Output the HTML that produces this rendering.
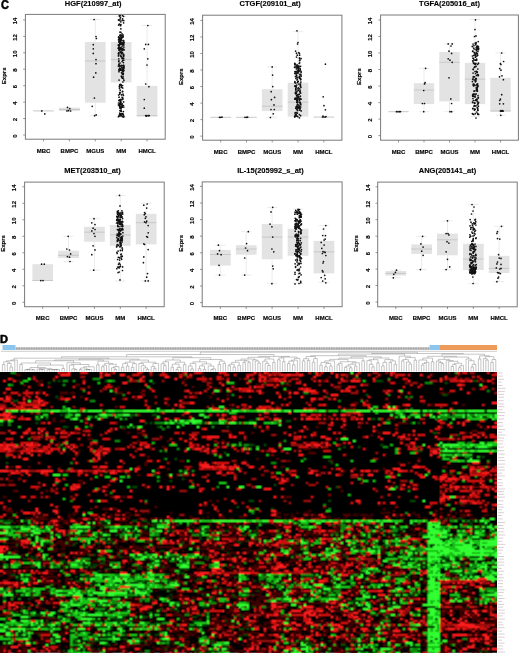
<!DOCTYPE html>
<html><head><meta charset="utf-8"><style>
html,body{margin:0;padding:0;background:#fff;}
body{width:520px;height:653px;position:relative;overflow:hidden;font-family:"Liberation Sans", sans-serif;}
svg text{font-family:"Liberation Sans", sans-serif;}
svg{will-change:transform;}
</style></head><body>
<svg width="520" height="653" viewBox="0 0 520 653" style="position:absolute;left:0;top:0">
<defs><filter id="hb" x="0" y="0" width="1" height="1"><feConvolveMatrix order="3" kernelMatrix="1 2 1 2 6 2 1 2 1" divisor="18" edgeMode="duplicate"/></filter></defs>
<line x1="33.2" y1="110.9" x2="53.9" y2="110.9" stroke="#c8c8c8" stroke-width="1"/>
<rect x="59.1" y="107.6" width="20.7" height="3.5" fill="#e3e3e3"/>
<line x1="59.1" y1="109.5" x2="79.8" y2="109.5" stroke="#c8c8c8" stroke-width="1"/>
<line x1="95.3" y1="19.5" x2="95.3" y2="42.0" stroke="#e6e6e6" stroke-width="0.8"/>
<line x1="90.1" y1="19.5" x2="100.5" y2="19.5" stroke="#e6e6e6" stroke-width="0.8"/>
<line x1="95.3" y1="102.7" x2="95.3" y2="115.7" stroke="#e6e6e6" stroke-width="0.8"/>
<line x1="90.1" y1="115.7" x2="100.5" y2="115.7" stroke="#e6e6e6" stroke-width="0.8"/>
<rect x="84.9" y="42.0" width="20.7" height="60.7" fill="#e3e3e3"/>
<line x1="84.9" y1="61.0" x2="105.7" y2="61.0" stroke="#c8c8c8" stroke-width="1"/>
<line x1="121.2" y1="16.5" x2="121.2" y2="42.0" stroke="#e6e6e6" stroke-width="0.8"/>
<line x1="116.0" y1="16.5" x2="126.4" y2="16.5" stroke="#e6e6e6" stroke-width="0.8"/>
<line x1="121.2" y1="82.4" x2="121.2" y2="117.0" stroke="#e6e6e6" stroke-width="0.8"/>
<line x1="116.0" y1="117.0" x2="126.4" y2="117.0" stroke="#e6e6e6" stroke-width="0.8"/>
<rect x="110.8" y="42.0" width="20.7" height="40.4" fill="#e3e3e3"/>
<line x1="110.8" y1="59.6" x2="131.5" y2="59.6" stroke="#c8c8c8" stroke-width="1"/>
<line x1="147.1" y1="25.5" x2="147.1" y2="85.9" stroke="#e6e6e6" stroke-width="0.8"/>
<line x1="141.9" y1="25.5" x2="152.3" y2="25.5" stroke="#e6e6e6" stroke-width="0.8"/>
<rect x="136.7" y="85.9" width="20.7" height="30.7" fill="#e3e3e3"/>
<line x1="136.7" y1="115.6" x2="157.4" y2="115.6" stroke="#c8c8c8" stroke-width="1"/>
<circle cx="41.8" cy="110.9" r="0.85" fill="#111"/>
<circle cx="44.8" cy="113.9" r="0.85" fill="#111"/>
<circle cx="67.5" cy="107.4" r="0.85" fill="#111"/>
<circle cx="69.8" cy="108.6" r="0.85" fill="#111"/>
<circle cx="68.6" cy="110.6" r="0.85" fill="#111"/>
<circle cx="70.6" cy="111.0" r="0.85" fill="#111"/>
<circle cx="67.0" cy="110.9" r="0.85" fill="#111"/>
<circle cx="94.1" cy="19.5" r="0.85" fill="#111"/>
<circle cx="96.0" cy="36.6" r="0.85" fill="#111"/>
<circle cx="96.4" cy="38.5" r="0.85" fill="#111"/>
<circle cx="93.3" cy="44.7" r="0.85" fill="#111"/>
<circle cx="93.3" cy="48.8" r="0.85" fill="#111"/>
<circle cx="93.3" cy="53.4" r="0.85" fill="#111"/>
<circle cx="96.0" cy="59.6" r="0.85" fill="#111"/>
<circle cx="96.0" cy="63.7" r="0.85" fill="#111"/>
<circle cx="95.8" cy="72.9" r="0.85" fill="#111"/>
<circle cx="93.6" cy="77.2" r="0.85" fill="#111"/>
<circle cx="94.4" cy="98.1" r="0.85" fill="#111"/>
<circle cx="92.2" cy="106.3" r="0.85" fill="#111"/>
<circle cx="94.6" cy="115.7" r="0.85" fill="#111"/>
<circle cx="96.2" cy="114.9" r="0.85" fill="#111"/>
<circle cx="147.8" cy="25.5" r="0.85" fill="#111"/>
<circle cx="145.7" cy="44.4" r="0.85" fill="#111"/>
<circle cx="148.4" cy="44.4" r="0.85" fill="#111"/>
<circle cx="144.3" cy="48.8" r="0.85" fill="#111"/>
<circle cx="147.8" cy="58.8" r="0.85" fill="#111"/>
<circle cx="147.0" cy="65.0" r="0.85" fill="#111"/>
<circle cx="145.7" cy="84.0" r="0.85" fill="#111"/>
<circle cx="148.9" cy="86.7" r="0.85" fill="#111"/>
<circle cx="144.3" cy="99.5" r="0.85" fill="#111"/>
<circle cx="144.3" cy="108.2" r="0.85" fill="#111"/>
<circle cx="145.7" cy="115.7" r="0.85" fill="#111"/>
<circle cx="147.0" cy="115.7" r="0.85" fill="#111"/>
<circle cx="148.4" cy="115.7" r="0.85" fill="#111"/>
<circle cx="146.3" cy="115.9" r="0.85" fill="#111"/>
<circle cx="149.2" cy="115.6" r="0.85" fill="#111"/>
<circle cx="122.0" cy="40.6" r="0.85" fill="#111"/>
<circle cx="120.4" cy="25.7" r="0.85" fill="#111"/>
<circle cx="118.6" cy="25.1" r="0.85" fill="#111"/>
<circle cx="118.9" cy="37.6" r="0.85" fill="#111"/>
<circle cx="119.1" cy="65.6" r="0.85" fill="#111"/>
<circle cx="123.7" cy="58.2" r="0.85" fill="#111"/>
<circle cx="123.9" cy="49.7" r="0.85" fill="#111"/>
<circle cx="120.0" cy="32.2" r="0.85" fill="#111"/>
<circle cx="120.1" cy="39.4" r="0.85" fill="#111"/>
<circle cx="121.7" cy="77.4" r="0.85" fill="#111"/>
<circle cx="121.5" cy="48.8" r="0.85" fill="#111"/>
<circle cx="119.6" cy="16.2" r="0.85" fill="#111"/>
<circle cx="120.2" cy="84.8" r="0.85" fill="#111"/>
<circle cx="120.1" cy="51.8" r="0.85" fill="#111"/>
<circle cx="119.8" cy="93.0" r="0.85" fill="#111"/>
<circle cx="123.3" cy="54.4" r="0.85" fill="#111"/>
<circle cx="123.9" cy="80.6" r="0.85" fill="#111"/>
<circle cx="122.6" cy="50.5" r="0.85" fill="#111"/>
<circle cx="118.6" cy="53.1" r="0.85" fill="#111"/>
<circle cx="121.6" cy="94.9" r="0.85" fill="#111"/>
<circle cx="122.3" cy="103.9" r="0.85" fill="#111"/>
<circle cx="121.0" cy="56.5" r="0.85" fill="#111"/>
<circle cx="121.1" cy="107.7" r="0.85" fill="#111"/>
<circle cx="122.3" cy="73.8" r="0.85" fill="#111"/>
<circle cx="123.0" cy="71.7" r="0.85" fill="#111"/>
<circle cx="122.1" cy="49.3" r="0.85" fill="#111"/>
<circle cx="119.3" cy="24.2" r="0.85" fill="#111"/>
<circle cx="122.7" cy="37.2" r="0.85" fill="#111"/>
<circle cx="120.6" cy="44.2" r="0.85" fill="#111"/>
<circle cx="120.9" cy="102.5" r="0.85" fill="#111"/>
<circle cx="123.0" cy="67.7" r="0.85" fill="#111"/>
<circle cx="120.7" cy="103.7" r="0.85" fill="#111"/>
<circle cx="123.8" cy="67.7" r="0.85" fill="#111"/>
<circle cx="119.7" cy="41.5" r="0.85" fill="#111"/>
<circle cx="121.7" cy="52.9" r="0.85" fill="#111"/>
<circle cx="120.7" cy="35.2" r="0.85" fill="#111"/>
<circle cx="123.7" cy="56.0" r="0.85" fill="#111"/>
<circle cx="121.9" cy="87.5" r="0.85" fill="#111"/>
<circle cx="123.4" cy="73.6" r="0.85" fill="#111"/>
<circle cx="122.9" cy="98.2" r="0.85" fill="#111"/>
<circle cx="119.0" cy="49.8" r="0.85" fill="#111"/>
<circle cx="118.8" cy="37.3" r="0.85" fill="#111"/>
<circle cx="120.3" cy="41.0" r="0.85" fill="#111"/>
<circle cx="119.2" cy="15.0" r="0.85" fill="#111"/>
<circle cx="118.5" cy="48.5" r="0.85" fill="#111"/>
<circle cx="119.2" cy="105.7" r="0.85" fill="#111"/>
<circle cx="120.4" cy="47.9" r="0.85" fill="#111"/>
<circle cx="124.0" cy="66.4" r="0.85" fill="#111"/>
<circle cx="118.9" cy="52.9" r="0.85" fill="#111"/>
<circle cx="119.9" cy="47.7" r="0.85" fill="#111"/>
<circle cx="118.5" cy="103.0" r="0.85" fill="#111"/>
<circle cx="119.2" cy="115.1" r="0.85" fill="#111"/>
<circle cx="121.4" cy="36.0" r="0.85" fill="#111"/>
<circle cx="122.3" cy="116.5" r="0.85" fill="#111"/>
<circle cx="119.3" cy="48.6" r="0.85" fill="#111"/>
<circle cx="122.8" cy="88.0" r="0.85" fill="#111"/>
<circle cx="122.9" cy="43.3" r="0.85" fill="#111"/>
<circle cx="122.9" cy="116.4" r="0.85" fill="#111"/>
<circle cx="119.7" cy="94.2" r="0.85" fill="#111"/>
<circle cx="118.6" cy="48.2" r="0.85" fill="#111"/>
<circle cx="119.9" cy="20.6" r="0.85" fill="#111"/>
<circle cx="120.9" cy="100.7" r="0.85" fill="#111"/>
<circle cx="123.7" cy="117.0" r="0.85" fill="#111"/>
<circle cx="119.7" cy="43.2" r="0.85" fill="#111"/>
<circle cx="121.9" cy="42.6" r="0.85" fill="#111"/>
<circle cx="121.1" cy="107.0" r="0.85" fill="#111"/>
<circle cx="118.9" cy="64.6" r="0.85" fill="#111"/>
<circle cx="122.8" cy="99.3" r="0.85" fill="#111"/>
<circle cx="119.4" cy="86.3" r="0.85" fill="#111"/>
<circle cx="122.9" cy="82.0" r="0.85" fill="#111"/>
<circle cx="120.6" cy="114.6" r="0.85" fill="#111"/>
<circle cx="119.4" cy="115.9" r="0.85" fill="#111"/>
<circle cx="123.5" cy="40.6" r="0.85" fill="#111"/>
<circle cx="123.0" cy="76.4" r="0.85" fill="#111"/>
<circle cx="120.4" cy="115.6" r="0.85" fill="#111"/>
<circle cx="118.5" cy="39.8" r="0.85" fill="#111"/>
<circle cx="121.3" cy="115.6" r="0.85" fill="#111"/>
<circle cx="123.3" cy="114.7" r="0.85" fill="#111"/>
<circle cx="119.8" cy="103.3" r="0.85" fill="#111"/>
<circle cx="121.7" cy="43.9" r="0.85" fill="#111"/>
<circle cx="119.1" cy="50.5" r="0.85" fill="#111"/>
<circle cx="121.0" cy="108.9" r="0.85" fill="#111"/>
<circle cx="120.8" cy="68.5" r="0.85" fill="#111"/>
<circle cx="121.4" cy="111.3" r="0.85" fill="#111"/>
<circle cx="120.9" cy="35.7" r="0.85" fill="#111"/>
<circle cx="122.9" cy="35.1" r="0.85" fill="#111"/>
<circle cx="122.5" cy="52.5" r="0.85" fill="#111"/>
<circle cx="121.3" cy="47.1" r="0.85" fill="#111"/>
<circle cx="119.0" cy="64.0" r="0.85" fill="#111"/>
<circle cx="120.0" cy="44.2" r="0.85" fill="#111"/>
<circle cx="121.5" cy="87.2" r="0.85" fill="#111"/>
<circle cx="120.9" cy="99.4" r="0.85" fill="#111"/>
<circle cx="121.3" cy="53.7" r="0.85" fill="#111"/>
<circle cx="121.4" cy="85.6" r="0.85" fill="#111"/>
<circle cx="122.3" cy="69.8" r="0.85" fill="#111"/>
<circle cx="119.9" cy="107.7" r="0.85" fill="#111"/>
<circle cx="123.1" cy="69.9" r="0.85" fill="#111"/>
<circle cx="120.9" cy="39.5" r="0.85" fill="#111"/>
<circle cx="118.8" cy="19.8" r="0.85" fill="#111"/>
<circle cx="123.4" cy="95.5" r="0.85" fill="#111"/>
<circle cx="122.1" cy="61.5" r="0.85" fill="#111"/>
<circle cx="123.8" cy="67.7" r="0.85" fill="#111"/>
<circle cx="120.6" cy="70.2" r="0.85" fill="#111"/>
<circle cx="123.1" cy="71.6" r="0.85" fill="#111"/>
<circle cx="121.3" cy="51.0" r="0.85" fill="#111"/>
<circle cx="120.2" cy="42.2" r="0.85" fill="#111"/>
<circle cx="121.5" cy="72.6" r="0.85" fill="#111"/>
<circle cx="120.3" cy="35.7" r="0.85" fill="#111"/>
<circle cx="118.8" cy="54.0" r="0.85" fill="#111"/>
<circle cx="123.8" cy="116.2" r="0.85" fill="#111"/>
<circle cx="118.6" cy="44.8" r="0.85" fill="#111"/>
<circle cx="119.1" cy="80.1" r="0.85" fill="#111"/>
<circle cx="123.0" cy="68.7" r="0.85" fill="#111"/>
<circle cx="123.5" cy="40.5" r="0.85" fill="#111"/>
<circle cx="118.9" cy="60.9" r="0.85" fill="#111"/>
<circle cx="120.8" cy="28.8" r="0.85" fill="#111"/>
<circle cx="122.0" cy="33.8" r="0.85" fill="#111"/>
<circle cx="123.2" cy="74.5" r="0.85" fill="#111"/>
<circle cx="120.9" cy="32.3" r="0.85" fill="#111"/>
<circle cx="123.6" cy="55.5" r="0.85" fill="#111"/>
<circle cx="121.4" cy="39.8" r="0.85" fill="#111"/>
<circle cx="119.3" cy="39.0" r="0.85" fill="#111"/>
<circle cx="120.1" cy="19.0" r="0.85" fill="#111"/>
<circle cx="120.0" cy="63.1" r="0.85" fill="#111"/>
<circle cx="120.3" cy="41.6" r="0.85" fill="#111"/>
<circle cx="118.5" cy="20.0" r="0.85" fill="#111"/>
<circle cx="119.5" cy="88.5" r="0.85" fill="#111"/>
<circle cx="119.0" cy="69.6" r="0.85" fill="#111"/>
<circle cx="121.2" cy="85.0" r="0.85" fill="#111"/>
<circle cx="121.2" cy="104.4" r="0.85" fill="#111"/>
<circle cx="120.3" cy="101.5" r="0.85" fill="#111"/>
<circle cx="122.0" cy="106.2" r="0.85" fill="#111"/>
<circle cx="118.7" cy="47.9" r="0.85" fill="#111"/>
<circle cx="122.5" cy="37.6" r="0.85" fill="#111"/>
<circle cx="118.9" cy="41.0" r="0.85" fill="#111"/>
<circle cx="122.2" cy="107.2" r="0.85" fill="#111"/>
<circle cx="120.0" cy="44.0" r="0.85" fill="#111"/>
<circle cx="120.9" cy="40.8" r="0.85" fill="#111"/>
<circle cx="123.8" cy="70.6" r="0.85" fill="#111"/>
<circle cx="123.8" cy="44.0" r="0.85" fill="#111"/>
<circle cx="118.4" cy="48.2" r="0.85" fill="#111"/>
<circle cx="121.2" cy="52.6" r="0.85" fill="#111"/>
<circle cx="118.4" cy="53.7" r="0.85" fill="#111"/>
<circle cx="120.6" cy="38.3" r="0.85" fill="#111"/>
<circle cx="120.1" cy="15.4" r="0.85" fill="#111"/>
<circle cx="121.4" cy="56.7" r="0.85" fill="#111"/>
<circle cx="122.4" cy="91.7" r="0.85" fill="#111"/>
<circle cx="120.2" cy="104.3" r="0.85" fill="#111"/>
<circle cx="122.5" cy="113.6" r="0.85" fill="#111"/>
<circle cx="123.1" cy="36.6" r="0.85" fill="#111"/>
<circle cx="122.5" cy="105.8" r="0.85" fill="#111"/>
<circle cx="121.3" cy="76.2" r="0.85" fill="#111"/>
<circle cx="122.9" cy="65.9" r="0.85" fill="#111"/>
<circle cx="123.4" cy="105.5" r="0.85" fill="#111"/>
<circle cx="119.7" cy="92.8" r="0.85" fill="#111"/>
<circle cx="120.4" cy="17.7" r="0.85" fill="#111"/>
<circle cx="121.5" cy="65.9" r="0.85" fill="#111"/>
<circle cx="122.2" cy="58.2" r="0.85" fill="#111"/>
<circle cx="122.9" cy="35.1" r="0.85" fill="#111"/>
<circle cx="121.4" cy="87.1" r="0.85" fill="#111"/>
<circle cx="122.5" cy="74.0" r="0.85" fill="#111"/>
<circle cx="119.9" cy="37.8" r="0.85" fill="#111"/>
<circle cx="122.5" cy="78.2" r="0.85" fill="#111"/>
<circle cx="120.5" cy="115.0" r="0.85" fill="#111"/>
<circle cx="122.7" cy="60.3" r="0.85" fill="#111"/>
<circle cx="118.8" cy="58.8" r="0.85" fill="#111"/>
<circle cx="122.6" cy="44.4" r="0.85" fill="#111"/>
<circle cx="118.5" cy="56.0" r="0.85" fill="#111"/>
<circle cx="122.2" cy="20.4" r="0.85" fill="#111"/>
<circle cx="120.0" cy="92.3" r="0.85" fill="#111"/>
<circle cx="121.0" cy="52.2" r="0.85" fill="#111"/>
<circle cx="119.5" cy="68.1" r="0.85" fill="#111"/>
<circle cx="118.5" cy="116.7" r="0.85" fill="#111"/>
<circle cx="123.8" cy="65.3" r="0.85" fill="#111"/>
<circle cx="119.6" cy="44.9" r="0.85" fill="#111"/>
<circle cx="121.7" cy="113.8" r="0.85" fill="#111"/>
<circle cx="123.7" cy="54.4" r="0.85" fill="#111"/>
<circle cx="121.2" cy="65.3" r="0.85" fill="#111"/>
<circle cx="119.7" cy="106.2" r="0.85" fill="#111"/>
<circle cx="118.5" cy="104.9" r="0.85" fill="#111"/>
<circle cx="120.9" cy="24.8" r="0.85" fill="#111"/>
<circle cx="120.3" cy="40.2" r="0.85" fill="#111"/>
<circle cx="118.4" cy="66.1" r="0.85" fill="#111"/>
<circle cx="119.1" cy="97.2" r="0.85" fill="#111"/>
<circle cx="123.4" cy="111.6" r="0.85" fill="#111"/>
<circle cx="120.6" cy="48.8" r="0.85" fill="#111"/>
<circle cx="120.4" cy="115.4" r="0.85" fill="#111"/>
<circle cx="118.7" cy="45.2" r="0.85" fill="#111"/>
<circle cx="120.0" cy="65.9" r="0.85" fill="#111"/>
<circle cx="119.9" cy="114.0" r="0.85" fill="#111"/>
<circle cx="120.5" cy="42.0" r="0.85" fill="#111"/>
<circle cx="122.9" cy="116.5" r="0.85" fill="#111"/>
<circle cx="123.7" cy="68.8" r="0.85" fill="#111"/>
<circle cx="118.7" cy="61.6" r="0.85" fill="#111"/>
<circle cx="122.6" cy="85.5" r="0.85" fill="#111"/>
<circle cx="118.7" cy="45.6" r="0.85" fill="#111"/>
<circle cx="121.0" cy="110.7" r="0.85" fill="#111"/>
<circle cx="122.5" cy="46.0" r="0.85" fill="#111"/>
<circle cx="122.1" cy="114.0" r="0.85" fill="#111"/>
<circle cx="120.6" cy="55.6" r="0.85" fill="#111"/>
<circle cx="119.6" cy="41.0" r="0.85" fill="#111"/>
<circle cx="119.6" cy="105.0" r="0.85" fill="#111"/>
<circle cx="120.9" cy="108.0" r="0.85" fill="#111"/>
<circle cx="118.9" cy="42.1" r="0.85" fill="#111"/>
<circle cx="119.7" cy="38.4" r="0.85" fill="#111"/>
<circle cx="123.4" cy="56.1" r="0.85" fill="#111"/>
<circle cx="120.7" cy="84.4" r="0.85" fill="#111"/>
<circle cx="120.3" cy="48.9" r="0.85" fill="#111"/>
<circle cx="123.8" cy="20.6" r="0.85" fill="#111"/>
<circle cx="121.9" cy="53.6" r="0.85" fill="#111"/>
<circle cx="119.9" cy="103.3" r="0.85" fill="#111"/>
<circle cx="120.9" cy="49.8" r="0.85" fill="#111"/>
<circle cx="123.3" cy="116.4" r="0.85" fill="#111"/>
<circle cx="122.4" cy="15.6" r="0.85" fill="#111"/>
<circle cx="121.7" cy="104.8" r="0.85" fill="#111"/>
<circle cx="123.6" cy="22.8" r="0.85" fill="#111"/>
<circle cx="123.8" cy="107.1" r="0.85" fill="#111"/>
<circle cx="119.3" cy="39.0" r="0.85" fill="#111"/>
<circle cx="123.7" cy="60.2" r="0.85" fill="#111"/>
<circle cx="122.7" cy="91.4" r="0.85" fill="#111"/>
<circle cx="118.6" cy="55.4" r="0.85" fill="#111"/>
<circle cx="123.6" cy="79.0" r="0.85" fill="#111"/>
<circle cx="119.1" cy="46.2" r="0.85" fill="#111"/>
<circle cx="122.3" cy="58.5" r="0.85" fill="#111"/>
<circle cx="121.3" cy="37.6" r="0.85" fill="#111"/>
<circle cx="119.7" cy="49.4" r="0.85" fill="#111"/>
<circle cx="120.1" cy="35.4" r="0.85" fill="#111"/>
<circle cx="122.0" cy="70.5" r="0.85" fill="#111"/>
<circle cx="119.7" cy="104.9" r="0.85" fill="#111"/>
<circle cx="122.3" cy="70.5" r="0.85" fill="#111"/>
<circle cx="121.2" cy="35.8" r="0.85" fill="#111"/>
<circle cx="119.8" cy="84.6" r="0.85" fill="#111"/>
<circle cx="119.7" cy="99.8" r="0.85" fill="#111"/>
<circle cx="120.8" cy="21.8" r="0.85" fill="#111"/>
<circle cx="122.9" cy="77.9" r="0.85" fill="#111"/>
<circle cx="119.5" cy="87.1" r="0.85" fill="#111"/>
<circle cx="123.0" cy="114.2" r="0.85" fill="#111"/>
<circle cx="122.7" cy="43.2" r="0.85" fill="#111"/>
<circle cx="121.2" cy="70.2" r="0.85" fill="#111"/>
<circle cx="120.7" cy="43.3" r="0.85" fill="#111"/>
<circle cx="119.2" cy="100.5" r="0.85" fill="#111"/>
<circle cx="123.9" cy="42.9" r="0.85" fill="#111"/>
<circle cx="118.7" cy="36.9" r="0.85" fill="#111"/>
<circle cx="123.3" cy="68.2" r="0.85" fill="#111"/>
<circle cx="123.6" cy="101.9" r="0.85" fill="#111"/>
<circle cx="123.6" cy="41.9" r="0.85" fill="#111"/>
<circle cx="122.1" cy="73.0" r="0.85" fill="#111"/>
<circle cx="120.3" cy="48.8" r="0.85" fill="#111"/>
<circle cx="120.0" cy="35.1" r="0.85" fill="#111"/>
<circle cx="119.1" cy="70.4" r="0.85" fill="#111"/>
<circle cx="120.4" cy="113.8" r="0.85" fill="#111"/>
<circle cx="120.8" cy="106.9" r="0.85" fill="#111"/>
<circle cx="120.5" cy="24.5" r="0.85" fill="#111"/>
<circle cx="120.4" cy="110.8" r="0.85" fill="#111"/>
<circle cx="120.7" cy="102.2" r="0.85" fill="#111"/>
<circle cx="118.6" cy="95.0" r="0.85" fill="#111"/>
<circle cx="123.6" cy="16.3" r="0.85" fill="#111"/>
<circle cx="123.4" cy="62.6" r="0.85" fill="#111"/>
<circle cx="123.8" cy="45.1" r="0.85" fill="#111"/>
<circle cx="122.4" cy="44.7" r="0.85" fill="#111"/>
<circle cx="118.4" cy="45.2" r="0.85" fill="#111"/>
<circle cx="122.0" cy="99.5" r="0.85" fill="#111"/>
<circle cx="119.7" cy="113.1" r="0.85" fill="#111"/>
<circle cx="123.7" cy="70.4" r="0.85" fill="#111"/>
<circle cx="120.8" cy="44.3" r="0.85" fill="#111"/>
<circle cx="119.4" cy="69.3" r="0.85" fill="#111"/>
<circle cx="123.0" cy="94.2" r="0.85" fill="#111"/>
<circle cx="120.2" cy="90.2" r="0.85" fill="#111"/>
<circle cx="122.8" cy="48.4" r="0.85" fill="#111"/>
<circle cx="122.6" cy="18.9" r="0.85" fill="#111"/>
<circle cx="118.6" cy="37.4" r="0.85" fill="#111"/>
<circle cx="123.9" cy="47.1" r="0.85" fill="#111"/>
<circle cx="119.9" cy="107.9" r="0.85" fill="#111"/>
<circle cx="121.2" cy="38.6" r="0.85" fill="#111"/>
<circle cx="119.7" cy="85.4" r="0.85" fill="#111"/>
<circle cx="122.2" cy="58.0" r="0.85" fill="#111"/>
<circle cx="122.1" cy="97.4" r="0.85" fill="#111"/>
<circle cx="120.0" cy="66.1" r="0.85" fill="#111"/>
<circle cx="122.5" cy="48.8" r="0.85" fill="#111"/>
<circle cx="119.8" cy="44.2" r="0.85" fill="#111"/>
<circle cx="121.6" cy="67.7" r="0.85" fill="#111"/>
<circle cx="124.0" cy="49.7" r="0.85" fill="#111"/>
<circle cx="122.9" cy="43.6" r="0.85" fill="#111"/>
<circle cx="119.0" cy="71.7" r="0.85" fill="#111"/>
<circle cx="123.1" cy="65.3" r="0.85" fill="#111"/>
<circle cx="120.0" cy="110.6" r="0.85" fill="#111"/>
<circle cx="123.8" cy="42.0" r="0.85" fill="#111"/>
<circle cx="120.5" cy="69.4" r="0.85" fill="#111"/>
<circle cx="119.9" cy="104.7" r="0.85" fill="#111"/>
<circle cx="119.0" cy="100.4" r="0.85" fill="#111"/>
<rect x="25.4" y="14.4" width="139.8" height="124.8" fill="none" stroke="#7a7a7a" stroke-width="1"/>
<line x1="23.2" y1="135.0" x2="25.4" y2="135.0" stroke="#7a7a7a" stroke-width="0.8"/>
<text x="0" y="0" transform="translate(17.2 136.0) rotate(-90)" font-size="6" font-weight="bold" text-anchor="middle" fill="#000" stroke="#000" stroke-width="0.15">0</text>
<line x1="23.2" y1="118.6" x2="25.4" y2="118.6" stroke="#7a7a7a" stroke-width="0.8"/>
<text x="0" y="0" transform="translate(17.2 119.6) rotate(-90)" font-size="6" font-weight="bold" text-anchor="middle" fill="#000" stroke="#000" stroke-width="0.15">2</text>
<line x1="23.2" y1="102.1" x2="25.4" y2="102.1" stroke="#7a7a7a" stroke-width="0.8"/>
<text x="0" y="0" transform="translate(17.2 103.1) rotate(-90)" font-size="6" font-weight="bold" text-anchor="middle" fill="#000" stroke="#000" stroke-width="0.15">4</text>
<line x1="23.2" y1="85.7" x2="25.4" y2="85.7" stroke="#7a7a7a" stroke-width="0.8"/>
<text x="0" y="0" transform="translate(17.2 86.7) rotate(-90)" font-size="6" font-weight="bold" text-anchor="middle" fill="#000" stroke="#000" stroke-width="0.15">6</text>
<line x1="23.2" y1="69.2" x2="25.4" y2="69.2" stroke="#7a7a7a" stroke-width="0.8"/>
<text x="0" y="0" transform="translate(17.2 70.2) rotate(-90)" font-size="6" font-weight="bold" text-anchor="middle" fill="#000" stroke="#000" stroke-width="0.15">8</text>
<line x1="23.2" y1="52.8" x2="25.4" y2="52.8" stroke="#7a7a7a" stroke-width="0.8"/>
<text x="0" y="0" transform="translate(17.2 53.8) rotate(-90)" font-size="6" font-weight="bold" text-anchor="middle" fill="#000" stroke="#000" stroke-width="0.15">10</text>
<line x1="23.2" y1="36.4" x2="25.4" y2="36.4" stroke="#7a7a7a" stroke-width="0.8"/>
<text x="0" y="0" transform="translate(17.2 37.4) rotate(-90)" font-size="6" font-weight="bold" text-anchor="middle" fill="#000" stroke="#000" stroke-width="0.15">12</text>
<line x1="23.2" y1="19.9" x2="25.4" y2="19.9" stroke="#7a7a7a" stroke-width="0.8"/>
<text x="0" y="0" transform="translate(17.2 20.9) rotate(-90)" font-size="6" font-weight="bold" text-anchor="middle" fill="#000" stroke="#000" stroke-width="0.15">14</text>
<text x="0" y="0" transform="translate(5.9 75.8) rotate(-90)" font-size="6" font-weight="bold" text-anchor="middle" fill="#000" stroke="#000" stroke-width="0.15">Exprs</text>
<line x1="43.5" y1="139.2" x2="43.5" y2="141.4" stroke="#7a7a7a" stroke-width="0.8"/>
<text x="43.5" y="152.5" font-size="6" font-weight="bold" text-anchor="middle" fill="#000" stroke="#000" stroke-width="0.15">MBC</text>
<line x1="69.4" y1="139.2" x2="69.4" y2="141.4" stroke="#7a7a7a" stroke-width="0.8"/>
<text x="69.4" y="152.5" font-size="6" font-weight="bold" text-anchor="middle" fill="#000" stroke="#000" stroke-width="0.15">BMPC</text>
<line x1="95.3" y1="139.2" x2="95.3" y2="141.4" stroke="#7a7a7a" stroke-width="0.8"/>
<text x="95.3" y="152.5" font-size="6" font-weight="bold" text-anchor="middle" fill="#000" stroke="#000" stroke-width="0.15">MGUS</text>
<line x1="121.2" y1="139.2" x2="121.2" y2="141.4" stroke="#7a7a7a" stroke-width="0.8"/>
<text x="121.2" y="152.5" font-size="6" font-weight="bold" text-anchor="middle" fill="#000" stroke="#000" stroke-width="0.15">MM</text>
<line x1="147.1" y1="139.2" x2="147.1" y2="141.4" stroke="#7a7a7a" stroke-width="0.8"/>
<text x="147.1" y="152.5" font-size="6" font-weight="bold" text-anchor="middle" fill="#000" stroke="#000" stroke-width="0.15">HMCL</text>
<text x="93.2" y="6.0" font-size="7.5" font-weight="bold" text-anchor="middle" fill="#000" stroke="#000" stroke-width="0.12">HGF(210997_at)</text>
<line x1="210.3" y1="117.3" x2="231.0" y2="117.3" stroke="#c8c8c8" stroke-width="1"/>
<line x1="236.1" y1="117.3" x2="256.8" y2="117.3" stroke="#c8c8c8" stroke-width="1"/>
<line x1="272.2" y1="66.9" x2="272.2" y2="89.2" stroke="#e6e6e6" stroke-width="0.8"/>
<line x1="267.1" y1="66.9" x2="277.4" y2="66.9" stroke="#e6e6e6" stroke-width="0.8"/>
<line x1="272.2" y1="111.1" x2="272.2" y2="117.1" stroke="#e6e6e6" stroke-width="0.8"/>
<line x1="267.1" y1="117.1" x2="277.4" y2="117.1" stroke="#e6e6e6" stroke-width="0.8"/>
<rect x="261.9" y="89.2" width="20.6" height="21.9" fill="#e3e3e3"/>
<line x1="261.9" y1="106.3" x2="282.6" y2="106.3" stroke="#c8c8c8" stroke-width="1"/>
<line x1="298.0" y1="31.7" x2="298.0" y2="82.7" stroke="#e6e6e6" stroke-width="0.8"/>
<line x1="292.9" y1="31.7" x2="303.2" y2="31.7" stroke="#e6e6e6" stroke-width="0.8"/>
<rect x="287.7" y="82.7" width="20.6" height="33.9" fill="#e3e3e3"/>
<line x1="287.7" y1="102.2" x2="308.4" y2="102.2" stroke="#c8c8c8" stroke-width="1"/>
<line x1="313.5" y1="117.1" x2="334.2" y2="117.1" stroke="#c8c8c8" stroke-width="1"/>
<circle cx="219.5" cy="117.3" r="0.85" fill="#111"/>
<circle cx="220.8" cy="117.3" r="0.85" fill="#111"/>
<circle cx="222.0" cy="117.2" r="0.85" fill="#111"/>
<circle cx="245.0" cy="117.3" r="0.85" fill="#111"/>
<circle cx="246.5" cy="117.3" r="0.85" fill="#111"/>
<circle cx="247.6" cy="117.2" r="0.85" fill="#111"/>
<circle cx="272.2" cy="66.9" r="0.85" fill="#111"/>
<circle cx="272.6" cy="75.1" r="0.85" fill="#111"/>
<circle cx="272.7" cy="86.6" r="0.85" fill="#111"/>
<circle cx="271.2" cy="91.7" r="0.85" fill="#111"/>
<circle cx="274.6" cy="97.4" r="0.85" fill="#111"/>
<circle cx="271.4" cy="99.7" r="0.85" fill="#111"/>
<circle cx="274.0" cy="104.9" r="0.85" fill="#111"/>
<circle cx="271.0" cy="109.5" r="0.85" fill="#111"/>
<circle cx="274.3" cy="109.5" r="0.85" fill="#111"/>
<circle cx="273.3" cy="113.8" r="0.85" fill="#111"/>
<circle cx="270.4" cy="117.5" r="0.85" fill="#111"/>
<circle cx="297.0" cy="30.8" r="0.85" fill="#111"/>
<circle cx="298.0" cy="42.5" r="0.85" fill="#111"/>
<circle cx="297.5" cy="44.0" r="0.85" fill="#111"/>
<circle cx="325.4" cy="64.2" r="0.85" fill="#111"/>
<circle cx="323.2" cy="96.8" r="0.85" fill="#111"/>
<circle cx="324.0" cy="105.7" r="0.85" fill="#111"/>
<circle cx="325.4" cy="109.8" r="0.85" fill="#111"/>
<circle cx="322.5" cy="117.0" r="0.85" fill="#111"/>
<circle cx="324.0" cy="117.0" r="0.85" fill="#111"/>
<circle cx="325.4" cy="117.0" r="0.85" fill="#111"/>
<circle cx="323.0" cy="116.2" r="0.85" fill="#111"/>
<circle cx="326.0" cy="116.5" r="0.85" fill="#111"/>
<circle cx="296.0" cy="98.2" r="0.85" fill="#111"/>
<circle cx="295.9" cy="73.4" r="0.85" fill="#111"/>
<circle cx="298.9" cy="97.2" r="0.85" fill="#111"/>
<circle cx="296.8" cy="66.6" r="0.85" fill="#111"/>
<circle cx="296.7" cy="75.6" r="0.85" fill="#111"/>
<circle cx="298.2" cy="107.4" r="0.85" fill="#111"/>
<circle cx="297.2" cy="55.2" r="0.85" fill="#111"/>
<circle cx="295.2" cy="99.2" r="0.85" fill="#111"/>
<circle cx="297.3" cy="102.2" r="0.85" fill="#111"/>
<circle cx="300.9" cy="82.0" r="0.85" fill="#111"/>
<circle cx="297.0" cy="95.5" r="0.85" fill="#111"/>
<circle cx="301.2" cy="110.9" r="0.85" fill="#111"/>
<circle cx="299.4" cy="76.3" r="0.85" fill="#111"/>
<circle cx="300.6" cy="66.3" r="0.85" fill="#111"/>
<circle cx="297.3" cy="108.7" r="0.85" fill="#111"/>
<circle cx="295.7" cy="90.0" r="0.85" fill="#111"/>
<circle cx="298.8" cy="52.7" r="0.85" fill="#111"/>
<circle cx="298.7" cy="70.6" r="0.85" fill="#111"/>
<circle cx="295.6" cy="92.2" r="0.85" fill="#111"/>
<circle cx="300.7" cy="93.1" r="0.85" fill="#111"/>
<circle cx="299.9" cy="59.9" r="0.85" fill="#111"/>
<circle cx="295.4" cy="76.3" r="0.85" fill="#111"/>
<circle cx="297.8" cy="116.7" r="0.85" fill="#111"/>
<circle cx="297.2" cy="65.1" r="0.85" fill="#111"/>
<circle cx="300.0" cy="98.3" r="0.85" fill="#111"/>
<circle cx="296.1" cy="106.9" r="0.85" fill="#111"/>
<circle cx="300.1" cy="110.0" r="0.85" fill="#111"/>
<circle cx="297.2" cy="77.3" r="0.85" fill="#111"/>
<circle cx="295.4" cy="85.9" r="0.85" fill="#111"/>
<circle cx="300.5" cy="103.7" r="0.85" fill="#111"/>
<circle cx="299.6" cy="60.7" r="0.85" fill="#111"/>
<circle cx="295.4" cy="64.1" r="0.85" fill="#111"/>
<circle cx="298.7" cy="94.6" r="0.85" fill="#111"/>
<circle cx="298.4" cy="87.8" r="0.85" fill="#111"/>
<circle cx="297.5" cy="100.3" r="0.85" fill="#111"/>
<circle cx="298.7" cy="67.2" r="0.85" fill="#111"/>
<circle cx="299.6" cy="78.2" r="0.85" fill="#111"/>
<circle cx="295.8" cy="89.8" r="0.85" fill="#111"/>
<circle cx="295.4" cy="71.6" r="0.85" fill="#111"/>
<circle cx="297.5" cy="70.8" r="0.85" fill="#111"/>
<circle cx="298.8" cy="68.1" r="0.85" fill="#111"/>
<circle cx="299.7" cy="62.8" r="0.85" fill="#111"/>
<circle cx="297.9" cy="68.8" r="0.85" fill="#111"/>
<circle cx="295.5" cy="115.4" r="0.85" fill="#111"/>
<circle cx="299.4" cy="117.8" r="0.85" fill="#111"/>
<circle cx="301.1" cy="76.1" r="0.85" fill="#111"/>
<circle cx="300.6" cy="115.7" r="0.85" fill="#111"/>
<circle cx="300.7" cy="107.0" r="0.85" fill="#111"/>
<circle cx="299.6" cy="58.2" r="0.85" fill="#111"/>
<circle cx="296.4" cy="112.6" r="0.85" fill="#111"/>
<circle cx="297.9" cy="73.5" r="0.85" fill="#111"/>
<circle cx="296.3" cy="76.8" r="0.85" fill="#111"/>
<circle cx="294.8" cy="82.6" r="0.85" fill="#111"/>
<circle cx="300.8" cy="74.4" r="0.85" fill="#111"/>
<circle cx="295.7" cy="112.6" r="0.85" fill="#111"/>
<circle cx="298.1" cy="72.0" r="0.85" fill="#111"/>
<circle cx="300.4" cy="84.7" r="0.85" fill="#111"/>
<circle cx="300.4" cy="96.2" r="0.85" fill="#111"/>
<circle cx="298.8" cy="65.9" r="0.85" fill="#111"/>
<circle cx="296.3" cy="107.5" r="0.85" fill="#111"/>
<circle cx="297.0" cy="96.0" r="0.85" fill="#111"/>
<circle cx="295.8" cy="89.0" r="0.85" fill="#111"/>
<circle cx="300.0" cy="68.5" r="0.85" fill="#111"/>
<circle cx="301.1" cy="99.2" r="0.85" fill="#111"/>
<circle cx="296.7" cy="100.5" r="0.85" fill="#111"/>
<circle cx="295.6" cy="51.1" r="0.85" fill="#111"/>
<circle cx="298.0" cy="88.5" r="0.85" fill="#111"/>
<circle cx="296.1" cy="72.9" r="0.85" fill="#111"/>
<circle cx="294.6" cy="67.2" r="0.85" fill="#111"/>
<circle cx="297.0" cy="71.5" r="0.85" fill="#111"/>
<circle cx="298.5" cy="96.3" r="0.85" fill="#111"/>
<circle cx="297.7" cy="98.4" r="0.85" fill="#111"/>
<circle cx="296.2" cy="114.7" r="0.85" fill="#111"/>
<circle cx="298.8" cy="71.0" r="0.85" fill="#111"/>
<circle cx="297.3" cy="106.7" r="0.85" fill="#111"/>
<circle cx="298.9" cy="66.6" r="0.85" fill="#111"/>
<circle cx="298.9" cy="84.2" r="0.85" fill="#111"/>
<circle cx="299.4" cy="114.7" r="0.85" fill="#111"/>
<circle cx="294.9" cy="113.0" r="0.85" fill="#111"/>
<circle cx="296.2" cy="87.1" r="0.85" fill="#111"/>
<circle cx="294.7" cy="63.3" r="0.85" fill="#111"/>
<circle cx="295.5" cy="114.9" r="0.85" fill="#111"/>
<circle cx="297.9" cy="97.6" r="0.85" fill="#111"/>
<circle cx="295.8" cy="108.3" r="0.85" fill="#111"/>
<circle cx="294.9" cy="81.6" r="0.85" fill="#111"/>
<circle cx="299.3" cy="106.7" r="0.85" fill="#111"/>
<circle cx="299.5" cy="53.5" r="0.85" fill="#111"/>
<circle cx="297.6" cy="104.6" r="0.85" fill="#111"/>
<circle cx="296.1" cy="71.5" r="0.85" fill="#111"/>
<circle cx="299.5" cy="58.0" r="0.85" fill="#111"/>
<circle cx="299.3" cy="110.0" r="0.85" fill="#111"/>
<circle cx="297.5" cy="94.8" r="0.85" fill="#111"/>
<circle cx="296.4" cy="93.2" r="0.85" fill="#111"/>
<circle cx="296.0" cy="116.2" r="0.85" fill="#111"/>
<circle cx="296.3" cy="66.8" r="0.85" fill="#111"/>
<circle cx="300.8" cy="104.7" r="0.85" fill="#111"/>
<circle cx="300.4" cy="83.0" r="0.85" fill="#111"/>
<circle cx="300.6" cy="78.4" r="0.85" fill="#111"/>
<circle cx="299.0" cy="102.0" r="0.85" fill="#111"/>
<circle cx="300.1" cy="90.4" r="0.85" fill="#111"/>
<circle cx="297.5" cy="110.6" r="0.85" fill="#111"/>
<circle cx="296.6" cy="95.7" r="0.85" fill="#111"/>
<circle cx="295.1" cy="98.4" r="0.85" fill="#111"/>
<circle cx="294.8" cy="73.5" r="0.85" fill="#111"/>
<circle cx="296.9" cy="65.1" r="0.85" fill="#111"/>
<circle cx="294.9" cy="67.5" r="0.85" fill="#111"/>
<circle cx="299.2" cy="99.0" r="0.85" fill="#111"/>
<circle cx="298.5" cy="69.4" r="0.85" fill="#111"/>
<circle cx="300.0" cy="108.5" r="0.85" fill="#111"/>
<circle cx="300.3" cy="69.4" r="0.85" fill="#111"/>
<circle cx="295.3" cy="115.1" r="0.85" fill="#111"/>
<circle cx="294.8" cy="71.8" r="0.85" fill="#111"/>
<circle cx="298.8" cy="108.2" r="0.85" fill="#111"/>
<circle cx="296.5" cy="98.8" r="0.85" fill="#111"/>
<circle cx="299.6" cy="55.2" r="0.85" fill="#111"/>
<circle cx="297.4" cy="82.6" r="0.85" fill="#111"/>
<circle cx="296.5" cy="57.1" r="0.85" fill="#111"/>
<circle cx="296.7" cy="85.1" r="0.85" fill="#111"/>
<circle cx="300.2" cy="92.2" r="0.85" fill="#111"/>
<circle cx="297.3" cy="67.6" r="0.85" fill="#111"/>
<circle cx="296.9" cy="106.2" r="0.85" fill="#111"/>
<circle cx="296.0" cy="94.0" r="0.85" fill="#111"/>
<circle cx="300.0" cy="70.7" r="0.85" fill="#111"/>
<circle cx="295.9" cy="66.1" r="0.85" fill="#111"/>
<circle cx="294.6" cy="116.8" r="0.85" fill="#111"/>
<circle cx="299.9" cy="91.6" r="0.85" fill="#111"/>
<circle cx="296.9" cy="91.7" r="0.85" fill="#111"/>
<circle cx="300.8" cy="79.5" r="0.85" fill="#111"/>
<circle cx="299.2" cy="77.2" r="0.85" fill="#111"/>
<circle cx="298.8" cy="71.7" r="0.85" fill="#111"/>
<circle cx="299.2" cy="63.5" r="0.85" fill="#111"/>
<circle cx="296.9" cy="98.7" r="0.85" fill="#111"/>
<circle cx="300.5" cy="86.5" r="0.85" fill="#111"/>
<circle cx="294.8" cy="64.7" r="0.85" fill="#111"/>
<circle cx="300.5" cy="79.7" r="0.85" fill="#111"/>
<circle cx="300.4" cy="85.7" r="0.85" fill="#111"/>
<circle cx="298.1" cy="90.0" r="0.85" fill="#111"/>
<circle cx="298.9" cy="105.2" r="0.85" fill="#111"/>
<circle cx="295.6" cy="83.0" r="0.85" fill="#111"/>
<circle cx="299.5" cy="100.4" r="0.85" fill="#111"/>
<circle cx="299.7" cy="88.8" r="0.85" fill="#111"/>
<circle cx="297.6" cy="72.6" r="0.85" fill="#111"/>
<circle cx="295.9" cy="78.4" r="0.85" fill="#111"/>
<circle cx="300.2" cy="102.6" r="0.85" fill="#111"/>
<circle cx="296.2" cy="74.1" r="0.85" fill="#111"/>
<circle cx="295.7" cy="93.2" r="0.85" fill="#111"/>
<circle cx="301.0" cy="75.8" r="0.85" fill="#111"/>
<circle cx="301.0" cy="71.3" r="0.85" fill="#111"/>
<circle cx="301.1" cy="58.6" r="0.85" fill="#111"/>
<circle cx="297.5" cy="104.1" r="0.85" fill="#111"/>
<circle cx="295.3" cy="99.2" r="0.85" fill="#111"/>
<circle cx="294.8" cy="86.2" r="0.85" fill="#111"/>
<circle cx="299.2" cy="107.1" r="0.85" fill="#111"/>
<circle cx="297.7" cy="98.9" r="0.85" fill="#111"/>
<circle cx="297.3" cy="97.4" r="0.85" fill="#111"/>
<circle cx="297.4" cy="113.2" r="0.85" fill="#111"/>
<circle cx="297.4" cy="105.0" r="0.85" fill="#111"/>
<circle cx="300.4" cy="103.6" r="0.85" fill="#111"/>
<circle cx="300.2" cy="102.4" r="0.85" fill="#111"/>
<circle cx="297.6" cy="99.4" r="0.85" fill="#111"/>
<circle cx="295.2" cy="98.7" r="0.85" fill="#111"/>
<circle cx="299.3" cy="106.7" r="0.85" fill="#111"/>
<circle cx="297.4" cy="79.0" r="0.85" fill="#111"/>
<circle cx="297.3" cy="98.3" r="0.85" fill="#111"/>
<circle cx="295.8" cy="114.4" r="0.85" fill="#111"/>
<circle cx="297.2" cy="106.5" r="0.85" fill="#111"/>
<circle cx="294.9" cy="116.7" r="0.85" fill="#111"/>
<circle cx="299.8" cy="74.4" r="0.85" fill="#111"/>
<circle cx="295.3" cy="93.0" r="0.85" fill="#111"/>
<circle cx="299.3" cy="94.1" r="0.85" fill="#111"/>
<circle cx="300.1" cy="99.2" r="0.85" fill="#111"/>
<circle cx="300.9" cy="87.3" r="0.85" fill="#111"/>
<circle cx="297.2" cy="101.6" r="0.85" fill="#111"/>
<circle cx="301.1" cy="72.4" r="0.85" fill="#111"/>
<circle cx="296.4" cy="68.9" r="0.85" fill="#111"/>
<circle cx="297.4" cy="66.7" r="0.85" fill="#111"/>
<circle cx="296.9" cy="102.3" r="0.85" fill="#111"/>
<circle cx="299.5" cy="77.7" r="0.85" fill="#111"/>
<circle cx="296.0" cy="93.4" r="0.85" fill="#111"/>
<circle cx="296.0" cy="86.4" r="0.85" fill="#111"/>
<circle cx="299.9" cy="106.4" r="0.85" fill="#111"/>
<circle cx="298.3" cy="90.4" r="0.85" fill="#111"/>
<circle cx="296.9" cy="116.1" r="0.85" fill="#111"/>
<circle cx="300.0" cy="108.6" r="0.85" fill="#111"/>
<circle cx="298.2" cy="81.3" r="0.85" fill="#111"/>
<circle cx="296.9" cy="109.4" r="0.85" fill="#111"/>
<circle cx="297.1" cy="79.9" r="0.85" fill="#111"/>
<circle cx="295.8" cy="88.2" r="0.85" fill="#111"/>
<circle cx="296.5" cy="53.2" r="0.85" fill="#111"/>
<circle cx="297.8" cy="81.7" r="0.85" fill="#111"/>
<rect x="202.6" y="15.2" width="139.3" height="125.0" fill="none" stroke="#7a7a7a" stroke-width="1"/>
<line x1="200.4" y1="136.1" x2="202.6" y2="136.1" stroke="#7a7a7a" stroke-width="0.8"/>
<text x="0" y="0" transform="translate(194.4 137.1) rotate(-90)" font-size="6" font-weight="bold" text-anchor="middle" fill="#000" stroke="#000" stroke-width="0.15">0</text>
<line x1="200.4" y1="119.6" x2="202.6" y2="119.6" stroke="#7a7a7a" stroke-width="0.8"/>
<text x="0" y="0" transform="translate(194.4 120.6) rotate(-90)" font-size="6" font-weight="bold" text-anchor="middle" fill="#000" stroke="#000" stroke-width="0.15">2</text>
<line x1="200.4" y1="103.1" x2="202.6" y2="103.1" stroke="#7a7a7a" stroke-width="0.8"/>
<text x="0" y="0" transform="translate(194.4 104.1) rotate(-90)" font-size="6" font-weight="bold" text-anchor="middle" fill="#000" stroke="#000" stroke-width="0.15">4</text>
<line x1="200.4" y1="86.5" x2="202.6" y2="86.5" stroke="#7a7a7a" stroke-width="0.8"/>
<text x="0" y="0" transform="translate(194.4 87.5) rotate(-90)" font-size="6" font-weight="bold" text-anchor="middle" fill="#000" stroke="#000" stroke-width="0.15">6</text>
<line x1="200.4" y1="70.0" x2="202.6" y2="70.0" stroke="#7a7a7a" stroke-width="0.8"/>
<text x="0" y="0" transform="translate(194.4 71.0) rotate(-90)" font-size="6" font-weight="bold" text-anchor="middle" fill="#000" stroke="#000" stroke-width="0.15">8</text>
<line x1="200.4" y1="53.5" x2="202.6" y2="53.5" stroke="#7a7a7a" stroke-width="0.8"/>
<text x="0" y="0" transform="translate(194.4 54.5) rotate(-90)" font-size="6" font-weight="bold" text-anchor="middle" fill="#000" stroke="#000" stroke-width="0.15">10</text>
<line x1="200.4" y1="37.0" x2="202.6" y2="37.0" stroke="#7a7a7a" stroke-width="0.8"/>
<text x="0" y="0" transform="translate(194.4 38.0) rotate(-90)" font-size="6" font-weight="bold" text-anchor="middle" fill="#000" stroke="#000" stroke-width="0.15">12</text>
<line x1="200.4" y1="20.5" x2="202.6" y2="20.5" stroke="#7a7a7a" stroke-width="0.8"/>
<text x="0" y="0" transform="translate(194.4 21.5) rotate(-90)" font-size="6" font-weight="bold" text-anchor="middle" fill="#000" stroke="#000" stroke-width="0.15">14</text>
<text x="0" y="0" transform="translate(183.1 76.7) rotate(-90)" font-size="6" font-weight="bold" text-anchor="middle" fill="#000" stroke="#000" stroke-width="0.15">Exprs</text>
<line x1="220.7" y1="140.2" x2="220.7" y2="142.4" stroke="#7a7a7a" stroke-width="0.8"/>
<text x="220.7" y="153.5" font-size="6" font-weight="bold" text-anchor="middle" fill="#000" stroke="#000" stroke-width="0.15">MBC</text>
<line x1="246.5" y1="140.2" x2="246.5" y2="142.4" stroke="#7a7a7a" stroke-width="0.8"/>
<text x="246.5" y="153.5" font-size="6" font-weight="bold" text-anchor="middle" fill="#000" stroke="#000" stroke-width="0.15">BMPC</text>
<line x1="272.2" y1="140.2" x2="272.2" y2="142.4" stroke="#7a7a7a" stroke-width="0.8"/>
<text x="272.2" y="153.5" font-size="6" font-weight="bold" text-anchor="middle" fill="#000" stroke="#000" stroke-width="0.15">MGUS</text>
<line x1="298.0" y1="140.2" x2="298.0" y2="142.4" stroke="#7a7a7a" stroke-width="0.8"/>
<text x="298.0" y="153.5" font-size="6" font-weight="bold" text-anchor="middle" fill="#000" stroke="#000" stroke-width="0.15">MM</text>
<line x1="323.8" y1="140.2" x2="323.8" y2="142.4" stroke="#7a7a7a" stroke-width="0.8"/>
<text x="323.8" y="153.5" font-size="6" font-weight="bold" text-anchor="middle" fill="#000" stroke="#000" stroke-width="0.15">HMCL</text>
<text x="270.2" y="6.3" font-size="7.5" font-weight="bold" text-anchor="middle" fill="#000" stroke="#000" stroke-width="0.12">CTGF(209101_at)</text>
<line x1="388.3" y1="111.7" x2="408.7" y2="111.7" stroke="#c8c8c8" stroke-width="1"/>
<line x1="424.0" y1="68.3" x2="424.0" y2="83.2" stroke="#e6e6e6" stroke-width="0.8"/>
<line x1="418.9" y1="68.3" x2="429.1" y2="68.3" stroke="#e6e6e6" stroke-width="0.8"/>
<line x1="424.0" y1="104.1" x2="424.0" y2="111.7" stroke="#e6e6e6" stroke-width="0.8"/>
<line x1="418.9" y1="111.7" x2="429.1" y2="111.7" stroke="#e6e6e6" stroke-width="0.8"/>
<rect x="413.8" y="83.2" width="20.4" height="20.9" fill="#e3e3e3"/>
<line x1="413.8" y1="90.0" x2="434.2" y2="90.0" stroke="#c8c8c8" stroke-width="1"/>
<line x1="449.5" y1="43.9" x2="449.5" y2="52.0" stroke="#e6e6e6" stroke-width="0.8"/>
<line x1="444.4" y1="43.9" x2="454.6" y2="43.9" stroke="#e6e6e6" stroke-width="0.8"/>
<line x1="449.5" y1="101.4" x2="449.5" y2="111.7" stroke="#e6e6e6" stroke-width="0.8"/>
<line x1="444.4" y1="111.7" x2="454.6" y2="111.7" stroke="#e6e6e6" stroke-width="0.8"/>
<rect x="439.3" y="52.0" width="20.4" height="49.4" fill="#e3e3e3"/>
<line x1="439.3" y1="62.3" x2="459.7" y2="62.3" stroke="#c8c8c8" stroke-width="1"/>
<line x1="475.0" y1="19.5" x2="475.0" y2="62.9" stroke="#e6e6e6" stroke-width="0.8"/>
<line x1="469.9" y1="19.5" x2="480.1" y2="19.5" stroke="#e6e6e6" stroke-width="0.8"/>
<line x1="475.0" y1="104.1" x2="475.0" y2="116.6" stroke="#e6e6e6" stroke-width="0.8"/>
<line x1="469.9" y1="116.6" x2="480.1" y2="116.6" stroke="#e6e6e6" stroke-width="0.8"/>
<rect x="464.8" y="62.9" width="20.4" height="41.2" fill="#e3e3e3"/>
<line x1="464.8" y1="79.1" x2="485.2" y2="79.1" stroke="#c8c8c8" stroke-width="1"/>
<line x1="500.5" y1="52.8" x2="500.5" y2="77.8" stroke="#e6e6e6" stroke-width="0.8"/>
<line x1="495.4" y1="52.8" x2="505.6" y2="52.8" stroke="#e6e6e6" stroke-width="0.8"/>
<line x1="500.5" y1="111.7" x2="500.5" y2="115.2" stroke="#e6e6e6" stroke-width="0.8"/>
<line x1="495.4" y1="115.2" x2="505.6" y2="115.2" stroke="#e6e6e6" stroke-width="0.8"/>
<rect x="490.3" y="77.8" width="20.4" height="33.9" fill="#e3e3e3"/>
<line x1="490.3" y1="110.9" x2="510.7" y2="110.9" stroke="#c8c8c8" stroke-width="1"/>
<circle cx="396.5" cy="111.7" r="0.85" fill="#111"/>
<circle cx="398.0" cy="111.7" r="0.85" fill="#111"/>
<circle cx="399.4" cy="111.7" r="0.85" fill="#111"/>
<circle cx="400.5" cy="111.6" r="0.85" fill="#111"/>
<circle cx="425.6" cy="68.3" r="0.85" fill="#111"/>
<circle cx="425.1" cy="82.7" r="0.85" fill="#111"/>
<circle cx="424.5" cy="83.9" r="0.85" fill="#111"/>
<circle cx="423.7" cy="90.5" r="0.85" fill="#111"/>
<circle cx="422.4" cy="103.5" r="0.85" fill="#111"/>
<circle cx="424.5" cy="103.5" r="0.85" fill="#111"/>
<circle cx="423.7" cy="111.7" r="0.85" fill="#111"/>
<circle cx="448.2" cy="43.9" r="0.85" fill="#111"/>
<circle cx="451.0" cy="46.0" r="0.85" fill="#111"/>
<circle cx="452.2" cy="43.9" r="0.85" fill="#111"/>
<circle cx="449.0" cy="51.2" r="0.85" fill="#111"/>
<circle cx="451.6" cy="53.4" r="0.85" fill="#111"/>
<circle cx="448.2" cy="58.8" r="0.85" fill="#111"/>
<circle cx="450.0" cy="60.2" r="0.85" fill="#111"/>
<circle cx="452.2" cy="62.3" r="0.85" fill="#111"/>
<circle cx="449.0" cy="77.8" r="0.85" fill="#111"/>
<circle cx="450.8" cy="98.9" r="0.85" fill="#111"/>
<circle cx="451.6" cy="103.5" r="0.85" fill="#111"/>
<circle cx="450.0" cy="111.7" r="0.85" fill="#111"/>
<circle cx="451.6" cy="111.7" r="0.85" fill="#111"/>
<circle cx="475.5" cy="19.8" r="0.85" fill="#111"/>
<circle cx="475.0" cy="29.5" r="0.85" fill="#111"/>
<circle cx="476.0" cy="35.9" r="0.85" fill="#111"/>
<circle cx="474.5" cy="36.5" r="0.85" fill="#111"/>
<circle cx="476.0" cy="118.0" r="0.85" fill="#111"/>
<circle cx="501.7" cy="53.0" r="0.85" fill="#111"/>
<circle cx="503.6" cy="61.5" r="0.85" fill="#111"/>
<circle cx="500.4" cy="63.7" r="0.85" fill="#111"/>
<circle cx="501.0" cy="64.5" r="0.85" fill="#111"/>
<circle cx="499.7" cy="68.6" r="0.85" fill="#111"/>
<circle cx="501.0" cy="70.2" r="0.85" fill="#111"/>
<circle cx="499.5" cy="76.8" r="0.85" fill="#111"/>
<circle cx="502.0" cy="75.8" r="0.85" fill="#111"/>
<circle cx="503.4" cy="79.7" r="0.85" fill="#111"/>
<circle cx="501.7" cy="94.7" r="0.85" fill="#111"/>
<circle cx="500.4" cy="99.2" r="0.85" fill="#111"/>
<circle cx="499.7" cy="100.5" r="0.85" fill="#111"/>
<circle cx="499.7" cy="103.8" r="0.85" fill="#111"/>
<circle cx="503.4" cy="103.8" r="0.85" fill="#111"/>
<circle cx="500.4" cy="111.0" r="0.85" fill="#111"/>
<circle cx="501.3" cy="111.2" r="0.85" fill="#111"/>
<circle cx="502.2" cy="111.0" r="0.85" fill="#111"/>
<circle cx="503.0" cy="111.2" r="0.85" fill="#111"/>
<circle cx="500.9" cy="110.5" r="0.85" fill="#111"/>
<circle cx="502.6" cy="110.6" r="0.85" fill="#111"/>
<circle cx="500.8" cy="115.3" r="0.85" fill="#111"/>
<circle cx="476.5" cy="89.8" r="0.85" fill="#111"/>
<circle cx="477.8" cy="110.0" r="0.85" fill="#111"/>
<circle cx="478.1" cy="103.0" r="0.85" fill="#111"/>
<circle cx="477.6" cy="55.3" r="0.85" fill="#111"/>
<circle cx="472.4" cy="46.5" r="0.85" fill="#111"/>
<circle cx="473.9" cy="91.1" r="0.85" fill="#111"/>
<circle cx="473.8" cy="55.4" r="0.85" fill="#111"/>
<circle cx="473.3" cy="69.6" r="0.85" fill="#111"/>
<circle cx="473.4" cy="100.5" r="0.85" fill="#111"/>
<circle cx="477.3" cy="87.8" r="0.85" fill="#111"/>
<circle cx="477.3" cy="107.6" r="0.85" fill="#111"/>
<circle cx="476.7" cy="59.2" r="0.85" fill="#111"/>
<circle cx="475.1" cy="97.1" r="0.85" fill="#111"/>
<circle cx="474.0" cy="84.1" r="0.85" fill="#111"/>
<circle cx="475.5" cy="55.2" r="0.85" fill="#111"/>
<circle cx="473.2" cy="78.0" r="0.85" fill="#111"/>
<circle cx="475.8" cy="80.1" r="0.85" fill="#111"/>
<circle cx="477.7" cy="46.0" r="0.85" fill="#111"/>
<circle cx="476.6" cy="84.6" r="0.85" fill="#111"/>
<circle cx="475.0" cy="71.6" r="0.85" fill="#111"/>
<circle cx="476.4" cy="50.7" r="0.85" fill="#111"/>
<circle cx="476.2" cy="47.5" r="0.85" fill="#111"/>
<circle cx="474.4" cy="110.2" r="0.85" fill="#111"/>
<circle cx="475.4" cy="81.0" r="0.85" fill="#111"/>
<circle cx="476.9" cy="47.9" r="0.85" fill="#111"/>
<circle cx="477.8" cy="69.0" r="0.85" fill="#111"/>
<circle cx="475.7" cy="78.5" r="0.85" fill="#111"/>
<circle cx="475.1" cy="60.1" r="0.85" fill="#111"/>
<circle cx="477.6" cy="84.0" r="0.85" fill="#111"/>
<circle cx="474.9" cy="103.0" r="0.85" fill="#111"/>
<circle cx="475.5" cy="64.4" r="0.85" fill="#111"/>
<circle cx="477.4" cy="91.0" r="0.85" fill="#111"/>
<circle cx="474.2" cy="67.5" r="0.85" fill="#111"/>
<circle cx="477.3" cy="89.6" r="0.85" fill="#111"/>
<circle cx="478.0" cy="95.7" r="0.85" fill="#111"/>
<circle cx="474.2" cy="49.0" r="0.85" fill="#111"/>
<circle cx="478.2" cy="41.6" r="0.85" fill="#111"/>
<circle cx="477.3" cy="91.2" r="0.85" fill="#111"/>
<circle cx="476.2" cy="88.0" r="0.85" fill="#111"/>
<circle cx="476.1" cy="93.9" r="0.85" fill="#111"/>
<circle cx="476.6" cy="60.3" r="0.85" fill="#111"/>
<circle cx="472.9" cy="98.5" r="0.85" fill="#111"/>
<circle cx="477.3" cy="48.1" r="0.85" fill="#111"/>
<circle cx="474.7" cy="91.1" r="0.85" fill="#111"/>
<circle cx="475.9" cy="100.2" r="0.85" fill="#111"/>
<circle cx="475.0" cy="66.5" r="0.85" fill="#111"/>
<circle cx="476.4" cy="75.4" r="0.85" fill="#111"/>
<circle cx="475.9" cy="49.3" r="0.85" fill="#111"/>
<circle cx="477.5" cy="53.8" r="0.85" fill="#111"/>
<circle cx="475.2" cy="109.3" r="0.85" fill="#111"/>
<circle cx="476.1" cy="42.6" r="0.85" fill="#111"/>
<circle cx="475.3" cy="113.7" r="0.85" fill="#111"/>
<circle cx="476.4" cy="52.6" r="0.85" fill="#111"/>
<circle cx="472.4" cy="56.0" r="0.85" fill="#111"/>
<circle cx="473.1" cy="44.0" r="0.85" fill="#111"/>
<circle cx="477.9" cy="51.6" r="0.85" fill="#111"/>
<circle cx="476.9" cy="46.7" r="0.85" fill="#111"/>
<circle cx="473.5" cy="96.5" r="0.85" fill="#111"/>
<circle cx="476.9" cy="99.3" r="0.85" fill="#111"/>
<circle cx="472.8" cy="96.2" r="0.85" fill="#111"/>
<circle cx="475.2" cy="94.8" r="0.85" fill="#111"/>
<circle cx="478.5" cy="63.2" r="0.85" fill="#111"/>
<circle cx="472.4" cy="46.3" r="0.85" fill="#111"/>
<circle cx="472.8" cy="102.3" r="0.85" fill="#111"/>
<circle cx="473.4" cy="96.2" r="0.85" fill="#111"/>
<circle cx="472.7" cy="79.3" r="0.85" fill="#111"/>
<circle cx="475.1" cy="85.5" r="0.85" fill="#111"/>
<circle cx="477.4" cy="55.6" r="0.85" fill="#111"/>
<circle cx="476.3" cy="90.3" r="0.85" fill="#111"/>
<circle cx="477.3" cy="72.3" r="0.85" fill="#111"/>
<circle cx="475.9" cy="100.0" r="0.85" fill="#111"/>
<circle cx="478.5" cy="49.7" r="0.85" fill="#111"/>
<circle cx="474.4" cy="103.0" r="0.85" fill="#111"/>
<circle cx="477.6" cy="113.4" r="0.85" fill="#111"/>
<circle cx="475.0" cy="66.9" r="0.85" fill="#111"/>
<circle cx="476.7" cy="71.7" r="0.85" fill="#111"/>
<circle cx="477.5" cy="107.8" r="0.85" fill="#111"/>
<circle cx="474.0" cy="45.6" r="0.85" fill="#111"/>
<circle cx="477.5" cy="86.3" r="0.85" fill="#111"/>
<circle cx="477.6" cy="48.4" r="0.85" fill="#111"/>
<circle cx="476.0" cy="105.8" r="0.85" fill="#111"/>
<circle cx="477.5" cy="104.7" r="0.85" fill="#111"/>
<circle cx="474.5" cy="109.0" r="0.85" fill="#111"/>
<circle cx="477.4" cy="84.0" r="0.85" fill="#111"/>
<circle cx="478.3" cy="97.6" r="0.85" fill="#111"/>
<circle cx="476.6" cy="87.7" r="0.85" fill="#111"/>
<circle cx="473.9" cy="59.9" r="0.85" fill="#111"/>
<circle cx="475.2" cy="100.5" r="0.85" fill="#111"/>
<circle cx="477.2" cy="101.6" r="0.85" fill="#111"/>
<circle cx="478.0" cy="85.8" r="0.85" fill="#111"/>
<circle cx="475.4" cy="81.8" r="0.85" fill="#111"/>
<circle cx="473.5" cy="58.6" r="0.85" fill="#111"/>
<circle cx="474.6" cy="94.2" r="0.85" fill="#111"/>
<circle cx="475.6" cy="73.5" r="0.85" fill="#111"/>
<circle cx="478.7" cy="48.6" r="0.85" fill="#111"/>
<circle cx="476.3" cy="52.9" r="0.85" fill="#111"/>
<circle cx="476.1" cy="56.4" r="0.85" fill="#111"/>
<circle cx="472.4" cy="81.6" r="0.85" fill="#111"/>
<circle cx="477.8" cy="114.3" r="0.85" fill="#111"/>
<circle cx="474.0" cy="84.9" r="0.85" fill="#111"/>
<circle cx="478.4" cy="75.1" r="0.85" fill="#111"/>
<circle cx="478.5" cy="102.4" r="0.85" fill="#111"/>
<circle cx="473.6" cy="48.1" r="0.85" fill="#111"/>
<circle cx="472.6" cy="51.3" r="0.85" fill="#111"/>
<circle cx="475.2" cy="106.0" r="0.85" fill="#111"/>
<circle cx="472.7" cy="108.7" r="0.85" fill="#111"/>
<circle cx="473.1" cy="73.1" r="0.85" fill="#111"/>
<circle cx="475.9" cy="63.4" r="0.85" fill="#111"/>
<circle cx="476.6" cy="112.0" r="0.85" fill="#111"/>
<circle cx="473.3" cy="76.7" r="0.85" fill="#111"/>
<circle cx="473.7" cy="114.4" r="0.85" fill="#111"/>
<circle cx="474.6" cy="63.3" r="0.85" fill="#111"/>
<circle cx="477.7" cy="108.4" r="0.85" fill="#111"/>
<circle cx="476.8" cy="100.2" r="0.85" fill="#111"/>
<circle cx="472.7" cy="114.0" r="0.85" fill="#111"/>
<circle cx="478.3" cy="98.0" r="0.85" fill="#111"/>
<circle cx="476.1" cy="66.3" r="0.85" fill="#111"/>
<circle cx="474.4" cy="52.8" r="0.85" fill="#111"/>
<circle cx="475.4" cy="54.1" r="0.85" fill="#111"/>
<circle cx="473.2" cy="62.1" r="0.85" fill="#111"/>
<circle cx="476.9" cy="46.4" r="0.85" fill="#111"/>
<circle cx="478.2" cy="48.0" r="0.85" fill="#111"/>
<circle cx="477.8" cy="110.4" r="0.85" fill="#111"/>
<circle cx="475.2" cy="55.2" r="0.85" fill="#111"/>
<circle cx="477.7" cy="110.1" r="0.85" fill="#111"/>
<circle cx="474.5" cy="76.9" r="0.85" fill="#111"/>
<circle cx="476.3" cy="78.7" r="0.85" fill="#111"/>
<circle cx="472.7" cy="60.9" r="0.85" fill="#111"/>
<circle cx="473.2" cy="84.0" r="0.85" fill="#111"/>
<circle cx="474.9" cy="64.0" r="0.85" fill="#111"/>
<circle cx="477.7" cy="64.3" r="0.85" fill="#111"/>
<circle cx="475.4" cy="57.2" r="0.85" fill="#111"/>
<circle cx="473.0" cy="108.3" r="0.85" fill="#111"/>
<circle cx="478.0" cy="49.5" r="0.85" fill="#111"/>
<circle cx="475.4" cy="60.2" r="0.85" fill="#111"/>
<circle cx="473.6" cy="63.4" r="0.85" fill="#111"/>
<circle cx="478.7" cy="114.4" r="0.85" fill="#111"/>
<circle cx="474.2" cy="52.3" r="0.85" fill="#111"/>
<circle cx="476.9" cy="49.5" r="0.85" fill="#111"/>
<circle cx="472.4" cy="113.5" r="0.85" fill="#111"/>
<circle cx="473.2" cy="69.2" r="0.85" fill="#111"/>
<circle cx="475.7" cy="44.7" r="0.85" fill="#111"/>
<circle cx="478.1" cy="75.7" r="0.85" fill="#111"/>
<circle cx="473.2" cy="85.2" r="0.85" fill="#111"/>
<circle cx="476.9" cy="99.0" r="0.85" fill="#111"/>
<circle cx="472.9" cy="51.0" r="0.85" fill="#111"/>
<circle cx="474.1" cy="79.9" r="0.85" fill="#111"/>
<circle cx="476.8" cy="88.1" r="0.85" fill="#111"/>
<circle cx="473.6" cy="86.0" r="0.85" fill="#111"/>
<circle cx="474.9" cy="96.4" r="0.85" fill="#111"/>
<circle cx="477.5" cy="49.3" r="0.85" fill="#111"/>
<circle cx="477.8" cy="104.0" r="0.85" fill="#111"/>
<circle cx="478.1" cy="46.6" r="0.85" fill="#111"/>
<circle cx="474.0" cy="106.1" r="0.85" fill="#111"/>
<circle cx="474.6" cy="103.3" r="0.85" fill="#111"/>
<circle cx="476.1" cy="71.3" r="0.85" fill="#111"/>
<circle cx="475.2" cy="43.2" r="0.85" fill="#111"/>
<circle cx="476.9" cy="53.9" r="0.85" fill="#111"/>
<circle cx="474.4" cy="105.7" r="0.85" fill="#111"/>
<circle cx="477.1" cy="72.0" r="0.85" fill="#111"/>
<circle cx="478.4" cy="106.2" r="0.85" fill="#111"/>
<circle cx="475.7" cy="81.2" r="0.85" fill="#111"/>
<circle cx="478.5" cy="46.9" r="0.85" fill="#111"/>
<circle cx="473.0" cy="58.2" r="0.85" fill="#111"/>
<circle cx="472.5" cy="102.3" r="0.85" fill="#111"/>
<circle cx="473.5" cy="94.1" r="0.85" fill="#111"/>
<circle cx="476.0" cy="43.6" r="0.85" fill="#111"/>
<circle cx="473.0" cy="94.3" r="0.85" fill="#111"/>
<circle cx="472.6" cy="95.3" r="0.85" fill="#111"/>
<circle cx="475.5" cy="79.8" r="0.85" fill="#111"/>
<circle cx="474.9" cy="54.0" r="0.85" fill="#111"/>
<circle cx="477.8" cy="86.6" r="0.85" fill="#111"/>
<circle cx="477.1" cy="85.3" r="0.85" fill="#111"/>
<circle cx="478.3" cy="102.9" r="0.85" fill="#111"/>
<circle cx="477.7" cy="74.7" r="0.85" fill="#111"/>
<rect x="380.6" y="15.0" width="137.8" height="125.2" fill="none" stroke="#7a7a7a" stroke-width="1"/>
<line x1="378.4" y1="135.6" x2="380.6" y2="135.6" stroke="#7a7a7a" stroke-width="0.8"/>
<text x="0" y="0" transform="translate(372.4 136.6) rotate(-90)" font-size="6" font-weight="bold" text-anchor="middle" fill="#000" stroke="#000" stroke-width="0.15">0</text>
<line x1="378.4" y1="119.1" x2="380.6" y2="119.1" stroke="#7a7a7a" stroke-width="0.8"/>
<text x="0" y="0" transform="translate(372.4 120.1) rotate(-90)" font-size="6" font-weight="bold" text-anchor="middle" fill="#000" stroke="#000" stroke-width="0.15">2</text>
<line x1="378.4" y1="102.6" x2="380.6" y2="102.6" stroke="#7a7a7a" stroke-width="0.8"/>
<text x="0" y="0" transform="translate(372.4 103.6) rotate(-90)" font-size="6" font-weight="bold" text-anchor="middle" fill="#000" stroke="#000" stroke-width="0.15">4</text>
<line x1="378.4" y1="86.0" x2="380.6" y2="86.0" stroke="#7a7a7a" stroke-width="0.8"/>
<text x="0" y="0" transform="translate(372.4 87.0) rotate(-90)" font-size="6" font-weight="bold" text-anchor="middle" fill="#000" stroke="#000" stroke-width="0.15">6</text>
<line x1="378.4" y1="69.5" x2="380.6" y2="69.5" stroke="#7a7a7a" stroke-width="0.8"/>
<text x="0" y="0" transform="translate(372.4 70.5) rotate(-90)" font-size="6" font-weight="bold" text-anchor="middle" fill="#000" stroke="#000" stroke-width="0.15">8</text>
<line x1="378.4" y1="53.0" x2="380.6" y2="53.0" stroke="#7a7a7a" stroke-width="0.8"/>
<text x="0" y="0" transform="translate(372.4 54.0) rotate(-90)" font-size="6" font-weight="bold" text-anchor="middle" fill="#000" stroke="#000" stroke-width="0.15">10</text>
<line x1="378.4" y1="36.5" x2="380.6" y2="36.5" stroke="#7a7a7a" stroke-width="0.8"/>
<text x="0" y="0" transform="translate(372.4 37.5) rotate(-90)" font-size="6" font-weight="bold" text-anchor="middle" fill="#000" stroke="#000" stroke-width="0.15">12</text>
<line x1="378.4" y1="20.0" x2="380.6" y2="20.0" stroke="#7a7a7a" stroke-width="0.8"/>
<text x="0" y="0" transform="translate(372.4 21.0) rotate(-90)" font-size="6" font-weight="bold" text-anchor="middle" fill="#000" stroke="#000" stroke-width="0.15">14</text>
<text x="0" y="0" transform="translate(361.1 76.6) rotate(-90)" font-size="6" font-weight="bold" text-anchor="middle" fill="#000" stroke="#000" stroke-width="0.15">Exprs</text>
<line x1="398.5" y1="140.2" x2="398.5" y2="142.4" stroke="#7a7a7a" stroke-width="0.8"/>
<text x="398.5" y="153.5" font-size="6" font-weight="bold" text-anchor="middle" fill="#000" stroke="#000" stroke-width="0.15">MBC</text>
<line x1="424.0" y1="140.2" x2="424.0" y2="142.4" stroke="#7a7a7a" stroke-width="0.8"/>
<text x="424.0" y="153.5" font-size="6" font-weight="bold" text-anchor="middle" fill="#000" stroke="#000" stroke-width="0.15">BMPC</text>
<line x1="449.5" y1="140.2" x2="449.5" y2="142.4" stroke="#7a7a7a" stroke-width="0.8"/>
<text x="449.5" y="153.5" font-size="6" font-weight="bold" text-anchor="middle" fill="#000" stroke="#000" stroke-width="0.15">MGUS</text>
<line x1="475.0" y1="140.2" x2="475.0" y2="142.4" stroke="#7a7a7a" stroke-width="0.8"/>
<text x="475.0" y="153.5" font-size="6" font-weight="bold" text-anchor="middle" fill="#000" stroke="#000" stroke-width="0.15">MM</text>
<line x1="500.5" y1="140.2" x2="500.5" y2="142.4" stroke="#7a7a7a" stroke-width="0.8"/>
<text x="500.5" y="153.5" font-size="6" font-weight="bold" text-anchor="middle" fill="#000" stroke="#000" stroke-width="0.15">HMCL</text>
<text x="449.5" y="6.3" font-size="7.5" font-weight="bold" text-anchor="middle" fill="#000" stroke="#000" stroke-width="0.12">TGFA(205016_at)</text>
<rect x="32.4" y="264.2" width="20.7" height="16.3" fill="#e3e3e3"/>
<line x1="32.4" y1="280.5" x2="53.0" y2="280.5" stroke="#c8c8c8" stroke-width="1"/>
<line x1="68.5" y1="236.3" x2="68.5" y2="250.7" stroke="#e6e6e6" stroke-width="0.8"/>
<line x1="63.4" y1="236.3" x2="73.7" y2="236.3" stroke="#e6e6e6" stroke-width="0.8"/>
<line x1="68.5" y1="258.0" x2="68.5" y2="261.5" stroke="#e6e6e6" stroke-width="0.8"/>
<line x1="63.4" y1="261.5" x2="73.7" y2="261.5" stroke="#e6e6e6" stroke-width="0.8"/>
<rect x="58.2" y="250.7" width="20.7" height="7.3" fill="#e3e3e3"/>
<line x1="58.2" y1="255.3" x2="78.9" y2="255.3" stroke="#c8c8c8" stroke-width="1"/>
<line x1="94.4" y1="218.7" x2="94.4" y2="226.8" stroke="#e6e6e6" stroke-width="0.8"/>
<line x1="89.2" y1="218.7" x2="99.6" y2="218.7" stroke="#e6e6e6" stroke-width="0.8"/>
<line x1="94.4" y1="241.7" x2="94.4" y2="270.2" stroke="#e6e6e6" stroke-width="0.8"/>
<line x1="89.2" y1="270.2" x2="99.6" y2="270.2" stroke="#e6e6e6" stroke-width="0.8"/>
<rect x="84.1" y="226.8" width="20.7" height="14.9" fill="#e3e3e3"/>
<line x1="84.1" y1="232.2" x2="104.7" y2="232.2" stroke="#c8c8c8" stroke-width="1"/>
<line x1="120.3" y1="195.6" x2="120.3" y2="224.9" stroke="#e6e6e6" stroke-width="0.8"/>
<line x1="115.1" y1="195.6" x2="125.4" y2="195.6" stroke="#e6e6e6" stroke-width="0.8"/>
<line x1="120.3" y1="245.8" x2="120.3" y2="281.0" stroke="#e6e6e6" stroke-width="0.8"/>
<line x1="115.1" y1="281.0" x2="125.4" y2="281.0" stroke="#e6e6e6" stroke-width="0.8"/>
<rect x="109.9" y="224.9" width="20.7" height="20.9" fill="#e3e3e3"/>
<line x1="109.9" y1="234.9" x2="130.6" y2="234.9" stroke="#c8c8c8" stroke-width="1"/>
<line x1="146.1" y1="203.2" x2="146.1" y2="213.8" stroke="#e6e6e6" stroke-width="0.8"/>
<line x1="140.9" y1="203.2" x2="151.3" y2="203.2" stroke="#e6e6e6" stroke-width="0.8"/>
<line x1="146.1" y1="244.4" x2="146.1" y2="281.0" stroke="#e6e6e6" stroke-width="0.8"/>
<line x1="140.9" y1="281.0" x2="151.3" y2="281.0" stroke="#e6e6e6" stroke-width="0.8"/>
<rect x="135.8" y="213.8" width="20.7" height="30.6" fill="#e3e3e3"/>
<line x1="135.8" y1="222.7" x2="156.4" y2="222.7" stroke="#c8c8c8" stroke-width="1"/>
<circle cx="41.6" cy="264.2" r="0.85" fill="#111"/>
<circle cx="44.3" cy="264.2" r="0.85" fill="#111"/>
<circle cx="40.8" cy="280.6" r="0.85" fill="#111"/>
<circle cx="43.0" cy="280.6" r="0.85" fill="#111"/>
<circle cx="68.2" cy="236.3" r="0.85" fill="#111"/>
<circle cx="66.8" cy="249.0" r="0.85" fill="#111"/>
<circle cx="69.5" cy="250.0" r="0.85" fill="#111"/>
<circle cx="70.6" cy="253.9" r="0.85" fill="#111"/>
<circle cx="67.4" cy="256.6" r="0.85" fill="#111"/>
<circle cx="69.5" cy="257.2" r="0.85" fill="#111"/>
<circle cx="70.0" cy="261.5" r="0.85" fill="#111"/>
<circle cx="94.0" cy="218.7" r="0.85" fill="#111"/>
<circle cx="91.8" cy="222.8" r="0.85" fill="#111"/>
<circle cx="95.0" cy="224.6" r="0.85" fill="#111"/>
<circle cx="93.1" cy="228.2" r="0.85" fill="#111"/>
<circle cx="95.0" cy="229.5" r="0.85" fill="#111"/>
<circle cx="91.8" cy="230.9" r="0.85" fill="#111"/>
<circle cx="94.0" cy="233.6" r="0.85" fill="#111"/>
<circle cx="95.0" cy="236.3" r="0.85" fill="#111"/>
<circle cx="93.1" cy="245.8" r="0.85" fill="#111"/>
<circle cx="95.0" cy="249.9" r="0.85" fill="#111"/>
<circle cx="91.8" cy="254.7" r="0.85" fill="#111"/>
<circle cx="93.7" cy="270.2" r="0.85" fill="#111"/>
<circle cx="119.5" cy="195.4" r="0.85" fill="#111"/>
<circle cx="120.0" cy="205.9" r="0.85" fill="#111"/>
<circle cx="120.0" cy="279.9" r="0.85" fill="#111"/>
<circle cx="143.8" cy="205.2" r="0.85" fill="#111"/>
<circle cx="147.2" cy="204.0" r="0.85" fill="#111"/>
<circle cx="146.7" cy="208.1" r="0.85" fill="#111"/>
<circle cx="144.6" cy="212.5" r="0.85" fill="#111"/>
<circle cx="145.3" cy="213.6" r="0.85" fill="#111"/>
<circle cx="144.3" cy="214.7" r="0.85" fill="#111"/>
<circle cx="146.0" cy="216.8" r="0.85" fill="#111"/>
<circle cx="145.3" cy="218.3" r="0.85" fill="#111"/>
<circle cx="146.7" cy="221.2" r="0.85" fill="#111"/>
<circle cx="146.0" cy="222.7" r="0.85" fill="#111"/>
<circle cx="144.6" cy="221.9" r="0.85" fill="#111"/>
<circle cx="148.2" cy="225.6" r="0.85" fill="#111"/>
<circle cx="148.2" cy="232.8" r="0.85" fill="#111"/>
<circle cx="146.7" cy="236.5" r="0.85" fill="#111"/>
<circle cx="147.5" cy="237.2" r="0.85" fill="#111"/>
<circle cx="143.8" cy="243.8" r="0.85" fill="#111"/>
<circle cx="144.6" cy="244.5" r="0.85" fill="#111"/>
<circle cx="148.2" cy="249.6" r="0.85" fill="#111"/>
<circle cx="143.8" cy="256.9" r="0.85" fill="#111"/>
<circle cx="143.4" cy="262.7" r="0.85" fill="#111"/>
<circle cx="147.5" cy="273.6" r="0.85" fill="#111"/>
<circle cx="146.7" cy="277.2" r="0.85" fill="#111"/>
<circle cx="145.3" cy="280.9" r="0.85" fill="#111"/>
<circle cx="148.2" cy="280.9" r="0.85" fill="#111"/>
<circle cx="122.5" cy="224.7" r="0.85" fill="#111"/>
<circle cx="118.0" cy="222.7" r="0.85" fill="#111"/>
<circle cx="122.8" cy="226.1" r="0.85" fill="#111"/>
<circle cx="121.7" cy="259.3" r="0.85" fill="#111"/>
<circle cx="119.8" cy="246.8" r="0.85" fill="#111"/>
<circle cx="118.1" cy="272.6" r="0.85" fill="#111"/>
<circle cx="118.8" cy="233.0" r="0.85" fill="#111"/>
<circle cx="119.3" cy="213.1" r="0.85" fill="#111"/>
<circle cx="117.4" cy="211.4" r="0.85" fill="#111"/>
<circle cx="122.5" cy="270.5" r="0.85" fill="#111"/>
<circle cx="122.2" cy="239.3" r="0.85" fill="#111"/>
<circle cx="120.6" cy="246.5" r="0.85" fill="#111"/>
<circle cx="118.2" cy="234.6" r="0.85" fill="#111"/>
<circle cx="120.5" cy="243.3" r="0.85" fill="#111"/>
<circle cx="119.3" cy="229.1" r="0.85" fill="#111"/>
<circle cx="118.5" cy="264.3" r="0.85" fill="#111"/>
<circle cx="120.3" cy="214.9" r="0.85" fill="#111"/>
<circle cx="118.2" cy="267.2" r="0.85" fill="#111"/>
<circle cx="117.4" cy="229.5" r="0.85" fill="#111"/>
<circle cx="118.4" cy="215.3" r="0.85" fill="#111"/>
<circle cx="118.1" cy="220.9" r="0.85" fill="#111"/>
<circle cx="121.9" cy="230.0" r="0.85" fill="#111"/>
<circle cx="120.7" cy="230.8" r="0.85" fill="#111"/>
<circle cx="119.4" cy="235.8" r="0.85" fill="#111"/>
<circle cx="119.5" cy="232.3" r="0.85" fill="#111"/>
<circle cx="117.9" cy="219.3" r="0.85" fill="#111"/>
<circle cx="120.2" cy="224.2" r="0.85" fill="#111"/>
<circle cx="122.0" cy="223.1" r="0.85" fill="#111"/>
<circle cx="119.6" cy="230.3" r="0.85" fill="#111"/>
<circle cx="118.4" cy="245.6" r="0.85" fill="#111"/>
<circle cx="116.9" cy="216.3" r="0.85" fill="#111"/>
<circle cx="116.9" cy="252.4" r="0.85" fill="#111"/>
<circle cx="121.2" cy="226.2" r="0.85" fill="#111"/>
<circle cx="122.6" cy="218.6" r="0.85" fill="#111"/>
<circle cx="118.7" cy="216.2" r="0.85" fill="#111"/>
<circle cx="120.4" cy="234.5" r="0.85" fill="#111"/>
<circle cx="119.8" cy="258.0" r="0.85" fill="#111"/>
<circle cx="121.4" cy="236.9" r="0.85" fill="#111"/>
<circle cx="121.0" cy="238.4" r="0.85" fill="#111"/>
<circle cx="122.1" cy="247.9" r="0.85" fill="#111"/>
<circle cx="120.2" cy="237.7" r="0.85" fill="#111"/>
<circle cx="120.2" cy="244.7" r="0.85" fill="#111"/>
<circle cx="122.1" cy="238.4" r="0.85" fill="#111"/>
<circle cx="119.4" cy="224.1" r="0.85" fill="#111"/>
<circle cx="118.4" cy="236.2" r="0.85" fill="#111"/>
<circle cx="119.0" cy="230.3" r="0.85" fill="#111"/>
<circle cx="121.9" cy="238.5" r="0.85" fill="#111"/>
<circle cx="117.7" cy="226.4" r="0.85" fill="#111"/>
<circle cx="120.2" cy="215.8" r="0.85" fill="#111"/>
<circle cx="122.4" cy="213.8" r="0.85" fill="#111"/>
<circle cx="121.9" cy="240.5" r="0.85" fill="#111"/>
<circle cx="119.2" cy="263.2" r="0.85" fill="#111"/>
<circle cx="116.8" cy="246.2" r="0.85" fill="#111"/>
<circle cx="122.4" cy="228.3" r="0.85" fill="#111"/>
<circle cx="122.9" cy="229.7" r="0.85" fill="#111"/>
<circle cx="120.9" cy="229.0" r="0.85" fill="#111"/>
<circle cx="120.3" cy="223.3" r="0.85" fill="#111"/>
<circle cx="120.8" cy="244.2" r="0.85" fill="#111"/>
<circle cx="118.9" cy="214.2" r="0.85" fill="#111"/>
<circle cx="120.2" cy="230.5" r="0.85" fill="#111"/>
<circle cx="119.6" cy="260.1" r="0.85" fill="#111"/>
<circle cx="122.9" cy="232.7" r="0.85" fill="#111"/>
<circle cx="121.7" cy="229.4" r="0.85" fill="#111"/>
<circle cx="122.8" cy="221.9" r="0.85" fill="#111"/>
<circle cx="117.2" cy="253.5" r="0.85" fill="#111"/>
<circle cx="121.8" cy="256.1" r="0.85" fill="#111"/>
<circle cx="119.2" cy="272.0" r="0.85" fill="#111"/>
<circle cx="119.8" cy="220.9" r="0.85" fill="#111"/>
<circle cx="117.7" cy="217.3" r="0.85" fill="#111"/>
<circle cx="118.8" cy="232.0" r="0.85" fill="#111"/>
<circle cx="116.8" cy="268.7" r="0.85" fill="#111"/>
<circle cx="118.5" cy="238.5" r="0.85" fill="#111"/>
<circle cx="118.4" cy="210.8" r="0.85" fill="#111"/>
<circle cx="120.8" cy="254.6" r="0.85" fill="#111"/>
<circle cx="120.0" cy="228.3" r="0.85" fill="#111"/>
<circle cx="119.9" cy="233.5" r="0.85" fill="#111"/>
<circle cx="119.1" cy="268.0" r="0.85" fill="#111"/>
<circle cx="121.4" cy="216.2" r="0.85" fill="#111"/>
<circle cx="117.6" cy="214.2" r="0.85" fill="#111"/>
<circle cx="120.4" cy="239.8" r="0.85" fill="#111"/>
<circle cx="116.6" cy="246.9" r="0.85" fill="#111"/>
<circle cx="121.1" cy="222.1" r="0.85" fill="#111"/>
<circle cx="118.2" cy="216.7" r="0.85" fill="#111"/>
<circle cx="120.2" cy="242.6" r="0.85" fill="#111"/>
<circle cx="119.0" cy="226.6" r="0.85" fill="#111"/>
<circle cx="120.2" cy="242.1" r="0.85" fill="#111"/>
<circle cx="120.5" cy="266.2" r="0.85" fill="#111"/>
<circle cx="122.5" cy="212.3" r="0.85" fill="#111"/>
<circle cx="122.3" cy="250.6" r="0.85" fill="#111"/>
<circle cx="120.4" cy="250.4" r="0.85" fill="#111"/>
<circle cx="122.6" cy="266.9" r="0.85" fill="#111"/>
<circle cx="121.1" cy="224.5" r="0.85" fill="#111"/>
<circle cx="122.1" cy="221.6" r="0.85" fill="#111"/>
<circle cx="118.1" cy="238.7" r="0.85" fill="#111"/>
<circle cx="117.7" cy="223.4" r="0.85" fill="#111"/>
<circle cx="120.1" cy="264.3" r="0.85" fill="#111"/>
<circle cx="119.0" cy="229.5" r="0.85" fill="#111"/>
<circle cx="117.3" cy="213.0" r="0.85" fill="#111"/>
<circle cx="118.1" cy="251.1" r="0.85" fill="#111"/>
<circle cx="118.0" cy="220.7" r="0.85" fill="#111"/>
<circle cx="118.7" cy="234.1" r="0.85" fill="#111"/>
<circle cx="117.1" cy="235.6" r="0.85" fill="#111"/>
<circle cx="117.3" cy="240.2" r="0.85" fill="#111"/>
<circle cx="121.7" cy="240.2" r="0.85" fill="#111"/>
<circle cx="121.1" cy="223.2" r="0.85" fill="#111"/>
<circle cx="117.8" cy="244.5" r="0.85" fill="#111"/>
<circle cx="118.0" cy="267.1" r="0.85" fill="#111"/>
<circle cx="121.0" cy="215.3" r="0.85" fill="#111"/>
<circle cx="120.3" cy="242.5" r="0.85" fill="#111"/>
<circle cx="120.4" cy="219.4" r="0.85" fill="#111"/>
<circle cx="117.3" cy="241.5" r="0.85" fill="#111"/>
<circle cx="118.2" cy="229.9" r="0.85" fill="#111"/>
<circle cx="120.7" cy="224.3" r="0.85" fill="#111"/>
<circle cx="119.0" cy="221.7" r="0.85" fill="#111"/>
<circle cx="121.9" cy="216.9" r="0.85" fill="#111"/>
<circle cx="117.2" cy="234.1" r="0.85" fill="#111"/>
<circle cx="119.7" cy="223.5" r="0.85" fill="#111"/>
<circle cx="118.5" cy="213.0" r="0.85" fill="#111"/>
<circle cx="121.1" cy="215.2" r="0.85" fill="#111"/>
<circle cx="122.3" cy="224.9" r="0.85" fill="#111"/>
<circle cx="122.0" cy="241.9" r="0.85" fill="#111"/>
<circle cx="116.7" cy="220.5" r="0.85" fill="#111"/>
<circle cx="118.7" cy="234.1" r="0.85" fill="#111"/>
<circle cx="121.0" cy="234.0" r="0.85" fill="#111"/>
<circle cx="118.8" cy="240.6" r="0.85" fill="#111"/>
<circle cx="117.2" cy="217.1" r="0.85" fill="#111"/>
<circle cx="121.1" cy="256.7" r="0.85" fill="#111"/>
<circle cx="117.5" cy="212.1" r="0.85" fill="#111"/>
<circle cx="118.9" cy="221.4" r="0.85" fill="#111"/>
<circle cx="120.6" cy="221.7" r="0.85" fill="#111"/>
<circle cx="120.1" cy="240.3" r="0.85" fill="#111"/>
<circle cx="119.3" cy="219.7" r="0.85" fill="#111"/>
<circle cx="116.5" cy="223.0" r="0.85" fill="#111"/>
<circle cx="118.3" cy="257.3" r="0.85" fill="#111"/>
<circle cx="120.4" cy="240.9" r="0.85" fill="#111"/>
<circle cx="117.2" cy="219.3" r="0.85" fill="#111"/>
<circle cx="122.4" cy="249.1" r="0.85" fill="#111"/>
<circle cx="120.9" cy="213.7" r="0.85" fill="#111"/>
<circle cx="121.8" cy="237.1" r="0.85" fill="#111"/>
<circle cx="122.6" cy="213.9" r="0.85" fill="#111"/>
<circle cx="120.9" cy="243.5" r="0.85" fill="#111"/>
<circle cx="120.5" cy="240.0" r="0.85" fill="#111"/>
<circle cx="121.0" cy="212.6" r="0.85" fill="#111"/>
<circle cx="122.4" cy="228.8" r="0.85" fill="#111"/>
<circle cx="116.8" cy="237.6" r="0.85" fill="#111"/>
<circle cx="118.2" cy="239.1" r="0.85" fill="#111"/>
<circle cx="120.6" cy="244.9" r="0.85" fill="#111"/>
<circle cx="116.9" cy="219.5" r="0.85" fill="#111"/>
<circle cx="117.8" cy="225.2" r="0.85" fill="#111"/>
<circle cx="121.0" cy="215.5" r="0.85" fill="#111"/>
<circle cx="118.0" cy="219.1" r="0.85" fill="#111"/>
<circle cx="122.5" cy="226.4" r="0.85" fill="#111"/>
<circle cx="122.2" cy="221.3" r="0.85" fill="#111"/>
<circle cx="118.6" cy="230.6" r="0.85" fill="#111"/>
<circle cx="121.4" cy="254.0" r="0.85" fill="#111"/>
<circle cx="120.3" cy="234.2" r="0.85" fill="#111"/>
<circle cx="121.8" cy="237.7" r="0.85" fill="#111"/>
<circle cx="118.8" cy="220.9" r="0.85" fill="#111"/>
<circle cx="118.3" cy="212.8" r="0.85" fill="#111"/>
<circle cx="119.4" cy="235.5" r="0.85" fill="#111"/>
<circle cx="119.5" cy="222.2" r="0.85" fill="#111"/>
<circle cx="117.0" cy="216.6" r="0.85" fill="#111"/>
<circle cx="121.3" cy="245.7" r="0.85" fill="#111"/>
<circle cx="122.8" cy="236.0" r="0.85" fill="#111"/>
<circle cx="119.6" cy="214.5" r="0.85" fill="#111"/>
<circle cx="120.0" cy="217.4" r="0.85" fill="#111"/>
<circle cx="120.6" cy="243.2" r="0.85" fill="#111"/>
<circle cx="120.7" cy="243.7" r="0.85" fill="#111"/>
<circle cx="117.4" cy="219.4" r="0.85" fill="#111"/>
<circle cx="121.9" cy="238.0" r="0.85" fill="#111"/>
<circle cx="120.6" cy="217.3" r="0.85" fill="#111"/>
<circle cx="117.6" cy="259.5" r="0.85" fill="#111"/>
<circle cx="121.3" cy="258.1" r="0.85" fill="#111"/>
<circle cx="121.8" cy="217.2" r="0.85" fill="#111"/>
<circle cx="120.0" cy="223.7" r="0.85" fill="#111"/>
<circle cx="118.0" cy="240.0" r="0.85" fill="#111"/>
<circle cx="120.5" cy="230.7" r="0.85" fill="#111"/>
<circle cx="122.3" cy="256.3" r="0.85" fill="#111"/>
<circle cx="119.7" cy="266.9" r="0.85" fill="#111"/>
<circle cx="120.2" cy="221.3" r="0.85" fill="#111"/>
<circle cx="117.5" cy="235.0" r="0.85" fill="#111"/>
<circle cx="117.1" cy="244.9" r="0.85" fill="#111"/>
<circle cx="117.7" cy="226.2" r="0.85" fill="#111"/>
<circle cx="121.9" cy="210.8" r="0.85" fill="#111"/>
<circle cx="119.2" cy="257.5" r="0.85" fill="#111"/>
<circle cx="119.8" cy="234.1" r="0.85" fill="#111"/>
<circle cx="119.3" cy="222.7" r="0.85" fill="#111"/>
<circle cx="122.3" cy="239.9" r="0.85" fill="#111"/>
<circle cx="119.3" cy="221.1" r="0.85" fill="#111"/>
<circle cx="117.8" cy="223.0" r="0.85" fill="#111"/>
<rect x="24.6" y="182.1" width="139.6" height="124.6" fill="none" stroke="#7a7a7a" stroke-width="1"/>
<line x1="22.4" y1="302.3" x2="24.6" y2="302.3" stroke="#7a7a7a" stroke-width="0.8"/>
<text x="0" y="0" transform="translate(16.4 303.3) rotate(-90)" font-size="6" font-weight="bold" text-anchor="middle" fill="#000" stroke="#000" stroke-width="0.15">0</text>
<line x1="22.4" y1="285.8" x2="24.6" y2="285.8" stroke="#7a7a7a" stroke-width="0.8"/>
<text x="0" y="0" transform="translate(16.4 286.8) rotate(-90)" font-size="6" font-weight="bold" text-anchor="middle" fill="#000" stroke="#000" stroke-width="0.15">2</text>
<line x1="22.4" y1="269.3" x2="24.6" y2="269.3" stroke="#7a7a7a" stroke-width="0.8"/>
<text x="0" y="0" transform="translate(16.4 270.3) rotate(-90)" font-size="6" font-weight="bold" text-anchor="middle" fill="#000" stroke="#000" stroke-width="0.15">4</text>
<line x1="22.4" y1="252.8" x2="24.6" y2="252.8" stroke="#7a7a7a" stroke-width="0.8"/>
<text x="0" y="0" transform="translate(16.4 253.8) rotate(-90)" font-size="6" font-weight="bold" text-anchor="middle" fill="#000" stroke="#000" stroke-width="0.15">6</text>
<line x1="22.4" y1="236.3" x2="24.6" y2="236.3" stroke="#7a7a7a" stroke-width="0.8"/>
<text x="0" y="0" transform="translate(16.4 237.3) rotate(-90)" font-size="6" font-weight="bold" text-anchor="middle" fill="#000" stroke="#000" stroke-width="0.15">8</text>
<line x1="22.4" y1="219.8" x2="24.6" y2="219.8" stroke="#7a7a7a" stroke-width="0.8"/>
<text x="0" y="0" transform="translate(16.4 220.8) rotate(-90)" font-size="6" font-weight="bold" text-anchor="middle" fill="#000" stroke="#000" stroke-width="0.15">10</text>
<line x1="22.4" y1="203.3" x2="24.6" y2="203.3" stroke="#7a7a7a" stroke-width="0.8"/>
<text x="0" y="0" transform="translate(16.4 204.3) rotate(-90)" font-size="6" font-weight="bold" text-anchor="middle" fill="#000" stroke="#000" stroke-width="0.15">12</text>
<line x1="22.4" y1="186.8" x2="24.6" y2="186.8" stroke="#7a7a7a" stroke-width="0.8"/>
<text x="0" y="0" transform="translate(16.4 187.8) rotate(-90)" font-size="6" font-weight="bold" text-anchor="middle" fill="#000" stroke="#000" stroke-width="0.15">14</text>
<text x="0" y="0" transform="translate(5.1 243.4) rotate(-90)" font-size="6" font-weight="bold" text-anchor="middle" fill="#000" stroke="#000" stroke-width="0.15">Exprs</text>
<line x1="42.7" y1="306.7" x2="42.7" y2="308.9" stroke="#7a7a7a" stroke-width="0.8"/>
<text x="42.7" y="320.0" font-size="6" font-weight="bold" text-anchor="middle" fill="#000" stroke="#000" stroke-width="0.15">MBC</text>
<line x1="68.5" y1="306.7" x2="68.5" y2="308.9" stroke="#7a7a7a" stroke-width="0.8"/>
<text x="68.5" y="320.0" font-size="6" font-weight="bold" text-anchor="middle" fill="#000" stroke="#000" stroke-width="0.15">BMPC</text>
<line x1="94.4" y1="306.7" x2="94.4" y2="308.9" stroke="#7a7a7a" stroke-width="0.8"/>
<text x="94.4" y="320.0" font-size="6" font-weight="bold" text-anchor="middle" fill="#000" stroke="#000" stroke-width="0.15">MGUS</text>
<line x1="120.3" y1="306.7" x2="120.3" y2="308.9" stroke="#7a7a7a" stroke-width="0.8"/>
<text x="120.3" y="320.0" font-size="6" font-weight="bold" text-anchor="middle" fill="#000" stroke="#000" stroke-width="0.15">MM</text>
<line x1="146.1" y1="306.7" x2="146.1" y2="308.9" stroke="#7a7a7a" stroke-width="0.8"/>
<text x="146.1" y="320.0" font-size="6" font-weight="bold" text-anchor="middle" fill="#000" stroke="#000" stroke-width="0.15">HMCL</text>
<text x="92.5" y="173.3" font-size="7.5" font-weight="bold" text-anchor="middle" fill="#000" stroke="#000" stroke-width="0.12">MET(203510_at)</text>
<line x1="220.3" y1="245.2" x2="220.3" y2="249.9" stroke="#e6e6e6" stroke-width="0.8"/>
<line x1="215.2" y1="245.2" x2="225.5" y2="245.2" stroke="#e6e6e6" stroke-width="0.8"/>
<line x1="220.3" y1="265.6" x2="220.3" y2="275.1" stroke="#e6e6e6" stroke-width="0.8"/>
<line x1="215.2" y1="275.1" x2="225.5" y2="275.1" stroke="#e6e6e6" stroke-width="0.8"/>
<rect x="210.0" y="249.9" width="20.7" height="15.7" fill="#e3e3e3"/>
<line x1="210.0" y1="254.5" x2="230.7" y2="254.5" stroke="#c8c8c8" stroke-width="1"/>
<line x1="246.2" y1="231.7" x2="246.2" y2="245.2" stroke="#e6e6e6" stroke-width="0.8"/>
<line x1="241.1" y1="231.7" x2="251.4" y2="231.7" stroke="#e6e6e6" stroke-width="0.8"/>
<line x1="246.2" y1="254.7" x2="246.2" y2="275.1" stroke="#e6e6e6" stroke-width="0.8"/>
<line x1="241.1" y1="275.1" x2="251.4" y2="275.1" stroke="#e6e6e6" stroke-width="0.8"/>
<rect x="235.9" y="245.2" width="20.7" height="9.5" fill="#e3e3e3"/>
<line x1="235.9" y1="249.0" x2="256.6" y2="249.0" stroke="#c8c8c8" stroke-width="1"/>
<line x1="272.1" y1="207.3" x2="272.1" y2="224.1" stroke="#e6e6e6" stroke-width="0.8"/>
<line x1="267.0" y1="207.3" x2="277.3" y2="207.3" stroke="#e6e6e6" stroke-width="0.8"/>
<line x1="272.1" y1="259.3" x2="272.1" y2="283.7" stroke="#e6e6e6" stroke-width="0.8"/>
<line x1="267.0" y1="283.7" x2="277.3" y2="283.7" stroke="#e6e6e6" stroke-width="0.8"/>
<rect x="261.8" y="224.1" width="20.7" height="35.2" fill="#e3e3e3"/>
<line x1="261.8" y1="237.1" x2="282.5" y2="237.1" stroke="#c8c8c8" stroke-width="1"/>
<line x1="298.1" y1="209.2" x2="298.1" y2="228.7" stroke="#e6e6e6" stroke-width="0.8"/>
<line x1="292.9" y1="209.2" x2="303.2" y2="209.2" stroke="#e6e6e6" stroke-width="0.8"/>
<line x1="298.1" y1="255.8" x2="298.1" y2="283.2" stroke="#e6e6e6" stroke-width="0.8"/>
<line x1="292.9" y1="283.2" x2="303.2" y2="283.2" stroke="#e6e6e6" stroke-width="0.8"/>
<rect x="287.7" y="228.7" width="20.7" height="27.1" fill="#e3e3e3"/>
<line x1="287.7" y1="237.1" x2="308.4" y2="237.1" stroke="#c8c8c8" stroke-width="1"/>
<line x1="324.0" y1="225.5" x2="324.0" y2="240.9" stroke="#e6e6e6" stroke-width="0.8"/>
<line x1="318.8" y1="225.5" x2="329.1" y2="225.5" stroke="#e6e6e6" stroke-width="0.8"/>
<line x1="324.0" y1="273.4" x2="324.0" y2="282.4" stroke="#e6e6e6" stroke-width="0.8"/>
<line x1="318.8" y1="282.4" x2="329.1" y2="282.4" stroke="#e6e6e6" stroke-width="0.8"/>
<rect x="313.6" y="240.9" width="20.7" height="32.5" fill="#e3e3e3"/>
<line x1="313.6" y1="251.8" x2="334.3" y2="251.8" stroke="#c8c8c8" stroke-width="1"/>
<circle cx="218.4" cy="245.2" r="0.85" fill="#111"/>
<circle cx="219.5" cy="250.7" r="0.85" fill="#111"/>
<circle cx="217.6" cy="253.9" r="0.85" fill="#111"/>
<circle cx="221.1" cy="254.7" r="0.85" fill="#111"/>
<circle cx="219.0" cy="265.3" r="0.85" fill="#111"/>
<circle cx="219.5" cy="275.1" r="0.85" fill="#111"/>
<circle cx="248.3" cy="231.7" r="0.85" fill="#111"/>
<circle cx="246.6" cy="243.6" r="0.85" fill="#111"/>
<circle cx="245.6" cy="248.0" r="0.85" fill="#111"/>
<circle cx="247.5" cy="250.7" r="0.85" fill="#111"/>
<circle cx="244.7" cy="258.0" r="0.85" fill="#111"/>
<circle cx="244.7" cy="275.1" r="0.85" fill="#111"/>
<circle cx="272.7" cy="207.3" r="0.85" fill="#111"/>
<circle cx="271.0" cy="211.9" r="0.85" fill="#111"/>
<circle cx="270.0" cy="224.1" r="0.85" fill="#111"/>
<circle cx="271.9" cy="226.8" r="0.85" fill="#111"/>
<circle cx="272.7" cy="237.1" r="0.85" fill="#111"/>
<circle cx="271.9" cy="249.0" r="0.85" fill="#111"/>
<circle cx="273.8" cy="251.8" r="0.85" fill="#111"/>
<circle cx="272.7" cy="266.1" r="0.85" fill="#111"/>
<circle cx="273.2" cy="268.8" r="0.85" fill="#111"/>
<circle cx="271.9" cy="283.7" r="0.85" fill="#111"/>
<circle cx="325.8" cy="225.6" r="0.85" fill="#111"/>
<circle cx="323.5" cy="229.0" r="0.85" fill="#111"/>
<circle cx="322.7" cy="235.5" r="0.85" fill="#111"/>
<circle cx="325.5" cy="235.7" r="0.85" fill="#111"/>
<circle cx="325.2" cy="239.1" r="0.85" fill="#111"/>
<circle cx="324.1" cy="240.1" r="0.85" fill="#111"/>
<circle cx="321.2" cy="242.4" r="0.85" fill="#111"/>
<circle cx="324.1" cy="245.1" r="0.85" fill="#111"/>
<circle cx="321.8" cy="248.3" r="0.85" fill="#111"/>
<circle cx="323.0" cy="251.6" r="0.85" fill="#111"/>
<circle cx="325.2" cy="252.4" r="0.85" fill="#111"/>
<circle cx="322.4" cy="253.5" r="0.85" fill="#111"/>
<circle cx="324.2" cy="252.0" r="0.85" fill="#111"/>
<circle cx="325.8" cy="255.5" r="0.85" fill="#111"/>
<circle cx="323.5" cy="261.6" r="0.85" fill="#111"/>
<circle cx="323.0" cy="263.0" r="0.85" fill="#111"/>
<circle cx="322.4" cy="270.7" r="0.85" fill="#111"/>
<circle cx="323.0" cy="271.9" r="0.85" fill="#111"/>
<circle cx="324.7" cy="275.3" r="0.85" fill="#111"/>
<circle cx="321.2" cy="277.6" r="0.85" fill="#111"/>
<circle cx="325.2" cy="278.8" r="0.85" fill="#111"/>
<circle cx="322.7" cy="281.1" r="0.85" fill="#111"/>
<circle cx="325.8" cy="282.8" r="0.85" fill="#111"/>
<circle cx="297.9" cy="223.9" r="0.85" fill="#111"/>
<circle cx="300.7" cy="282.7" r="0.85" fill="#111"/>
<circle cx="299.0" cy="283.5" r="0.85" fill="#111"/>
<circle cx="299.4" cy="255.9" r="0.85" fill="#111"/>
<circle cx="298.7" cy="222.7" r="0.85" fill="#111"/>
<circle cx="299.2" cy="276.7" r="0.85" fill="#111"/>
<circle cx="300.8" cy="224.8" r="0.85" fill="#111"/>
<circle cx="299.4" cy="217.7" r="0.85" fill="#111"/>
<circle cx="299.3" cy="212.9" r="0.85" fill="#111"/>
<circle cx="297.6" cy="235.7" r="0.85" fill="#111"/>
<circle cx="297.5" cy="235.0" r="0.85" fill="#111"/>
<circle cx="300.9" cy="217.3" r="0.85" fill="#111"/>
<circle cx="300.7" cy="214.2" r="0.85" fill="#111"/>
<circle cx="298.4" cy="213.4" r="0.85" fill="#111"/>
<circle cx="298.6" cy="231.5" r="0.85" fill="#111"/>
<circle cx="295.6" cy="235.3" r="0.85" fill="#111"/>
<circle cx="295.3" cy="236.1" r="0.85" fill="#111"/>
<circle cx="297.8" cy="212.4" r="0.85" fill="#111"/>
<circle cx="299.7" cy="263.3" r="0.85" fill="#111"/>
<circle cx="301.5" cy="214.3" r="0.85" fill="#111"/>
<circle cx="300.4" cy="213.7" r="0.85" fill="#111"/>
<circle cx="301.3" cy="216.9" r="0.85" fill="#111"/>
<circle cx="295.7" cy="244.6" r="0.85" fill="#111"/>
<circle cx="296.4" cy="255.9" r="0.85" fill="#111"/>
<circle cx="298.8" cy="209.7" r="0.85" fill="#111"/>
<circle cx="299.6" cy="222.8" r="0.85" fill="#111"/>
<circle cx="299.0" cy="249.9" r="0.85" fill="#111"/>
<circle cx="301.0" cy="263.4" r="0.85" fill="#111"/>
<circle cx="299.9" cy="257.5" r="0.85" fill="#111"/>
<circle cx="299.4" cy="244.1" r="0.85" fill="#111"/>
<circle cx="297.3" cy="256.8" r="0.85" fill="#111"/>
<circle cx="299.7" cy="252.6" r="0.85" fill="#111"/>
<circle cx="295.5" cy="236.8" r="0.85" fill="#111"/>
<circle cx="295.6" cy="245.9" r="0.85" fill="#111"/>
<circle cx="296.5" cy="279.5" r="0.85" fill="#111"/>
<circle cx="300.5" cy="229.6" r="0.85" fill="#111"/>
<circle cx="294.9" cy="214.2" r="0.85" fill="#111"/>
<circle cx="296.1" cy="245.8" r="0.85" fill="#111"/>
<circle cx="299.5" cy="222.3" r="0.85" fill="#111"/>
<circle cx="300.8" cy="215.6" r="0.85" fill="#111"/>
<circle cx="300.3" cy="240.7" r="0.85" fill="#111"/>
<circle cx="297.1" cy="270.2" r="0.85" fill="#111"/>
<circle cx="300.7" cy="232.1" r="0.85" fill="#111"/>
<circle cx="296.0" cy="255.5" r="0.85" fill="#111"/>
<circle cx="297.5" cy="265.2" r="0.85" fill="#111"/>
<circle cx="300.5" cy="216.3" r="0.85" fill="#111"/>
<circle cx="299.0" cy="249.2" r="0.85" fill="#111"/>
<circle cx="296.3" cy="224.1" r="0.85" fill="#111"/>
<circle cx="295.1" cy="263.8" r="0.85" fill="#111"/>
<circle cx="298.0" cy="225.6" r="0.85" fill="#111"/>
<circle cx="297.2" cy="226.8" r="0.85" fill="#111"/>
<circle cx="297.1" cy="235.6" r="0.85" fill="#111"/>
<circle cx="301.5" cy="230.1" r="0.85" fill="#111"/>
<circle cx="299.4" cy="215.7" r="0.85" fill="#111"/>
<circle cx="298.2" cy="221.6" r="0.85" fill="#111"/>
<circle cx="298.4" cy="235.2" r="0.85" fill="#111"/>
<circle cx="295.0" cy="283.9" r="0.85" fill="#111"/>
<circle cx="300.7" cy="244.5" r="0.85" fill="#111"/>
<circle cx="299.1" cy="264.5" r="0.85" fill="#111"/>
<circle cx="300.2" cy="222.0" r="0.85" fill="#111"/>
<circle cx="299.4" cy="269.1" r="0.85" fill="#111"/>
<circle cx="299.8" cy="244.1" r="0.85" fill="#111"/>
<circle cx="297.2" cy="238.2" r="0.85" fill="#111"/>
<circle cx="295.2" cy="227.7" r="0.85" fill="#111"/>
<circle cx="301.5" cy="223.9" r="0.85" fill="#111"/>
<circle cx="296.5" cy="225.9" r="0.85" fill="#111"/>
<circle cx="295.7" cy="225.1" r="0.85" fill="#111"/>
<circle cx="297.9" cy="249.1" r="0.85" fill="#111"/>
<circle cx="296.9" cy="235.2" r="0.85" fill="#111"/>
<circle cx="296.9" cy="212.1" r="0.85" fill="#111"/>
<circle cx="298.5" cy="242.4" r="0.85" fill="#111"/>
<circle cx="301.1" cy="274.8" r="0.85" fill="#111"/>
<circle cx="296.0" cy="212.7" r="0.85" fill="#111"/>
<circle cx="297.2" cy="254.4" r="0.85" fill="#111"/>
<circle cx="300.7" cy="261.4" r="0.85" fill="#111"/>
<circle cx="300.9" cy="231.3" r="0.85" fill="#111"/>
<circle cx="295.0" cy="220.8" r="0.85" fill="#111"/>
<circle cx="299.6" cy="221.3" r="0.85" fill="#111"/>
<circle cx="296.2" cy="227.4" r="0.85" fill="#111"/>
<circle cx="299.2" cy="248.7" r="0.85" fill="#111"/>
<circle cx="301.3" cy="242.8" r="0.85" fill="#111"/>
<circle cx="300.3" cy="212.6" r="0.85" fill="#111"/>
<circle cx="295.7" cy="260.1" r="0.85" fill="#111"/>
<circle cx="300.8" cy="233.7" r="0.85" fill="#111"/>
<circle cx="296.2" cy="251.5" r="0.85" fill="#111"/>
<circle cx="299.2" cy="243.5" r="0.85" fill="#111"/>
<circle cx="297.1" cy="240.2" r="0.85" fill="#111"/>
<circle cx="295.1" cy="228.1" r="0.85" fill="#111"/>
<circle cx="298.2" cy="224.4" r="0.85" fill="#111"/>
<circle cx="298.0" cy="220.8" r="0.85" fill="#111"/>
<circle cx="298.6" cy="251.6" r="0.85" fill="#111"/>
<circle cx="299.0" cy="270.8" r="0.85" fill="#111"/>
<circle cx="295.4" cy="224.1" r="0.85" fill="#111"/>
<circle cx="300.0" cy="215.6" r="0.85" fill="#111"/>
<circle cx="297.7" cy="246.4" r="0.85" fill="#111"/>
<circle cx="298.6" cy="236.1" r="0.85" fill="#111"/>
<circle cx="297.0" cy="236.7" r="0.85" fill="#111"/>
<circle cx="299.6" cy="220.9" r="0.85" fill="#111"/>
<circle cx="296.9" cy="244.7" r="0.85" fill="#111"/>
<circle cx="297.9" cy="269.7" r="0.85" fill="#111"/>
<circle cx="301.2" cy="233.1" r="0.85" fill="#111"/>
<circle cx="298.0" cy="209.4" r="0.85" fill="#111"/>
<circle cx="297.3" cy="244.6" r="0.85" fill="#111"/>
<circle cx="299.9" cy="273.2" r="0.85" fill="#111"/>
<circle cx="295.7" cy="210.3" r="0.85" fill="#111"/>
<circle cx="298.6" cy="232.1" r="0.85" fill="#111"/>
<circle cx="297.3" cy="252.2" r="0.85" fill="#111"/>
<circle cx="299.8" cy="217.2" r="0.85" fill="#111"/>
<circle cx="295.0" cy="272.3" r="0.85" fill="#111"/>
<circle cx="301.5" cy="258.6" r="0.85" fill="#111"/>
<circle cx="297.1" cy="238.3" r="0.85" fill="#111"/>
<circle cx="297.0" cy="261.9" r="0.85" fill="#111"/>
<circle cx="299.8" cy="256.6" r="0.85" fill="#111"/>
<circle cx="297.5" cy="238.7" r="0.85" fill="#111"/>
<circle cx="298.6" cy="255.9" r="0.85" fill="#111"/>
<circle cx="301.2" cy="251.3" r="0.85" fill="#111"/>
<circle cx="296.5" cy="219.3" r="0.85" fill="#111"/>
<circle cx="296.4" cy="229.0" r="0.85" fill="#111"/>
<circle cx="299.2" cy="243.9" r="0.85" fill="#111"/>
<circle cx="296.3" cy="254.7" r="0.85" fill="#111"/>
<circle cx="300.7" cy="216.2" r="0.85" fill="#111"/>
<circle cx="299.9" cy="259.0" r="0.85" fill="#111"/>
<circle cx="297.1" cy="259.2" r="0.85" fill="#111"/>
<circle cx="295.9" cy="250.0" r="0.85" fill="#111"/>
<circle cx="297.9" cy="236.5" r="0.85" fill="#111"/>
<circle cx="296.2" cy="249.6" r="0.85" fill="#111"/>
<circle cx="300.1" cy="260.4" r="0.85" fill="#111"/>
<circle cx="300.7" cy="257.7" r="0.85" fill="#111"/>
<circle cx="295.0" cy="274.2" r="0.85" fill="#111"/>
<circle cx="294.9" cy="253.8" r="0.85" fill="#111"/>
<circle cx="299.8" cy="257.3" r="0.85" fill="#111"/>
<circle cx="299.4" cy="216.8" r="0.85" fill="#111"/>
<circle cx="301.0" cy="224.6" r="0.85" fill="#111"/>
<circle cx="301.5" cy="249.6" r="0.85" fill="#111"/>
<circle cx="300.2" cy="219.8" r="0.85" fill="#111"/>
<circle cx="298.2" cy="210.7" r="0.85" fill="#111"/>
<circle cx="295.5" cy="228.8" r="0.85" fill="#111"/>
<circle cx="297.0" cy="254.6" r="0.85" fill="#111"/>
<circle cx="298.1" cy="256.8" r="0.85" fill="#111"/>
<circle cx="296.0" cy="228.7" r="0.85" fill="#111"/>
<circle cx="299.8" cy="215.8" r="0.85" fill="#111"/>
<circle cx="297.2" cy="214.2" r="0.85" fill="#111"/>
<circle cx="297.2" cy="251.3" r="0.85" fill="#111"/>
<circle cx="300.8" cy="253.5" r="0.85" fill="#111"/>
<circle cx="296.0" cy="221.6" r="0.85" fill="#111"/>
<circle cx="295.1" cy="212.2" r="0.85" fill="#111"/>
<circle cx="298.6" cy="227.8" r="0.85" fill="#111"/>
<circle cx="299.5" cy="209.5" r="0.85" fill="#111"/>
<circle cx="298.5" cy="234.0" r="0.85" fill="#111"/>
<circle cx="300.7" cy="254.2" r="0.85" fill="#111"/>
<circle cx="297.0" cy="227.4" r="0.85" fill="#111"/>
<circle cx="297.4" cy="253.8" r="0.85" fill="#111"/>
<circle cx="295.8" cy="227.9" r="0.85" fill="#111"/>
<circle cx="298.9" cy="270.1" r="0.85" fill="#111"/>
<circle cx="299.0" cy="273.6" r="0.85" fill="#111"/>
<circle cx="296.1" cy="220.1" r="0.85" fill="#111"/>
<circle cx="300.1" cy="247.8" r="0.85" fill="#111"/>
<circle cx="299.5" cy="255.7" r="0.85" fill="#111"/>
<circle cx="298.5" cy="238.7" r="0.85" fill="#111"/>
<circle cx="294.8" cy="253.7" r="0.85" fill="#111"/>
<circle cx="298.3" cy="248.3" r="0.85" fill="#111"/>
<circle cx="296.4" cy="254.8" r="0.85" fill="#111"/>
<circle cx="297.4" cy="243.2" r="0.85" fill="#111"/>
<circle cx="298.4" cy="227.1" r="0.85" fill="#111"/>
<circle cx="297.0" cy="240.2" r="0.85" fill="#111"/>
<circle cx="296.3" cy="234.0" r="0.85" fill="#111"/>
<circle cx="301.0" cy="221.2" r="0.85" fill="#111"/>
<circle cx="298.3" cy="242.2" r="0.85" fill="#111"/>
<circle cx="295.8" cy="219.2" r="0.85" fill="#111"/>
<circle cx="298.4" cy="277.4" r="0.85" fill="#111"/>
<circle cx="296.4" cy="246.4" r="0.85" fill="#111"/>
<circle cx="297.9" cy="246.8" r="0.85" fill="#111"/>
<circle cx="300.9" cy="247.1" r="0.85" fill="#111"/>
<circle cx="297.4" cy="255.6" r="0.85" fill="#111"/>
<circle cx="295.6" cy="267.3" r="0.85" fill="#111"/>
<circle cx="295.5" cy="220.6" r="0.85" fill="#111"/>
<circle cx="298.3" cy="245.9" r="0.85" fill="#111"/>
<circle cx="297.5" cy="213.0" r="0.85" fill="#111"/>
<circle cx="297.9" cy="279.7" r="0.85" fill="#111"/>
<circle cx="300.0" cy="245.7" r="0.85" fill="#111"/>
<circle cx="297.3" cy="240.3" r="0.85" fill="#111"/>
<circle cx="297.3" cy="219.9" r="0.85" fill="#111"/>
<circle cx="294.9" cy="226.5" r="0.85" fill="#111"/>
<circle cx="295.2" cy="235.2" r="0.85" fill="#111"/>
<circle cx="296.7" cy="242.0" r="0.85" fill="#111"/>
<circle cx="300.5" cy="220.1" r="0.85" fill="#111"/>
<circle cx="300.6" cy="238.3" r="0.85" fill="#111"/>
<circle cx="300.2" cy="228.5" r="0.85" fill="#111"/>
<circle cx="295.1" cy="226.1" r="0.85" fill="#111"/>
<circle cx="299.6" cy="225.9" r="0.85" fill="#111"/>
<circle cx="299.2" cy="227.8" r="0.85" fill="#111"/>
<circle cx="297.4" cy="260.3" r="0.85" fill="#111"/>
<circle cx="296.1" cy="251.5" r="0.85" fill="#111"/>
<circle cx="297.3" cy="280.0" r="0.85" fill="#111"/>
<circle cx="295.3" cy="224.2" r="0.85" fill="#111"/>
<circle cx="298.4" cy="226.5" r="0.85" fill="#111"/>
<circle cx="299.9" cy="250.5" r="0.85" fill="#111"/>
<circle cx="297.9" cy="236.3" r="0.85" fill="#111"/>
<circle cx="297.6" cy="247.6" r="0.85" fill="#111"/>
<circle cx="297.8" cy="250.0" r="0.85" fill="#111"/>
<circle cx="300.4" cy="232.5" r="0.85" fill="#111"/>
<circle cx="297.5" cy="243.1" r="0.85" fill="#111"/>
<circle cx="298.6" cy="240.3" r="0.85" fill="#111"/>
<circle cx="295.6" cy="266.5" r="0.85" fill="#111"/>
<circle cx="300.4" cy="212.5" r="0.85" fill="#111"/>
<circle cx="299.9" cy="213.1" r="0.85" fill="#111"/>
<circle cx="299.4" cy="211.5" r="0.85" fill="#111"/>
<circle cx="295.2" cy="231.2" r="0.85" fill="#111"/>
<circle cx="298.8" cy="228.2" r="0.85" fill="#111"/>
<circle cx="300.7" cy="281.4" r="0.85" fill="#111"/>
<circle cx="298.3" cy="224.4" r="0.85" fill="#111"/>
<circle cx="296.7" cy="254.5" r="0.85" fill="#111"/>
<circle cx="296.5" cy="223.4" r="0.85" fill="#111"/>
<circle cx="298.3" cy="263.3" r="0.85" fill="#111"/>
<circle cx="296.9" cy="211.4" r="0.85" fill="#111"/>
<circle cx="300.6" cy="267.0" r="0.85" fill="#111"/>
<circle cx="295.2" cy="218.3" r="0.85" fill="#111"/>
<circle cx="298.0" cy="226.2" r="0.85" fill="#111"/>
<circle cx="297.3" cy="235.9" r="0.85" fill="#111"/>
<circle cx="301.1" cy="258.0" r="0.85" fill="#111"/>
<rect x="202.2" y="181.9" width="139.9" height="124.8" fill="none" stroke="#7a7a7a" stroke-width="1"/>
<line x1="200.0" y1="302.6" x2="202.2" y2="302.6" stroke="#7a7a7a" stroke-width="0.8"/>
<text x="0" y="0" transform="translate(194.0 303.6) rotate(-90)" font-size="6" font-weight="bold" text-anchor="middle" fill="#000" stroke="#000" stroke-width="0.15">0</text>
<line x1="200.0" y1="286.0" x2="202.2" y2="286.0" stroke="#7a7a7a" stroke-width="0.8"/>
<text x="0" y="0" transform="translate(194.0 287.0) rotate(-90)" font-size="6" font-weight="bold" text-anchor="middle" fill="#000" stroke="#000" stroke-width="0.15">2</text>
<line x1="200.0" y1="269.4" x2="202.2" y2="269.4" stroke="#7a7a7a" stroke-width="0.8"/>
<text x="0" y="0" transform="translate(194.0 270.4) rotate(-90)" font-size="6" font-weight="bold" text-anchor="middle" fill="#000" stroke="#000" stroke-width="0.15">4</text>
<line x1="200.0" y1="252.8" x2="202.2" y2="252.8" stroke="#7a7a7a" stroke-width="0.8"/>
<text x="0" y="0" transform="translate(194.0 253.8) rotate(-90)" font-size="6" font-weight="bold" text-anchor="middle" fill="#000" stroke="#000" stroke-width="0.15">6</text>
<line x1="200.0" y1="236.2" x2="202.2" y2="236.2" stroke="#7a7a7a" stroke-width="0.8"/>
<text x="0" y="0" transform="translate(194.0 237.2) rotate(-90)" font-size="6" font-weight="bold" text-anchor="middle" fill="#000" stroke="#000" stroke-width="0.15">8</text>
<line x1="200.0" y1="219.6" x2="202.2" y2="219.6" stroke="#7a7a7a" stroke-width="0.8"/>
<text x="0" y="0" transform="translate(194.0 220.6) rotate(-90)" font-size="6" font-weight="bold" text-anchor="middle" fill="#000" stroke="#000" stroke-width="0.15">10</text>
<line x1="200.0" y1="203.0" x2="202.2" y2="203.0" stroke="#7a7a7a" stroke-width="0.8"/>
<text x="0" y="0" transform="translate(194.0 204.0) rotate(-90)" font-size="6" font-weight="bold" text-anchor="middle" fill="#000" stroke="#000" stroke-width="0.15">12</text>
<line x1="200.0" y1="186.4" x2="202.2" y2="186.4" stroke="#7a7a7a" stroke-width="0.8"/>
<text x="0" y="0" transform="translate(194.0 187.4) rotate(-90)" font-size="6" font-weight="bold" text-anchor="middle" fill="#000" stroke="#000" stroke-width="0.15">14</text>
<text x="0" y="0" transform="translate(182.7 243.3) rotate(-90)" font-size="6" font-weight="bold" text-anchor="middle" fill="#000" stroke="#000" stroke-width="0.15">Exprs</text>
<line x1="220.3" y1="306.7" x2="220.3" y2="308.9" stroke="#7a7a7a" stroke-width="0.8"/>
<text x="220.3" y="320.0" font-size="6" font-weight="bold" text-anchor="middle" fill="#000" stroke="#000" stroke-width="0.15">MBC</text>
<line x1="246.2" y1="306.7" x2="246.2" y2="308.9" stroke="#7a7a7a" stroke-width="0.8"/>
<text x="246.2" y="320.0" font-size="6" font-weight="bold" text-anchor="middle" fill="#000" stroke="#000" stroke-width="0.15">BMPC</text>
<line x1="272.1" y1="306.7" x2="272.1" y2="308.9" stroke="#7a7a7a" stroke-width="0.8"/>
<text x="272.1" y="320.0" font-size="6" font-weight="bold" text-anchor="middle" fill="#000" stroke="#000" stroke-width="0.15">MGUS</text>
<line x1="298.1" y1="306.7" x2="298.1" y2="308.9" stroke="#7a7a7a" stroke-width="0.8"/>
<text x="298.1" y="320.0" font-size="6" font-weight="bold" text-anchor="middle" fill="#000" stroke="#000" stroke-width="0.15">MM</text>
<line x1="324.0" y1="306.7" x2="324.0" y2="308.9" stroke="#7a7a7a" stroke-width="0.8"/>
<text x="324.0" y="320.0" font-size="6" font-weight="bold" text-anchor="middle" fill="#000" stroke="#000" stroke-width="0.15">HMCL</text>
<text x="270.5" y="173.3" font-size="7.5" font-weight="bold" text-anchor="middle" fill="#000" stroke="#000" stroke-width="0.12">IL-15(205992_s_at)</text>
<line x1="395.8" y1="270.2" x2="395.8" y2="271.0" stroke="#e6e6e6" stroke-width="0.8"/>
<line x1="390.6" y1="270.2" x2="400.9" y2="270.2" stroke="#e6e6e6" stroke-width="0.8"/>
<line x1="395.8" y1="275.6" x2="395.8" y2="277.8" stroke="#e6e6e6" stroke-width="0.8"/>
<line x1="390.6" y1="277.8" x2="400.9" y2="277.8" stroke="#e6e6e6" stroke-width="0.8"/>
<rect x="385.4" y="271.0" width="20.7" height="4.6" fill="#e3e3e3"/>
<line x1="385.4" y1="273.4" x2="406.1" y2="273.4" stroke="#c8c8c8" stroke-width="1"/>
<line x1="421.6" y1="236.3" x2="421.6" y2="244.4" stroke="#e6e6e6" stroke-width="0.8"/>
<line x1="416.4" y1="236.3" x2="426.8" y2="236.3" stroke="#e6e6e6" stroke-width="0.8"/>
<line x1="421.6" y1="253.9" x2="421.6" y2="269.6" stroke="#e6e6e6" stroke-width="0.8"/>
<line x1="416.4" y1="269.6" x2="426.8" y2="269.6" stroke="#e6e6e6" stroke-width="0.8"/>
<rect x="411.3" y="244.4" width="20.7" height="9.5" fill="#e3e3e3"/>
<line x1="411.3" y1="249.0" x2="431.9" y2="249.0" stroke="#c8c8c8" stroke-width="1"/>
<line x1="447.5" y1="220.8" x2="447.5" y2="233.6" stroke="#e6e6e6" stroke-width="0.8"/>
<line x1="442.3" y1="220.8" x2="452.6" y2="220.8" stroke="#e6e6e6" stroke-width="0.8"/>
<line x1="447.5" y1="255.3" x2="447.5" y2="269.6" stroke="#e6e6e6" stroke-width="0.8"/>
<line x1="442.3" y1="269.6" x2="452.6" y2="269.6" stroke="#e6e6e6" stroke-width="0.8"/>
<rect x="437.1" y="233.6" width="20.7" height="21.7" fill="#e3e3e3"/>
<line x1="437.1" y1="239.8" x2="457.8" y2="239.8" stroke="#c8c8c8" stroke-width="1"/>
<line x1="473.3" y1="204.6" x2="473.3" y2="243.8" stroke="#e6e6e6" stroke-width="0.8"/>
<line x1="468.1" y1="204.6" x2="478.5" y2="204.6" stroke="#e6e6e6" stroke-width="0.8"/>
<line x1="473.3" y1="270.0" x2="473.3" y2="283.7" stroke="#e6e6e6" stroke-width="0.8"/>
<line x1="468.1" y1="283.7" x2="478.5" y2="283.7" stroke="#e6e6e6" stroke-width="0.8"/>
<rect x="463.0" y="243.8" width="20.7" height="26.2" fill="#e3e3e3"/>
<line x1="463.0" y1="259.0" x2="483.6" y2="259.0" stroke="#c8c8c8" stroke-width="1"/>
<line x1="499.1" y1="226.3" x2="499.1" y2="255.8" stroke="#e6e6e6" stroke-width="0.8"/>
<line x1="493.9" y1="226.3" x2="504.3" y2="226.3" stroke="#e6e6e6" stroke-width="0.8"/>
<line x1="499.1" y1="273.0" x2="499.1" y2="281.7" stroke="#e6e6e6" stroke-width="0.8"/>
<line x1="493.9" y1="281.7" x2="504.3" y2="281.7" stroke="#e6e6e6" stroke-width="0.8"/>
<rect x="488.8" y="255.8" width="20.7" height="17.2" fill="#e3e3e3"/>
<line x1="488.8" y1="268.4" x2="509.4" y2="268.4" stroke="#c8c8c8" stroke-width="1"/>
<circle cx="396.5" cy="270.2" r="0.85" fill="#111"/>
<circle cx="395.4" cy="272.4" r="0.85" fill="#111"/>
<circle cx="393.8" cy="274.3" r="0.85" fill="#111"/>
<circle cx="393.3" cy="277.8" r="0.85" fill="#111"/>
<circle cx="422.6" cy="236.3" r="0.85" fill="#111"/>
<circle cx="420.9" cy="243.9" r="0.85" fill="#111"/>
<circle cx="423.1" cy="247.1" r="0.85" fill="#111"/>
<circle cx="421.7" cy="251.2" r="0.85" fill="#111"/>
<circle cx="423.1" cy="255.3" r="0.85" fill="#111"/>
<circle cx="420.4" cy="269.6" r="0.85" fill="#111"/>
<circle cx="447.5" cy="220.8" r="0.85" fill="#111"/>
<circle cx="446.1" cy="233.6" r="0.85" fill="#111"/>
<circle cx="448.0" cy="233.6" r="0.85" fill="#111"/>
<circle cx="448.9" cy="234.9" r="0.85" fill="#111"/>
<circle cx="447.0" cy="241.7" r="0.85" fill="#111"/>
<circle cx="448.9" cy="243.1" r="0.85" fill="#111"/>
<circle cx="446.1" cy="251.8" r="0.85" fill="#111"/>
<circle cx="447.5" cy="259.3" r="0.85" fill="#111"/>
<circle cx="449.7" cy="266.9" r="0.85" fill="#111"/>
<circle cx="446.1" cy="269.6" r="0.85" fill="#111"/>
<circle cx="472.0" cy="204.5" r="0.85" fill="#111"/>
<circle cx="474.0" cy="207.0" r="0.85" fill="#111"/>
<circle cx="473.0" cy="211.0" r="0.85" fill="#111"/>
<circle cx="471.5" cy="214.0" r="0.85" fill="#111"/>
<circle cx="501.5" cy="226.3" r="0.85" fill="#111"/>
<circle cx="497.5" cy="231.7" r="0.85" fill="#111"/>
<circle cx="496.9" cy="233.4" r="0.85" fill="#111"/>
<circle cx="497.5" cy="238.6" r="0.85" fill="#111"/>
<circle cx="499.8" cy="239.1" r="0.85" fill="#111"/>
<circle cx="498.6" cy="254.7" r="0.85" fill="#111"/>
<circle cx="499.2" cy="258.1" r="0.85" fill="#111"/>
<circle cx="501.0" cy="258.4" r="0.85" fill="#111"/>
<circle cx="497.5" cy="262.1" r="0.85" fill="#111"/>
<circle cx="496.9" cy="263.9" r="0.85" fill="#111"/>
<circle cx="501.0" cy="264.4" r="0.85" fill="#111"/>
<circle cx="496.3" cy="267.9" r="0.85" fill="#111"/>
<circle cx="499.8" cy="269.0" r="0.85" fill="#111"/>
<circle cx="501.0" cy="268.4" r="0.85" fill="#111"/>
<circle cx="497.5" cy="272.5" r="0.85" fill="#111"/>
<circle cx="499.2" cy="273.0" r="0.85" fill="#111"/>
<circle cx="500.4" cy="273.6" r="0.85" fill="#111"/>
<circle cx="498.2" cy="272.8" r="0.85" fill="#111"/>
<circle cx="498.6" cy="277.0" r="0.85" fill="#111"/>
<circle cx="498.0" cy="278.2" r="0.85" fill="#111"/>
<circle cx="496.9" cy="281.7" r="0.85" fill="#111"/>
<circle cx="471.7" cy="244.3" r="0.85" fill="#111"/>
<circle cx="473.3" cy="253.2" r="0.85" fill="#111"/>
<circle cx="474.9" cy="249.8" r="0.85" fill="#111"/>
<circle cx="474.9" cy="260.8" r="0.85" fill="#111"/>
<circle cx="475.8" cy="254.4" r="0.85" fill="#111"/>
<circle cx="470.0" cy="265.0" r="0.85" fill="#111"/>
<circle cx="469.9" cy="259.0" r="0.85" fill="#111"/>
<circle cx="473.5" cy="268.4" r="0.85" fill="#111"/>
<circle cx="473.3" cy="241.0" r="0.85" fill="#111"/>
<circle cx="474.0" cy="271.0" r="0.85" fill="#111"/>
<circle cx="471.0" cy="250.4" r="0.85" fill="#111"/>
<circle cx="475.7" cy="268.9" r="0.85" fill="#111"/>
<circle cx="470.2" cy="219.6" r="0.85" fill="#111"/>
<circle cx="472.3" cy="273.7" r="0.85" fill="#111"/>
<circle cx="475.6" cy="249.4" r="0.85" fill="#111"/>
<circle cx="470.0" cy="246.9" r="0.85" fill="#111"/>
<circle cx="475.1" cy="244.0" r="0.85" fill="#111"/>
<circle cx="473.4" cy="248.8" r="0.85" fill="#111"/>
<circle cx="470.6" cy="257.0" r="0.85" fill="#111"/>
<circle cx="475.2" cy="269.9" r="0.85" fill="#111"/>
<circle cx="476.1" cy="237.8" r="0.85" fill="#111"/>
<circle cx="472.1" cy="243.8" r="0.85" fill="#111"/>
<circle cx="473.2" cy="248.6" r="0.85" fill="#111"/>
<circle cx="474.4" cy="229.1" r="0.85" fill="#111"/>
<circle cx="470.4" cy="260.0" r="0.85" fill="#111"/>
<circle cx="475.7" cy="268.7" r="0.85" fill="#111"/>
<circle cx="473.1" cy="283.5" r="0.85" fill="#111"/>
<circle cx="474.6" cy="251.7" r="0.85" fill="#111"/>
<circle cx="470.2" cy="266.2" r="0.85" fill="#111"/>
<circle cx="473.5" cy="264.6" r="0.85" fill="#111"/>
<circle cx="470.5" cy="245.2" r="0.85" fill="#111"/>
<circle cx="475.2" cy="265.3" r="0.85" fill="#111"/>
<circle cx="469.8" cy="266.1" r="0.85" fill="#111"/>
<circle cx="471.9" cy="267.2" r="0.85" fill="#111"/>
<circle cx="469.9" cy="271.9" r="0.85" fill="#111"/>
<circle cx="471.2" cy="254.2" r="0.85" fill="#111"/>
<circle cx="474.8" cy="269.1" r="0.85" fill="#111"/>
<circle cx="473.3" cy="244.7" r="0.85" fill="#111"/>
<circle cx="474.8" cy="231.3" r="0.85" fill="#111"/>
<circle cx="469.8" cy="254.5" r="0.85" fill="#111"/>
<circle cx="473.9" cy="245.4" r="0.85" fill="#111"/>
<circle cx="471.9" cy="232.0" r="0.85" fill="#111"/>
<circle cx="470.7" cy="259.6" r="0.85" fill="#111"/>
<circle cx="471.8" cy="241.5" r="0.85" fill="#111"/>
<circle cx="472.8" cy="273.2" r="0.85" fill="#111"/>
<circle cx="475.4" cy="219.4" r="0.85" fill="#111"/>
<circle cx="473.1" cy="229.9" r="0.85" fill="#111"/>
<circle cx="470.7" cy="229.2" r="0.85" fill="#111"/>
<circle cx="472.0" cy="255.7" r="0.85" fill="#111"/>
<circle cx="470.9" cy="227.5" r="0.85" fill="#111"/>
<circle cx="475.4" cy="223.2" r="0.85" fill="#111"/>
<circle cx="469.7" cy="265.3" r="0.85" fill="#111"/>
<circle cx="474.8" cy="270.9" r="0.85" fill="#111"/>
<circle cx="471.1" cy="260.2" r="0.85" fill="#111"/>
<circle cx="471.3" cy="268.9" r="0.85" fill="#111"/>
<circle cx="473.0" cy="227.2" r="0.85" fill="#111"/>
<circle cx="470.2" cy="265.3" r="0.85" fill="#111"/>
<circle cx="473.5" cy="248.8" r="0.85" fill="#111"/>
<circle cx="470.0" cy="272.3" r="0.85" fill="#111"/>
<circle cx="476.1" cy="258.0" r="0.85" fill="#111"/>
<circle cx="474.2" cy="233.1" r="0.85" fill="#111"/>
<circle cx="474.9" cy="270.1" r="0.85" fill="#111"/>
<circle cx="469.7" cy="266.0" r="0.85" fill="#111"/>
<circle cx="472.3" cy="270.5" r="0.85" fill="#111"/>
<circle cx="474.4" cy="223.4" r="0.85" fill="#111"/>
<circle cx="471.9" cy="246.8" r="0.85" fill="#111"/>
<circle cx="471.0" cy="222.2" r="0.85" fill="#111"/>
<circle cx="476.2" cy="267.4" r="0.85" fill="#111"/>
<circle cx="472.9" cy="270.9" r="0.85" fill="#111"/>
<circle cx="474.6" cy="273.4" r="0.85" fill="#111"/>
<circle cx="473.7" cy="248.0" r="0.85" fill="#111"/>
<circle cx="470.2" cy="272.7" r="0.85" fill="#111"/>
<circle cx="470.7" cy="270.1" r="0.85" fill="#111"/>
<circle cx="474.5" cy="272.0" r="0.85" fill="#111"/>
<circle cx="475.8" cy="238.5" r="0.85" fill="#111"/>
<circle cx="475.1" cy="272.5" r="0.85" fill="#111"/>
<circle cx="472.5" cy="271.5" r="0.85" fill="#111"/>
<circle cx="475.3" cy="272.7" r="0.85" fill="#111"/>
<circle cx="473.1" cy="267.0" r="0.85" fill="#111"/>
<circle cx="476.0" cy="268.7" r="0.85" fill="#111"/>
<circle cx="475.1" cy="269.5" r="0.85" fill="#111"/>
<circle cx="472.6" cy="248.0" r="0.85" fill="#111"/>
<circle cx="475.6" cy="255.3" r="0.85" fill="#111"/>
<circle cx="472.2" cy="260.8" r="0.85" fill="#111"/>
<circle cx="474.1" cy="272.8" r="0.85" fill="#111"/>
<circle cx="472.3" cy="273.0" r="0.85" fill="#111"/>
<circle cx="475.1" cy="234.0" r="0.85" fill="#111"/>
<circle cx="475.1" cy="257.9" r="0.85" fill="#111"/>
<circle cx="472.8" cy="268.0" r="0.85" fill="#111"/>
<circle cx="475.0" cy="219.9" r="0.85" fill="#111"/>
<circle cx="472.6" cy="258.1" r="0.85" fill="#111"/>
<circle cx="471.9" cy="248.3" r="0.85" fill="#111"/>
<circle cx="471.5" cy="271.7" r="0.85" fill="#111"/>
<circle cx="474.2" cy="224.0" r="0.85" fill="#111"/>
<circle cx="474.9" cy="259.5" r="0.85" fill="#111"/>
<circle cx="469.9" cy="234.8" r="0.85" fill="#111"/>
<circle cx="471.4" cy="269.1" r="0.85" fill="#111"/>
<circle cx="471.1" cy="270.2" r="0.85" fill="#111"/>
<circle cx="475.5" cy="271.7" r="0.85" fill="#111"/>
<circle cx="475.9" cy="255.5" r="0.85" fill="#111"/>
<circle cx="470.9" cy="267.7" r="0.85" fill="#111"/>
<circle cx="473.1" cy="269.0" r="0.85" fill="#111"/>
<circle cx="475.8" cy="221.6" r="0.85" fill="#111"/>
<circle cx="471.3" cy="263.2" r="0.85" fill="#111"/>
<circle cx="473.2" cy="245.5" r="0.85" fill="#111"/>
<circle cx="472.1" cy="271.1" r="0.85" fill="#111"/>
<circle cx="474.0" cy="273.4" r="0.85" fill="#111"/>
<circle cx="472.5" cy="233.2" r="0.85" fill="#111"/>
<circle cx="474.0" cy="270.2" r="0.85" fill="#111"/>
<circle cx="473.0" cy="252.4" r="0.85" fill="#111"/>
<circle cx="472.9" cy="265.7" r="0.85" fill="#111"/>
<circle cx="470.0" cy="267.4" r="0.85" fill="#111"/>
<circle cx="473.3" cy="272.1" r="0.85" fill="#111"/>
<circle cx="475.5" cy="261.8" r="0.85" fill="#111"/>
<circle cx="469.8" cy="272.5" r="0.85" fill="#111"/>
<circle cx="475.9" cy="246.4" r="0.85" fill="#111"/>
<circle cx="473.5" cy="268.9" r="0.85" fill="#111"/>
<circle cx="472.2" cy="244.2" r="0.85" fill="#111"/>
<circle cx="471.5" cy="271.8" r="0.85" fill="#111"/>
<circle cx="473.2" cy="269.7" r="0.85" fill="#111"/>
<circle cx="473.9" cy="267.5" r="0.85" fill="#111"/>
<circle cx="472.1" cy="272.1" r="0.85" fill="#111"/>
<circle cx="474.2" cy="272.3" r="0.85" fill="#111"/>
<circle cx="473.4" cy="247.0" r="0.85" fill="#111"/>
<circle cx="471.9" cy="272.8" r="0.85" fill="#111"/>
<circle cx="475.4" cy="230.4" r="0.85" fill="#111"/>
<circle cx="470.7" cy="236.2" r="0.85" fill="#111"/>
<circle cx="471.6" cy="244.3" r="0.85" fill="#111"/>
<circle cx="476.0" cy="267.2" r="0.85" fill="#111"/>
<circle cx="475.8" cy="225.0" r="0.85" fill="#111"/>
<circle cx="472.5" cy="225.3" r="0.85" fill="#111"/>
<circle cx="472.2" cy="223.8" r="0.85" fill="#111"/>
<circle cx="471.4" cy="267.1" r="0.85" fill="#111"/>
<circle cx="472.6" cy="240.6" r="0.85" fill="#111"/>
<circle cx="474.7" cy="271.8" r="0.85" fill="#111"/>
<circle cx="474.6" cy="246.8" r="0.85" fill="#111"/>
<circle cx="474.0" cy="257.0" r="0.85" fill="#111"/>
<circle cx="472.0" cy="269.7" r="0.85" fill="#111"/>
<circle cx="471.5" cy="271.2" r="0.85" fill="#111"/>
<circle cx="474.7" cy="249.5" r="0.85" fill="#111"/>
<circle cx="473.3" cy="238.5" r="0.85" fill="#111"/>
<circle cx="471.4" cy="266.5" r="0.85" fill="#111"/>
<circle cx="473.2" cy="244.7" r="0.85" fill="#111"/>
<circle cx="472.3" cy="272.1" r="0.85" fill="#111"/>
<circle cx="471.6" cy="268.7" r="0.85" fill="#111"/>
<circle cx="473.8" cy="267.2" r="0.85" fill="#111"/>
<circle cx="472.2" cy="262.4" r="0.85" fill="#111"/>
<circle cx="471.9" cy="272.5" r="0.85" fill="#111"/>
<circle cx="471.9" cy="263.1" r="0.85" fill="#111"/>
<circle cx="473.1" cy="239.7" r="0.85" fill="#111"/>
<circle cx="475.5" cy="259.7" r="0.85" fill="#111"/>
<circle cx="470.0" cy="225.8" r="0.85" fill="#111"/>
<circle cx="475.2" cy="255.6" r="0.85" fill="#111"/>
<circle cx="472.3" cy="257.4" r="0.85" fill="#111"/>
<circle cx="475.2" cy="249.8" r="0.85" fill="#111"/>
<circle cx="470.6" cy="273.0" r="0.85" fill="#111"/>
<circle cx="472.9" cy="261.9" r="0.85" fill="#111"/>
<circle cx="474.5" cy="273.4" r="0.85" fill="#111"/>
<circle cx="475.4" cy="271.9" r="0.85" fill="#111"/>
<circle cx="474.2" cy="235.3" r="0.85" fill="#111"/>
<circle cx="470.0" cy="249.9" r="0.85" fill="#111"/>
<circle cx="471.4" cy="263.6" r="0.85" fill="#111"/>
<circle cx="470.2" cy="248.6" r="0.85" fill="#111"/>
<circle cx="474.9" cy="267.4" r="0.85" fill="#111"/>
<circle cx="470.1" cy="260.5" r="0.85" fill="#111"/>
<circle cx="469.6" cy="270.0" r="0.85" fill="#111"/>
<circle cx="471.4" cy="246.5" r="0.85" fill="#111"/>
<circle cx="473.3" cy="228.6" r="0.85" fill="#111"/>
<circle cx="475.1" cy="268.2" r="0.85" fill="#111"/>
<circle cx="473.8" cy="222.8" r="0.85" fill="#111"/>
<circle cx="473.4" cy="251.3" r="0.85" fill="#111"/>
<circle cx="471.0" cy="262.8" r="0.85" fill="#111"/>
<circle cx="473.1" cy="272.9" r="0.85" fill="#111"/>
<circle cx="469.8" cy="237.2" r="0.85" fill="#111"/>
<circle cx="470.0" cy="253.6" r="0.85" fill="#111"/>
<circle cx="473.5" cy="261.1" r="0.85" fill="#111"/>
<circle cx="473.5" cy="255.8" r="0.85" fill="#111"/>
<circle cx="476.2" cy="264.7" r="0.85" fill="#111"/>
<circle cx="471.8" cy="273.8" r="0.85" fill="#111"/>
<circle cx="472.8" cy="277.0" r="0.85" fill="#111"/>
<circle cx="474.1" cy="228.8" r="0.85" fill="#111"/>
<circle cx="471.9" cy="270.7" r="0.85" fill="#111"/>
<circle cx="471.5" cy="227.5" r="0.85" fill="#111"/>
<circle cx="473.0" cy="236.1" r="0.85" fill="#111"/>
<circle cx="474.2" cy="247.9" r="0.85" fill="#111"/>
<rect x="377.7" y="182.1" width="139.5" height="124.7" fill="none" stroke="#7a7a7a" stroke-width="1"/>
<line x1="375.5" y1="302.0" x2="377.7" y2="302.0" stroke="#7a7a7a" stroke-width="0.8"/>
<text x="0" y="0" transform="translate(369.5 303.0) rotate(-90)" font-size="6" font-weight="bold" text-anchor="middle" fill="#000" stroke="#000" stroke-width="0.15">0</text>
<line x1="375.5" y1="285.5" x2="377.7" y2="285.5" stroke="#7a7a7a" stroke-width="0.8"/>
<text x="0" y="0" transform="translate(369.5 286.5) rotate(-90)" font-size="6" font-weight="bold" text-anchor="middle" fill="#000" stroke="#000" stroke-width="0.15">2</text>
<line x1="375.5" y1="269.1" x2="377.7" y2="269.1" stroke="#7a7a7a" stroke-width="0.8"/>
<text x="0" y="0" transform="translate(369.5 270.1) rotate(-90)" font-size="6" font-weight="bold" text-anchor="middle" fill="#000" stroke="#000" stroke-width="0.15">4</text>
<line x1="375.5" y1="252.6" x2="377.7" y2="252.6" stroke="#7a7a7a" stroke-width="0.8"/>
<text x="0" y="0" transform="translate(369.5 253.6) rotate(-90)" font-size="6" font-weight="bold" text-anchor="middle" fill="#000" stroke="#000" stroke-width="0.15">6</text>
<line x1="375.5" y1="236.2" x2="377.7" y2="236.2" stroke="#7a7a7a" stroke-width="0.8"/>
<text x="0" y="0" transform="translate(369.5 237.2) rotate(-90)" font-size="6" font-weight="bold" text-anchor="middle" fill="#000" stroke="#000" stroke-width="0.15">8</text>
<line x1="375.5" y1="219.7" x2="377.7" y2="219.7" stroke="#7a7a7a" stroke-width="0.8"/>
<text x="0" y="0" transform="translate(369.5 220.7) rotate(-90)" font-size="6" font-weight="bold" text-anchor="middle" fill="#000" stroke="#000" stroke-width="0.15">10</text>
<line x1="375.5" y1="203.2" x2="377.7" y2="203.2" stroke="#7a7a7a" stroke-width="0.8"/>
<text x="0" y="0" transform="translate(369.5 204.2) rotate(-90)" font-size="6" font-weight="bold" text-anchor="middle" fill="#000" stroke="#000" stroke-width="0.15">12</text>
<line x1="375.5" y1="186.8" x2="377.7" y2="186.8" stroke="#7a7a7a" stroke-width="0.8"/>
<text x="0" y="0" transform="translate(369.5 187.8) rotate(-90)" font-size="6" font-weight="bold" text-anchor="middle" fill="#000" stroke="#000" stroke-width="0.15">14</text>
<text x="0" y="0" transform="translate(358.2 243.4) rotate(-90)" font-size="6" font-weight="bold" text-anchor="middle" fill="#000" stroke="#000" stroke-width="0.15">Exprs</text>
<line x1="395.8" y1="306.8" x2="395.8" y2="309.0" stroke="#7a7a7a" stroke-width="0.8"/>
<text x="395.8" y="320.1" font-size="6" font-weight="bold" text-anchor="middle" fill="#000" stroke="#000" stroke-width="0.15">MBC</text>
<line x1="421.6" y1="306.8" x2="421.6" y2="309.0" stroke="#7a7a7a" stroke-width="0.8"/>
<text x="421.6" y="320.1" font-size="6" font-weight="bold" text-anchor="middle" fill="#000" stroke="#000" stroke-width="0.15">BMPC</text>
<line x1="447.5" y1="306.8" x2="447.5" y2="309.0" stroke="#7a7a7a" stroke-width="0.8"/>
<text x="447.5" y="320.1" font-size="6" font-weight="bold" text-anchor="middle" fill="#000" stroke="#000" stroke-width="0.15">MGUS</text>
<line x1="473.3" y1="306.8" x2="473.3" y2="309.0" stroke="#7a7a7a" stroke-width="0.8"/>
<text x="473.3" y="320.1" font-size="6" font-weight="bold" text-anchor="middle" fill="#000" stroke="#000" stroke-width="0.15">MM</text>
<line x1="499.1" y1="306.8" x2="499.1" y2="309.0" stroke="#7a7a7a" stroke-width="0.8"/>
<text x="499.1" y="320.1" font-size="6" font-weight="bold" text-anchor="middle" fill="#000" stroke="#000" stroke-width="0.15">HMCL</text>
<text x="447.5" y="173.3" font-size="7.5" font-weight="bold" text-anchor="middle" fill="#000" stroke="#000" stroke-width="0.12">ANG(205141_at)</text>
<g filter="url(#hb)">
<rect x="0.8" y="372.0" width="496.2" height="281.0" fill="#000"/>
<path fill="#0a850a" d="M10.7 372h5.0v2h-5.0zM454.8 372h2.5v2h-2.5zM184.4 374h2.5v2h-2.5zM355.6 376h2.5v2h-2.5zM92.6 378h7.4v2h-7.4zM387.8 378h2.5v2h-2.5zM62.8 380h5.0v2h-5.0zM72.7 380h2.5v2h-2.5zM112.4 380h2.5v2h-2.5zM137.3 380h2.5v2h-2.5zM425.1 382h7.4v2h-7.4zM10.7 384h2.5v2h-2.5zM62.8 384h2.5v2h-2.5zM82.7 390h2.5v2h-2.5zM487.1 390h2.5v2h-2.5zM303.5 392h5.0v2h-5.0zM122.4 394h2.5v2h-2.5zM231.5 394h2.5v2h-2.5zM387.8 394h2.5v2h-2.5zM405.2 396h2.5v2h-2.5zM410.2 396h2.5v2h-2.5zM65.3 400h2.5v2h-2.5zM90.1 400h5.0v2h-5.0zM338.2 400h2.5v2h-2.5zM360.5 400h2.5v2h-2.5zM62.8 408h2.5v2h-2.5zM410.2 408h2.5v2h-2.5zM67.8 412h2.5v2h-2.5zM65.3 414h2.5v2h-2.5zM97.6 414h2.5v2h-2.5zM114.9 414h2.5v2h-2.5zM134.8 414h2.5v2h-2.5zM397.8 414h2.5v2h-2.5zM402.7 414h2.5v2h-2.5zM447.4 414h2.5v2h-2.5zM452.3 414h2.5v2h-2.5zM469.7 414h5.0v2h-5.0zM492.0 414h2.5v2h-2.5zM45.5 416h2.5v2h-2.5zM90.1 416h2.5v2h-2.5zM100.0 416h2.5v2h-2.5zM117.4 416h2.5v2h-2.5zM439.9 416h22.3v2h-22.3zM474.7 416h2.5v2h-2.5zM492.0 416h2.5v2h-2.5zM35.5 418h5.0v2h-5.0zM124.8 418h2.5v2h-2.5zM377.9 418h2.5v2h-2.5zM435.0 418h2.5v2h-2.5zM439.9 418h7.4v2h-7.4zM484.6 418h2.5v2h-2.5zM184.4 420h2.5v2h-2.5zM273.7 420h5.0v2h-5.0zM402.7 420h2.5v2h-2.5zM8.2 422h2.5v2h-2.5zM154.6 422h9.9v2h-9.9zM177.0 422h2.5v2h-2.5zM204.2 422h2.5v2h-2.5zM211.7 422h7.4v2h-7.4zM224.1 422h2.5v2h-2.5zM276.2 422h2.5v2h-2.5zM8.2 424h2.5v2h-2.5zM119.9 426h2.5v2h-2.5zM132.3 426h2.5v2h-2.5zM159.6 426h2.5v2h-2.5zM167.0 426h2.5v2h-2.5zM211.7 426h2.5v2h-2.5zM162.1 428h2.5v2h-2.5zM45.5 434h2.5v2h-2.5zM144.7 436h2.5v2h-2.5zM28.1 438h2.5v2h-2.5zM92.6 440h5.0v2h-5.0zM114.9 440h5.0v2h-5.0zM283.6 440h2.5v2h-2.5zM239.0 442h2.5v2h-2.5zM467.2 442h5.0v2h-5.0zM15.7 444h2.5v2h-2.5zM60.3 444h2.5v2h-2.5zM226.6 444h2.5v2h-2.5zM243.9 444h5.0v2h-5.0zM243.9 446h2.5v2h-2.5zM382.9 446h5.0v2h-5.0zM439.9 446h2.5v2h-2.5zM444.9 446h5.0v2h-5.0zM462.3 446h5.0v2h-5.0zM489.6 446h2.5v2h-2.5zM177.0 448h2.5v2h-2.5zM338.2 448h2.5v2h-2.5zM92.6 450h2.5v2h-2.5zM159.6 450h2.5v2h-2.5zM164.5 450h2.5v2h-2.5zM457.3 452h2.5v2h-2.5zM452.3 454h2.5v2h-2.5zM459.8 454h2.5v2h-2.5zM464.7 456h5.0v2h-5.0zM164.5 458h2.5v2h-2.5zM303.5 458h2.5v2h-2.5zM487.1 460h2.5v2h-2.5zM70.3 462h2.5v2h-2.5zM271.2 462h5.0v2h-5.0zM484.6 466h2.5v2h-2.5zM67.8 468h2.5v2h-2.5zM184.4 470h2.5v2h-2.5zM191.8 470h2.5v2h-2.5zM427.5 472h2.5v2h-2.5zM152.1 474h2.5v2h-2.5zM179.4 474h2.5v2h-2.5zM474.7 476h2.5v2h-2.5zM157.1 480h2.5v2h-2.5zM410.2 480h2.5v2h-2.5zM55.4 482h2.5v2h-2.5zM216.6 486h2.5v2h-2.5zM395.3 486h2.5v2h-2.5zM407.7 490h2.5v2h-2.5zM110.0 492h2.5v2h-2.5zM70.3 500h2.5v2h-2.5zM144.7 500h2.5v2h-2.5zM323.3 504h2.5v2h-2.5zM328.3 508h2.5v2h-2.5zM251.4 512h2.5v2h-2.5zM405.2 512h2.5v2h-2.5zM0.8 520h2.5v2h-2.5zM107.5 520h2.5v2h-2.5zM437.5 520h2.5v2h-2.5zM449.9 520h5.0v2h-5.0zM467.2 520h2.5v2h-2.5zM3.3 522h7.4v2h-7.4zM258.8 522h2.5v2h-2.5zM283.6 522h5.0v2h-5.0zM296.0 522h2.5v2h-2.5zM340.7 522h2.5v2h-2.5zM365.5 522h5.0v2h-5.0zM417.6 522h2.5v2h-2.5zM186.9 524h2.5v2h-2.5zM303.5 524h5.0v2h-5.0zM340.7 524h5.0v2h-5.0zM10.7 526h5.0v2h-5.0zM18.2 526h2.5v2h-2.5zM25.6 526h2.5v2h-2.5zM35.5 526h2.5v2h-2.5zM47.9 526h2.5v2h-2.5zM105.0 526h5.0v2h-5.0zM340.7 526h5.0v2h-5.0zM442.4 526h5.0v2h-5.0zM459.8 526h7.4v2h-7.4zM8.2 528h5.0v2h-5.0zM70.3 528h5.0v2h-5.0zM87.6 528h2.5v2h-2.5zM110.0 528h5.0v2h-5.0zM119.9 528h2.5v2h-2.5zM340.7 528h5.0v2h-5.0zM380.4 528h2.5v2h-2.5zM392.8 528h5.0v2h-5.0zM400.2 528h2.5v2h-2.5zM439.9 528h2.5v2h-2.5zM479.6 528h2.5v2h-2.5zM15.7 530h2.5v2h-2.5zM45.5 530h2.5v2h-2.5zM82.7 530h2.5v2h-2.5zM124.8 530h2.5v2h-2.5zM132.3 530h2.5v2h-2.5zM167.0 530h2.5v2h-2.5zM201.8 530h5.0v2h-5.0zM276.2 530h2.5v2h-2.5zM348.1 530h2.5v2h-2.5zM370.5 530h2.5v2h-2.5zM382.9 530h2.5v2h-2.5zM390.3 530h7.4v2h-7.4zM402.7 530h2.5v2h-2.5zM459.8 530h2.5v2h-2.5zM479.6 530h2.5v2h-2.5zM489.6 530h2.5v2h-2.5zM122.4 532h2.5v2h-2.5zM149.7 532h2.5v2h-2.5zM154.6 532h5.0v2h-5.0zM199.3 532h2.5v2h-2.5zM211.7 532h2.5v2h-2.5zM219.1 532h2.5v2h-2.5zM368.0 532h2.5v2h-2.5zM457.3 532h9.9v2h-9.9zM482.1 532h2.5v2h-2.5zM5.8 534h2.5v2h-2.5zM25.6 534h2.5v2h-2.5zM50.4 534h2.5v2h-2.5zM57.9 534h2.5v2h-2.5zM77.7 534h2.5v2h-2.5zM95.1 534h2.5v2h-2.5zM119.9 534h5.0v2h-5.0zM134.8 534h2.5v2h-2.5zM154.6 534h5.0v2h-5.0zM191.8 534h7.4v2h-7.4zM248.9 534h2.5v2h-2.5zM276.2 534h5.0v2h-5.0zM330.8 534h2.5v2h-2.5zM335.7 534h2.5v2h-2.5zM340.7 534h2.5v2h-2.5zM360.5 534h2.5v2h-2.5zM382.9 534h2.5v2h-2.5zM422.6 534h5.0v2h-5.0zM464.7 534h2.5v2h-2.5zM469.7 534h2.5v2h-2.5zM474.7 534h2.5v2h-2.5zM494.5 534h2.5v2h-2.5zM75.2 536h2.5v2h-2.5zM90.1 536h2.5v2h-2.5zM119.9 536h2.5v2h-2.5zM129.8 536h2.5v2h-2.5zM216.6 536h2.5v2h-2.5zM454.8 536h5.0v2h-5.0zM469.7 536h2.5v2h-2.5zM38.0 538h5.0v2h-5.0zM100.0 538h5.0v2h-5.0zM134.8 538h2.5v2h-2.5zM206.7 538h2.5v2h-2.5zM301.0 538h2.5v2h-2.5zM397.8 538h2.5v2h-2.5zM452.3 538h2.5v2h-2.5zM462.3 538h2.5v2h-2.5zM479.6 538h2.5v2h-2.5zM258.8 540h2.5v2h-2.5zM266.3 540h2.5v2h-2.5zM306.0 540h2.5v2h-2.5zM318.4 540h2.5v2h-2.5zM335.7 540h2.5v2h-2.5zM350.6 540h5.0v2h-5.0zM372.9 540h2.5v2h-2.5zM382.9 540h2.5v2h-2.5zM412.6 540h5.0v2h-5.0zM50.4 542h2.5v2h-2.5zM65.3 542h2.5v2h-2.5zM112.4 542h2.5v2h-2.5zM159.6 542h2.5v2h-2.5zM263.8 542h2.5v2h-2.5zM296.0 542h2.5v2h-2.5zM365.5 542h2.5v2h-2.5zM405.2 542h2.5v2h-2.5zM82.7 544h2.5v2h-2.5zM301.0 544h2.5v2h-2.5zM375.4 544h2.5v2h-2.5zM385.4 544h5.0v2h-5.0zM400.2 544h7.4v2h-7.4zM82.7 546h2.5v2h-2.5zM306.0 546h2.5v2h-2.5zM335.7 546h2.5v2h-2.5zM363.0 546h2.5v2h-2.5zM385.4 546h2.5v2h-2.5zM196.8 548h2.5v2h-2.5zM301.0 548h2.5v2h-2.5zM306.0 548h2.5v2h-2.5zM415.1 548h9.9v2h-9.9zM119.9 550h2.5v2h-2.5zM306.0 550h2.5v2h-2.5zM358.1 550h2.5v2h-2.5zM365.5 550h2.5v2h-2.5zM375.4 550h2.5v2h-2.5zM407.7 550h5.0v2h-5.0zM417.6 550h5.0v2h-5.0zM425.1 550h2.5v2h-2.5zM360.5 552h2.5v2h-2.5zM375.4 552h2.5v2h-2.5zM385.4 552h2.5v2h-2.5zM13.2 554h5.0v2h-5.0zM149.7 554h2.5v2h-2.5zM169.5 554h7.4v2h-7.4zM186.9 554h7.4v2h-7.4zM298.5 554h2.5v2h-2.5zM320.8 554h2.5v2h-2.5zM363.0 554h2.5v2h-2.5zM402.7 554h2.5v2h-2.5zM139.7 556h2.5v2h-2.5zM147.2 556h2.5v2h-2.5zM167.0 556h2.5v2h-2.5zM273.7 556h2.5v2h-2.5zM291.1 556h2.5v2h-2.5zM444.9 556h5.0v2h-5.0zM457.3 556h2.5v2h-2.5zM80.2 558h9.9v2h-9.9zM97.6 558h7.4v2h-7.4zM149.7 558h2.5v2h-2.5zM184.4 558h5.0v2h-5.0zM268.7 558h2.5v2h-2.5zM355.6 558h2.5v2h-2.5zM412.6 558h2.5v2h-2.5zM425.1 558h2.5v2h-2.5zM80.2 560h2.5v2h-2.5zM169.5 560h5.0v2h-5.0zM266.3 560h2.5v2h-2.5zM13.2 562h7.4v2h-7.4zM30.6 562h2.5v2h-2.5zM52.9 562h2.5v2h-2.5zM67.8 562h2.5v2h-2.5zM77.7 562h2.5v2h-2.5zM110.0 562h7.4v2h-7.4zM154.6 562h5.0v2h-5.0zM179.4 562h7.4v2h-7.4zM194.3 562h9.9v2h-9.9zM243.9 562h2.5v2h-2.5zM390.3 562h2.5v2h-2.5zM444.9 562h7.4v2h-7.4zM464.7 562h2.5v2h-2.5zM484.6 562h2.5v2h-2.5zM492.0 562h2.5v2h-2.5zM3.3 564h5.0v2h-5.0zM55.4 564h2.5v2h-2.5zM77.7 564h5.0v2h-5.0zM87.6 564h2.5v2h-2.5zM132.3 564h7.4v2h-7.4zM149.7 564h5.0v2h-5.0zM209.2 564h2.5v2h-2.5zM224.1 564h2.5v2h-2.5zM363.0 564h2.5v2h-2.5zM380.4 564h2.5v2h-2.5zM415.1 564h2.5v2h-2.5zM449.9 564h2.5v2h-2.5zM454.8 564h2.5v2h-2.5zM472.2 564h5.0v2h-5.0zM5.8 566h2.5v2h-2.5zM52.9 566h7.4v2h-7.4zM85.2 566h2.5v2h-2.5zM152.1 566h2.5v2h-2.5zM209.2 566h5.0v2h-5.0zM417.6 566h2.5v2h-2.5zM422.6 566h2.5v2h-2.5zM442.4 566h2.5v2h-2.5zM469.7 566h7.4v2h-7.4zM487.1 566h2.5v2h-2.5zM147.2 568h5.0v2h-5.0zM363.0 568h5.0v2h-5.0zM459.8 568h2.5v2h-2.5zM464.7 568h9.9v2h-9.9zM489.6 568h2.5v2h-2.5zM330.8 570h5.0v2h-5.0zM360.5 570h2.5v2h-2.5zM372.9 570h5.0v2h-5.0zM410.2 570h5.0v2h-5.0zM467.2 570h5.0v2h-5.0zM62.8 572h2.5v2h-2.5zM177.0 572h2.5v2h-2.5zM330.8 572h2.5v2h-2.5zM372.9 572h2.5v2h-2.5zM469.7 572h5.0v2h-5.0zM489.6 572h2.5v2h-2.5zM23.1 574h2.5v2h-2.5zM80.2 574h5.0v2h-5.0zM92.6 574h2.5v2h-2.5zM114.9 574h5.0v2h-5.0zM134.8 574h2.5v2h-2.5zM144.7 574h2.5v2h-2.5zM261.3 574h2.5v2h-2.5zM273.7 574h5.0v2h-5.0zM283.6 574h2.5v2h-2.5zM301.0 574h12.4v2h-12.4zM353.1 574h5.0v2h-5.0zM407.7 574h2.5v2h-2.5zM464.7 574h2.5v2h-2.5zM469.7 574h2.5v2h-2.5zM484.6 574h2.5v2h-2.5zM492.0 574h2.5v2h-2.5zM15.7 576h2.5v2h-2.5zM20.6 576h2.5v2h-2.5zM107.5 576h2.5v2h-2.5zM112.4 576h2.5v2h-2.5zM117.4 576h5.0v2h-5.0zM258.8 576h7.4v2h-7.4zM472.2 576h2.5v2h-2.5zM112.4 578h2.5v2h-2.5zM127.3 578h2.5v2h-2.5zM132.3 578h2.5v2h-2.5zM154.6 578h12.4v2h-12.4zM246.4 578h2.5v2h-2.5zM258.8 578h5.0v2h-5.0zM273.7 578h2.5v2h-2.5zM385.4 578h5.0v2h-5.0zM452.3 578h2.5v2h-2.5zM134.8 580h2.5v2h-2.5zM142.2 580h2.5v2h-2.5zM152.1 580h2.5v2h-2.5zM174.5 580h2.5v2h-2.5zM214.2 580h2.5v2h-2.5zM266.3 580h2.5v2h-2.5zM330.8 580h2.5v2h-2.5zM345.7 580h7.4v2h-7.4zM97.6 582h2.5v2h-2.5zM105.0 582h2.5v2h-2.5zM137.3 582h2.5v2h-2.5zM149.7 582h2.5v2h-2.5zM271.2 582h2.5v2h-2.5zM281.2 582h5.0v2h-5.0zM293.6 582h2.5v2h-2.5zM50.4 584h2.5v2h-2.5zM112.4 584h2.5v2h-2.5zM119.9 584h5.0v2h-5.0zM144.7 584h5.0v2h-5.0zM159.6 584h2.5v2h-2.5zM261.3 584h2.5v2h-2.5zM276.2 584h5.0v2h-5.0zM296.0 584h5.0v2h-5.0zM350.6 584h5.0v2h-5.0zM375.4 584h2.5v2h-2.5zM107.5 586h9.9v2h-9.9zM129.8 586h7.4v2h-7.4zM144.7 586h2.5v2h-2.5zM162.1 586h2.5v2h-2.5zM214.2 586h2.5v2h-2.5zM276.2 586h5.0v2h-5.0zM291.1 586h2.5v2h-2.5zM301.0 586h2.5v2h-2.5zM310.9 586h2.5v2h-2.5zM320.8 586h2.5v2h-2.5zM375.4 586h2.5v2h-2.5zM397.8 586h2.5v2h-2.5zM415.1 586h5.0v2h-5.0zM5.8 588h5.0v2h-5.0zM75.2 588h2.5v2h-2.5zM85.2 588h2.5v2h-2.5zM92.6 588h2.5v2h-2.5zM110.0 588h2.5v2h-2.5zM142.2 588h2.5v2h-2.5zM241.5 588h5.0v2h-5.0zM286.1 588h2.5v2h-2.5zM310.9 588h5.0v2h-5.0zM338.2 588h2.5v2h-2.5zM484.6 588h12.4v2h-12.4zM0.8 590h7.4v2h-7.4zM28.1 590h5.0v2h-5.0zM52.9 590h2.5v2h-2.5zM80.2 590h2.5v2h-2.5zM85.2 590h2.5v2h-2.5zM139.7 590h5.0v2h-5.0zM147.2 590h2.5v2h-2.5zM167.0 590h2.5v2h-2.5zM315.9 590h2.5v2h-2.5zM333.3 590h7.4v2h-7.4zM400.2 590h5.0v2h-5.0zM410.2 590h5.0v2h-5.0zM422.6 590h2.5v2h-2.5zM442.4 590h2.5v2h-2.5zM494.5 590h2.5v2h-2.5zM0.8 592h2.5v2h-2.5zM23.1 592h2.5v2h-2.5zM72.7 592h2.5v2h-2.5zM80.2 592h7.4v2h-7.4zM129.8 592h2.5v2h-2.5zM147.2 592h2.5v2h-2.5zM318.4 592h2.5v2h-2.5zM330.8 592h2.5v2h-2.5zM335.7 592h5.0v2h-5.0zM417.6 592h2.5v2h-2.5zM482.1 592h2.5v2h-2.5zM489.6 592h5.0v2h-5.0zM23.1 594h2.5v2h-2.5zM38.0 594h2.5v2h-2.5zM70.3 594h2.5v2h-2.5zM127.3 594h7.4v2h-7.4zM239.0 594h2.5v2h-2.5zM246.4 594h2.5v2h-2.5zM303.5 594h2.5v2h-2.5zM315.9 594h2.5v2h-2.5zM365.5 594h5.0v2h-5.0zM479.6 594h2.5v2h-2.5zM3.3 596h2.5v2h-2.5zM328.3 596h2.5v2h-2.5zM484.6 596h2.5v2h-2.5zM10.7 598h2.5v2h-2.5zM18.2 598h2.5v2h-2.5zM85.2 598h2.5v2h-2.5zM102.5 598h2.5v2h-2.5zM139.7 598h7.4v2h-7.4zM271.2 598h2.5v2h-2.5zM281.2 598h2.5v2h-2.5zM298.5 598h2.5v2h-2.5zM315.9 598h5.0v2h-5.0zM338.2 598h2.5v2h-2.5zM462.3 598h2.5v2h-2.5zM474.7 598h2.5v2h-2.5zM482.1 598h2.5v2h-2.5zM494.5 598h2.5v2h-2.5zM72.7 600h5.0v2h-5.0zM110.0 600h7.4v2h-7.4zM139.7 600h2.5v2h-2.5zM144.7 600h5.0v2h-5.0zM164.5 600h2.5v2h-2.5zM191.8 600h2.5v2h-2.5zM224.1 600h5.0v2h-5.0zM266.3 600h5.0v2h-5.0zM281.2 600h7.4v2h-7.4zM320.8 600h5.0v2h-5.0zM360.5 600h5.0v2h-5.0zM482.1 600h2.5v2h-2.5zM494.5 600h2.5v2h-2.5zM62.8 602h5.0v2h-5.0zM72.7 602h5.0v2h-5.0zM112.4 602h7.4v2h-7.4zM174.5 602h5.0v2h-5.0zM209.2 602h7.4v2h-7.4zM246.4 602h2.5v2h-2.5zM291.1 602h2.5v2h-2.5zM350.6 602h2.5v2h-2.5zM360.5 602h2.5v2h-2.5zM368.0 602h2.5v2h-2.5zM387.8 602h2.5v2h-2.5zM67.8 604h2.5v2h-2.5zM97.6 604h5.0v2h-5.0zM172.0 604h2.5v2h-2.5zM204.2 604h2.5v2h-2.5zM395.3 604h2.5v2h-2.5zM77.7 606h2.5v2h-2.5zM90.1 606h5.0v2h-5.0zM114.9 606h2.5v2h-2.5zM261.3 606h5.0v2h-5.0zM345.7 606h2.5v2h-2.5zM390.3 606h2.5v2h-2.5zM80.2 608h2.5v2h-2.5zM95.1 608h9.9v2h-9.9zM174.5 608h2.5v2h-2.5zM348.1 608h2.5v2h-2.5zM20.6 610h2.5v2h-2.5zM25.6 610h2.5v2h-2.5zM45.5 610h2.5v2h-2.5zM57.9 610h2.5v2h-2.5zM67.8 610h2.5v2h-2.5zM97.6 610h2.5v2h-2.5zM107.5 610h2.5v2h-2.5zM370.5 610h2.5v2h-2.5zM70.3 612h2.5v2h-2.5zM102.5 612h2.5v2h-2.5zM112.4 612h2.5v2h-2.5zM149.7 612h2.5v2h-2.5zM206.7 612h2.5v2h-2.5zM30.6 614h5.0v2h-5.0zM65.3 614h2.5v2h-2.5zM70.3 614h2.5v2h-2.5zM77.7 614h2.5v2h-2.5zM102.5 614h2.5v2h-2.5zM119.9 614h7.4v2h-7.4zM184.4 614h5.0v2h-5.0zM206.7 614h2.5v2h-2.5zM286.1 614h2.5v2h-2.5zM375.4 614h2.5v2h-2.5zM397.8 614h2.5v2h-2.5zM415.1 614h2.5v2h-2.5zM28.1 616h2.5v2h-2.5zM60.3 616h2.5v2h-2.5zM107.5 616h7.4v2h-7.4zM134.8 616h2.5v2h-2.5zM234.0 616h2.5v2h-2.5zM385.4 616h2.5v2h-2.5zM65.3 618h5.0v2h-5.0zM206.7 618h2.5v2h-2.5zM38.0 620h2.5v2h-2.5zM105.0 620h2.5v2h-2.5zM382.9 620h7.4v2h-7.4zM18.2 622h2.5v2h-2.5zM33.1 622h2.5v2h-2.5zM50.4 622h2.5v2h-2.5zM70.3 622h2.5v2h-2.5zM97.6 622h2.5v2h-2.5zM144.7 622h5.0v2h-5.0zM162.1 622h7.4v2h-7.4zM5.8 624h5.0v2h-5.0zM13.2 624h2.5v2h-2.5zM35.5 624h5.0v2h-5.0zM57.9 624h2.5v2h-2.5zM82.7 624h5.0v2h-5.0zM100.0 624h2.5v2h-2.5zM139.7 624h2.5v2h-2.5zM149.7 624h5.0v2h-5.0zM177.0 624h2.5v2h-2.5zM189.4 624h5.0v2h-5.0zM318.4 624h2.5v2h-2.5zM380.4 624h2.5v2h-2.5zM119.9 626h2.5v2h-2.5zM330.8 626h2.5v2h-2.5zM25.6 628h5.0v2h-5.0zM47.9 628h5.0v2h-5.0zM72.7 628h2.5v2h-2.5zM167.0 628h2.5v2h-2.5zM191.8 628h2.5v2h-2.5zM345.7 628h2.5v2h-2.5zM415.1 628h2.5v2h-2.5zM23.1 632h5.0v2h-5.0zM50.4 632h2.5v2h-2.5zM87.6 632h2.5v2h-2.5zM107.5 632h2.5v2h-2.5zM159.6 632h2.5v2h-2.5zM380.4 632h2.5v2h-2.5zM20.6 634h2.5v2h-2.5zM92.6 634h5.0v2h-5.0zM105.0 634h2.5v2h-2.5zM110.0 634h5.0v2h-5.0zM122.4 634h2.5v2h-2.5zM142.2 634h2.5v2h-2.5zM162.1 634h2.5v2h-2.5zM281.2 634h2.5v2h-2.5zM360.5 634h5.0v2h-5.0zM425.1 634h2.5v2h-2.5zM8.2 636h2.5v2h-2.5zM82.7 636h5.0v2h-5.0zM92.6 636h5.0v2h-5.0zM201.8 636h5.0v2h-5.0zM360.5 636h2.5v2h-2.5zM10.7 638h2.5v2h-2.5zM28.1 638h2.5v2h-2.5zM72.7 638h2.5v2h-2.5zM87.6 638h2.5v2h-2.5zM100.0 638h7.4v2h-7.4zM134.8 638h5.0v2h-5.0zM159.6 638h2.5v2h-2.5zM204.2 638h5.0v2h-5.0zM281.2 638h2.5v2h-2.5zM355.6 638h2.5v2h-2.5zM372.9 638h5.0v2h-5.0zM402.7 638h2.5v2h-2.5zM462.3 638h5.0v2h-5.0zM50.4 640h2.5v2h-2.5zM75.2 640h2.5v2h-2.5zM167.0 640h2.5v2h-2.5zM296.0 640h2.5v2h-2.5zM10.7 642h2.5v2h-2.5zM52.9 642h2.5v2h-2.5zM132.3 642h7.4v2h-7.4zM159.6 642h2.5v2h-2.5zM164.5 642h5.0v2h-5.0zM199.3 642h2.5v2h-2.5zM306.0 642h2.5v2h-2.5zM72.7 644h5.0v2h-5.0zM85.2 644h5.0v2h-5.0zM204.2 644h2.5v2h-2.5zM211.7 644h2.5v2h-2.5zM221.6 644h7.4v2h-7.4zM323.3 644h2.5v2h-2.5zM353.1 644h2.5v2h-2.5zM372.9 644h2.5v2h-2.5zM405.2 644h2.5v2h-2.5zM372.9 646h2.5v2h-2.5zM82.7 648h2.5v2h-2.5zM211.7 648h2.5v2h-2.5zM313.4 648h2.5v2h-2.5zM348.1 648h2.5v2h-2.5zM375.4 648h2.5v2h-2.5zM412.6 648h5.0v2h-5.0zM72.7 650h5.0v2h-5.0zM82.7 650h2.5v2h-2.5zM144.7 650h5.0v2h-5.0zM216.6 650h2.5v2h-2.5zM377.9 650h2.5v2h-2.5zM390.3 650h2.5v2h-2.5zM410.2 650h7.4v2h-7.4zM345.7 652h2.5v2h-2.5zM360.5 652h5.0v2h-5.0zM375.4 652h2.5v2h-2.5zM410.2 652h2.5v2h-2.5z"/>
<path fill="#d01010" d="M57.9 372h2.5v2h-2.5zM80.2 372h7.4v2h-7.4zM112.4 372h2.5v2h-2.5zM137.3 372h5.0v2h-5.0zM149.7 372h2.5v2h-2.5zM162.1 372h2.5v2h-2.5zM194.3 372h7.4v2h-7.4zM221.6 372h5.0v2h-5.0zM266.3 372h2.5v2h-2.5zM296.0 372h2.5v2h-2.5zM308.4 372h2.5v2h-2.5zM320.8 372h2.5v2h-2.5zM358.1 372h2.5v2h-2.5zM392.8 372h2.5v2h-2.5zM462.3 372h5.0v2h-5.0zM487.1 372h2.5v2h-2.5zM100.0 374h2.5v2h-2.5zM132.3 374h7.4v2h-7.4zM159.6 374h7.4v2h-7.4zM179.4 374h2.5v2h-2.5zM224.1 374h5.0v2h-5.0zM234.0 374h2.5v2h-2.5zM246.4 374h7.4v2h-7.4zM273.7 374h2.5v2h-2.5zM278.7 374h2.5v2h-2.5zM283.6 374h2.5v2h-2.5zM291.1 374h7.4v2h-7.4zM318.4 374h2.5v2h-2.5zM340.7 374h5.0v2h-5.0zM368.0 374h2.5v2h-2.5zM377.9 374h2.5v2h-2.5zM395.3 374h9.9v2h-9.9zM407.7 374h2.5v2h-2.5zM492.0 374h5.0v2h-5.0zM127.3 376h2.5v2h-2.5zM186.9 376h2.5v2h-2.5zM216.6 376h5.0v2h-5.0zM258.8 376h2.5v2h-2.5zM263.8 376h2.5v2h-2.5zM283.6 376h2.5v2h-2.5zM395.3 376h2.5v2h-2.5zM427.5 376h2.5v2h-2.5zM472.2 376h2.5v2h-2.5zM477.2 376h2.5v2h-2.5zM33.1 378h2.5v2h-2.5zM196.8 378h9.9v2h-9.9zM209.2 378h2.5v2h-2.5zM216.6 378h5.0v2h-5.0zM226.6 378h2.5v2h-2.5zM251.4 378h2.5v2h-2.5zM271.2 378h2.5v2h-2.5zM281.2 378h5.0v2h-5.0zM296.0 378h2.5v2h-2.5zM353.1 378h2.5v2h-2.5zM402.7 378h5.0v2h-5.0zM444.9 378h2.5v2h-2.5zM452.3 378h5.0v2h-5.0zM479.6 378h2.5v2h-2.5zM492.0 378h2.5v2h-2.5zM82.7 380h2.5v2h-2.5zM129.8 380h2.5v2h-2.5zM142.2 380h2.5v2h-2.5zM261.3 380h5.0v2h-5.0zM273.7 380h5.0v2h-5.0zM288.6 380h2.5v2h-2.5zM313.4 380h2.5v2h-2.5zM325.8 380h2.5v2h-2.5zM340.7 380h5.0v2h-5.0zM372.9 380h2.5v2h-2.5zM449.9 380h9.9v2h-9.9zM467.2 380h2.5v2h-2.5zM489.6 380h2.5v2h-2.5zM219.1 382h2.5v2h-2.5zM296.0 382h5.0v2h-5.0zM338.2 382h2.5v2h-2.5zM390.3 382h5.0v2h-5.0zM107.5 384h2.5v2h-2.5zM261.3 384h2.5v2h-2.5zM266.3 384h7.4v2h-7.4zM330.8 384h2.5v2h-2.5zM410.2 384h2.5v2h-2.5zM420.1 384h2.5v2h-2.5zM462.3 384h2.5v2h-2.5zM28.1 386h2.5v2h-2.5zM72.7 386h2.5v2h-2.5zM105.0 386h7.4v2h-7.4zM209.2 386h2.5v2h-2.5zM231.5 386h2.5v2h-2.5zM248.9 386h2.5v2h-2.5zM256.3 386h7.4v2h-7.4zM273.7 386h2.5v2h-2.5zM350.6 386h5.0v2h-5.0zM402.7 386h2.5v2h-2.5zM417.6 386h2.5v2h-2.5zM482.1 386h5.0v2h-5.0zM114.9 388h2.5v2h-2.5zM149.7 388h2.5v2h-2.5zM241.5 388h9.9v2h-9.9zM298.5 388h2.5v2h-2.5zM303.5 388h2.5v2h-2.5zM308.4 388h2.5v2h-2.5zM439.9 388h2.5v2h-2.5zM482.1 388h2.5v2h-2.5zM25.6 390h2.5v2h-2.5zM114.9 390h2.5v2h-2.5zM184.4 390h2.5v2h-2.5zM204.2 390h2.5v2h-2.5zM241.5 390h5.0v2h-5.0zM251.4 390h2.5v2h-2.5zM256.3 390h2.5v2h-2.5zM343.2 390h5.0v2h-5.0zM363.0 390h2.5v2h-2.5zM449.9 390h5.0v2h-5.0zM3.3 392h2.5v2h-2.5zM10.7 392h7.4v2h-7.4zM23.1 392h9.9v2h-9.9zM127.3 392h2.5v2h-2.5zM189.4 392h2.5v2h-2.5zM310.9 392h7.4v2h-7.4zM407.7 392h2.5v2h-2.5zM18.2 394h2.5v2h-2.5zM25.6 394h2.5v2h-2.5zM45.5 394h2.5v2h-2.5zM8.2 396h2.5v2h-2.5zM28.1 396h2.5v2h-2.5zM132.3 396h2.5v2h-2.5zM184.4 396h2.5v2h-2.5zM189.4 396h5.0v2h-5.0zM239.0 396h2.5v2h-2.5zM288.6 396h2.5v2h-2.5zM323.3 396h2.5v2h-2.5zM368.0 396h2.5v2h-2.5zM397.8 396h2.5v2h-2.5zM420.1 396h2.5v2h-2.5zM60.3 398h5.0v2h-5.0zM112.4 398h2.5v2h-2.5zM124.8 398h2.5v2h-2.5zM164.5 398h2.5v2h-2.5zM318.4 398h5.0v2h-5.0zM328.3 398h2.5v2h-2.5zM3.3 400h7.4v2h-7.4zM33.1 400h5.0v2h-5.0zM144.7 400h2.5v2h-2.5zM310.9 400h2.5v2h-2.5zM420.1 400h5.0v2h-5.0zM10.7 402h2.5v2h-2.5zM18.2 402h5.0v2h-5.0zM43.0 402h5.0v2h-5.0zM164.5 402h2.5v2h-2.5zM13.2 404h2.5v2h-2.5zM20.6 404h19.8v2h-19.8zM100.0 404h2.5v2h-2.5zM144.7 404h2.5v2h-2.5zM241.5 404h5.0v2h-5.0zM281.2 404h2.5v2h-2.5zM308.4 404h2.5v2h-2.5zM318.4 404h5.0v2h-5.0zM350.6 404h5.0v2h-5.0zM363.0 404h7.4v2h-7.4zM402.7 404h2.5v2h-2.5zM435.0 404h12.4v2h-12.4zM482.1 404h2.5v2h-2.5zM0.8 406h5.0v2h-5.0zM15.7 406h5.0v2h-5.0zM119.9 406h5.0v2h-5.0zM147.2 406h2.5v2h-2.5zM179.4 406h5.0v2h-5.0zM236.5 406h2.5v2h-2.5zM261.3 406h9.9v2h-9.9zM338.2 406h2.5v2h-2.5zM382.9 406h5.0v2h-5.0zM8.2 408h14.9v2h-14.9zM25.6 408h2.5v2h-2.5zM30.6 408h2.5v2h-2.5zM80.2 408h5.0v2h-5.0zM147.2 408h2.5v2h-2.5zM241.5 408h2.5v2h-2.5zM258.8 408h2.5v2h-2.5zM268.7 408h2.5v2h-2.5zM278.7 408h2.5v2h-2.5zM308.4 408h7.4v2h-7.4zM343.2 408h2.5v2h-2.5zM80.2 410h2.5v2h-2.5zM447.4 410h2.5v2h-2.5zM102.5 412h2.5v2h-2.5zM162.1 412h2.5v2h-2.5zM263.8 412h5.0v2h-5.0zM353.1 412h7.4v2h-7.4zM437.5 412h2.5v2h-2.5zM209.2 414h2.5v2h-2.5zM216.6 414h2.5v2h-2.5zM224.1 414h2.5v2h-2.5zM258.8 414h2.5v2h-2.5zM303.5 414h2.5v2h-2.5zM310.9 414h5.0v2h-5.0zM348.1 414h2.5v2h-2.5zM425.1 414h5.0v2h-5.0zM3.3 416h2.5v2h-2.5zM8.2 416h2.5v2h-2.5zM13.2 416h2.5v2h-2.5zM20.6 416h2.5v2h-2.5zM189.4 416h2.5v2h-2.5zM315.9 416h2.5v2h-2.5zM353.1 416h2.5v2h-2.5zM0.8 418h2.5v2h-2.5zM18.2 418h7.4v2h-7.4zM85.2 418h2.5v2h-2.5zM100.0 418h2.5v2h-2.5zM177.0 418h2.5v2h-2.5zM219.1 418h2.5v2h-2.5zM313.4 418h7.4v2h-7.4zM323.3 418h2.5v2h-2.5zM330.8 418h2.5v2h-2.5zM335.7 418h2.5v2h-2.5zM340.7 418h5.0v2h-5.0zM350.6 418h2.5v2h-2.5zM380.4 418h2.5v2h-2.5zM402.7 418h5.0v2h-5.0zM420.1 418h2.5v2h-2.5zM231.5 420h2.5v2h-2.5zM439.9 420h2.5v2h-2.5zM464.7 420h2.5v2h-2.5zM479.6 420h5.0v2h-5.0zM43.0 422h2.5v2h-2.5zM85.2 422h2.5v2h-2.5zM110.0 422h5.0v2h-5.0zM226.6 422h2.5v2h-2.5zM358.1 422h2.5v2h-2.5zM422.6 422h2.5v2h-2.5zM439.9 422h5.0v2h-5.0zM90.1 424h2.5v2h-2.5zM253.9 424h2.5v2h-2.5zM328.3 424h5.0v2h-5.0zM395.3 424h2.5v2h-2.5zM258.8 426h2.5v2h-2.5zM340.7 426h2.5v2h-2.5zM449.9 426h2.5v2h-2.5zM43.0 428h2.5v2h-2.5zM55.4 428h5.0v2h-5.0zM75.2 428h2.5v2h-2.5zM110.0 428h2.5v2h-2.5zM137.3 428h2.5v2h-2.5zM201.8 428h2.5v2h-2.5zM435.0 428h5.0v2h-5.0zM8.2 430h2.5v2h-2.5zM25.6 430h5.0v2h-5.0zM62.8 430h2.5v2h-2.5zM85.2 430h5.0v2h-5.0zM142.2 430h2.5v2h-2.5zM261.3 430h2.5v2h-2.5zM430.0 430h2.5v2h-2.5zM30.6 432h5.0v2h-5.0zM62.8 432h5.0v2h-5.0zM72.7 432h2.5v2h-2.5zM105.0 432h2.5v2h-2.5zM174.5 432h5.0v2h-5.0zM181.9 432h2.5v2h-2.5zM239.0 432h5.0v2h-5.0zM283.6 432h2.5v2h-2.5zM313.4 432h2.5v2h-2.5zM338.2 432h2.5v2h-2.5zM459.8 432h5.0v2h-5.0zM482.1 432h2.5v2h-2.5zM67.8 434h2.5v2h-2.5zM82.7 434h2.5v2h-2.5zM87.6 434h2.5v2h-2.5zM189.4 434h7.4v2h-7.4zM313.4 434h2.5v2h-2.5zM402.7 434h2.5v2h-2.5zM407.7 434h2.5v2h-2.5zM412.6 434h2.5v2h-2.5zM417.6 434h7.4v2h-7.4zM472.2 434h5.0v2h-5.0zM489.6 434h5.0v2h-5.0zM38.0 436h2.5v2h-2.5zM45.5 436h5.0v2h-5.0zM60.3 436h7.4v2h-7.4zM132.3 436h5.0v2h-5.0zM201.8 436h5.0v2h-5.0zM231.5 436h2.5v2h-2.5zM243.9 436h2.5v2h-2.5zM293.6 436h5.0v2h-5.0zM303.5 436h2.5v2h-2.5zM343.2 436h2.5v2h-2.5zM377.9 436h2.5v2h-2.5zM397.8 436h2.5v2h-2.5zM462.3 436h7.4v2h-7.4zM484.6 436h2.5v2h-2.5zM489.6 436h7.4v2h-7.4zM5.8 438h7.4v2h-7.4zM45.5 438h2.5v2h-2.5zM50.4 438h5.0v2h-5.0zM77.7 438h2.5v2h-2.5zM102.5 438h7.4v2h-7.4zM179.4 438h2.5v2h-2.5zM189.4 438h2.5v2h-2.5zM206.7 438h5.0v2h-5.0zM293.6 438h5.0v2h-5.0zM400.2 438h2.5v2h-2.5zM405.2 438h5.0v2h-5.0zM437.5 438h2.5v2h-2.5zM447.4 438h7.4v2h-7.4zM457.3 438h2.5v2h-2.5zM462.3 438h2.5v2h-2.5zM65.3 440h2.5v2h-2.5zM472.2 440h2.5v2h-2.5zM3.3 442h2.5v2h-2.5zM20.6 442h9.9v2h-9.9zM50.4 442h2.5v2h-2.5zM90.1 442h7.4v2h-7.4zM139.7 442h7.4v2h-7.4zM221.6 442h2.5v2h-2.5zM291.1 442h5.0v2h-5.0zM303.5 442h2.5v2h-2.5zM310.9 442h5.0v2h-5.0zM320.8 442h2.5v2h-2.5zM343.2 442h2.5v2h-2.5zM3.3 444h2.5v2h-2.5zM33.1 444h5.0v2h-5.0zM47.9 444h2.5v2h-2.5zM55.4 444h2.5v2h-2.5zM65.3 444h2.5v2h-2.5zM70.3 444h5.0v2h-5.0zM189.4 444h5.0v2h-5.0zM196.8 444h2.5v2h-2.5zM206.7 444h2.5v2h-2.5zM328.3 444h2.5v2h-2.5zM412.6 444h2.5v2h-2.5zM435.0 444h2.5v2h-2.5zM0.8 446h5.0v2h-5.0zM18.2 446h2.5v2h-2.5zM23.1 446h2.5v2h-2.5zM28.1 446h7.4v2h-7.4zM43.0 446h7.4v2h-7.4zM75.2 446h2.5v2h-2.5zM100.0 446h2.5v2h-2.5zM127.3 446h2.5v2h-2.5zM132.3 446h2.5v2h-2.5zM191.8 446h2.5v2h-2.5zM216.6 446h2.5v2h-2.5zM221.6 446h2.5v2h-2.5zM231.5 446h2.5v2h-2.5zM278.7 446h2.5v2h-2.5zM298.5 446h9.9v2h-9.9zM315.9 446h2.5v2h-2.5zM320.8 446h2.5v2h-2.5zM350.6 446h2.5v2h-2.5zM407.7 446h2.5v2h-2.5zM412.6 446h2.5v2h-2.5zM0.8 448h2.5v2h-2.5zM28.1 448h5.0v2h-5.0zM43.0 448h5.0v2h-5.0zM52.9 448h7.4v2h-7.4zM119.9 448h5.0v2h-5.0zM137.3 448h2.5v2h-2.5zM152.1 448h2.5v2h-2.5zM164.5 448h2.5v2h-2.5zM214.2 448h2.5v2h-2.5zM234.0 448h2.5v2h-2.5zM268.7 448h5.0v2h-5.0zM363.0 448h2.5v2h-2.5zM407.7 448h9.9v2h-9.9zM420.1 448h2.5v2h-2.5zM0.8 450h5.0v2h-5.0zM10.7 450h2.5v2h-2.5zM20.6 450h9.9v2h-9.9zM33.1 450h5.0v2h-5.0zM43.0 450h2.5v2h-2.5zM47.9 450h5.0v2h-5.0zM72.7 450h2.5v2h-2.5zM90.1 450h2.5v2h-2.5zM95.1 450h7.4v2h-7.4zM107.5 450h2.5v2h-2.5zM206.7 450h2.5v2h-2.5zM241.5 450h2.5v2h-2.5zM261.3 450h2.5v2h-2.5zM281.2 450h2.5v2h-2.5zM298.5 450h2.5v2h-2.5zM323.3 450h7.4v2h-7.4zM430.0 450h2.5v2h-2.5zM45.5 452h2.5v2h-2.5zM60.3 452h2.5v2h-2.5zM92.6 452h5.0v2h-5.0zM206.7 452h2.5v2h-2.5zM246.4 452h2.5v2h-2.5zM437.5 452h2.5v2h-2.5zM5.8 454h7.4v2h-7.4zM38.0 454h2.5v2h-2.5zM129.8 454h2.5v2h-2.5zM139.7 454h5.0v2h-5.0zM343.2 454h2.5v2h-2.5zM382.9 454h2.5v2h-2.5zM132.3 456h2.5v2h-2.5zM437.5 456h2.5v2h-2.5zM454.8 456h2.5v2h-2.5zM72.7 458h2.5v2h-2.5zM452.3 458h5.0v2h-5.0zM92.6 460h5.0v2h-5.0zM147.2 460h5.0v2h-5.0zM199.3 462h2.5v2h-2.5zM216.6 462h12.4v2h-12.4zM447.4 462h2.5v2h-2.5zM234.0 464h2.5v2h-2.5zM246.4 464h2.5v2h-2.5zM400.2 464h5.0v2h-5.0zM47.9 466h2.5v2h-2.5zM92.6 466h5.0v2h-5.0zM119.9 466h2.5v2h-2.5zM162.1 466h2.5v2h-2.5zM214.2 466h5.0v2h-5.0zM231.5 466h2.5v2h-2.5zM420.1 466h5.0v2h-5.0zM469.7 466h5.0v2h-5.0zM477.2 466h2.5v2h-2.5zM487.1 466h2.5v2h-2.5zM70.3 468h2.5v2h-2.5zM186.9 468h2.5v2h-2.5zM199.3 468h5.0v2h-5.0zM211.7 468h5.0v2h-5.0zM221.6 468h5.0v2h-5.0zM335.7 468h2.5v2h-2.5zM425.1 468h2.5v2h-2.5zM474.7 468h2.5v2h-2.5zM492.0 468h2.5v2h-2.5zM8.2 470h5.0v2h-5.0zM28.1 470h2.5v2h-2.5zM35.5 470h5.0v2h-5.0zM72.7 470h2.5v2h-2.5zM85.2 470h2.5v2h-2.5zM92.6 470h2.5v2h-2.5zM97.6 470h5.0v2h-5.0zM110.0 470h2.5v2h-2.5zM119.9 470h2.5v2h-2.5zM219.1 470h2.5v2h-2.5zM286.1 470h2.5v2h-2.5zM291.1 470h5.0v2h-5.0zM313.4 470h2.5v2h-2.5zM340.7 470h2.5v2h-2.5zM363.0 470h2.5v2h-2.5zM375.4 470h2.5v2h-2.5zM385.4 470h5.0v2h-5.0zM402.7 470h5.0v2h-5.0zM410.2 470h2.5v2h-2.5zM449.9 470h5.0v2h-5.0zM489.6 470h7.4v2h-7.4zM15.7 472h5.0v2h-5.0zM43.0 472h5.0v2h-5.0zM77.7 472h5.0v2h-5.0zM92.6 472h2.5v2h-2.5zM114.9 472h2.5v2h-2.5zM229.1 472h5.0v2h-5.0zM271.2 472h2.5v2h-2.5zM385.4 472h2.5v2h-2.5zM415.1 472h2.5v2h-2.5zM459.8 472h2.5v2h-2.5zM469.7 472h2.5v2h-2.5zM477.2 472h5.0v2h-5.0zM45.5 474h2.5v2h-2.5zM77.7 474h2.5v2h-2.5zM100.0 474h2.5v2h-2.5zM281.2 474h2.5v2h-2.5zM338.2 474h2.5v2h-2.5zM353.1 474h5.0v2h-5.0zM360.5 474h2.5v2h-2.5zM417.6 474h5.0v2h-5.0zM442.4 474h5.0v2h-5.0zM469.7 474h17.4v2h-17.4zM489.6 474h2.5v2h-2.5zM494.5 474h2.5v2h-2.5zM169.5 476h2.5v2h-2.5zM204.2 476h2.5v2h-2.5zM234.0 476h2.5v2h-2.5zM271.2 476h5.0v2h-5.0zM435.0 476h2.5v2h-2.5zM452.3 476h2.5v2h-2.5zM464.7 476h5.0v2h-5.0zM482.1 476h2.5v2h-2.5zM5.8 478h2.5v2h-2.5zM62.8 478h2.5v2h-2.5zM234.0 478h2.5v2h-2.5zM286.1 478h2.5v2h-2.5zM435.0 478h2.5v2h-2.5zM457.3 478h2.5v2h-2.5zM464.7 478h5.0v2h-5.0zM479.6 478h2.5v2h-2.5zM494.5 478h2.5v2h-2.5zM23.1 480h2.5v2h-2.5zM110.0 480h5.0v2h-5.0zM189.4 480h2.5v2h-2.5zM439.9 480h2.5v2h-2.5zM444.9 480h7.4v2h-7.4zM454.8 480h2.5v2h-2.5zM467.2 480h17.4v2h-17.4zM278.7 482h5.0v2h-5.0zM350.6 482h2.5v2h-2.5zM410.2 482h2.5v2h-2.5zM452.3 482h2.5v2h-2.5zM75.2 484h5.0v2h-5.0zM142.2 484h2.5v2h-2.5zM191.8 484h2.5v2h-2.5zM196.8 484h2.5v2h-2.5zM412.6 484h5.0v2h-5.0zM442.4 484h5.0v2h-5.0zM449.9 484h2.5v2h-2.5zM30.6 486h7.4v2h-7.4zM72.7 486h2.5v2h-2.5zM102.5 486h5.0v2h-5.0zM172.0 486h2.5v2h-2.5zM325.8 486h2.5v2h-2.5zM390.3 486h2.5v2h-2.5zM407.7 486h2.5v2h-2.5zM439.9 486h2.5v2h-2.5zM452.3 486h2.5v2h-2.5zM479.6 486h5.0v2h-5.0zM487.1 486h2.5v2h-2.5zM494.5 486h2.5v2h-2.5zM62.8 488h2.5v2h-2.5zM75.2 488h2.5v2h-2.5zM97.6 488h2.5v2h-2.5zM199.3 488h5.0v2h-5.0zM211.7 488h2.5v2h-2.5zM236.5 488h5.0v2h-5.0zM372.9 488h2.5v2h-2.5zM415.1 488h2.5v2h-2.5zM487.1 488h2.5v2h-2.5zM92.6 490h5.0v2h-5.0zM444.9 490h2.5v2h-2.5zM449.9 490h2.5v2h-2.5zM459.8 490h9.9v2h-9.9zM477.2 490h2.5v2h-2.5zM55.4 492h2.5v2h-2.5zM477.2 492h2.5v2h-2.5zM75.2 494h2.5v2h-2.5zM387.8 494h2.5v2h-2.5zM472.2 494h5.0v2h-5.0zM484.6 494h5.0v2h-5.0zM20.6 496h2.5v2h-2.5zM30.6 496h5.0v2h-5.0zM45.5 496h2.5v2h-2.5zM127.3 496h5.0v2h-5.0zM281.2 496h2.5v2h-2.5zM310.9 496h2.5v2h-2.5zM415.1 496h2.5v2h-2.5zM469.7 496h2.5v2h-2.5zM474.7 496h5.0v2h-5.0zM494.5 496h2.5v2h-2.5zM72.7 498h2.5v2h-2.5zM8.2 500h2.5v2h-2.5zM100.0 500h7.4v2h-7.4zM139.7 500h2.5v2h-2.5zM442.4 500h2.5v2h-2.5zM467.2 500h7.4v2h-7.4zM477.2 500h2.5v2h-2.5zM482.1 500h2.5v2h-2.5zM0.8 502h2.5v2h-2.5zM234.0 502h2.5v2h-2.5zM350.6 502h2.5v2h-2.5zM358.1 502h2.5v2h-2.5zM382.9 502h2.5v2h-2.5zM430.0 502h7.4v2h-7.4zM454.8 502h2.5v2h-2.5zM462.3 502h2.5v2h-2.5zM477.2 502h5.0v2h-5.0zM444.9 504h2.5v2h-2.5zM484.6 504h2.5v2h-2.5zM492.0 504h2.5v2h-2.5zM3.3 506h2.5v2h-2.5zM55.4 506h2.5v2h-2.5zM72.7 506h7.4v2h-7.4zM214.2 506h2.5v2h-2.5zM246.4 506h2.5v2h-2.5zM75.2 508h2.5v2h-2.5zM248.9 508h2.5v2h-2.5zM75.2 510h2.5v2h-2.5zM134.8 510h2.5v2h-2.5zM229.1 510h2.5v2h-2.5zM464.7 510h5.0v2h-5.0zM482.1 510h5.0v2h-5.0zM30.6 512h5.0v2h-5.0zM82.7 512h2.5v2h-2.5zM273.7 512h2.5v2h-2.5zM90.1 514h7.4v2h-7.4zM102.5 514h2.5v2h-2.5zM122.4 514h2.5v2h-2.5zM243.9 514h2.5v2h-2.5zM318.4 514h2.5v2h-2.5zM400.2 514h2.5v2h-2.5zM467.2 514h2.5v2h-2.5zM0.8 516h2.5v2h-2.5zM107.5 516h2.5v2h-2.5zM320.8 516h5.0v2h-5.0zM439.9 516h2.5v2h-2.5zM95.1 518h2.5v2h-2.5zM154.6 518h2.5v2h-2.5zM169.5 518h2.5v2h-2.5zM296.0 518h2.5v2h-2.5zM363.0 518h2.5v2h-2.5zM387.8 518h2.5v2h-2.5zM435.0 518h2.5v2h-2.5zM33.1 520h2.5v2h-2.5zM50.4 520h2.5v2h-2.5zM169.5 520h2.5v2h-2.5zM338.2 520h2.5v2h-2.5zM430.0 520h2.5v2h-2.5zM40.5 522h2.5v2h-2.5zM52.9 522h2.5v2h-2.5zM75.2 522h2.5v2h-2.5zM137.3 522h2.5v2h-2.5zM216.6 522h2.5v2h-2.5zM271.2 522h2.5v2h-2.5zM325.8 522h5.0v2h-5.0zM370.5 522h2.5v2h-2.5zM30.6 524h2.5v2h-2.5zM85.2 524h2.5v2h-2.5zM114.9 524h5.0v2h-5.0zM167.0 524h2.5v2h-2.5zM278.7 524h2.5v2h-2.5zM313.4 524h2.5v2h-2.5zM328.3 524h2.5v2h-2.5zM348.1 524h2.5v2h-2.5zM355.6 524h5.0v2h-5.0zM216.6 526h2.5v2h-2.5zM229.1 526h2.5v2h-2.5zM315.9 526h5.0v2h-5.0zM363.0 526h2.5v2h-2.5zM186.9 528h2.5v2h-2.5zM296.0 528h2.5v2h-2.5zM318.4 528h2.5v2h-2.5zM345.7 528h5.0v2h-5.0zM415.1 528h5.0v2h-5.0zM50.4 530h2.5v2h-2.5zM70.3 530h2.5v2h-2.5zM139.7 530h2.5v2h-2.5zM174.5 530h5.0v2h-5.0zM214.2 530h2.5v2h-2.5zM258.8 530h2.5v2h-2.5zM268.7 530h5.0v2h-5.0zM301.0 530h2.5v2h-2.5zM313.4 530h7.4v2h-7.4zM328.3 530h5.0v2h-5.0zM365.5 530h5.0v2h-5.0zM385.4 530h2.5v2h-2.5zM422.6 530h5.0v2h-5.0zM229.1 532h2.5v2h-2.5zM281.2 532h2.5v2h-2.5zM318.4 532h2.5v2h-2.5zM380.4 532h2.5v2h-2.5zM469.7 532h2.5v2h-2.5zM62.8 534h2.5v2h-2.5zM87.6 534h5.0v2h-5.0zM172.0 534h2.5v2h-2.5zM184.4 534h2.5v2h-2.5zM209.2 534h2.5v2h-2.5zM214.2 534h5.0v2h-5.0zM239.0 534h2.5v2h-2.5zM283.6 534h5.0v2h-5.0zM298.5 534h2.5v2h-2.5zM325.8 534h2.5v2h-2.5zM345.7 534h2.5v2h-2.5zM405.2 534h2.5v2h-2.5zM437.5 534h2.5v2h-2.5zM293.6 536h2.5v2h-2.5zM377.9 536h2.5v2h-2.5zM139.7 538h9.9v2h-9.9zM189.4 538h2.5v2h-2.5zM221.6 538h7.4v2h-7.4zM325.8 538h7.4v2h-7.4zM370.5 538h5.0v2h-5.0zM407.7 538h2.5v2h-2.5zM415.1 538h5.0v2h-5.0zM0.8 540h2.5v2h-2.5zM28.1 540h2.5v2h-2.5zM50.4 540h2.5v2h-2.5zM114.9 540h2.5v2h-2.5zM149.7 540h2.5v2h-2.5zM271.2 540h2.5v2h-2.5zM281.2 540h5.0v2h-5.0zM320.8 540h2.5v2h-2.5zM328.3 540h2.5v2h-2.5zM358.1 540h2.5v2h-2.5zM368.0 540h2.5v2h-2.5zM387.8 540h2.5v2h-2.5zM405.2 540h2.5v2h-2.5zM425.1 540h2.5v2h-2.5zM20.6 542h5.0v2h-5.0zM28.1 542h2.5v2h-2.5zM35.5 542h2.5v2h-2.5zM164.5 542h2.5v2h-2.5zM169.5 542h2.5v2h-2.5zM177.0 542h2.5v2h-2.5zM189.4 542h2.5v2h-2.5zM221.6 542h5.0v2h-5.0zM266.3 542h2.5v2h-2.5zM278.7 542h17.4v2h-17.4zM338.2 542h2.5v2h-2.5zM360.5 542h2.5v2h-2.5zM20.6 544h2.5v2h-2.5zM214.2 544h2.5v2h-2.5zM261.3 544h2.5v2h-2.5zM266.3 544h2.5v2h-2.5zM271.2 544h2.5v2h-2.5zM360.5 544h2.5v2h-2.5zM370.5 544h2.5v2h-2.5zM5.8 546h2.5v2h-2.5zM23.1 546h2.5v2h-2.5zM33.1 546h2.5v2h-2.5zM50.4 546h2.5v2h-2.5zM87.6 546h2.5v2h-2.5zM129.8 546h2.5v2h-2.5zM196.8 546h2.5v2h-2.5zM330.8 546h2.5v2h-2.5zM338.2 546h2.5v2h-2.5zM390.3 546h2.5v2h-2.5zM395.3 546h5.0v2h-5.0zM405.2 546h2.5v2h-2.5zM412.6 546h2.5v2h-2.5zM363.0 548h2.5v2h-2.5zM3.3 550h2.5v2h-2.5zM87.6 550h2.5v2h-2.5zM122.4 550h5.0v2h-5.0zM152.1 550h2.5v2h-2.5zM291.1 550h2.5v2h-2.5zM390.3 550h2.5v2h-2.5zM395.3 550h2.5v2h-2.5zM0.8 552h2.5v2h-2.5zM100.0 552h7.4v2h-7.4zM214.2 552h5.0v2h-5.0zM308.4 552h2.5v2h-2.5zM365.5 552h5.0v2h-5.0zM390.3 552h2.5v2h-2.5zM405.2 552h2.5v2h-2.5zM107.5 554h2.5v2h-2.5zM157.1 554h2.5v2h-2.5zM181.9 554h5.0v2h-5.0zM214.2 554h2.5v2h-2.5zM268.7 554h2.5v2h-2.5zM273.7 554h9.9v2h-9.9zM308.4 554h2.5v2h-2.5zM330.8 554h2.5v2h-2.5zM368.0 554h2.5v2h-2.5zM112.4 556h2.5v2h-2.5zM209.2 556h5.0v2h-5.0zM266.3 556h2.5v2h-2.5zM296.0 556h2.5v2h-2.5zM310.9 556h5.0v2h-5.0zM335.7 556h2.5v2h-2.5zM360.5 556h5.0v2h-5.0zM219.1 558h2.5v2h-2.5zM226.6 558h2.5v2h-2.5zM241.5 558h2.5v2h-2.5zM348.1 558h7.4v2h-7.4zM363.0 558h2.5v2h-2.5zM10.7 560h5.0v2h-5.0zM30.6 560h2.5v2h-2.5zM52.9 560h2.5v2h-2.5zM162.1 560h2.5v2h-2.5zM258.8 560h2.5v2h-2.5zM273.7 560h2.5v2h-2.5zM298.5 560h2.5v2h-2.5zM313.4 560h2.5v2h-2.5zM55.4 562h5.0v2h-5.0zM122.4 562h2.5v2h-2.5zM164.5 562h2.5v2h-2.5zM258.8 562h5.0v2h-5.0zM276.2 562h5.0v2h-5.0zM296.0 562h2.5v2h-2.5zM330.8 562h5.0v2h-5.0zM345.7 562h2.5v2h-2.5zM350.6 562h2.5v2h-2.5zM397.8 562h2.5v2h-2.5zM467.2 562h2.5v2h-2.5zM114.9 564h2.5v2h-2.5zM204.2 564h2.5v2h-2.5zM229.1 564h2.5v2h-2.5zM276.2 564h2.5v2h-2.5zM286.1 564h2.5v2h-2.5zM308.4 564h2.5v2h-2.5zM328.3 564h2.5v2h-2.5zM340.7 564h2.5v2h-2.5zM350.6 564h2.5v2h-2.5zM365.5 564h2.5v2h-2.5zM452.3 564h2.5v2h-2.5zM191.8 566h2.5v2h-2.5zM201.8 566h2.5v2h-2.5zM258.8 566h7.4v2h-7.4zM271.2 566h2.5v2h-2.5zM315.9 566h5.0v2h-5.0zM343.2 566h5.0v2h-5.0zM372.9 566h2.5v2h-2.5zM385.4 566h2.5v2h-2.5zM390.3 566h2.5v2h-2.5zM397.8 566h2.5v2h-2.5zM457.3 566h2.5v2h-2.5zM239.0 568h5.0v2h-5.0zM271.2 568h2.5v2h-2.5zM325.8 568h2.5v2h-2.5zM343.2 568h2.5v2h-2.5zM358.1 568h2.5v2h-2.5zM407.7 568h2.5v2h-2.5zM13.2 570h2.5v2h-2.5zM35.5 570h2.5v2h-2.5zM45.5 570h2.5v2h-2.5zM159.6 570h2.5v2h-2.5zM234.0 570h2.5v2h-2.5zM251.4 570h2.5v2h-2.5zM283.6 570h2.5v2h-2.5zM293.6 570h7.4v2h-7.4zM320.8 570h2.5v2h-2.5zM335.7 570h2.5v2h-2.5zM350.6 570h2.5v2h-2.5zM477.2 570h2.5v2h-2.5zM18.2 572h2.5v2h-2.5zM30.6 572h5.0v2h-5.0zM38.0 572h2.5v2h-2.5zM65.3 572h2.5v2h-2.5zM85.2 572h5.0v2h-5.0zM196.8 572h2.5v2h-2.5zM211.7 572h5.0v2h-5.0zM251.4 572h7.4v2h-7.4zM273.7 572h2.5v2h-2.5zM281.2 572h2.5v2h-2.5zM286.1 572h5.0v2h-5.0zM298.5 572h5.0v2h-5.0zM340.7 572h2.5v2h-2.5zM348.1 572h2.5v2h-2.5zM412.6 572h2.5v2h-2.5zM57.9 574h2.5v2h-2.5zM172.0 574h2.5v2h-2.5zM209.2 574h2.5v2h-2.5zM144.7 576h2.5v2h-2.5zM216.6 576h2.5v2h-2.5zM43.0 578h2.5v2h-2.5zM82.7 578h2.5v2h-2.5zM293.6 578h2.5v2h-2.5zM303.5 578h7.4v2h-7.4zM313.4 578h2.5v2h-2.5zM323.3 578h5.0v2h-5.0zM355.6 578h5.0v2h-5.0zM368.0 578h2.5v2h-2.5zM380.4 578h2.5v2h-2.5zM3.3 580h2.5v2h-2.5zM40.5 580h2.5v2h-2.5zM224.1 580h2.5v2h-2.5zM288.6 580h2.5v2h-2.5zM301.0 580h2.5v2h-2.5zM325.8 580h2.5v2h-2.5zM370.5 580h7.4v2h-7.4zM392.8 580h2.5v2h-2.5zM412.6 580h2.5v2h-2.5zM449.9 580h2.5v2h-2.5zM457.3 580h5.0v2h-5.0zM482.1 580h2.5v2h-2.5zM0.8 582h2.5v2h-2.5zM10.7 582h5.0v2h-5.0zM28.1 582h2.5v2h-2.5zM196.8 582h2.5v2h-2.5zM216.6 582h2.5v2h-2.5zM221.6 582h5.0v2h-5.0zM298.5 582h2.5v2h-2.5zM318.4 582h5.0v2h-5.0zM405.2 582h5.0v2h-5.0zM439.9 582h2.5v2h-2.5zM469.7 582h2.5v2h-2.5zM487.1 582h2.5v2h-2.5zM75.2 584h2.5v2h-2.5zM214.2 584h2.5v2h-2.5zM226.6 584h5.0v2h-5.0zM234.0 584h2.5v2h-2.5zM469.7 584h5.0v2h-5.0zM489.6 584h5.0v2h-5.0zM8.2 586h2.5v2h-2.5zM15.7 586h2.5v2h-2.5zM20.6 586h5.0v2h-5.0zM77.7 586h2.5v2h-2.5zM85.2 586h2.5v2h-2.5zM174.5 586h2.5v2h-2.5zM206.7 586h2.5v2h-2.5zM251.4 586h5.0v2h-5.0zM298.5 586h2.5v2h-2.5zM315.9 586h5.0v2h-5.0zM355.6 586h2.5v2h-2.5zM442.4 586h5.0v2h-5.0zM457.3 586h2.5v2h-2.5zM474.7 586h2.5v2h-2.5zM117.4 588h2.5v2h-2.5zM417.6 588h2.5v2h-2.5zM425.1 588h2.5v2h-2.5zM444.9 588h2.5v2h-2.5zM454.8 588h2.5v2h-2.5zM112.4 590h2.5v2h-2.5zM132.3 590h2.5v2h-2.5zM179.4 590h5.0v2h-5.0zM186.9 590h5.0v2h-5.0zM196.8 590h2.5v2h-2.5zM214.2 590h2.5v2h-2.5zM226.6 590h2.5v2h-2.5zM239.0 590h2.5v2h-2.5zM291.1 590h5.0v2h-5.0zM303.5 590h7.4v2h-7.4zM313.4 590h2.5v2h-2.5zM358.1 590h2.5v2h-2.5zM368.0 590h9.9v2h-9.9zM405.2 590h5.0v2h-5.0zM454.8 590h2.5v2h-2.5zM462.3 590h5.0v2h-5.0zM288.6 592h2.5v2h-2.5zM340.7 592h7.4v2h-7.4zM355.6 592h2.5v2h-2.5zM439.9 592h7.4v2h-7.4zM179.4 594h2.5v2h-2.5zM268.7 594h2.5v2h-2.5zM350.6 594h2.5v2h-2.5zM387.8 594h2.5v2h-2.5zM72.7 596h7.4v2h-7.4zM149.7 596h2.5v2h-2.5zM209.2 596h2.5v2h-2.5zM298.5 596h2.5v2h-2.5zM50.4 598h2.5v2h-2.5zM243.9 598h2.5v2h-2.5zM291.1 598h5.0v2h-5.0zM348.1 598h2.5v2h-2.5zM380.4 598h2.5v2h-2.5zM415.1 598h2.5v2h-2.5zM422.6 598h2.5v2h-2.5zM449.9 598h2.5v2h-2.5zM479.6 598h2.5v2h-2.5zM35.5 600h5.0v2h-5.0zM65.3 600h2.5v2h-2.5zM107.5 600h2.5v2h-2.5zM122.4 600h2.5v2h-2.5zM154.6 600h2.5v2h-2.5zM189.4 600h2.5v2h-2.5zM263.8 600h2.5v2h-2.5zM328.3 600h2.5v2h-2.5zM370.5 600h2.5v2h-2.5zM442.4 600h2.5v2h-2.5zM3.3 602h2.5v2h-2.5zM13.2 602h7.4v2h-7.4zM52.9 602h7.4v2h-7.4zM181.9 602h2.5v2h-2.5zM186.9 602h2.5v2h-2.5zM234.0 602h2.5v2h-2.5zM340.7 602h2.5v2h-2.5zM363.0 602h2.5v2h-2.5zM372.9 602h2.5v2h-2.5zM444.9 602h2.5v2h-2.5zM469.7 602h2.5v2h-2.5zM494.5 602h2.5v2h-2.5zM30.6 604h2.5v2h-2.5zM87.6 604h2.5v2h-2.5zM134.8 604h5.0v2h-5.0zM159.6 604h2.5v2h-2.5zM283.6 604h2.5v2h-2.5zM467.2 604h2.5v2h-2.5zM479.6 604h2.5v2h-2.5zM8.2 606h2.5v2h-2.5zM110.0 606h2.5v2h-2.5zM142.2 606h2.5v2h-2.5zM172.0 606h2.5v2h-2.5zM258.8 606h2.5v2h-2.5zM276.2 606h2.5v2h-2.5zM281.2 606h2.5v2h-2.5zM301.0 606h2.5v2h-2.5zM340.7 606h2.5v2h-2.5zM407.7 606h2.5v2h-2.5zM444.9 606h5.0v2h-5.0zM469.7 606h5.0v2h-5.0zM484.6 606h2.5v2h-2.5zM489.6 606h2.5v2h-2.5zM8.2 608h2.5v2h-2.5zM13.2 608h2.5v2h-2.5zM129.8 608h5.0v2h-5.0zM211.7 608h2.5v2h-2.5zM253.9 608h2.5v2h-2.5zM258.8 608h2.5v2h-2.5zM315.9 608h5.0v2h-5.0zM405.2 608h2.5v2h-2.5zM139.7 610h2.5v2h-2.5zM186.9 610h2.5v2h-2.5zM209.2 610h12.4v2h-12.4zM234.0 610h5.0v2h-5.0zM253.9 610h2.5v2h-2.5zM276.2 610h5.0v2h-5.0zM306.0 610h2.5v2h-2.5zM315.9 610h2.5v2h-2.5zM358.1 610h2.5v2h-2.5zM385.4 610h5.0v2h-5.0zM397.8 610h2.5v2h-2.5zM402.7 610h2.5v2h-2.5zM425.1 610h2.5v2h-2.5zM3.3 612h7.4v2h-7.4zM45.5 612h2.5v2h-2.5zM191.8 612h7.4v2h-7.4zM273.7 612h5.0v2h-5.0zM489.6 612h2.5v2h-2.5zM167.0 614h5.0v2h-5.0zM201.8 614h2.5v2h-2.5zM216.6 614h2.5v2h-2.5zM268.7 614h5.0v2h-5.0zM291.1 614h12.4v2h-12.4zM320.8 614h9.9v2h-9.9zM348.1 614h2.5v2h-2.5zM400.2 614h5.0v2h-5.0zM489.6 614h2.5v2h-2.5zM494.5 614h2.5v2h-2.5zM348.1 616h5.0v2h-5.0zM494.5 616h2.5v2h-2.5zM234.0 618h2.5v2h-2.5zM303.5 618h5.0v2h-5.0zM335.7 618h2.5v2h-2.5zM353.1 618h2.5v2h-2.5zM370.5 618h2.5v2h-2.5zM439.9 618h2.5v2h-2.5zM484.6 618h2.5v2h-2.5zM124.8 620h2.5v2h-2.5zM221.6 620h2.5v2h-2.5zM236.5 620h2.5v2h-2.5zM251.4 620h5.0v2h-5.0zM276.2 620h5.0v2h-5.0zM303.5 620h5.0v2h-5.0zM412.6 620h5.0v2h-5.0zM422.6 620h2.5v2h-2.5zM439.9 620h2.5v2h-2.5zM444.9 620h2.5v2h-2.5zM52.9 622h2.5v2h-2.5zM211.7 622h2.5v2h-2.5zM271.2 622h5.0v2h-5.0zM281.2 622h2.5v2h-2.5zM340.7 622h7.4v2h-7.4zM407.7 622h2.5v2h-2.5zM412.6 622h2.5v2h-2.5zM422.6 622h2.5v2h-2.5zM439.9 622h5.0v2h-5.0zM447.4 622h5.0v2h-5.0zM479.6 622h2.5v2h-2.5zM70.3 624h2.5v2h-2.5zM77.7 624h2.5v2h-2.5zM102.5 624h2.5v2h-2.5zM134.8 624h2.5v2h-2.5zM167.0 624h5.0v2h-5.0zM179.4 624h2.5v2h-2.5zM273.7 624h2.5v2h-2.5zM283.6 624h7.4v2h-7.4zM310.9 624h2.5v2h-2.5zM323.3 624h2.5v2h-2.5zM365.5 624h2.5v2h-2.5zM382.9 624h2.5v2h-2.5zM392.8 624h2.5v2h-2.5zM420.1 624h2.5v2h-2.5zM439.9 624h5.0v2h-5.0zM452.3 624h5.0v2h-5.0zM492.0 624h2.5v2h-2.5zM18.2 626h2.5v2h-2.5zM80.2 626h2.5v2h-2.5zM147.2 626h2.5v2h-2.5zM152.1 626h2.5v2h-2.5zM157.1 626h2.5v2h-2.5zM216.6 626h5.0v2h-5.0zM229.1 626h5.0v2h-5.0zM256.3 626h2.5v2h-2.5zM439.9 626h2.5v2h-2.5zM454.8 626h12.4v2h-12.4zM479.6 626h5.0v2h-5.0zM487.1 626h2.5v2h-2.5zM38.0 628h2.5v2h-2.5zM132.3 628h2.5v2h-2.5zM159.6 628h2.5v2h-2.5zM174.5 628h2.5v2h-2.5zM179.4 628h5.0v2h-5.0zM194.3 628h2.5v2h-2.5zM216.6 628h2.5v2h-2.5zM278.7 628h2.5v2h-2.5zM320.8 628h2.5v2h-2.5zM340.7 628h2.5v2h-2.5zM353.1 628h2.5v2h-2.5zM395.3 628h2.5v2h-2.5zM439.9 628h2.5v2h-2.5zM444.9 628h2.5v2h-2.5zM464.7 628h2.5v2h-2.5zM474.7 628h2.5v2h-2.5zM479.6 628h7.4v2h-7.4zM147.2 630h2.5v2h-2.5zM169.5 630h2.5v2h-2.5zM184.4 630h2.5v2h-2.5zM229.1 630h2.5v2h-2.5zM263.8 630h2.5v2h-2.5zM283.6 630h2.5v2h-2.5zM330.8 630h2.5v2h-2.5zM335.7 630h2.5v2h-2.5zM345.7 630h2.5v2h-2.5zM353.1 630h2.5v2h-2.5zM415.1 630h2.5v2h-2.5zM472.2 630h2.5v2h-2.5zM489.6 630h2.5v2h-2.5zM95.1 632h2.5v2h-2.5zM13.2 634h2.5v2h-2.5zM40.5 634h9.9v2h-9.9zM117.4 634h2.5v2h-2.5zM127.3 634h2.5v2h-2.5zM224.1 634h5.0v2h-5.0zM248.9 634h2.5v2h-2.5zM291.1 634h2.5v2h-2.5zM310.9 634h2.5v2h-2.5zM318.4 634h2.5v2h-2.5zM395.3 634h12.4v2h-12.4zM417.6 634h2.5v2h-2.5zM442.4 634h5.0v2h-5.0zM474.7 634h2.5v2h-2.5zM489.6 634h2.5v2h-2.5zM139.7 636h2.5v2h-2.5zM149.7 636h2.5v2h-2.5zM209.2 636h5.0v2h-5.0zM219.1 636h2.5v2h-2.5zM256.3 636h2.5v2h-2.5zM276.2 636h2.5v2h-2.5zM298.5 636h5.0v2h-5.0zM328.3 636h5.0v2h-5.0zM338.2 636h2.5v2h-2.5zM343.2 636h2.5v2h-2.5zM377.9 636h2.5v2h-2.5zM395.3 636h2.5v2h-2.5zM407.7 636h2.5v2h-2.5zM444.9 636h2.5v2h-2.5zM452.3 636h2.5v2h-2.5zM13.2 638h2.5v2h-2.5zM169.5 638h5.0v2h-5.0zM179.4 638h5.0v2h-5.0zM229.1 638h2.5v2h-2.5zM236.5 638h2.5v2h-2.5zM310.9 638h2.5v2h-2.5zM335.7 638h2.5v2h-2.5zM412.6 638h2.5v2h-2.5zM469.7 638h5.0v2h-5.0zM479.6 638h2.5v2h-2.5zM13.2 640h2.5v2h-2.5zM18.2 640h5.0v2h-5.0zM25.6 640h2.5v2h-2.5zM45.5 640h5.0v2h-5.0zM154.6 640h5.0v2h-5.0zM181.9 640h2.5v2h-2.5zM234.0 640h2.5v2h-2.5zM271.2 640h7.4v2h-7.4zM313.4 640h2.5v2h-2.5zM348.1 640h2.5v2h-2.5zM377.9 640h2.5v2h-2.5zM392.8 640h2.5v2h-2.5zM477.2 640h2.5v2h-2.5zM489.6 640h2.5v2h-2.5zM251.4 642h2.5v2h-2.5zM251.4 644h2.5v2h-2.5zM50.4 646h7.4v2h-7.4zM184.4 646h2.5v2h-2.5zM191.8 646h2.5v2h-2.5zM219.1 646h2.5v2h-2.5zM281.2 646h2.5v2h-2.5zM286.1 646h5.0v2h-5.0zM315.9 646h2.5v2h-2.5zM358.1 646h2.5v2h-2.5zM444.9 646h2.5v2h-2.5zM30.6 648h2.5v2h-2.5zM52.9 648h2.5v2h-2.5zM75.2 648h2.5v2h-2.5zM110.0 648h2.5v2h-2.5zM243.9 648h2.5v2h-2.5zM268.7 648h2.5v2h-2.5zM444.9 648h5.0v2h-5.0zM482.1 648h2.5v2h-2.5zM8.2 650h2.5v2h-2.5zM40.5 650h2.5v2h-2.5zM181.9 650h2.5v2h-2.5zM273.7 650h2.5v2h-2.5zM298.5 650h2.5v2h-2.5zM444.9 650h2.5v2h-2.5zM459.8 650h2.5v2h-2.5zM174.5 652h5.0v2h-5.0zM315.9 652h2.5v2h-2.5zM377.9 652h2.5v2h-2.5zM390.3 652h2.5v2h-2.5zM422.6 652h5.0v2h-5.0zM437.5 652h2.5v2h-2.5zM447.4 652h2.5v2h-2.5zM459.8 652h2.5v2h-2.5z"/>
<path fill="#900808" d="M60.3 372h7.4v2h-7.4zM105.0 372h2.5v2h-2.5zM181.9 372h2.5v2h-2.5zM258.8 372h2.5v2h-2.5zM271.2 372h9.9v2h-9.9zM372.9 372h5.0v2h-5.0zM385.4 372h2.5v2h-2.5zM469.7 372h5.0v2h-5.0zM494.5 372h2.5v2h-2.5zM149.7 374h2.5v2h-2.5zM181.9 374h2.5v2h-2.5zM261.3 374h2.5v2h-2.5zM266.3 374h2.5v2h-2.5zM271.2 374h2.5v2h-2.5zM276.2 374h2.5v2h-2.5zM345.7 374h2.5v2h-2.5zM430.0 374h2.5v2h-2.5zM457.3 374h2.5v2h-2.5zM33.1 376h2.5v2h-2.5zM80.2 376h5.0v2h-5.0zM189.4 376h2.5v2h-2.5zM201.8 376h2.5v2h-2.5zM266.3 376h2.5v2h-2.5zM286.1 376h2.5v2h-2.5zM345.7 376h2.5v2h-2.5zM375.4 376h2.5v2h-2.5zM454.8 376h2.5v2h-2.5zM10.7 378h2.5v2h-2.5zM52.9 378h2.5v2h-2.5zM221.6 378h2.5v2h-2.5zM243.9 378h5.0v2h-5.0zM268.7 378h2.5v2h-2.5zM278.7 378h2.5v2h-2.5zM291.1 378h5.0v2h-5.0zM310.9 378h2.5v2h-2.5zM358.1 378h2.5v2h-2.5zM447.4 378h5.0v2h-5.0zM459.8 378h2.5v2h-2.5zM464.7 378h5.0v2h-5.0zM35.5 380h2.5v2h-2.5zM132.3 380h5.0v2h-5.0zM162.1 380h2.5v2h-2.5zM201.8 380h5.0v2h-5.0zM266.3 380h7.4v2h-7.4zM281.2 380h2.5v2h-2.5zM298.5 380h2.5v2h-2.5zM323.3 380h2.5v2h-2.5zM345.7 380h2.5v2h-2.5zM387.8 380h2.5v2h-2.5zM430.0 380h7.4v2h-7.4zM464.7 380h2.5v2h-2.5zM477.2 380h2.5v2h-2.5zM482.1 380h2.5v2h-2.5zM181.9 382h2.5v2h-2.5zM206.7 382h5.0v2h-5.0zM405.2 382h2.5v2h-2.5zM412.6 382h5.0v2h-5.0zM492.0 382h2.5v2h-2.5zM184.4 384h2.5v2h-2.5zM206.7 384h2.5v2h-2.5zM318.4 384h2.5v2h-2.5zM363.0 384h5.0v2h-5.0zM47.9 386h2.5v2h-2.5zM87.6 386h2.5v2h-2.5zM333.3 386h7.4v2h-7.4zM80.2 388h5.0v2h-5.0zM102.5 388h5.0v2h-5.0zM206.7 388h2.5v2h-2.5zM214.2 388h2.5v2h-2.5zM234.0 388h5.0v2h-5.0zM348.1 388h2.5v2h-2.5zM472.2 388h2.5v2h-2.5zM479.6 388h2.5v2h-2.5zM492.0 388h2.5v2h-2.5zM100.0 390h2.5v2h-2.5zM142.2 390h2.5v2h-2.5zM219.1 390h2.5v2h-2.5zM239.0 390h2.5v2h-2.5zM355.6 390h2.5v2h-2.5zM382.9 390h5.0v2h-5.0zM390.3 390h2.5v2h-2.5zM38.0 392h2.5v2h-2.5zM194.3 392h5.0v2h-5.0zM211.7 392h2.5v2h-2.5zM261.3 392h2.5v2h-2.5zM325.8 392h2.5v2h-2.5zM350.6 392h7.4v2h-7.4zM400.2 392h2.5v2h-2.5zM494.5 392h2.5v2h-2.5zM142.2 394h2.5v2h-2.5zM278.7 394h2.5v2h-2.5zM23.1 396h2.5v2h-2.5zM60.3 396h2.5v2h-2.5zM154.6 396h2.5v2h-2.5zM194.3 396h2.5v2h-2.5zM248.9 396h2.5v2h-2.5zM122.4 398h2.5v2h-2.5zM167.0 398h2.5v2h-2.5zM216.6 398h2.5v2h-2.5zM226.6 398h2.5v2h-2.5zM283.6 398h2.5v2h-2.5zM385.4 398h2.5v2h-2.5zM407.7 398h2.5v2h-2.5zM23.1 400h2.5v2h-2.5zM365.5 400h2.5v2h-2.5zM28.1 402h9.9v2h-9.9zM154.6 402h2.5v2h-2.5zM181.9 402h7.4v2h-7.4zM288.6 402h2.5v2h-2.5zM306.0 402h2.5v2h-2.5zM452.3 402h2.5v2h-2.5zM0.8 404h5.0v2h-5.0zM231.5 404h2.5v2h-2.5zM427.5 404h2.5v2h-2.5zM23.1 406h2.5v2h-2.5zM38.0 406h2.5v2h-2.5zM50.4 406h2.5v2h-2.5zM72.7 406h2.5v2h-2.5zM206.7 406h2.5v2h-2.5zM211.7 406h2.5v2h-2.5zM243.9 406h2.5v2h-2.5zM276.2 406h2.5v2h-2.5zM439.9 406h2.5v2h-2.5zM3.3 408h5.0v2h-5.0zM33.1 408h5.0v2h-5.0zM172.0 408h2.5v2h-2.5zM243.9 408h5.0v2h-5.0zM266.3 408h2.5v2h-2.5zM273.7 408h2.5v2h-2.5zM306.0 408h2.5v2h-2.5zM353.1 408h2.5v2h-2.5zM368.0 408h2.5v2h-2.5zM375.4 408h2.5v2h-2.5zM405.2 408h2.5v2h-2.5zM5.8 412h2.5v2h-2.5zM30.6 412h2.5v2h-2.5zM35.5 412h5.0v2h-5.0zM345.7 412h7.4v2h-7.4zM412.6 412h5.0v2h-5.0zM452.3 412h2.5v2h-2.5zM137.3 414h2.5v2h-2.5zM181.9 414h2.5v2h-2.5zM273.7 414h2.5v2h-2.5zM315.9 414h2.5v2h-2.5zM323.3 414h2.5v2h-2.5zM345.7 414h2.5v2h-2.5zM360.5 414h2.5v2h-2.5zM221.6 416h2.5v2h-2.5zM239.0 416h5.0v2h-5.0zM263.8 416h5.0v2h-5.0zM306.0 416h2.5v2h-2.5zM328.3 416h2.5v2h-2.5zM350.6 416h2.5v2h-2.5zM390.3 416h2.5v2h-2.5zM154.6 418h5.0v2h-5.0zM167.0 418h2.5v2h-2.5zM189.4 418h2.5v2h-2.5zM226.6 418h7.4v2h-7.4zM268.7 418h2.5v2h-2.5zM278.7 418h2.5v2h-2.5zM293.6 418h2.5v2h-2.5zM353.1 418h2.5v2h-2.5zM358.1 418h2.5v2h-2.5zM387.8 418h2.5v2h-2.5zM422.6 418h2.5v2h-2.5zM40.5 422h2.5v2h-2.5zM114.9 422h2.5v2h-2.5zM241.5 422h2.5v2h-2.5zM278.7 422h2.5v2h-2.5zM318.4 422h7.4v2h-7.4zM360.5 422h2.5v2h-2.5zM365.5 422h2.5v2h-2.5zM477.2 424h2.5v2h-2.5zM358.1 426h2.5v2h-2.5zM439.9 426h2.5v2h-2.5zM479.6 426h2.5v2h-2.5zM40.5 428h2.5v2h-2.5zM266.3 428h2.5v2h-2.5zM306.0 428h2.5v2h-2.5zM395.3 428h2.5v2h-2.5zM60.3 430h2.5v2h-2.5zM82.7 430h2.5v2h-2.5zM110.0 430h2.5v2h-2.5zM221.6 430h7.4v2h-7.4zM298.5 430h2.5v2h-2.5zM0.8 432h5.0v2h-5.0zM75.2 432h5.0v2h-5.0zM191.8 432h7.4v2h-7.4zM293.6 432h2.5v2h-2.5zM437.5 432h2.5v2h-2.5zM469.7 432h2.5v2h-2.5zM477.2 432h5.0v2h-5.0zM40.5 434h2.5v2h-2.5zM100.0 434h2.5v2h-2.5zM142.2 434h5.0v2h-5.0zM271.2 434h5.0v2h-5.0zM449.9 434h7.4v2h-7.4zM30.6 436h7.4v2h-7.4zM40.5 436h2.5v2h-2.5zM50.4 436h5.0v2h-5.0zM159.6 436h2.5v2h-2.5zM363.0 436h2.5v2h-2.5zM33.1 438h7.4v2h-7.4zM152.1 438h7.4v2h-7.4zM169.5 438h2.5v2h-2.5zM243.9 438h2.5v2h-2.5zM298.5 438h2.5v2h-2.5zM335.7 438h2.5v2h-2.5zM439.9 438h7.4v2h-7.4zM214.2 440h2.5v2h-2.5zM10.7 442h2.5v2h-2.5zM33.1 442h5.0v2h-5.0zM132.3 442h5.0v2h-5.0zM216.6 442h2.5v2h-2.5zM226.6 442h2.5v2h-2.5zM278.7 442h2.5v2h-2.5zM315.9 442h2.5v2h-2.5zM323.3 442h2.5v2h-2.5zM80.2 444h2.5v2h-2.5zM90.1 444h2.5v2h-2.5zM129.8 444h2.5v2h-2.5zM142.2 444h5.0v2h-5.0zM194.3 444h2.5v2h-2.5zM291.1 444h12.4v2h-12.4zM310.9 444h2.5v2h-2.5zM338.2 444h2.5v2h-2.5zM405.2 444h5.0v2h-5.0zM8.2 446h5.0v2h-5.0zM35.5 446h2.5v2h-2.5zM65.3 446h2.5v2h-2.5zM87.6 446h2.5v2h-2.5zM196.8 446h2.5v2h-2.5zM310.9 446h5.0v2h-5.0zM323.3 446h5.0v2h-5.0zM417.6 446h5.0v2h-5.0zM10.7 448h5.0v2h-5.0zM23.1 448h2.5v2h-2.5zM35.5 448h7.4v2h-7.4zM97.6 448h5.0v2h-5.0zM114.9 448h5.0v2h-5.0zM191.8 448h2.5v2h-2.5zM204.2 448h2.5v2h-2.5zM430.0 448h7.4v2h-7.4zM457.3 448h2.5v2h-2.5zM5.8 450h2.5v2h-2.5zM13.2 450h2.5v2h-2.5zM18.2 450h2.5v2h-2.5zM45.5 450h2.5v2h-2.5zM57.9 450h2.5v2h-2.5zM105.0 450h2.5v2h-2.5zM134.8 450h2.5v2h-2.5zM199.3 450h5.0v2h-5.0zM236.5 450h2.5v2h-2.5zM266.3 450h5.0v2h-5.0zM293.6 450h2.5v2h-2.5zM5.8 452h5.0v2h-5.0zM25.6 452h2.5v2h-2.5zM211.7 452h5.0v2h-5.0zM286.1 452h2.5v2h-2.5zM375.4 452h2.5v2h-2.5zM430.0 452h2.5v2h-2.5zM462.3 452h5.0v2h-5.0zM18.2 454h2.5v2h-2.5zM75.2 454h2.5v2h-2.5zM102.5 454h2.5v2h-2.5zM219.1 454h2.5v2h-2.5zM271.2 454h2.5v2h-2.5zM372.9 458h5.0v2h-5.0zM87.6 460h2.5v2h-2.5zM231.5 460h5.0v2h-5.0zM281.2 460h5.0v2h-5.0zM417.6 460h2.5v2h-2.5zM38.0 462h2.5v2h-2.5zM105.0 462h2.5v2h-2.5zM122.4 462h2.5v2h-2.5zM167.0 462h2.5v2h-2.5zM211.7 462h2.5v2h-2.5zM487.1 462h2.5v2h-2.5zM216.6 464h5.0v2h-5.0zM415.1 464h2.5v2h-2.5zM467.2 464h2.5v2h-2.5zM137.3 466h2.5v2h-2.5zM184.4 466h7.4v2h-7.4zM199.3 466h2.5v2h-2.5zM226.6 466h2.5v2h-2.5zM323.3 466h2.5v2h-2.5zM479.6 466h5.0v2h-5.0zM494.5 466h2.5v2h-2.5zM57.9 468h2.5v2h-2.5zM97.6 468h2.5v2h-2.5zM204.2 468h7.4v2h-7.4zM216.6 468h5.0v2h-5.0zM226.6 468h2.5v2h-2.5zM239.0 468h2.5v2h-2.5zM258.8 468h2.5v2h-2.5zM308.4 468h2.5v2h-2.5zM330.8 468h2.5v2h-2.5zM353.1 468h2.5v2h-2.5zM462.3 468h2.5v2h-2.5zM477.2 468h2.5v2h-2.5zM494.5 468h2.5v2h-2.5zM13.2 470h2.5v2h-2.5zM18.2 470h2.5v2h-2.5zM30.6 470h5.0v2h-5.0zM57.9 470h2.5v2h-2.5zM65.3 470h5.0v2h-5.0zM75.2 470h2.5v2h-2.5zM82.7 470h2.5v2h-2.5zM87.6 470h5.0v2h-5.0zM105.0 470h5.0v2h-5.0zM114.9 470h2.5v2h-2.5zM122.4 470h2.5v2h-2.5zM263.8 470h5.0v2h-5.0zM288.6 470h2.5v2h-2.5zM315.9 470h2.5v2h-2.5zM372.9 470h2.5v2h-2.5zM472.2 470h5.0v2h-5.0zM479.6 470h2.5v2h-2.5zM484.6 470h2.5v2h-2.5zM154.6 472h2.5v2h-2.5zM186.9 472h2.5v2h-2.5zM243.9 472h2.5v2h-2.5zM288.6 472h2.5v2h-2.5zM320.8 472h5.0v2h-5.0zM472.2 472h5.0v2h-5.0zM8.2 474h2.5v2h-2.5zM20.6 474h2.5v2h-2.5zM127.3 474h2.5v2h-2.5zM177.0 474h2.5v2h-2.5zM181.9 474h7.4v2h-7.4zM206.7 474h2.5v2h-2.5zM221.6 474h5.0v2h-5.0zM234.0 474h2.5v2h-2.5zM261.3 474h2.5v2h-2.5zM318.4 474h2.5v2h-2.5zM350.6 474h2.5v2h-2.5zM387.8 474h5.0v2h-5.0zM464.7 474h2.5v2h-2.5zM201.8 476h2.5v2h-2.5zM350.6 476h7.4v2h-7.4zM0.8 478h2.5v2h-2.5zM18.2 478h2.5v2h-2.5zM90.1 478h2.5v2h-2.5zM251.4 478h5.0v2h-5.0zM360.5 478h2.5v2h-2.5zM437.5 478h2.5v2h-2.5zM489.6 478h2.5v2h-2.5zM286.1 480h2.5v2h-2.5zM400.2 480h7.4v2h-7.4zM38.0 482h2.5v2h-2.5zM82.7 482h2.5v2h-2.5zM306.0 482h2.5v2h-2.5zM315.9 482h2.5v2h-2.5zM360.5 482h2.5v2h-2.5zM392.8 482h2.5v2h-2.5zM472.2 482h2.5v2h-2.5zM0.8 484h5.0v2h-5.0zM8.2 484h7.4v2h-7.4zM107.5 484h2.5v2h-2.5zM246.4 484h5.0v2h-5.0zM291.1 484h2.5v2h-2.5zM308.4 484h7.4v2h-7.4zM400.2 484h2.5v2h-2.5zM38.0 486h2.5v2h-2.5zM251.4 486h5.0v2h-5.0zM338.2 486h2.5v2h-2.5zM400.2 486h2.5v2h-2.5zM442.4 486h2.5v2h-2.5zM464.7 486h5.0v2h-5.0zM472.2 486h2.5v2h-2.5zM489.6 486h2.5v2h-2.5zM35.5 488h2.5v2h-2.5zM50.4 488h2.5v2h-2.5zM55.4 488h2.5v2h-2.5zM402.7 488h2.5v2h-2.5zM444.9 488h7.4v2h-7.4zM457.3 488h2.5v2h-2.5zM464.7 488h2.5v2h-2.5zM50.4 490h5.0v2h-5.0zM179.4 490h7.4v2h-7.4zM375.4 490h2.5v2h-2.5zM439.9 490h2.5v2h-2.5zM469.7 490h7.4v2h-7.4zM487.1 490h2.5v2h-2.5zM40.5 492h2.5v2h-2.5zM439.9 492h5.0v2h-5.0zM87.6 494h2.5v2h-2.5zM105.0 494h2.5v2h-2.5zM328.3 494h2.5v2h-2.5zM477.2 494h2.5v2h-2.5zM40.5 496h2.5v2h-2.5zM70.3 496h2.5v2h-2.5zM112.4 496h2.5v2h-2.5zM380.4 496h2.5v2h-2.5zM397.8 496h2.5v2h-2.5zM439.9 496h2.5v2h-2.5zM457.3 496h5.0v2h-5.0zM467.2 496h2.5v2h-2.5zM472.2 496h2.5v2h-2.5zM114.9 498h2.5v2h-2.5zM224.1 498h2.5v2h-2.5zM459.8 498h2.5v2h-2.5zM467.2 498h2.5v2h-2.5zM28.1 500h2.5v2h-2.5zM119.9 500h2.5v2h-2.5zM258.8 500h2.5v2h-2.5zM283.6 500h2.5v2h-2.5zM303.5 500h7.4v2h-7.4zM144.7 502h2.5v2h-2.5zM241.5 502h2.5v2h-2.5zM288.6 502h2.5v2h-2.5zM439.9 502h2.5v2h-2.5zM464.7 502h2.5v2h-2.5zM469.7 502h2.5v2h-2.5zM487.1 502h2.5v2h-2.5zM204.2 504h2.5v2h-2.5zM211.7 504h2.5v2h-2.5zM430.0 504h2.5v2h-2.5zM95.1 506h2.5v2h-2.5zM323.3 506h2.5v2h-2.5zM395.3 506h2.5v2h-2.5zM479.6 506h2.5v2h-2.5zM3.3 508h2.5v2h-2.5zM8.2 508h2.5v2h-2.5zM129.8 508h5.0v2h-5.0zM253.9 508h2.5v2h-2.5zM439.9 508h2.5v2h-2.5zM484.6 508h2.5v2h-2.5zM492.0 508h2.5v2h-2.5zM20.6 510h2.5v2h-2.5zM139.7 510h9.9v2h-9.9zM216.6 510h2.5v2h-2.5zM258.8 510h2.5v2h-2.5zM449.9 510h2.5v2h-2.5zM459.8 510h2.5v2h-2.5zM33.1 514h2.5v2h-2.5zM43.0 514h5.0v2h-5.0zM114.9 514h5.0v2h-5.0zM134.8 514h5.0v2h-5.0zM179.4 514h5.0v2h-5.0zM303.5 514h5.0v2h-5.0zM310.9 514h2.5v2h-2.5zM447.4 514h2.5v2h-2.5zM35.5 516h2.5v2h-2.5zM97.6 516h2.5v2h-2.5zM452.3 516h2.5v2h-2.5zM30.6 518h2.5v2h-2.5zM60.3 518h2.5v2h-2.5zM70.3 518h2.5v2h-2.5zM87.6 518h2.5v2h-2.5zM139.7 518h5.0v2h-5.0zM191.8 518h7.4v2h-7.4zM256.3 518h2.5v2h-2.5zM298.5 518h2.5v2h-2.5zM310.9 518h9.9v2h-9.9zM442.4 520h5.0v2h-5.0zM47.9 522h2.5v2h-2.5zM65.3 522h2.5v2h-2.5zM97.6 522h2.5v2h-2.5zM129.8 522h2.5v2h-2.5zM162.1 522h2.5v2h-2.5zM172.0 522h2.5v2h-2.5zM196.8 522h2.5v2h-2.5zM236.5 522h2.5v2h-2.5zM246.4 522h2.5v2h-2.5zM276.2 522h7.4v2h-7.4zM338.2 522h2.5v2h-2.5zM439.9 522h5.0v2h-5.0zM47.9 524h2.5v2h-2.5zM52.9 524h2.5v2h-2.5zM377.9 524h2.5v2h-2.5zM462.3 524h5.0v2h-5.0zM333.3 526h2.5v2h-2.5zM350.6 526h2.5v2h-2.5zM355.6 528h2.5v2h-2.5zM28.1 530h2.5v2h-2.5zM55.4 530h2.5v2h-2.5zM67.8 530h2.5v2h-2.5zM75.2 530h2.5v2h-2.5zM152.1 530h2.5v2h-2.5zM179.4 530h5.0v2h-5.0zM186.9 530h2.5v2h-2.5zM209.2 530h2.5v2h-2.5zM219.1 530h5.0v2h-5.0zM298.5 530h2.5v2h-2.5zM333.3 530h2.5v2h-2.5zM464.7 530h2.5v2h-2.5zM15.7 532h5.0v2h-5.0zM67.8 532h2.5v2h-2.5zM127.3 532h5.0v2h-5.0zM172.0 532h2.5v2h-2.5zM246.4 532h2.5v2h-2.5zM286.1 532h2.5v2h-2.5zM313.4 532h2.5v2h-2.5zM23.1 534h2.5v2h-2.5zM179.4 534h2.5v2h-2.5zM211.7 534h2.5v2h-2.5zM221.6 534h7.4v2h-7.4zM258.8 534h2.5v2h-2.5zM303.5 534h2.5v2h-2.5zM353.1 534h2.5v2h-2.5zM189.4 536h2.5v2h-2.5zM387.8 536h2.5v2h-2.5zM487.1 536h2.5v2h-2.5zM15.7 538h2.5v2h-2.5zM25.6 538h2.5v2h-2.5zM43.0 538h5.0v2h-5.0zM122.4 538h2.5v2h-2.5zM127.3 538h5.0v2h-5.0zM154.6 538h2.5v2h-2.5zM179.4 538h2.5v2h-2.5zM211.7 538h2.5v2h-2.5zM229.1 538h7.4v2h-7.4zM283.6 538h5.0v2h-5.0zM293.6 538h7.4v2h-7.4zM308.4 538h2.5v2h-2.5zM313.4 538h2.5v2h-2.5zM335.7 538h2.5v2h-2.5zM353.1 538h5.0v2h-5.0zM375.4 538h5.0v2h-5.0zM420.1 538h2.5v2h-2.5zM464.7 538h2.5v2h-2.5zM122.4 540h2.5v2h-2.5zM209.2 540h2.5v2h-2.5zM231.5 540h2.5v2h-2.5zM308.4 540h2.5v2h-2.5zM417.6 540h2.5v2h-2.5zM114.9 542h2.5v2h-2.5zM167.0 542h2.5v2h-2.5zM214.2 542h2.5v2h-2.5zM330.8 542h5.0v2h-5.0zM387.8 542h2.5v2h-2.5zM52.9 544h2.5v2h-2.5zM92.6 544h2.5v2h-2.5zM201.8 544h5.0v2h-5.0zM335.7 544h2.5v2h-2.5zM25.6 546h2.5v2h-2.5zM105.0 546h2.5v2h-2.5zM152.1 546h2.5v2h-2.5zM268.7 546h2.5v2h-2.5zM276.2 546h12.4v2h-12.4zM380.4 546h2.5v2h-2.5zM494.5 546h2.5v2h-2.5zM30.6 548h2.5v2h-2.5zM85.2 548h2.5v2h-2.5zM149.7 548h5.0v2h-5.0zM172.0 548h7.4v2h-7.4zM206.7 548h2.5v2h-2.5zM343.2 548h5.0v2h-5.0zM288.6 550h2.5v2h-2.5zM10.7 552h5.0v2h-5.0zM28.1 552h2.5v2h-2.5zM38.0 552h2.5v2h-2.5zM72.7 552h2.5v2h-2.5zM117.4 552h2.5v2h-2.5zM154.6 552h5.0v2h-5.0zM241.5 552h2.5v2h-2.5zM276.2 552h5.0v2h-5.0zM288.6 552h5.0v2h-5.0zM338.2 552h2.5v2h-2.5zM425.1 552h2.5v2h-2.5zM35.5 554h2.5v2h-2.5zM90.1 554h2.5v2h-2.5zM97.6 554h5.0v2h-5.0zM201.8 554h2.5v2h-2.5zM224.1 554h2.5v2h-2.5zM258.8 554h5.0v2h-5.0zM323.3 554h2.5v2h-2.5zM333.3 554h7.4v2h-7.4zM365.5 554h2.5v2h-2.5zM40.5 556h2.5v2h-2.5zM50.4 556h2.5v2h-2.5zM107.5 556h2.5v2h-2.5zM298.5 556h5.0v2h-5.0zM323.3 556h2.5v2h-2.5zM484.6 556h2.5v2h-2.5zM28.1 558h2.5v2h-2.5zM189.4 558h5.0v2h-5.0zM229.1 558h2.5v2h-2.5zM365.5 558h7.4v2h-7.4zM18.2 560h2.5v2h-2.5zM97.6 560h2.5v2h-2.5zM231.5 560h2.5v2h-2.5zM248.9 560h5.0v2h-5.0zM328.3 560h2.5v2h-2.5zM355.6 560h5.0v2h-5.0zM368.0 560h5.0v2h-5.0zM375.4 560h5.0v2h-5.0zM43.0 562h7.4v2h-7.4zM134.8 562h2.5v2h-2.5zM266.3 562h5.0v2h-5.0zM335.7 562h2.5v2h-2.5zM358.1 562h2.5v2h-2.5zM368.0 562h2.5v2h-2.5zM33.1 564h2.5v2h-2.5zM43.0 564h2.5v2h-2.5zM191.8 564h2.5v2h-2.5zM306.0 564h2.5v2h-2.5zM338.2 564h2.5v2h-2.5zM358.1 564h2.5v2h-2.5zM372.9 564h2.5v2h-2.5zM100.0 566h2.5v2h-2.5zM119.9 566h2.5v2h-2.5zM273.7 566h2.5v2h-2.5zM310.9 566h2.5v2h-2.5zM330.8 566h2.5v2h-2.5zM340.7 566h2.5v2h-2.5zM365.5 566h2.5v2h-2.5zM395.3 566h2.5v2h-2.5zM256.3 568h2.5v2h-2.5zM80.2 570h7.4v2h-7.4zM105.0 570h2.5v2h-2.5zM239.0 570h2.5v2h-2.5zM273.7 570h2.5v2h-2.5zM338.2 570h2.5v2h-2.5zM348.1 570h2.5v2h-2.5zM382.9 570h2.5v2h-2.5zM400.2 570h2.5v2h-2.5zM40.5 572h2.5v2h-2.5zM72.7 572h2.5v2h-2.5zM152.1 572h2.5v2h-2.5zM209.2 572h2.5v2h-2.5zM221.6 572h17.4v2h-17.4zM283.6 572h2.5v2h-2.5zM291.1 572h7.4v2h-7.4zM303.5 572h7.4v2h-7.4zM323.3 572h2.5v2h-2.5zM397.8 572h5.0v2h-5.0zM444.9 572h5.0v2h-5.0zM387.8 574h12.4v2h-12.4zM444.9 574h5.0v2h-5.0zM30.6 576h2.5v2h-2.5zM40.5 576h2.5v2h-2.5zM338.2 576h2.5v2h-2.5zM372.9 576h2.5v2h-2.5zM382.9 576h2.5v2h-2.5zM454.8 576h2.5v2h-2.5zM119.9 578h2.5v2h-2.5zM392.8 578h2.5v2h-2.5zM457.3 578h2.5v2h-2.5zM5.8 580h2.5v2h-2.5zM45.5 580h5.0v2h-5.0zM57.9 580h2.5v2h-2.5zM177.0 580h2.5v2h-2.5zM189.4 580h2.5v2h-2.5zM296.0 580h2.5v2h-2.5zM303.5 580h5.0v2h-5.0zM340.7 580h2.5v2h-2.5zM390.3 580h2.5v2h-2.5zM442.4 580h2.5v2h-2.5zM452.3 580h5.0v2h-5.0zM462.3 580h2.5v2h-2.5zM472.2 580h2.5v2h-2.5zM479.6 580h2.5v2h-2.5zM484.6 580h2.5v2h-2.5zM489.6 580h2.5v2h-2.5zM181.9 582h2.5v2h-2.5zM209.2 582h2.5v2h-2.5zM239.0 582h7.4v2h-7.4zM261.3 582h2.5v2h-2.5zM310.9 582h5.0v2h-5.0zM442.4 582h7.4v2h-7.4zM459.8 582h2.5v2h-2.5zM464.7 582h2.5v2h-2.5zM472.2 582h2.5v2h-2.5zM482.1 582h5.0v2h-5.0zM248.9 584h2.5v2h-2.5zM0.8 586h2.5v2h-2.5zM10.7 586h2.5v2h-2.5zM92.6 586h2.5v2h-2.5zM194.3 586h2.5v2h-2.5zM209.2 586h2.5v2h-2.5zM256.3 586h5.0v2h-5.0zM268.7 586h2.5v2h-2.5zM286.1 586h2.5v2h-2.5zM293.6 586h5.0v2h-5.0zM363.0 586h5.0v2h-5.0zM387.8 586h5.0v2h-5.0zM301.0 588h2.5v2h-2.5zM82.7 590h2.5v2h-2.5zM105.0 590h7.4v2h-7.4zM119.9 590h2.5v2h-2.5zM177.0 590h2.5v2h-2.5zM229.1 590h2.5v2h-2.5zM241.5 590h2.5v2h-2.5zM273.7 590h2.5v2h-2.5zM301.0 590h2.5v2h-2.5zM0.8 594h2.5v2h-2.5zM286.1 594h2.5v2h-2.5zM40.5 596h5.0v2h-5.0zM55.4 596h2.5v2h-2.5zM60.3 596h5.0v2h-5.0zM271.2 596h2.5v2h-2.5zM97.6 598h2.5v2h-2.5zM134.8 598h5.0v2h-5.0zM167.0 598h2.5v2h-2.5zM268.7 598h2.5v2h-2.5zM273.7 598h2.5v2h-2.5zM407.7 598h7.4v2h-7.4zM442.4 598h2.5v2h-2.5zM45.5 600h2.5v2h-2.5zM92.6 600h2.5v2h-2.5zM117.4 600h2.5v2h-2.5zM181.9 600h2.5v2h-2.5zM335.7 600h2.5v2h-2.5zM375.4 600h5.0v2h-5.0zM447.4 600h2.5v2h-2.5zM464.7 600h2.5v2h-2.5zM28.1 602h2.5v2h-2.5zM45.5 602h5.0v2h-5.0zM122.4 602h2.5v2h-2.5zM129.8 602h2.5v2h-2.5zM204.2 602h5.0v2h-5.0zM273.7 602h7.4v2h-7.4zM293.6 602h7.4v2h-7.4zM303.5 602h2.5v2h-2.5zM325.8 602h5.0v2h-5.0zM338.2 602h2.5v2h-2.5zM489.6 602h2.5v2h-2.5zM3.3 604h2.5v2h-2.5zM139.7 604h2.5v2h-2.5zM219.1 604h2.5v2h-2.5zM261.3 604h2.5v2h-2.5zM286.1 604h2.5v2h-2.5zM0.8 606h5.0v2h-5.0zM35.5 606h2.5v2h-2.5zM52.9 606h2.5v2h-2.5zM137.3 606h2.5v2h-2.5zM189.4 606h5.0v2h-5.0zM283.6 606h2.5v2h-2.5zM333.3 606h5.0v2h-5.0zM382.9 606h2.5v2h-2.5zM400.2 606h2.5v2h-2.5zM439.9 606h5.0v2h-5.0zM449.9 606h2.5v2h-2.5zM454.8 606h7.4v2h-7.4zM474.7 606h2.5v2h-2.5zM0.8 608h2.5v2h-2.5zM28.1 608h2.5v2h-2.5zM147.2 608h2.5v2h-2.5zM234.0 608h5.0v2h-5.0zM276.2 608h2.5v2h-2.5zM306.0 608h7.4v2h-7.4zM320.8 608h2.5v2h-2.5zM353.1 608h2.5v2h-2.5zM392.8 608h7.4v2h-7.4zM407.7 608h2.5v2h-2.5zM489.6 608h5.0v2h-5.0zM117.4 610h2.5v2h-2.5zM162.1 610h5.0v2h-5.0zM196.8 610h2.5v2h-2.5zM258.8 610h5.0v2h-5.0zM273.7 610h2.5v2h-2.5zM313.4 610h2.5v2h-2.5zM333.3 610h2.5v2h-2.5zM365.5 610h2.5v2h-2.5zM390.3 610h5.0v2h-5.0zM405.2 610h5.0v2h-5.0zM442.4 610h2.5v2h-2.5zM464.7 610h5.0v2h-5.0zM477.2 610h2.5v2h-2.5zM489.6 610h2.5v2h-2.5zM47.9 612h2.5v2h-2.5zM325.8 612h2.5v2h-2.5zM348.1 612h5.0v2h-5.0zM377.9 612h2.5v2h-2.5zM385.4 612h5.0v2h-5.0zM402.7 612h5.0v2h-5.0zM447.4 612h2.5v2h-2.5zM189.4 614h2.5v2h-2.5zM231.5 614h2.5v2h-2.5zM236.5 614h2.5v2h-2.5zM248.9 614h12.4v2h-12.4zM283.6 614h2.5v2h-2.5zM345.7 614h2.5v2h-2.5zM360.5 614h2.5v2h-2.5zM382.9 614h2.5v2h-2.5zM472.2 614h2.5v2h-2.5zM335.7 616h2.5v2h-2.5zM395.3 616h2.5v2h-2.5zM462.3 616h5.0v2h-5.0zM469.7 616h2.5v2h-2.5zM211.7 618h5.0v2h-5.0zM293.6 618h2.5v2h-2.5zM338.2 618h2.5v2h-2.5zM355.6 618h2.5v2h-2.5zM363.0 618h2.5v2h-2.5zM385.4 618h2.5v2h-2.5zM422.6 618h2.5v2h-2.5zM489.6 618h5.0v2h-5.0zM181.9 620h2.5v2h-2.5zM281.2 620h5.0v2h-5.0zM320.8 620h2.5v2h-2.5zM459.8 620h2.5v2h-2.5zM477.2 620h2.5v2h-2.5zM209.2 622h2.5v2h-2.5zM251.4 622h2.5v2h-2.5zM325.8 622h2.5v2h-2.5zM355.6 622h7.4v2h-7.4zM368.0 622h2.5v2h-2.5zM385.4 622h2.5v2h-2.5zM425.1 622h2.5v2h-2.5zM464.7 622h5.0v2h-5.0zM43.0 624h2.5v2h-2.5zM90.1 624h5.0v2h-5.0zM112.4 624h2.5v2h-2.5zM216.6 624h2.5v2h-2.5zM224.1 624h2.5v2h-2.5zM278.7 624h2.5v2h-2.5zM325.8 624h2.5v2h-2.5zM372.9 624h7.4v2h-7.4zM390.3 624h2.5v2h-2.5zM402.7 624h7.4v2h-7.4zM444.9 624h7.4v2h-7.4zM474.7 624h17.4v2h-17.4zM117.4 626h2.5v2h-2.5zM172.0 626h2.5v2h-2.5zM179.4 626h2.5v2h-2.5zM234.0 626h5.0v2h-5.0zM253.9 626h2.5v2h-2.5zM291.1 626h2.5v2h-2.5zM315.9 626h2.5v2h-2.5zM355.6 626h2.5v2h-2.5zM375.4 626h2.5v2h-2.5zM387.8 626h2.5v2h-2.5zM442.4 626h2.5v2h-2.5zM447.4 626h2.5v2h-2.5zM484.6 626h2.5v2h-2.5zM65.3 628h2.5v2h-2.5zM75.2 628h2.5v2h-2.5zM85.2 628h2.5v2h-2.5zM152.1 628h2.5v2h-2.5zM209.2 628h5.0v2h-5.0zM219.1 628h2.5v2h-2.5zM296.0 628h2.5v2h-2.5zM380.4 628h5.0v2h-5.0zM454.8 628h2.5v2h-2.5zM467.2 628h5.0v2h-5.0zM492.0 628h5.0v2h-5.0zM97.6 630h2.5v2h-2.5zM226.6 630h2.5v2h-2.5zM323.3 630h2.5v2h-2.5zM365.5 630h5.0v2h-5.0zM377.9 630h2.5v2h-2.5zM487.1 630h2.5v2h-2.5zM144.7 632h2.5v2h-2.5zM221.6 632h5.0v2h-5.0zM57.9 634h2.5v2h-2.5zM100.0 634h2.5v2h-2.5zM229.1 634h5.0v2h-5.0zM268.7 634h5.0v2h-5.0zM296.0 634h5.0v2h-5.0zM323.3 634h2.5v2h-2.5zM340.7 634h2.5v2h-2.5zM410.2 634h5.0v2h-5.0zM422.6 634h2.5v2h-2.5zM467.2 634h5.0v2h-5.0zM40.5 636h2.5v2h-2.5zM340.7 636h2.5v2h-2.5zM350.6 636h5.0v2h-5.0zM385.4 636h2.5v2h-2.5zM390.3 636h2.5v2h-2.5zM410.2 636h2.5v2h-2.5zM40.5 638h2.5v2h-2.5zM149.7 638h2.5v2h-2.5zM154.6 638h2.5v2h-2.5zM248.9 638h5.0v2h-5.0zM291.1 638h2.5v2h-2.5zM298.5 638h2.5v2h-2.5zM308.4 638h2.5v2h-2.5zM365.5 638h2.5v2h-2.5zM477.2 638h2.5v2h-2.5zM65.3 640h2.5v2h-2.5zM144.7 640h2.5v2h-2.5zM256.3 640h14.9v2h-14.9zM286.1 640h2.5v2h-2.5zM333.3 640h2.5v2h-2.5zM355.6 640h2.5v2h-2.5zM360.5 640h5.0v2h-5.0zM425.1 640h2.5v2h-2.5zM459.8 640h2.5v2h-2.5zM484.6 640h2.5v2h-2.5zM35.5 642h2.5v2h-2.5zM127.3 642h2.5v2h-2.5zM333.3 642h2.5v2h-2.5zM417.6 642h2.5v2h-2.5zM127.3 644h2.5v2h-2.5zM191.8 644h2.5v2h-2.5zM253.9 644h5.0v2h-5.0zM291.1 644h5.0v2h-5.0zM390.3 644h2.5v2h-2.5zM489.6 644h2.5v2h-2.5zM47.9 646h2.5v2h-2.5zM85.2 646h5.0v2h-5.0zM177.0 646h2.5v2h-2.5zM199.3 646h7.4v2h-7.4zM229.1 646h2.5v2h-2.5zM278.7 646h2.5v2h-2.5zM3.3 648h2.5v2h-2.5zM50.4 648h2.5v2h-2.5zM107.5 648h2.5v2h-2.5zM112.4 648h5.0v2h-5.0zM157.1 648h2.5v2h-2.5zM174.5 648h2.5v2h-2.5zM206.7 648h2.5v2h-2.5zM246.4 648h2.5v2h-2.5zM261.3 648h5.0v2h-5.0zM283.6 648h2.5v2h-2.5zM353.1 648h2.5v2h-2.5zM35.5 650h2.5v2h-2.5zM43.0 650h2.5v2h-2.5zM57.9 650h2.5v2h-2.5zM90.1 650h2.5v2h-2.5zM276.2 650h2.5v2h-2.5zM340.7 650h2.5v2h-2.5zM382.9 650h2.5v2h-2.5zM392.8 650h2.5v2h-2.5zM248.9 652h2.5v2h-2.5zM256.3 652h7.4v2h-7.4zM335.7 652h5.0v2h-5.0z"/>
<path fill="#ff1c1c" d="M67.8 372h2.5v2h-2.5zM100.0 372h2.5v2h-2.5zM184.4 372h2.5v2h-2.5zM219.1 372h2.5v2h-2.5zM253.9 372h2.5v2h-2.5zM263.8 372h2.5v2h-2.5zM315.9 372h2.5v2h-2.5zM330.8 372h2.5v2h-2.5zM390.3 372h2.5v2h-2.5zM457.3 372h2.5v2h-2.5zM60.3 374h9.9v2h-9.9zM105.0 374h5.0v2h-5.0zM119.9 374h5.0v2h-5.0zM189.4 374h2.5v2h-2.5zM258.8 374h2.5v2h-2.5zM268.7 374h2.5v2h-2.5zM281.2 374h2.5v2h-2.5zM286.1 374h5.0v2h-5.0zM298.5 374h5.0v2h-5.0zM315.9 374h2.5v2h-2.5zM335.7 374h2.5v2h-2.5zM355.6 374h2.5v2h-2.5zM390.3 374h2.5v2h-2.5zM420.1 374h2.5v2h-2.5zM55.4 376h2.5v2h-2.5zM100.0 376h2.5v2h-2.5zM142.2 376h2.5v2h-2.5zM164.5 376h5.0v2h-5.0zM179.4 376h2.5v2h-2.5zM246.4 376h2.5v2h-2.5zM261.3 376h2.5v2h-2.5zM313.4 376h2.5v2h-2.5zM335.7 376h2.5v2h-2.5zM444.9 376h2.5v2h-2.5zM8.2 378h2.5v2h-2.5zM129.8 378h2.5v2h-2.5zM139.7 378h2.5v2h-2.5zM174.5 378h2.5v2h-2.5zM258.8 378h2.5v2h-2.5zM263.8 378h2.5v2h-2.5zM273.7 378h5.0v2h-5.0zM340.7 378h2.5v2h-2.5zM372.9 378h2.5v2h-2.5zM439.9 378h2.5v2h-2.5zM3.3 380h2.5v2h-2.5zM13.2 380h2.5v2h-2.5zM139.7 380h2.5v2h-2.5zM226.6 380h2.5v2h-2.5zM258.8 380h2.5v2h-2.5zM278.7 380h2.5v2h-2.5zM283.6 380h2.5v2h-2.5zM318.4 380h2.5v2h-2.5zM350.6 380h9.9v2h-9.9zM407.7 380h2.5v2h-2.5zM439.9 380h2.5v2h-2.5zM459.8 380h5.0v2h-5.0zM469.7 380h2.5v2h-2.5zM487.1 380h2.5v2h-2.5zM82.7 382h2.5v2h-2.5zM122.4 382h5.0v2h-5.0zM246.4 382h2.5v2h-2.5zM40.5 384h2.5v2h-2.5zM144.7 384h2.5v2h-2.5zM221.6 384h2.5v2h-2.5zM276.2 384h2.5v2h-2.5zM303.5 384h2.5v2h-2.5zM360.5 384h2.5v2h-2.5zM457.3 384h5.0v2h-5.0zM253.9 386h2.5v2h-2.5zM348.1 386h2.5v2h-2.5zM5.8 388h5.0v2h-5.0zM226.6 388h2.5v2h-2.5zM239.0 388h2.5v2h-2.5zM301.0 388h2.5v2h-2.5zM306.0 388h2.5v2h-2.5zM345.7 388h2.5v2h-2.5zM459.8 388h2.5v2h-2.5zM152.1 390h2.5v2h-2.5zM186.9 390h2.5v2h-2.5zM229.1 390h2.5v2h-2.5zM246.4 390h5.0v2h-5.0zM258.8 390h2.5v2h-2.5zM303.5 390h12.4v2h-12.4zM323.3 390h2.5v2h-2.5zM340.7 390h2.5v2h-2.5zM348.1 390h2.5v2h-2.5zM387.8 390h2.5v2h-2.5zM397.8 390h2.5v2h-2.5zM35.5 392h2.5v2h-2.5zM43.0 392h2.5v2h-2.5zM87.6 392h2.5v2h-2.5zM199.3 392h2.5v2h-2.5zM258.8 392h2.5v2h-2.5zM276.2 392h2.5v2h-2.5zM288.6 392h2.5v2h-2.5zM293.6 392h5.0v2h-5.0zM385.4 392h2.5v2h-2.5zM467.2 392h2.5v2h-2.5zM330.8 394h7.4v2h-7.4zM5.8 396h2.5v2h-2.5zM35.5 396h2.5v2h-2.5zM72.7 396h2.5v2h-2.5zM137.3 396h5.0v2h-5.0zM278.7 396h2.5v2h-2.5zM301.0 396h2.5v2h-2.5zM0.8 398h2.5v2h-2.5zM5.8 398h5.0v2h-5.0zM23.1 398h2.5v2h-2.5zM38.0 398h2.5v2h-2.5zM65.3 398h5.0v2h-5.0zM85.2 398h2.5v2h-2.5zM310.9 398h5.0v2h-5.0zM333.3 398h2.5v2h-2.5zM38.0 400h5.0v2h-5.0zM179.4 400h2.5v2h-2.5zM221.6 400h2.5v2h-2.5zM266.3 400h2.5v2h-2.5zM23.1 402h2.5v2h-2.5zM38.0 402h2.5v2h-2.5zM189.4 402h5.0v2h-5.0zM271.2 402h2.5v2h-2.5zM363.0 402h2.5v2h-2.5zM454.8 402h2.5v2h-2.5zM492.0 402h5.0v2h-5.0zM40.5 404h5.0v2h-5.0zM174.5 404h2.5v2h-2.5zM179.4 404h2.5v2h-2.5zM286.1 404h2.5v2h-2.5zM323.3 404h2.5v2h-2.5zM385.4 404h2.5v2h-2.5zM405.2 404h5.0v2h-5.0zM20.6 406h2.5v2h-2.5zM33.1 406h5.0v2h-5.0zM248.9 406h2.5v2h-2.5zM258.8 406h2.5v2h-2.5zM368.0 406h2.5v2h-2.5zM395.3 406h2.5v2h-2.5zM0.8 408h2.5v2h-2.5zM23.1 408h2.5v2h-2.5zM28.1 408h2.5v2h-2.5zM38.0 408h2.5v2h-2.5zM211.7 408h7.4v2h-7.4zM224.1 408h2.5v2h-2.5zM256.3 408h2.5v2h-2.5zM261.3 408h5.0v2h-5.0zM271.2 408h2.5v2h-2.5zM276.2 408h2.5v2h-2.5zM303.5 408h2.5v2h-2.5zM387.8 408h9.9v2h-9.9zM449.9 408h2.5v2h-2.5zM3.3 412h2.5v2h-2.5zM8.2 412h2.5v2h-2.5zM50.4 412h2.5v2h-2.5zM184.4 412h5.0v2h-5.0zM288.6 412h2.5v2h-2.5zM0.8 414h9.9v2h-9.9zM112.4 414h2.5v2h-2.5zM221.6 414h2.5v2h-2.5zM301.0 414h2.5v2h-2.5zM318.4 414h2.5v2h-2.5zM333.3 414h2.5v2h-2.5zM340.7 414h5.0v2h-5.0zM358.1 414h2.5v2h-2.5zM5.8 416h2.5v2h-2.5zM10.7 416h2.5v2h-2.5zM231.5 416h5.0v2h-5.0zM308.4 416h2.5v2h-2.5zM3.3 418h7.4v2h-7.4zM25.6 418h5.0v2h-5.0zM164.5 418h2.5v2h-2.5zM174.5 418h2.5v2h-2.5zM221.6 418h2.5v2h-2.5zM234.0 418h2.5v2h-2.5zM258.8 418h5.0v2h-5.0zM273.7 418h5.0v2h-5.0zM301.0 418h2.5v2h-2.5zM306.0 418h7.4v2h-7.4zM355.6 418h2.5v2h-2.5zM360.5 418h2.5v2h-2.5zM368.0 418h2.5v2h-2.5zM139.7 420h5.0v2h-5.0zM343.2 420h2.5v2h-2.5zM437.5 420h2.5v2h-2.5zM467.2 420h2.5v2h-2.5zM47.9 422h2.5v2h-2.5zM206.7 422h2.5v2h-2.5zM330.8 422h2.5v2h-2.5zM382.9 422h2.5v2h-2.5zM457.3 422h2.5v2h-2.5zM462.3 422h2.5v2h-2.5zM494.5 422h2.5v2h-2.5zM343.2 424h2.5v2h-2.5zM377.9 424h2.5v2h-2.5zM447.4 424h2.5v2h-2.5zM462.3 424h2.5v2h-2.5zM266.3 426h2.5v2h-2.5zM288.6 426h2.5v2h-2.5zM303.5 426h2.5v2h-2.5zM372.9 426h2.5v2h-2.5zM437.5 426h2.5v2h-2.5zM487.1 426h2.5v2h-2.5zM492.0 426h5.0v2h-5.0zM28.1 428h2.5v2h-2.5zM38.0 428h2.5v2h-2.5zM77.7 428h2.5v2h-2.5zM114.9 428h2.5v2h-2.5zM204.2 428h2.5v2h-2.5zM328.3 428h2.5v2h-2.5zM40.5 430h2.5v2h-2.5zM107.5 430h2.5v2h-2.5zM301.0 430h2.5v2h-2.5zM372.9 430h2.5v2h-2.5zM412.6 430h2.5v2h-2.5zM10.7 432h5.0v2h-5.0zM23.1 432h5.0v2h-5.0zM38.0 432h2.5v2h-2.5zM45.5 432h2.5v2h-2.5zM55.4 432h2.5v2h-2.5zM60.3 432h2.5v2h-2.5zM70.3 432h2.5v2h-2.5zM333.3 432h2.5v2h-2.5zM382.9 432h7.4v2h-7.4zM395.3 432h2.5v2h-2.5zM229.1 434h2.5v2h-2.5zM288.6 434h2.5v2h-2.5zM310.9 434h2.5v2h-2.5zM392.8 434h2.5v2h-2.5zM482.1 434h2.5v2h-2.5zM20.6 436h2.5v2h-2.5zM191.8 436h2.5v2h-2.5zM206.7 436h12.4v2h-12.4zM229.1 436h2.5v2h-2.5zM234.0 436h2.5v2h-2.5zM298.5 436h2.5v2h-2.5zM320.8 436h5.0v2h-5.0zM365.5 436h2.5v2h-2.5zM400.2 436h5.0v2h-5.0zM435.0 436h2.5v2h-2.5zM469.7 436h2.5v2h-2.5zM477.2 436h2.5v2h-2.5zM194.3 438h2.5v2h-2.5zM325.8 438h5.0v2h-5.0zM380.4 438h2.5v2h-2.5zM415.1 438h2.5v2h-2.5zM184.4 440h2.5v2h-2.5zM494.5 440h2.5v2h-2.5zM30.6 442h2.5v2h-2.5zM62.8 442h2.5v2h-2.5zM172.0 442h2.5v2h-2.5zM189.4 442h2.5v2h-2.5zM325.8 442h2.5v2h-2.5zM348.1 442h2.5v2h-2.5zM400.2 442h2.5v2h-2.5zM410.2 442h5.0v2h-5.0zM0.8 444h2.5v2h-2.5zM5.8 444h9.9v2h-9.9zM20.6 444h2.5v2h-2.5zM25.6 444h7.4v2h-7.4zM38.0 444h2.5v2h-2.5zM139.7 444h2.5v2h-2.5zM147.2 444h2.5v2h-2.5zM306.0 444h5.0v2h-5.0zM313.4 444h7.4v2h-7.4zM325.8 444h2.5v2h-2.5zM335.7 444h2.5v2h-2.5zM5.8 446h2.5v2h-2.5zM13.2 446h5.0v2h-5.0zM67.8 446h2.5v2h-2.5zM72.7 446h2.5v2h-2.5zM144.7 446h5.0v2h-5.0zM189.4 446h2.5v2h-2.5zM201.8 446h2.5v2h-2.5zM224.1 446h2.5v2h-2.5zM427.5 446h2.5v2h-2.5zM3.3 448h7.4v2h-7.4zM25.6 448h2.5v2h-2.5zM50.4 448h2.5v2h-2.5zM70.3 448h2.5v2h-2.5zM90.1 448h2.5v2h-2.5zM102.5 448h7.4v2h-7.4zM139.7 448h2.5v2h-2.5zM194.3 448h7.4v2h-7.4zM206.7 448h2.5v2h-2.5zM241.5 448h2.5v2h-2.5zM246.4 448h2.5v2h-2.5zM397.8 448h2.5v2h-2.5zM437.5 448h2.5v2h-2.5zM8.2 450h2.5v2h-2.5zM30.6 450h2.5v2h-2.5zM38.0 450h5.0v2h-5.0zM62.8 450h2.5v2h-2.5zM184.4 450h2.5v2h-2.5zM204.2 450h2.5v2h-2.5zM211.7 450h5.0v2h-5.0zM271.2 450h5.0v2h-5.0zM432.5 450h5.0v2h-5.0zM20.6 452h2.5v2h-2.5zM28.1 452h2.5v2h-2.5zM47.9 452h2.5v2h-2.5zM75.2 452h2.5v2h-2.5zM97.6 452h2.5v2h-2.5zM102.5 452h5.0v2h-5.0zM397.8 452h2.5v2h-2.5zM415.1 452h2.5v2h-2.5zM432.5 452h5.0v2h-5.0zM489.6 452h2.5v2h-2.5zM30.6 454h2.5v2h-2.5zM95.1 454h5.0v2h-5.0zM298.5 454h5.0v2h-5.0zM430.0 454h2.5v2h-2.5zM13.2 456h2.5v2h-2.5zM18.2 456h2.5v2h-2.5zM97.6 456h2.5v2h-2.5zM23.1 458h5.0v2h-5.0zM92.6 458h2.5v2h-2.5zM97.6 458h2.5v2h-2.5zM119.9 460h2.5v2h-2.5zM157.1 460h2.5v2h-2.5zM75.2 462h2.5v2h-2.5zM204.2 462h2.5v2h-2.5zM214.2 462h2.5v2h-2.5zM241.5 462h5.0v2h-5.0zM472.2 462h7.4v2h-7.4zM199.3 464h9.9v2h-9.9zM221.6 464h2.5v2h-2.5zM5.8 466h2.5v2h-2.5zM15.7 466h5.0v2h-5.0zM100.0 466h7.4v2h-7.4zM117.4 466h2.5v2h-2.5zM159.6 466h2.5v2h-2.5zM201.8 466h12.4v2h-12.4zM219.1 466h7.4v2h-7.4zM229.1 466h2.5v2h-2.5zM234.0 466h5.0v2h-5.0zM248.9 466h5.0v2h-5.0zM261.3 466h2.5v2h-2.5zM273.7 466h2.5v2h-2.5zM412.6 466h7.4v2h-7.4zM134.8 468h5.0v2h-5.0zM229.1 468h5.0v2h-5.0zM338.2 468h2.5v2h-2.5zM392.8 468h7.4v2h-7.4zM469.7 468h5.0v2h-5.0zM479.6 468h5.0v2h-5.0zM0.8 470h7.4v2h-7.4zM15.7 470h2.5v2h-2.5zM20.6 470h7.4v2h-7.4zM40.5 470h12.4v2h-12.4zM60.3 470h2.5v2h-2.5zM70.3 470h2.5v2h-2.5zM77.7 470h5.0v2h-5.0zM95.1 470h2.5v2h-2.5zM102.5 470h2.5v2h-2.5zM112.4 470h2.5v2h-2.5zM117.4 470h2.5v2h-2.5zM124.8 470h5.0v2h-5.0zM134.8 470h2.5v2h-2.5zM239.0 470h2.5v2h-2.5zM310.9 470h2.5v2h-2.5zM350.6 470h2.5v2h-2.5zM360.5 470h2.5v2h-2.5zM365.5 470h5.0v2h-5.0zM397.8 470h5.0v2h-5.0zM427.5 470h2.5v2h-2.5zM469.7 470h2.5v2h-2.5zM10.7 472h5.0v2h-5.0zM25.6 472h2.5v2h-2.5zM40.5 472h2.5v2h-2.5zM95.1 472h2.5v2h-2.5zM110.0 472h5.0v2h-5.0zM157.1 472h2.5v2h-2.5zM216.6 472h5.0v2h-5.0zM226.6 472h2.5v2h-2.5zM308.4 472h5.0v2h-5.0zM328.3 472h2.5v2h-2.5zM390.3 472h2.5v2h-2.5zM482.1 472h7.4v2h-7.4zM28.1 474h2.5v2h-2.5zM85.2 474h2.5v2h-2.5zM147.2 474h5.0v2h-5.0zM191.8 474h2.5v2h-2.5zM291.1 474h5.0v2h-5.0zM315.9 474h2.5v2h-2.5zM335.7 474h2.5v2h-2.5zM368.0 474h5.0v2h-5.0zM390.3 476h5.0v2h-5.0zM420.1 476h5.0v2h-5.0zM432.5 476h2.5v2h-2.5zM439.9 476h7.4v2h-7.4zM459.8 476h5.0v2h-5.0zM55.4 478h2.5v2h-2.5zM114.9 478h2.5v2h-2.5zM276.2 478h2.5v2h-2.5zM281.2 478h2.5v2h-2.5zM439.9 478h5.0v2h-5.0zM447.4 478h9.9v2h-9.9zM462.3 478h2.5v2h-2.5zM55.4 480h5.0v2h-5.0zM206.7 480h2.5v2h-2.5zM281.2 480h5.0v2h-5.0zM387.8 480h2.5v2h-2.5zM479.6 482h2.5v2h-2.5zM494.5 482h2.5v2h-2.5zM43.0 484h2.5v2h-2.5zM52.9 484h2.5v2h-2.5zM72.7 484h2.5v2h-2.5zM402.7 484h2.5v2h-2.5zM482.1 484h2.5v2h-2.5zM70.3 486h2.5v2h-2.5zM75.2 486h5.0v2h-5.0zM147.2 486h2.5v2h-2.5zM159.6 486h2.5v2h-2.5zM167.0 486h2.5v2h-2.5zM385.4 486h2.5v2h-2.5zM449.9 486h2.5v2h-2.5zM454.8 486h5.0v2h-5.0zM462.3 486h2.5v2h-2.5zM469.7 486h2.5v2h-2.5zM484.6 486h2.5v2h-2.5zM70.3 488h5.0v2h-5.0zM167.0 488h2.5v2h-2.5zM263.8 488h7.4v2h-7.4zM281.2 488h2.5v2h-2.5zM387.8 488h2.5v2h-2.5zM400.2 488h2.5v2h-2.5zM412.6 488h2.5v2h-2.5zM454.8 488h2.5v2h-2.5zM469.7 488h2.5v2h-2.5zM492.0 488h2.5v2h-2.5zM102.5 490h2.5v2h-2.5zM112.4 490h2.5v2h-2.5zM129.8 490h2.5v2h-2.5zM199.3 490h2.5v2h-2.5zM479.6 490h2.5v2h-2.5zM494.5 490h2.5v2h-2.5zM472.2 492h2.5v2h-2.5zM442.4 494h2.5v2h-2.5zM469.7 494h2.5v2h-2.5zM23.1 496h2.5v2h-2.5zM114.9 496h5.0v2h-5.0zM273.7 496h2.5v2h-2.5zM442.4 496h7.4v2h-7.4zM454.8 496h2.5v2h-2.5zM462.3 496h2.5v2h-2.5zM439.9 498h5.0v2h-5.0zM447.4 498h2.5v2h-2.5zM90.1 500h2.5v2h-2.5zM231.5 500h2.5v2h-2.5zM355.6 500h5.0v2h-5.0zM439.9 500h2.5v2h-2.5zM459.8 500h7.4v2h-7.4zM204.2 502h2.5v2h-2.5zM377.9 502h2.5v2h-2.5zM390.3 502h5.0v2h-5.0zM472.2 502h5.0v2h-5.0zM50.4 504h2.5v2h-2.5zM199.3 504h2.5v2h-2.5zM494.5 504h2.5v2h-2.5zM425.1 506h5.0v2h-5.0zM35.5 508h2.5v2h-2.5zM110.0 508h2.5v2h-2.5zM214.2 508h2.5v2h-2.5zM35.5 510h2.5v2h-2.5zM52.9 510h5.0v2h-5.0zM117.4 510h2.5v2h-2.5zM199.3 510h2.5v2h-2.5zM271.2 510h5.0v2h-5.0zM23.1 512h7.4v2h-7.4zM38.0 512h2.5v2h-2.5zM55.4 512h2.5v2h-2.5zM199.3 512h2.5v2h-2.5zM3.3 514h2.5v2h-2.5zM219.1 514h2.5v2h-2.5zM271.2 514h5.0v2h-5.0zM320.8 514h2.5v2h-2.5zM392.8 514h2.5v2h-2.5zM407.7 514h2.5v2h-2.5zM432.5 514h2.5v2h-2.5zM15.7 516h2.5v2h-2.5zM57.9 516h2.5v2h-2.5zM167.0 516h2.5v2h-2.5zM385.4 516h2.5v2h-2.5zM82.7 518h5.0v2h-5.0zM100.0 518h5.0v2h-5.0zM114.9 518h5.0v2h-5.0zM122.4 518h2.5v2h-2.5zM293.6 518h2.5v2h-2.5zM301.0 518h2.5v2h-2.5zM52.9 520h5.0v2h-5.0zM70.3 520h5.0v2h-5.0zM268.7 520h5.0v2h-5.0zM432.5 520h5.0v2h-5.0zM35.5 522h2.5v2h-2.5zM80.2 522h2.5v2h-2.5zM194.3 522h2.5v2h-2.5zM243.9 522h2.5v2h-2.5zM288.6 522h2.5v2h-2.5zM333.3 522h5.0v2h-5.0zM358.1 522h2.5v2h-2.5zM372.9 522h2.5v2h-2.5zM55.4 524h2.5v2h-2.5zM137.3 524h2.5v2h-2.5zM221.6 524h2.5v2h-2.5zM447.4 524h2.5v2h-2.5zM40.5 526h2.5v2h-2.5zM172.0 526h2.5v2h-2.5zM283.6 526h7.4v2h-7.4zM365.5 526h2.5v2h-2.5zM377.9 526h2.5v2h-2.5zM55.4 528h2.5v2h-2.5zM164.5 528h2.5v2h-2.5zM236.5 528h2.5v2h-2.5zM286.1 528h2.5v2h-2.5zM350.6 528h2.5v2h-2.5zM365.5 528h2.5v2h-2.5zM469.7 528h2.5v2h-2.5zM3.3 530h2.5v2h-2.5zM57.9 530h7.4v2h-7.4zM72.7 530h2.5v2h-2.5zM87.6 530h2.5v2h-2.5zM97.6 530h2.5v2h-2.5zM194.3 530h5.0v2h-5.0zM239.0 530h2.5v2h-2.5zM273.7 530h2.5v2h-2.5zM288.6 530h2.5v2h-2.5zM320.8 530h5.0v2h-5.0zM358.1 530h2.5v2h-2.5zM375.4 530h2.5v2h-2.5zM387.8 530h2.5v2h-2.5zM467.2 530h2.5v2h-2.5zM62.8 532h2.5v2h-2.5zM164.5 532h2.5v2h-2.5zM177.0 532h2.5v2h-2.5zM184.4 532h2.5v2h-2.5zM236.5 532h2.5v2h-2.5zM261.3 532h2.5v2h-2.5zM169.5 534h2.5v2h-2.5zM296.0 534h2.5v2h-2.5zM323.3 534h2.5v2h-2.5zM348.1 534h2.5v2h-2.5zM492.0 534h2.5v2h-2.5zM288.6 536h2.5v2h-2.5zM343.2 536h5.0v2h-5.0zM52.9 538h2.5v2h-2.5zM77.7 538h2.5v2h-2.5zM132.3 538h2.5v2h-2.5zM184.4 538h2.5v2h-2.5zM239.0 538h5.0v2h-5.0zM251.4 538h2.5v2h-2.5zM258.8 538h2.5v2h-2.5zM271.2 538h2.5v2h-2.5zM320.8 538h5.0v2h-5.0zM410.2 538h5.0v2h-5.0zM3.3 540h2.5v2h-2.5zM20.6 540h7.4v2h-7.4zM82.7 540h2.5v2h-2.5zM95.1 540h2.5v2h-2.5zM100.0 540h2.5v2h-2.5zM162.1 540h5.0v2h-5.0zM169.5 540h2.5v2h-2.5zM177.0 540h2.5v2h-2.5zM189.4 540h9.9v2h-9.9zM206.7 540h2.5v2h-2.5zM229.1 540h2.5v2h-2.5zM278.7 540h2.5v2h-2.5zM298.5 540h2.5v2h-2.5zM310.9 540h2.5v2h-2.5zM400.2 540h5.0v2h-5.0zM459.8 540h2.5v2h-2.5zM25.6 542h2.5v2h-2.5zM102.5 542h2.5v2h-2.5zM157.1 542h2.5v2h-2.5zM162.1 542h2.5v2h-2.5zM172.0 542h2.5v2h-2.5zM204.2 542h2.5v2h-2.5zM209.2 542h2.5v2h-2.5zM216.6 542h5.0v2h-5.0zM248.9 542h5.0v2h-5.0zM258.8 542h2.5v2h-2.5zM276.2 542h2.5v2h-2.5zM320.8 542h5.0v2h-5.0zM348.1 542h2.5v2h-2.5zM407.7 542h2.5v2h-2.5zM234.0 544h5.0v2h-5.0zM248.9 544h2.5v2h-2.5zM256.3 544h2.5v2h-2.5zM273.7 544h5.0v2h-5.0zM420.1 544h2.5v2h-2.5zM0.8 546h5.0v2h-5.0zM35.5 546h5.0v2h-5.0zM80.2 546h2.5v2h-2.5zM90.1 546h2.5v2h-2.5zM107.5 546h2.5v2h-2.5zM147.2 546h2.5v2h-2.5zM179.4 546h2.5v2h-2.5zM221.6 546h2.5v2h-2.5zM303.5 546h2.5v2h-2.5zM318.4 546h2.5v2h-2.5zM422.6 546h2.5v2h-2.5zM0.8 548h2.5v2h-2.5zM5.8 548h2.5v2h-2.5zM0.8 550h2.5v2h-2.5zM100.0 550h5.0v2h-5.0zM132.3 550h2.5v2h-2.5zM169.5 550h2.5v2h-2.5zM209.2 550h5.0v2h-5.0zM70.3 552h2.5v2h-2.5zM75.2 552h2.5v2h-2.5zM80.2 552h2.5v2h-2.5zM124.8 552h2.5v2h-2.5zM134.8 552h5.0v2h-5.0zM164.5 552h2.5v2h-2.5zM174.5 552h2.5v2h-2.5zM194.3 552h5.0v2h-5.0zM236.5 552h2.5v2h-2.5zM243.9 552h2.5v2h-2.5zM253.9 552h2.5v2h-2.5zM271.2 552h2.5v2h-2.5zM320.8 552h2.5v2h-2.5zM345.7 552h5.0v2h-5.0zM422.6 552h2.5v2h-2.5zM38.0 554h2.5v2h-2.5zM57.9 554h2.5v2h-2.5zM209.2 554h2.5v2h-2.5zM221.6 554h2.5v2h-2.5zM266.3 554h2.5v2h-2.5zM286.1 554h2.5v2h-2.5zM377.9 554h2.5v2h-2.5zM65.3 556h2.5v2h-2.5zM239.0 556h2.5v2h-2.5zM330.8 556h2.5v2h-2.5zM358.1 556h2.5v2h-2.5zM77.7 558h2.5v2h-2.5zM221.6 558h2.5v2h-2.5zM231.5 558h5.0v2h-5.0zM243.9 558h2.5v2h-2.5zM263.8 558h5.0v2h-5.0zM273.7 558h2.5v2h-2.5zM338.2 558h2.5v2h-2.5zM360.5 558h2.5v2h-2.5zM377.9 558h2.5v2h-2.5zM462.3 558h2.5v2h-2.5zM67.8 560h2.5v2h-2.5zM122.4 560h5.0v2h-5.0zM137.3 560h2.5v2h-2.5zM211.7 560h7.4v2h-7.4zM234.0 560h2.5v2h-2.5zM241.5 560h2.5v2h-2.5zM10.7 562h2.5v2h-2.5zM20.6 562h2.5v2h-2.5zM137.3 562h5.0v2h-5.0zM308.4 562h2.5v2h-2.5zM360.5 562h2.5v2h-2.5zM377.9 562h2.5v2h-2.5zM219.1 564h5.0v2h-5.0zM278.7 564h5.0v2h-5.0zM298.5 564h2.5v2h-2.5zM345.7 564h5.0v2h-5.0zM154.6 566h2.5v2h-2.5zM236.5 566h2.5v2h-2.5zM276.2 566h9.9v2h-9.9zM308.4 566h2.5v2h-2.5zM325.8 566h2.5v2h-2.5zM333.3 566h2.5v2h-2.5zM355.6 566h2.5v2h-2.5zM370.5 566h2.5v2h-2.5zM387.8 566h2.5v2h-2.5zM80.2 568h2.5v2h-2.5zM211.7 568h9.9v2h-9.9zM248.9 568h2.5v2h-2.5zM273.7 568h5.0v2h-5.0zM293.6 568h5.0v2h-5.0zM303.5 568h2.5v2h-2.5zM0.8 570h2.5v2h-2.5zM18.2 570h2.5v2h-2.5zM23.1 570h2.5v2h-2.5zM30.6 570h2.5v2h-2.5zM70.3 570h5.0v2h-5.0zM149.7 570h2.5v2h-2.5zM211.7 570h5.0v2h-5.0zM221.6 570h2.5v2h-2.5zM266.3 570h2.5v2h-2.5zM286.1 570h2.5v2h-2.5zM301.0 570h2.5v2h-2.5zM313.4 570h5.0v2h-5.0zM343.2 570h2.5v2h-2.5zM420.1 570h2.5v2h-2.5zM425.1 570h2.5v2h-2.5zM464.7 570h2.5v2h-2.5zM479.6 570h2.5v2h-2.5zM3.3 572h2.5v2h-2.5zM43.0 572h5.0v2h-5.0zM119.9 572h7.4v2h-7.4zM142.2 572h2.5v2h-2.5zM194.3 572h2.5v2h-2.5zM199.3 572h9.9v2h-9.9zM216.6 572h5.0v2h-5.0zM239.0 572h12.4v2h-12.4zM271.2 572h2.5v2h-2.5zM276.2 572h5.0v2h-5.0zM320.8 572h2.5v2h-2.5zM325.8 572h2.5v2h-2.5zM333.3 572h2.5v2h-2.5zM395.3 572h2.5v2h-2.5zM402.7 572h2.5v2h-2.5zM422.6 572h5.0v2h-5.0zM90.1 574h2.5v2h-2.5zM196.8 574h7.4v2h-7.4zM224.1 574h5.0v2h-5.0zM340.7 574h7.4v2h-7.4zM370.5 574h2.5v2h-2.5zM420.1 574h2.5v2h-2.5zM164.5 576h5.0v2h-5.0zM33.1 578h2.5v2h-2.5zM221.6 578h2.5v2h-2.5zM477.2 578h9.9v2h-9.9zM50.4 580h2.5v2h-2.5zM105.0 580h2.5v2h-2.5zM149.7 580h2.5v2h-2.5zM206.7 580h5.0v2h-5.0zM283.6 580h5.0v2h-5.0zM318.4 580h7.4v2h-7.4zM380.4 580h7.4v2h-7.4zM405.2 580h2.5v2h-2.5zM439.9 580h2.5v2h-2.5zM444.9 580h5.0v2h-5.0zM464.7 580h7.4v2h-7.4zM474.7 580h5.0v2h-5.0zM3.3 582h7.4v2h-7.4zM15.7 582h2.5v2h-2.5zM20.6 582h2.5v2h-2.5zM33.1 582h5.0v2h-5.0zM67.8 582h2.5v2h-2.5zM72.7 582h2.5v2h-2.5zM85.2 582h5.0v2h-5.0zM199.3 582h2.5v2h-2.5zM229.1 582h2.5v2h-2.5zM236.5 582h2.5v2h-2.5zM248.9 582h2.5v2h-2.5zM358.1 582h2.5v2h-2.5zM402.7 582h2.5v2h-2.5zM452.3 582h2.5v2h-2.5zM457.3 582h2.5v2h-2.5zM462.3 582h2.5v2h-2.5zM479.6 582h2.5v2h-2.5zM13.2 584h5.0v2h-5.0zM28.1 584h2.5v2h-2.5zM286.1 584h2.5v2h-2.5zM70.3 586h2.5v2h-2.5zM119.9 586h9.9v2h-9.9zM239.0 586h2.5v2h-2.5zM447.4 586h5.0v2h-5.0zM454.8 586h2.5v2h-2.5zM459.8 586h2.5v2h-2.5zM477.2 586h5.0v2h-5.0zM105.0 588h2.5v2h-2.5zM261.3 588h5.0v2h-5.0zM439.9 588h2.5v2h-2.5zM482.1 588h2.5v2h-2.5zM8.2 590h2.5v2h-2.5zM219.1 590h2.5v2h-2.5zM231.5 590h2.5v2h-2.5zM248.9 590h2.5v2h-2.5zM266.3 590h2.5v2h-2.5zM348.1 590h2.5v2h-2.5zM377.9 590h5.0v2h-5.0zM387.8 590h2.5v2h-2.5zM397.8 590h2.5v2h-2.5zM449.9 590h2.5v2h-2.5zM211.7 592h5.0v2h-5.0zM268.7 592h2.5v2h-2.5zM291.1 592h2.5v2h-2.5zM472.2 592h2.5v2h-2.5zM224.1 594h2.5v2h-2.5zM310.9 594h2.5v2h-2.5zM377.9 594h7.4v2h-7.4zM142.2 596h2.5v2h-2.5zM315.9 596h2.5v2h-2.5zM338.2 596h5.0v2h-5.0zM467.2 596h2.5v2h-2.5zM75.2 598h2.5v2h-2.5zM179.4 598h2.5v2h-2.5zM184.4 598h5.0v2h-5.0zM196.8 598h5.0v2h-5.0zM216.6 598h2.5v2h-2.5zM226.6 598h2.5v2h-2.5zM239.0 598h2.5v2h-2.5zM385.4 598h2.5v2h-2.5zM392.8 598h2.5v2h-2.5zM402.7 598h2.5v2h-2.5zM417.6 598h2.5v2h-2.5zM492.0 598h2.5v2h-2.5zM60.3 600h2.5v2h-2.5zM90.1 600h2.5v2h-2.5zM291.1 600h2.5v2h-2.5zM333.3 600h2.5v2h-2.5zM343.2 600h2.5v2h-2.5zM467.2 600h2.5v2h-2.5zM8.2 602h2.5v2h-2.5zM20.6 602h2.5v2h-2.5zM38.0 602h2.5v2h-2.5zM152.1 602h5.0v2h-5.0zM191.8 602h2.5v2h-2.5zM271.2 602h2.5v2h-2.5zM330.8 602h5.0v2h-5.0zM407.7 602h5.0v2h-5.0zM447.4 602h2.5v2h-2.5zM8.2 604h7.4v2h-7.4zM129.8 604h5.0v2h-5.0zM226.6 604h5.0v2h-5.0zM271.2 604h5.0v2h-5.0zM338.2 604h2.5v2h-2.5zM345.7 604h2.5v2h-2.5zM439.9 604h2.5v2h-2.5zM15.7 606h2.5v2h-2.5zM144.7 606h7.4v2h-7.4zM194.3 606h2.5v2h-2.5zM271.2 606h5.0v2h-5.0zM278.7 606h2.5v2h-2.5zM303.5 606h9.9v2h-9.9zM325.8 606h2.5v2h-2.5zM330.8 606h2.5v2h-2.5zM380.4 606h2.5v2h-2.5zM90.1 608h2.5v2h-2.5zM139.7 608h7.4v2h-7.4zM167.0 608h2.5v2h-2.5zM186.9 608h2.5v2h-2.5zM191.8 608h5.0v2h-5.0zM271.2 608h2.5v2h-2.5zM301.0 608h2.5v2h-2.5zM328.3 608h2.5v2h-2.5zM372.9 608h5.0v2h-5.0zM415.1 608h5.0v2h-5.0zM60.3 610h2.5v2h-2.5zM181.9 610h2.5v2h-2.5zM204.2 610h2.5v2h-2.5zM221.6 610h2.5v2h-2.5zM291.1 610h9.9v2h-9.9zM308.4 610h5.0v2h-5.0zM318.4 610h5.0v2h-5.0zM330.8 610h2.5v2h-2.5zM343.2 610h5.0v2h-5.0zM368.0 610h2.5v2h-2.5zM400.2 610h2.5v2h-2.5zM449.9 610h2.5v2h-2.5zM472.2 610h5.0v2h-5.0zM482.1 610h5.0v2h-5.0zM261.3 612h2.5v2h-2.5zM288.6 612h2.5v2h-2.5zM303.5 612h7.4v2h-7.4zM313.4 612h2.5v2h-2.5zM353.1 612h5.0v2h-5.0zM400.2 612h2.5v2h-2.5zM464.7 612h2.5v2h-2.5zM474.7 612h2.5v2h-2.5zM129.8 614h5.0v2h-5.0zM266.3 614h2.5v2h-2.5zM273.7 614h5.0v2h-5.0zM303.5 614h2.5v2h-2.5zM308.4 614h7.4v2h-7.4zM318.4 614h2.5v2h-2.5zM343.2 614h2.5v2h-2.5zM350.6 614h2.5v2h-2.5zM363.0 614h2.5v2h-2.5zM410.2 614h2.5v2h-2.5zM449.9 614h2.5v2h-2.5zM467.2 614h2.5v2h-2.5zM477.2 614h2.5v2h-2.5zM492.0 614h2.5v2h-2.5zM246.4 616h2.5v2h-2.5zM253.9 616h2.5v2h-2.5zM266.3 616h2.5v2h-2.5zM303.5 616h2.5v2h-2.5zM315.9 616h2.5v2h-2.5zM330.8 616h2.5v2h-2.5zM353.1 616h5.0v2h-5.0zM368.0 616h2.5v2h-2.5zM422.6 616h2.5v2h-2.5zM8.2 618h2.5v2h-2.5zM189.4 618h2.5v2h-2.5zM243.9 618h5.0v2h-5.0zM308.4 618h2.5v2h-2.5zM358.1 618h2.5v2h-2.5zM400.2 618h2.5v2h-2.5zM410.2 618h2.5v2h-2.5zM442.4 618h2.5v2h-2.5zM452.3 618h2.5v2h-2.5zM459.8 618h2.5v2h-2.5zM30.6 620h5.0v2h-5.0zM169.5 620h5.0v2h-5.0zM248.9 620h2.5v2h-2.5zM271.2 620h5.0v2h-5.0zM308.4 620h2.5v2h-2.5zM348.1 620h2.5v2h-2.5zM365.5 620h5.0v2h-5.0zM405.2 620h2.5v2h-2.5zM420.1 620h2.5v2h-2.5zM457.3 620h2.5v2h-2.5zM464.7 620h2.5v2h-2.5zM62.8 622h2.5v2h-2.5zM291.1 622h5.0v2h-5.0zM306.0 622h7.4v2h-7.4zM330.8 622h2.5v2h-2.5zM417.6 622h2.5v2h-2.5zM459.8 622h5.0v2h-5.0zM482.1 622h2.5v2h-2.5zM181.9 624h5.0v2h-5.0zM239.0 624h2.5v2h-2.5zM248.9 624h2.5v2h-2.5zM276.2 624h2.5v2h-2.5zM296.0 624h5.0v2h-5.0zM313.4 624h5.0v2h-5.0zM330.8 624h9.9v2h-9.9zM368.0 624h2.5v2h-2.5zM385.4 624h2.5v2h-2.5zM400.2 624h2.5v2h-2.5zM425.1 624h2.5v2h-2.5zM457.3 624h17.4v2h-17.4zM271.2 626h5.0v2h-5.0zM320.8 626h2.5v2h-2.5zM338.2 626h5.0v2h-5.0zM467.2 626h12.4v2h-12.4zM87.6 628h2.5v2h-2.5zM253.9 628h5.0v2h-5.0zM263.8 628h2.5v2h-2.5zM273.7 628h2.5v2h-2.5zM291.1 628h5.0v2h-5.0zM303.5 628h2.5v2h-2.5zM333.3 628h5.0v2h-5.0zM360.5 628h7.4v2h-7.4zM407.7 628h2.5v2h-2.5zM447.4 628h7.4v2h-7.4zM457.3 628h2.5v2h-2.5zM462.3 628h2.5v2h-2.5zM10.7 630h2.5v2h-2.5zM196.8 630h2.5v2h-2.5zM286.1 630h2.5v2h-2.5zM310.9 630h2.5v2h-2.5zM333.3 630h2.5v2h-2.5zM363.0 630h2.5v2h-2.5zM392.8 630h7.4v2h-7.4zM410.2 630h2.5v2h-2.5zM439.9 630h2.5v2h-2.5zM65.3 632h2.5v2h-2.5zM211.7 632h5.0v2h-5.0zM234.0 632h2.5v2h-2.5zM315.9 632h2.5v2h-2.5zM382.9 632h5.0v2h-5.0zM159.6 634h2.5v2h-2.5zM219.1 634h2.5v2h-2.5zM258.8 634h5.0v2h-5.0zM273.7 634h5.0v2h-5.0zM315.9 634h2.5v2h-2.5zM343.2 634h2.5v2h-2.5zM350.6 634h2.5v2h-2.5zM365.5 634h2.5v2h-2.5zM375.4 634h2.5v2h-2.5zM392.8 634h2.5v2h-2.5zM452.3 634h14.9v2h-14.9zM482.1 634h5.0v2h-5.0zM164.5 636h5.0v2h-5.0zM251.4 636h2.5v2h-2.5zM278.7 636h2.5v2h-2.5zM306.0 636h5.0v2h-5.0zM335.7 636h2.5v2h-2.5zM405.2 636h2.5v2h-2.5zM484.6 636h5.0v2h-5.0zM62.8 638h2.5v2h-2.5zM90.1 638h2.5v2h-2.5zM286.1 638h2.5v2h-2.5zM345.7 638h2.5v2h-2.5zM474.7 638h2.5v2h-2.5zM484.6 638h5.0v2h-5.0zM132.3 640h2.5v2h-2.5zM204.2 640h2.5v2h-2.5zM243.9 640h2.5v2h-2.5zM281.2 640h2.5v2h-2.5zM291.1 640h2.5v2h-2.5zM382.9 640h2.5v2h-2.5zM390.3 640h2.5v2h-2.5zM402.7 640h5.0v2h-5.0zM417.6 640h2.5v2h-2.5zM457.3 640h2.5v2h-2.5zM469.7 640h5.0v2h-5.0zM258.8 642h2.5v2h-2.5zM320.8 642h2.5v2h-2.5zM370.5 642h2.5v2h-2.5zM484.6 642h5.0v2h-5.0zM18.2 644h2.5v2h-2.5zM25.6 644h5.0v2h-5.0zM276.2 644h2.5v2h-2.5zM315.9 644h2.5v2h-2.5zM350.6 644h2.5v2h-2.5zM472.2 644h2.5v2h-2.5zM10.7 646h7.4v2h-7.4zM43.0 646h2.5v2h-2.5zM119.9 646h5.0v2h-5.0zM251.4 646h2.5v2h-2.5zM256.3 646h2.5v2h-2.5zM268.7 646h2.5v2h-2.5zM323.3 646h2.5v2h-2.5zM392.8 646h2.5v2h-2.5zM467.2 646h7.4v2h-7.4zM33.1 648h2.5v2h-2.5zM45.5 648h2.5v2h-2.5zM87.6 648h2.5v2h-2.5zM102.5 648h2.5v2h-2.5zM134.8 648h5.0v2h-5.0zM186.9 648h5.0v2h-5.0zM199.3 648h2.5v2h-2.5zM214.2 648h2.5v2h-2.5zM248.9 648h5.0v2h-5.0zM256.3 648h2.5v2h-2.5zM271.2 648h2.5v2h-2.5zM286.1 648h5.0v2h-5.0zM296.0 648h2.5v2h-2.5zM310.9 648h2.5v2h-2.5zM350.6 648h2.5v2h-2.5zM462.3 648h5.0v2h-5.0zM487.1 648h2.5v2h-2.5zM492.0 648h5.0v2h-5.0zM3.3 650h2.5v2h-2.5zM18.2 650h2.5v2h-2.5zM47.9 650h2.5v2h-2.5zM122.4 650h2.5v2h-2.5zM201.8 650h2.5v2h-2.5zM246.4 650h2.5v2h-2.5zM268.7 650h2.5v2h-2.5zM8.2 652h2.5v2h-2.5zM129.8 652h2.5v2h-2.5zM169.5 652h2.5v2h-2.5zM281.2 652h2.5v2h-2.5z"/>
<path fill="#500303" d="M110.0 372h2.5v2h-2.5zM177.0 372h2.5v2h-2.5zM201.8 372h2.5v2h-2.5zM251.4 372h2.5v2h-2.5zM447.4 372h2.5v2h-2.5zM15.7 374h5.0v2h-5.0zM263.8 374h2.5v2h-2.5zM350.6 374h5.0v2h-5.0zM392.8 374h2.5v2h-2.5zM298.5 376h2.5v2h-2.5zM328.3 376h2.5v2h-2.5zM184.4 378h2.5v2h-2.5zM239.0 378h2.5v2h-2.5zM325.8 378h2.5v2h-2.5zM457.3 378h2.5v2h-2.5zM18.2 380h2.5v2h-2.5zM40.5 380h2.5v2h-2.5zM181.9 380h2.5v2h-2.5zM405.2 380h2.5v2h-2.5zM38.0 382h2.5v2h-2.5zM248.9 382h2.5v2h-2.5zM407.7 382h5.0v2h-5.0zM23.1 384h2.5v2h-2.5zM38.0 384h2.5v2h-2.5zM75.2 384h5.0v2h-5.0zM256.3 384h2.5v2h-2.5zM263.8 384h2.5v2h-2.5zM281.2 384h2.5v2h-2.5zM286.1 384h5.0v2h-5.0zM117.4 386h2.5v2h-2.5zM191.8 386h2.5v2h-2.5zM219.1 388h2.5v2h-2.5zM231.5 388h2.5v2h-2.5zM335.7 388h5.0v2h-5.0zM38.0 390h2.5v2h-2.5zM112.4 390h2.5v2h-2.5zM283.6 390h7.4v2h-7.4zM60.3 392h7.4v2h-7.4zM70.3 392h5.0v2h-5.0zM117.4 392h5.0v2h-5.0zM139.7 392h2.5v2h-2.5zM439.9 392h5.0v2h-5.0zM447.4 392h2.5v2h-2.5zM8.2 394h2.5v2h-2.5zM226.6 394h2.5v2h-2.5zM80.2 396h2.5v2h-2.5zM209.2 396h2.5v2h-2.5zM10.7 398h2.5v2h-2.5zM57.9 398h2.5v2h-2.5zM134.8 398h5.0v2h-5.0zM330.8 398h2.5v2h-2.5zM360.5 398h2.5v2h-2.5zM43.0 400h2.5v2h-2.5zM353.1 402h5.0v2h-5.0zM387.8 402h2.5v2h-2.5zM422.6 402h2.5v2h-2.5zM167.0 404h2.5v2h-2.5zM211.7 404h2.5v2h-2.5zM229.1 404h2.5v2h-2.5zM430.0 404h2.5v2h-2.5zM462.3 404h2.5v2h-2.5zM114.9 406h2.5v2h-2.5zM246.4 406h2.5v2h-2.5zM390.3 406h2.5v2h-2.5zM397.8 406h2.5v2h-2.5zM45.5 408h2.5v2h-2.5zM100.0 408h2.5v2h-2.5zM229.1 408h2.5v2h-2.5zM348.1 408h5.0v2h-5.0zM325.8 410h2.5v2h-2.5zM159.6 412h2.5v2h-2.5zM301.0 412h2.5v2h-2.5zM52.9 418h2.5v2h-2.5zM328.3 418h2.5v2h-2.5zM392.8 418h2.5v2h-2.5zM52.9 420h2.5v2h-2.5zM60.3 420h5.0v2h-5.0zM271.2 420h2.5v2h-2.5zM380.4 420h2.5v2h-2.5zM397.8 422h9.9v2h-9.9zM315.9 426h2.5v2h-2.5zM447.4 426h2.5v2h-2.5zM122.4 428h2.5v2h-2.5zM343.2 428h2.5v2h-2.5zM484.6 428h2.5v2h-2.5zM375.4 430h2.5v2h-2.5zM472.2 430h5.0v2h-5.0zM127.3 432h2.5v2h-2.5zM137.3 432h7.4v2h-7.4zM229.1 432h2.5v2h-2.5zM251.4 432h2.5v2h-2.5zM377.9 432h2.5v2h-2.5zM464.7 432h2.5v2h-2.5zM23.1 434h2.5v2h-2.5zM370.5 434h2.5v2h-2.5zM310.9 436h2.5v2h-2.5zM325.8 436h2.5v2h-2.5zM87.6 438h5.0v2h-5.0zM159.6 438h2.5v2h-2.5zM137.3 440h2.5v2h-2.5zM167.0 440h2.5v2h-2.5zM221.6 440h2.5v2h-2.5zM57.9 442h2.5v2h-2.5zM306.0 442h5.0v2h-5.0zM18.2 444h2.5v2h-2.5zM57.9 444h2.5v2h-2.5zM95.1 444h2.5v2h-2.5zM149.7 444h2.5v2h-2.5zM162.1 446h2.5v2h-2.5zM149.7 448h2.5v2h-2.5zM184.4 448h2.5v2h-2.5zM303.5 448h7.4v2h-7.4zM15.7 450h2.5v2h-2.5zM77.7 450h2.5v2h-2.5zM258.8 450h2.5v2h-2.5zM40.5 452h2.5v2h-2.5zM308.4 452h7.4v2h-7.4zM147.2 456h2.5v2h-2.5zM256.3 458h2.5v2h-2.5zM276.2 458h2.5v2h-2.5zM417.6 458h2.5v2h-2.5zM179.4 460h5.0v2h-5.0zM243.9 460h2.5v2h-2.5zM286.1 460h5.0v2h-5.0zM330.8 460h2.5v2h-2.5zM144.7 462h2.5v2h-2.5zM397.8 462h2.5v2h-2.5zM407.7 462h2.5v2h-2.5zM144.7 464h2.5v2h-2.5zM10.7 466h2.5v2h-2.5zM28.1 466h2.5v2h-2.5zM281.2 466h2.5v2h-2.5zM442.4 466h5.0v2h-5.0zM157.1 468h2.5v2h-2.5zM167.0 468h2.5v2h-2.5zM382.9 468h2.5v2h-2.5zM343.2 470h2.5v2h-2.5zM338.2 472h2.5v2h-2.5zM444.9 472h2.5v2h-2.5zM43.0 474h2.5v2h-2.5zM137.3 474h2.5v2h-2.5zM167.0 474h2.5v2h-2.5zM340.7 474h2.5v2h-2.5zM395.3 474h2.5v2h-2.5zM449.9 474h5.0v2h-5.0zM462.3 474h2.5v2h-2.5zM487.1 474h2.5v2h-2.5zM278.7 478h2.5v2h-2.5zM487.1 478h2.5v2h-2.5zM8.2 480h5.0v2h-5.0zM77.7 480h5.0v2h-5.0zM144.7 486h2.5v2h-2.5zM415.1 486h2.5v2h-2.5zM459.8 486h2.5v2h-2.5zM474.7 486h5.0v2h-5.0zM492.0 486h2.5v2h-2.5zM395.3 488h2.5v2h-2.5zM452.3 488h2.5v2h-2.5zM482.1 488h2.5v2h-2.5zM13.2 490h5.0v2h-5.0zM45.5 490h2.5v2h-2.5zM70.3 490h2.5v2h-2.5zM105.0 490h2.5v2h-2.5zM340.7 490h2.5v2h-2.5zM439.9 494h2.5v2h-2.5zM3.3 496h2.5v2h-2.5zM47.9 496h2.5v2h-2.5zM110.0 496h2.5v2h-2.5zM122.4 496h2.5v2h-2.5zM286.1 496h5.0v2h-5.0zM209.2 500h2.5v2h-2.5zM216.6 500h2.5v2h-2.5zM442.4 502h2.5v2h-2.5zM457.3 502h2.5v2h-2.5zM377.9 504h2.5v2h-2.5zM459.8 504h5.0v2h-5.0zM154.6 506h2.5v2h-2.5zM90.1 508h2.5v2h-2.5zM102.5 508h7.4v2h-7.4zM112.4 508h5.0v2h-5.0zM382.9 508h2.5v2h-2.5zM449.9 508h2.5v2h-2.5zM5.8 510h7.4v2h-7.4zM308.4 510h2.5v2h-2.5zM392.8 510h2.5v2h-2.5zM435.0 510h2.5v2h-2.5zM72.7 514h2.5v2h-2.5zM343.2 514h7.4v2h-7.4zM370.5 514h2.5v2h-2.5zM395.3 514h2.5v2h-2.5zM435.0 514h2.5v2h-2.5zM462.3 514h5.0v2h-5.0zM469.7 514h2.5v2h-2.5zM38.0 516h5.0v2h-5.0zM92.6 516h2.5v2h-2.5zM276.2 516h5.0v2h-5.0zM417.6 516h2.5v2h-2.5zM40.5 518h5.0v2h-5.0zM283.6 518h2.5v2h-2.5zM268.7 522h2.5v2h-2.5zM291.1 522h2.5v2h-2.5zM310.9 522h5.0v2h-5.0zM420.1 522h2.5v2h-2.5zM97.6 524h2.5v2h-2.5zM107.5 524h2.5v2h-2.5zM139.7 524h5.0v2h-5.0zM283.6 524h2.5v2h-2.5zM0.8 530h2.5v2h-2.5zM231.5 530h2.5v2h-2.5zM266.3 530h2.5v2h-2.5zM325.8 530h2.5v2h-2.5zM338.2 530h2.5v2h-2.5zM350.6 530h2.5v2h-2.5zM60.3 532h2.5v2h-2.5zM85.2 532h2.5v2h-2.5zM306.0 532h5.0v2h-5.0zM340.7 532h7.4v2h-7.4zM390.3 532h2.5v2h-2.5zM0.8 534h5.0v2h-5.0zM70.3 534h7.4v2h-7.4zM181.9 534h2.5v2h-2.5zM343.2 534h2.5v2h-2.5zM355.6 534h5.0v2h-5.0zM70.3 536h2.5v2h-2.5zM122.4 536h2.5v2h-2.5zM390.3 538h2.5v2h-2.5zM67.8 540h5.0v2h-5.0zM124.8 540h2.5v2h-2.5zM253.9 540h2.5v2h-2.5zM340.7 540h2.5v2h-2.5zM370.5 540h2.5v2h-2.5zM199.3 542h2.5v2h-2.5zM253.9 542h2.5v2h-2.5zM268.7 542h2.5v2h-2.5zM298.5 542h2.5v2h-2.5zM425.1 542h2.5v2h-2.5zM313.4 544h2.5v2h-2.5zM372.9 544h2.5v2h-2.5zM194.3 546h2.5v2h-2.5zM293.6 546h2.5v2h-2.5zM298.5 546h2.5v2h-2.5zM80.2 548h2.5v2h-2.5zM30.6 550h2.5v2h-2.5zM355.6 552h2.5v2h-2.5zM358.1 554h2.5v2h-2.5zM114.9 556h2.5v2h-2.5zM152.1 556h2.5v2h-2.5zM261.3 556h2.5v2h-2.5zM417.6 556h2.5v2h-2.5zM85.2 560h2.5v2h-2.5zM164.5 560h2.5v2h-2.5zM211.7 562h2.5v2h-2.5zM60.3 564h5.0v2h-5.0zM375.4 564h5.0v2h-5.0zM492.0 564h2.5v2h-2.5zM47.9 566h2.5v2h-2.5zM144.7 566h5.0v2h-5.0zM392.8 566h2.5v2h-2.5zM159.6 568h2.5v2h-2.5zM199.3 568h5.0v2h-5.0zM114.9 570h2.5v2h-2.5zM422.6 570h2.5v2h-2.5zM447.4 570h2.5v2h-2.5zM350.6 572h5.0v2h-5.0zM420.1 572h2.5v2h-2.5zM479.6 572h2.5v2h-2.5zM129.8 574h5.0v2h-5.0zM253.9 574h2.5v2h-2.5zM296.0 574h2.5v2h-2.5zM325.8 574h2.5v2h-2.5zM229.1 576h2.5v2h-2.5zM224.1 578h5.0v2h-5.0zM234.0 578h2.5v2h-2.5zM65.3 580h2.5v2h-2.5zM159.6 580h2.5v2h-2.5zM293.6 580h2.5v2h-2.5zM417.6 580h2.5v2h-2.5zM435.0 580h5.0v2h-5.0zM487.1 580h2.5v2h-2.5zM65.3 582h2.5v2h-2.5zM214.2 582h2.5v2h-2.5zM226.6 582h2.5v2h-2.5zM323.3 582h2.5v2h-2.5zM454.8 582h2.5v2h-2.5zM392.8 584h2.5v2h-2.5zM60.3 586h2.5v2h-2.5zM177.0 586h2.5v2h-2.5zM313.4 586h2.5v2h-2.5zM330.8 586h2.5v2h-2.5zM425.1 586h2.5v2h-2.5zM390.3 588h5.0v2h-5.0zM95.1 590h2.5v2h-2.5zM296.0 590h2.5v2h-2.5zM353.1 590h2.5v2h-2.5zM281.2 592h2.5v2h-2.5zM320.8 592h2.5v2h-2.5zM15.7 594h2.5v2h-2.5zM248.9 594h2.5v2h-2.5zM52.9 598h2.5v2h-2.5zM340.7 598h5.0v2h-5.0zM43.0 600h2.5v2h-2.5zM152.1 600h2.5v2h-2.5zM256.3 600h2.5v2h-2.5zM330.8 600h2.5v2h-2.5zM454.8 600h2.5v2h-2.5zM221.6 602h2.5v2h-2.5zM286.1 602h2.5v2h-2.5zM147.2 604h2.5v2h-2.5zM256.3 604h2.5v2h-2.5zM298.5 604h2.5v2h-2.5zM40.5 608h5.0v2h-5.0zM162.1 608h2.5v2h-2.5zM459.8 608h5.0v2h-5.0zM484.6 608h2.5v2h-2.5zM494.5 608h2.5v2h-2.5zM154.6 610h2.5v2h-2.5zM229.1 610h5.0v2h-5.0zM271.2 610h2.5v2h-2.5zM420.1 610h2.5v2h-2.5zM487.1 610h2.5v2h-2.5zM201.8 612h2.5v2h-2.5zM263.8 612h2.5v2h-2.5zM449.9 612h5.0v2h-5.0zM10.7 614h2.5v2h-2.5zM177.0 614h5.0v2h-5.0zM315.9 614h2.5v2h-2.5zM368.0 614h2.5v2h-2.5zM40.5 616h7.4v2h-7.4zM281.2 616h9.9v2h-9.9zM199.3 618h2.5v2h-2.5zM472.2 618h2.5v2h-2.5zM494.5 618h2.5v2h-2.5zM149.7 620h2.5v2h-2.5zM172.0 622h2.5v2h-2.5zM353.1 622h2.5v2h-2.5zM405.2 622h2.5v2h-2.5zM484.6 622h7.4v2h-7.4zM60.3 624h2.5v2h-2.5zM159.6 624h2.5v2h-2.5zM214.2 624h2.5v2h-2.5zM253.9 624h2.5v2h-2.5zM303.5 624h7.4v2h-7.4zM67.8 626h2.5v2h-2.5zM90.1 626h2.5v2h-2.5zM181.9 626h2.5v2h-2.5zM243.9 626h2.5v2h-2.5zM328.3 626h2.5v2h-2.5zM313.4 628h5.0v2h-5.0zM358.1 632h2.5v2h-2.5zM3.3 634h2.5v2h-2.5zM75.2 634h2.5v2h-2.5zM184.4 634h5.0v2h-5.0zM191.8 634h2.5v2h-2.5zM216.6 634h2.5v2h-2.5zM313.4 634h2.5v2h-2.5zM261.3 636h2.5v2h-2.5zM291.1 636h7.4v2h-7.4zM417.6 636h2.5v2h-2.5zM482.1 636h2.5v2h-2.5zM234.0 638h2.5v2h-2.5zM415.1 638h5.0v2h-5.0zM467.2 638h2.5v2h-2.5zM35.5 640h2.5v2h-2.5zM177.0 640h2.5v2h-2.5zM186.9 640h2.5v2h-2.5zM251.4 640h5.0v2h-5.0zM330.8 640h2.5v2h-2.5zM365.5 640h2.5v2h-2.5zM400.2 640h2.5v2h-2.5zM492.0 640h2.5v2h-2.5zM214.2 642h2.5v2h-2.5zM457.3 642h2.5v2h-2.5zM119.9 644h2.5v2h-2.5zM129.8 644h7.4v2h-7.4zM335.7 646h2.5v2h-2.5zM23.1 648h5.0v2h-5.0zM154.6 648h2.5v2h-2.5zM172.0 648h2.5v2h-2.5zM333.3 648h2.5v2h-2.5zM397.8 648h2.5v2h-2.5zM442.4 648h2.5v2h-2.5zM97.6 650h2.5v2h-2.5zM315.9 650h2.5v2h-2.5zM333.3 650h2.5v2h-2.5zM338.2 650h2.5v2h-2.5z"/>
<path fill="#054505" d="M313.4 372h2.5v2h-2.5zM52.9 380h2.5v2h-2.5zM57.9 380h2.5v2h-2.5zM105.0 380h2.5v2h-2.5zM127.3 380h2.5v2h-2.5zM375.4 380h7.4v2h-7.4zM472.2 380h5.0v2h-5.0zM47.9 382h2.5v2h-2.5zM152.1 382h2.5v2h-2.5zM263.8 382h2.5v2h-2.5zM286.1 382h2.5v2h-2.5zM444.9 382h2.5v2h-2.5zM114.9 392h2.5v2h-2.5zM365.5 394h2.5v2h-2.5zM442.4 394h5.0v2h-5.0zM55.4 396h2.5v2h-2.5zM325.8 396h2.5v2h-2.5zM13.2 400h5.0v2h-5.0zM231.5 408h2.5v2h-2.5zM10.7 412h2.5v2h-2.5zM38.0 414h2.5v2h-2.5zM60.3 414h2.5v2h-2.5zM129.8 414h5.0v2h-5.0zM152.1 414h5.0v2h-5.0zM464.7 414h2.5v2h-2.5zM77.7 416h2.5v2h-2.5zM119.9 416h2.5v2h-2.5zM129.8 416h2.5v2h-2.5zM472.2 416h2.5v2h-2.5zM45.5 418h2.5v2h-2.5zM370.5 418h5.0v2h-5.0zM3.3 420h2.5v2h-2.5zM248.9 420h5.0v2h-5.0zM286.1 420h5.0v2h-5.0zM385.4 420h5.0v2h-5.0zM0.8 422h2.5v2h-2.5zM35.5 422h2.5v2h-2.5zM144.7 422h2.5v2h-2.5zM149.7 422h2.5v2h-2.5zM174.5 422h2.5v2h-2.5zM236.5 422h2.5v2h-2.5zM410.2 422h2.5v2h-2.5zM417.6 422h2.5v2h-2.5zM0.8 424h2.5v2h-2.5zM62.8 426h5.0v2h-5.0zM90.1 426h2.5v2h-2.5zM122.4 426h2.5v2h-2.5zM157.1 426h2.5v2h-2.5zM226.6 426h2.5v2h-2.5zM253.9 426h2.5v2h-2.5zM432.5 432h5.0v2h-5.0zM457.3 434h2.5v2h-2.5zM447.4 442h2.5v2h-2.5zM248.9 444h5.0v2h-5.0zM263.8 444h2.5v2h-2.5zM380.4 444h2.5v2h-2.5zM57.9 446h2.5v2h-2.5zM343.2 446h2.5v2h-2.5zM358.1 446h2.5v2h-2.5zM415.1 446h2.5v2h-2.5zM492.0 446h5.0v2h-5.0zM412.6 450h9.9v2h-9.9zM224.1 452h2.5v2h-2.5zM5.8 456h2.5v2h-2.5zM449.9 456h2.5v2h-2.5zM469.7 456h2.5v2h-2.5zM482.1 456h2.5v2h-2.5zM174.5 458h2.5v2h-2.5zM328.3 460h2.5v2h-2.5zM5.8 462h2.5v2h-2.5zM330.8 462h2.5v2h-2.5zM105.0 472h2.5v2h-2.5zM124.8 472h2.5v2h-2.5zM449.9 472h2.5v2h-2.5zM181.9 478h2.5v2h-2.5zM169.5 480h2.5v2h-2.5zM191.8 482h2.5v2h-2.5zM273.7 484h2.5v2h-2.5zM132.3 486h5.0v2h-5.0zM335.7 486h2.5v2h-2.5zM95.1 500h2.5v2h-2.5zM248.9 500h5.0v2h-5.0zM328.3 500h2.5v2h-2.5zM410.2 500h5.0v2h-5.0zM459.8 502h2.5v2h-2.5zM236.5 506h2.5v2h-2.5zM271.2 508h2.5v2h-2.5zM177.0 518h2.5v2h-2.5zM449.9 518h2.5v2h-2.5zM459.8 518h2.5v2h-2.5zM5.8 520h7.4v2h-7.4zM23.1 520h5.0v2h-5.0zM132.3 520h5.0v2h-5.0zM142.2 520h5.0v2h-5.0zM472.2 520h2.5v2h-2.5zM33.1 522h2.5v2h-2.5zM469.7 522h2.5v2h-2.5zM43.0 526h2.5v2h-2.5zM142.2 526h2.5v2h-2.5zM152.1 526h2.5v2h-2.5zM199.3 526h2.5v2h-2.5zM234.0 526h2.5v2h-2.5zM484.6 526h2.5v2h-2.5zM492.0 526h2.5v2h-2.5zM40.5 528h5.0v2h-5.0zM82.7 528h5.0v2h-5.0zM144.7 528h2.5v2h-2.5zM8.2 530h2.5v2h-2.5zM122.4 530h2.5v2h-2.5zM199.3 530h2.5v2h-2.5zM377.9 530h2.5v2h-2.5zM492.0 530h5.0v2h-5.0zM28.1 532h2.5v2h-2.5zM132.3 532h2.5v2h-2.5zM248.9 532h2.5v2h-2.5zM256.3 532h2.5v2h-2.5zM333.3 532h5.0v2h-5.0zM387.8 532h2.5v2h-2.5zM33.1 534h2.5v2h-2.5zM395.3 534h5.0v2h-5.0zM467.2 534h2.5v2h-2.5zM484.6 534h2.5v2h-2.5zM199.3 536h2.5v2h-2.5zM447.4 536h2.5v2h-2.5zM13.2 538h2.5v2h-2.5zM199.3 538h2.5v2h-2.5zM253.9 538h5.0v2h-5.0zM447.4 538h2.5v2h-2.5zM477.2 538h2.5v2h-2.5zM38.0 540h2.5v2h-2.5zM102.5 540h5.0v2h-5.0zM134.8 540h2.5v2h-2.5zM147.2 540h2.5v2h-2.5zM286.1 540h2.5v2h-2.5zM296.0 540h2.5v2h-2.5zM303.5 540h2.5v2h-2.5zM330.8 540h5.0v2h-5.0zM45.5 542h5.0v2h-5.0zM107.5 542h2.5v2h-2.5zM370.5 542h2.5v2h-2.5zM375.4 542h2.5v2h-2.5zM390.3 542h2.5v2h-2.5zM415.1 542h5.0v2h-5.0zM15.7 544h2.5v2h-2.5zM50.4 544h2.5v2h-2.5zM219.1 544h2.5v2h-2.5zM291.1 544h2.5v2h-2.5zM345.7 544h2.5v2h-2.5zM350.6 544h2.5v2h-2.5zM382.9 544h2.5v2h-2.5zM412.6 544h2.5v2h-2.5zM144.7 546h2.5v2h-2.5zM417.6 546h2.5v2h-2.5zM221.6 548h2.5v2h-2.5zM365.5 548h2.5v2h-2.5zM370.5 548h2.5v2h-2.5zM375.4 548h2.5v2h-2.5zM196.8 550h2.5v2h-2.5zM328.3 550h2.5v2h-2.5zM402.7 550h2.5v2h-2.5zM412.6 550h5.0v2h-5.0zM363.0 552h2.5v2h-2.5zM5.8 554h5.0v2h-5.0zM60.3 554h5.0v2h-5.0zM92.6 554h2.5v2h-2.5zM117.4 554h2.5v2h-2.5zM142.2 554h5.0v2h-5.0zM343.2 554h2.5v2h-2.5zM35.5 556h2.5v2h-2.5zM100.0 556h5.0v2h-5.0zM134.8 556h5.0v2h-5.0zM234.0 556h2.5v2h-2.5zM345.7 556h2.5v2h-2.5zM412.6 556h5.0v2h-5.0zM454.8 556h2.5v2h-2.5zM462.3 556h2.5v2h-2.5zM23.1 558h2.5v2h-2.5zM75.2 558h2.5v2h-2.5zM204.2 558h5.0v2h-5.0zM298.5 558h5.0v2h-5.0zM102.5 560h2.5v2h-2.5zM444.9 560h2.5v2h-2.5zM82.7 562h2.5v2h-2.5zM149.7 562h2.5v2h-2.5zM387.8 562h2.5v2h-2.5zM395.3 562h2.5v2h-2.5zM469.7 562h5.0v2h-5.0zM30.6 564h2.5v2h-2.5zM52.9 564h2.5v2h-2.5zM400.2 564h7.4v2h-7.4zM425.1 564h2.5v2h-2.5zM494.5 564h2.5v2h-2.5zM82.7 566h2.5v2h-2.5zM90.1 566h5.0v2h-5.0zM157.1 566h2.5v2h-2.5zM489.6 566h2.5v2h-2.5zM179.4 568h9.9v2h-9.9zM360.5 568h2.5v2h-2.5zM119.9 570h2.5v2h-2.5zM370.5 570h2.5v2h-2.5zM487.1 570h2.5v2h-2.5zM452.3 572h5.0v2h-5.0zM462.3 572h2.5v2h-2.5zM474.7 572h2.5v2h-2.5zM85.2 574h5.0v2h-5.0zM164.5 574h5.0v2h-5.0zM246.4 574h2.5v2h-2.5zM263.8 574h2.5v2h-2.5zM313.4 574h2.5v2h-2.5zM350.6 574h2.5v2h-2.5zM368.0 574h2.5v2h-2.5zM400.2 574h5.0v2h-5.0zM92.6 576h2.5v2h-2.5zM129.8 576h5.0v2h-5.0zM142.2 576h2.5v2h-2.5zM330.8 576h2.5v2h-2.5zM457.3 576h2.5v2h-2.5zM28.1 578h2.5v2h-2.5zM87.6 578h2.5v2h-2.5zM102.5 578h2.5v2h-2.5zM167.0 578h2.5v2h-2.5zM310.9 578h2.5v2h-2.5zM407.7 578h2.5v2h-2.5zM454.8 578h2.5v2h-2.5zM75.2 580h9.9v2h-9.9zM137.3 580h2.5v2h-2.5zM167.0 580h5.0v2h-5.0zM258.8 580h2.5v2h-2.5zM308.4 580h2.5v2h-2.5zM370.5 582h2.5v2h-2.5zM90.1 584h2.5v2h-2.5zM288.6 584h2.5v2h-2.5zM382.9 584h2.5v2h-2.5zM236.5 586h2.5v2h-2.5zM464.7 586h2.5v2h-2.5zM30.6 588h2.5v2h-2.5zM87.6 588h2.5v2h-2.5zM114.9 588h2.5v2h-2.5zM172.0 588h2.5v2h-2.5zM10.7 590h2.5v2h-2.5zM25.6 590h2.5v2h-2.5zM47.9 590h2.5v2h-2.5zM127.3 590h2.5v2h-2.5zM281.2 590h2.5v2h-2.5zM325.8 590h2.5v2h-2.5zM484.6 590h2.5v2h-2.5zM10.7 592h2.5v2h-2.5zM15.7 592h2.5v2h-2.5zM33.1 592h2.5v2h-2.5zM62.8 592h5.0v2h-5.0zM90.1 592h2.5v2h-2.5zM105.0 592h2.5v2h-2.5zM241.5 592h7.4v2h-7.4zM395.3 592h5.0v2h-5.0zM415.1 592h2.5v2h-2.5zM457.3 592h2.5v2h-2.5zM487.1 592h2.5v2h-2.5zM50.4 594h2.5v2h-2.5zM137.3 594h2.5v2h-2.5zM144.7 594h2.5v2h-2.5zM231.5 594h2.5v2h-2.5zM390.3 594h2.5v2h-2.5zM410.2 594h5.0v2h-5.0zM70.3 598h2.5v2h-2.5zM105.0 598h7.4v2h-7.4zM209.2 598h2.5v2h-2.5zM303.5 598h7.4v2h-7.4zM377.9 598h2.5v2h-2.5zM452.3 598h2.5v2h-2.5zM457.3 598h5.0v2h-5.0zM201.8 600h2.5v2h-2.5zM405.2 600h2.5v2h-2.5zM92.6 602h7.4v2h-7.4zM102.5 602h7.4v2h-7.4zM474.7 602h2.5v2h-2.5zM482.1 602h2.5v2h-2.5zM35.5 604h2.5v2h-2.5zM82.7 604h5.0v2h-5.0zM110.0 604h5.0v2h-5.0zM174.5 604h2.5v2h-2.5zM231.5 604h2.5v2h-2.5zM348.1 604h2.5v2h-2.5zM355.6 604h2.5v2h-2.5zM387.8 604h2.5v2h-2.5zM80.2 606h2.5v2h-2.5zM105.0 606h2.5v2h-2.5zM353.1 606h2.5v2h-2.5zM370.5 606h2.5v2h-2.5zM117.4 608h2.5v2h-2.5zM159.6 608h2.5v2h-2.5zM13.2 612h5.0v2h-5.0zM28.1 612h2.5v2h-2.5zM186.9 612h2.5v2h-2.5zM127.3 614h2.5v2h-2.5zM139.7 614h2.5v2h-2.5zM204.2 614h2.5v2h-2.5zM281.2 614h2.5v2h-2.5zM5.8 616h7.4v2h-7.4zM114.9 616h2.5v2h-2.5zM142.2 616h5.0v2h-5.0zM114.9 618h7.4v2h-7.4zM380.4 620h2.5v2h-2.5zM43.0 622h2.5v2h-2.5zM92.6 622h2.5v2h-2.5zM246.4 622h2.5v2h-2.5zM28.1 624h2.5v2h-2.5zM45.5 624h2.5v2h-2.5zM55.4 624h2.5v2h-2.5zM122.4 624h5.0v2h-5.0zM154.6 624h2.5v2h-2.5zM194.3 624h2.5v2h-2.5zM201.8 624h5.0v2h-5.0zM5.8 628h2.5v2h-2.5zM70.3 628h2.5v2h-2.5zM196.8 628h2.5v2h-2.5zM239.0 628h5.0v2h-5.0zM387.8 628h2.5v2h-2.5zM25.6 634h2.5v2h-2.5zM114.9 634h2.5v2h-2.5zM124.8 634h2.5v2h-2.5zM167.0 634h2.5v2h-2.5zM345.7 634h2.5v2h-2.5zM370.5 634h5.0v2h-5.0zM377.9 634h2.5v2h-2.5zM372.9 636h5.0v2h-5.0zM52.9 638h7.4v2h-7.4zM75.2 638h2.5v2h-2.5zM97.6 638h2.5v2h-2.5zM147.2 638h2.5v2h-2.5zM350.6 638h5.0v2h-5.0zM283.6 640h2.5v2h-2.5zM20.6 642h2.5v2h-2.5zM211.7 642h2.5v2h-2.5zM291.1 642h5.0v2h-5.0zM444.9 642h2.5v2h-2.5zM107.5 644h2.5v2h-2.5zM306.0 644h9.9v2h-9.9zM318.4 644h2.5v2h-2.5zM340.7 644h5.0v2h-5.0zM360.5 646h2.5v2h-2.5zM400.2 646h2.5v2h-2.5zM164.5 648h2.5v2h-2.5zM204.2 648h2.5v2h-2.5zM226.6 648h2.5v2h-2.5zM194.3 650h2.5v2h-2.5zM308.4 650h2.5v2h-2.5zM328.3 650h2.5v2h-2.5zM385.4 650h5.0v2h-5.0zM479.6 650h2.5v2h-2.5zM201.8 652h9.9v2h-9.9zM303.5 652h2.5v2h-2.5zM370.5 652h5.0v2h-5.0zM385.4 652h2.5v2h-2.5zM487.1 652h2.5v2h-2.5z"/>
<path fill="#30ff30" d="M350.6 372h2.5v2h-2.5zM28.1 378h2.5v2h-2.5zM479.6 384h2.5v2h-2.5zM110.0 390h2.5v2h-2.5zM214.2 390h5.0v2h-5.0zM400.2 390h2.5v2h-2.5zM28.1 400h2.5v2h-2.5zM219.1 406h5.0v2h-5.0zM387.8 406h2.5v2h-2.5zM392.8 406h2.5v2h-2.5zM67.8 408h2.5v2h-2.5zM157.1 408h2.5v2h-2.5zM209.2 408h2.5v2h-2.5zM370.5 408h2.5v2h-2.5zM5.8 410h2.5v2h-2.5zM10.7 410h7.4v2h-7.4zM20.6 410h2.5v2h-2.5zM25.6 410h14.9v2h-14.9zM50.4 410h9.9v2h-9.9zM67.8 410h9.9v2h-9.9zM82.7 410h2.5v2h-2.5zM87.6 410h14.9v2h-14.9zM107.5 410h7.4v2h-7.4zM122.4 410h32.3v2h-32.3zM157.1 410h2.5v2h-2.5zM164.5 410h9.9v2h-9.9zM177.0 410h7.4v2h-7.4zM186.9 410h17.4v2h-17.4zM206.7 410h17.4v2h-17.4zM226.6 410h2.5v2h-2.5zM231.5 410h7.4v2h-7.4zM243.9 410h2.5v2h-2.5zM256.3 410h9.9v2h-9.9zM271.2 410h9.9v2h-9.9zM283.6 410h7.4v2h-7.4zM293.6 410h19.8v2h-19.8zM318.4 410h7.4v2h-7.4zM343.2 410h2.5v2h-2.5zM355.6 410h14.9v2h-14.9zM372.9 410h19.8v2h-19.8zM395.3 410h5.0v2h-5.0zM405.2 410h14.9v2h-14.9zM422.6 410h5.0v2h-5.0zM430.0 410h2.5v2h-2.5zM437.5 410h9.9v2h-9.9zM457.3 410h7.4v2h-7.4zM467.2 410h17.4v2h-17.4zM487.1 410h9.9v2h-9.9zM75.2 414h5.0v2h-5.0zM100.0 414h7.4v2h-7.4zM122.4 414h7.4v2h-7.4zM199.3 414h5.0v2h-5.0zM390.3 414h2.5v2h-2.5zM400.2 414h2.5v2h-2.5zM430.0 414h2.5v2h-2.5zM444.9 414h2.5v2h-2.5zM462.3 414h2.5v2h-2.5zM467.2 414h2.5v2h-2.5zM474.7 414h2.5v2h-2.5zM494.5 414h2.5v2h-2.5zM40.5 416h2.5v2h-2.5zM157.1 416h2.5v2h-2.5zM204.2 416h2.5v2h-2.5zM400.2 416h5.0v2h-5.0zM415.1 416h5.0v2h-5.0zM432.5 416h2.5v2h-2.5zM437.5 416h2.5v2h-2.5zM462.3 416h2.5v2h-2.5zM479.6 416h2.5v2h-2.5zM489.6 416h2.5v2h-2.5zM494.5 416h2.5v2h-2.5zM72.7 418h5.0v2h-5.0zM87.6 418h2.5v2h-2.5zM97.6 418h2.5v2h-2.5zM191.8 418h2.5v2h-2.5zM452.3 418h2.5v2h-2.5zM492.0 418h2.5v2h-2.5zM0.8 420h2.5v2h-2.5zM8.2 420h2.5v2h-2.5zM174.5 420h2.5v2h-2.5zM179.4 420h5.0v2h-5.0zM189.4 420h12.4v2h-12.4zM219.1 420h2.5v2h-2.5zM278.7 420h2.5v2h-2.5zM164.5 422h2.5v2h-2.5zM169.5 422h5.0v2h-5.0zM184.4 422h5.0v2h-5.0zM191.8 422h5.0v2h-5.0zM209.2 422h2.5v2h-2.5zM219.1 422h5.0v2h-5.0zM229.1 422h7.4v2h-7.4zM248.9 422h7.4v2h-7.4zM271.2 422h2.5v2h-2.5zM129.8 424h2.5v2h-2.5zM278.7 424h2.5v2h-2.5zM137.3 426h5.0v2h-5.0zM177.0 426h2.5v2h-2.5zM196.8 426h2.5v2h-2.5zM340.7 438h7.4v2h-7.4zM353.1 440h2.5v2h-2.5zM439.9 442h2.5v2h-2.5zM479.6 442h5.0v2h-5.0zM422.6 444h2.5v2h-2.5zM437.5 444h2.5v2h-2.5zM442.4 444h17.4v2h-17.4zM462.3 444h2.5v2h-2.5zM469.7 444h5.0v2h-5.0zM482.1 444h2.5v2h-2.5zM487.1 444h5.0v2h-5.0zM442.4 446h2.5v2h-2.5zM449.9 446h2.5v2h-2.5zM467.2 446h2.5v2h-2.5zM477.2 446h9.9v2h-9.9zM186.9 448h2.5v2h-2.5zM256.3 448h2.5v2h-2.5zM283.6 448h7.4v2h-7.4zM444.9 448h2.5v2h-2.5zM442.4 450h12.4v2h-12.4zM457.3 450h7.4v2h-7.4zM469.7 450h5.0v2h-5.0zM477.2 450h12.4v2h-12.4zM492.0 450h2.5v2h-2.5zM442.4 454h2.5v2h-2.5zM454.8 454h2.5v2h-2.5zM462.3 454h2.5v2h-2.5zM452.3 456h2.5v2h-2.5zM469.7 458h2.5v2h-2.5zM457.3 460h2.5v2h-2.5zM467.2 460h12.4v2h-12.4zM129.8 468h2.5v2h-2.5zM152.1 470h2.5v2h-2.5zM184.4 472h2.5v2h-2.5zM52.9 474h7.4v2h-7.4zM169.5 474h2.5v2h-2.5zM425.1 474h2.5v2h-2.5zM119.9 480h2.5v2h-2.5zM226.6 486h2.5v2h-2.5zM239.0 486h5.0v2h-5.0zM256.3 486h5.0v2h-5.0zM390.3 488h5.0v2h-5.0zM449.9 496h5.0v2h-5.0zM97.6 500h2.5v2h-2.5zM422.6 500h2.5v2h-2.5zM82.7 514h2.5v2h-2.5zM489.6 518h5.0v2h-5.0zM20.6 520h2.5v2h-2.5zM152.1 520h5.0v2h-5.0zM159.6 520h2.5v2h-2.5zM164.5 520h5.0v2h-5.0zM174.5 520h19.8v2h-19.8zM199.3 520h2.5v2h-2.5zM211.7 520h34.7v2h-34.7zM251.4 520h5.0v2h-5.0zM261.3 520h7.4v2h-7.4zM273.7 520h9.9v2h-9.9zM288.6 520h2.5v2h-2.5zM301.0 520h5.0v2h-5.0zM308.4 520h7.4v2h-7.4zM320.8 520h5.0v2h-5.0zM328.3 520h5.0v2h-5.0zM340.7 520h2.5v2h-2.5zM345.7 520h5.0v2h-5.0zM353.1 520h5.0v2h-5.0zM360.5 520h2.5v2h-2.5zM368.0 520h5.0v2h-5.0zM375.4 520h5.0v2h-5.0zM382.9 520h9.9v2h-9.9zM410.2 520h2.5v2h-2.5zM415.1 520h2.5v2h-2.5zM422.6 520h2.5v2h-2.5zM479.6 520h5.0v2h-5.0zM87.6 522h2.5v2h-2.5zM92.6 522h2.5v2h-2.5zM107.5 522h2.5v2h-2.5zM167.0 522h2.5v2h-2.5zM315.9 522h5.0v2h-5.0zM380.4 522h2.5v2h-2.5zM395.3 522h2.5v2h-2.5zM410.2 522h2.5v2h-2.5zM427.5 522h5.0v2h-5.0zM437.5 522h2.5v2h-2.5zM484.6 522h2.5v2h-2.5zM360.5 524h2.5v2h-2.5zM380.4 524h2.5v2h-2.5zM427.5 524h12.4v2h-12.4zM0.8 526h9.9v2h-9.9zM20.6 526h2.5v2h-2.5zM30.6 526h5.0v2h-5.0zM45.5 526h2.5v2h-2.5zM70.3 526h2.5v2h-2.5zM75.2 526h14.9v2h-14.9zM114.9 526h5.0v2h-5.0zM157.1 526h7.4v2h-7.4zM204.2 526h2.5v2h-2.5zM243.9 526h5.0v2h-5.0zM308.4 526h5.0v2h-5.0zM375.4 526h2.5v2h-2.5zM392.8 526h2.5v2h-2.5zM405.2 526h2.5v2h-2.5zM427.5 526h5.0v2h-5.0zM435.0 526h5.0v2h-5.0zM449.9 526h2.5v2h-2.5zM454.8 526h2.5v2h-2.5zM467.2 526h2.5v2h-2.5zM474.7 526h2.5v2h-2.5zM482.1 526h2.5v2h-2.5zM487.1 526h5.0v2h-5.0zM494.5 526h2.5v2h-2.5zM20.6 528h9.9v2h-9.9zM35.5 528h2.5v2h-2.5zM47.9 528h2.5v2h-2.5zM124.8 528h2.5v2h-2.5zM134.8 528h2.5v2h-2.5zM201.8 528h2.5v2h-2.5zM243.9 528h2.5v2h-2.5zM427.5 528h7.4v2h-7.4zM492.0 528h2.5v2h-2.5zM5.8 530h2.5v2h-2.5zM30.6 530h5.0v2h-5.0zM77.7 530h5.0v2h-5.0zM110.0 530h7.4v2h-7.4zM127.3 530h2.5v2h-2.5zM137.3 530h2.5v2h-2.5zM157.1 530h5.0v2h-5.0zM372.9 530h2.5v2h-2.5zM430.0 530h9.9v2h-9.9zM442.4 530h5.0v2h-5.0zM457.3 530h2.5v2h-2.5zM462.3 530h2.5v2h-2.5zM482.1 530h2.5v2h-2.5zM0.8 532h7.4v2h-7.4zM33.1 532h7.4v2h-7.4zM50.4 532h2.5v2h-2.5zM75.2 532h5.0v2h-5.0zM201.8 532h2.5v2h-2.5zM216.6 532h2.5v2h-2.5zM427.5 532h19.8v2h-19.8zM474.7 532h5.0v2h-5.0zM494.5 532h2.5v2h-2.5zM30.6 534h2.5v2h-2.5zM92.6 534h2.5v2h-2.5zM102.5 534h5.0v2h-5.0zM124.8 534h2.5v2h-2.5zM363.0 534h2.5v2h-2.5zM427.5 534h2.5v2h-2.5zM432.5 534h2.5v2h-2.5zM439.9 534h2.5v2h-2.5zM449.9 534h2.5v2h-2.5zM457.3 534h5.0v2h-5.0zM35.5 536h2.5v2h-2.5zM50.4 536h2.5v2h-2.5zM57.9 536h2.5v2h-2.5zM124.8 536h2.5v2h-2.5zM251.4 536h2.5v2h-2.5zM276.2 536h5.0v2h-5.0zM340.7 536h2.5v2h-2.5zM422.6 536h12.4v2h-12.4zM439.9 536h7.4v2h-7.4zM459.8 536h2.5v2h-2.5zM472.2 536h7.4v2h-7.4zM494.5 536h2.5v2h-2.5zM3.3 538h2.5v2h-2.5zM35.5 538h2.5v2h-2.5zM70.3 538h2.5v2h-2.5zM124.8 538h2.5v2h-2.5zM216.6 538h2.5v2h-2.5zM273.7 538h2.5v2h-2.5zM333.3 538h2.5v2h-2.5zM338.2 538h2.5v2h-2.5zM395.3 538h2.5v2h-2.5zM430.0 538h9.9v2h-9.9zM449.9 538h2.5v2h-2.5zM467.2 538h2.5v2h-2.5zM494.5 538h2.5v2h-2.5zM35.5 540h2.5v2h-2.5zM40.5 540h5.0v2h-5.0zM87.6 540h2.5v2h-2.5zM263.8 540h2.5v2h-2.5zM291.1 540h2.5v2h-2.5zM301.0 540h2.5v2h-2.5zM345.7 540h5.0v2h-5.0zM375.4 540h2.5v2h-2.5zM385.4 540h2.5v2h-2.5zM397.8 540h2.5v2h-2.5zM427.5 540h14.9v2h-14.9zM447.4 540h2.5v2h-2.5zM452.3 540h2.5v2h-2.5zM457.3 540h2.5v2h-2.5zM464.7 540h2.5v2h-2.5zM469.7 540h2.5v2h-2.5zM479.6 540h17.4v2h-17.4zM40.5 542h2.5v2h-2.5zM87.6 542h2.5v2h-2.5zM301.0 542h5.0v2h-5.0zM340.7 542h2.5v2h-2.5zM353.1 542h2.5v2h-2.5zM385.4 542h2.5v2h-2.5zM427.5 542h17.4v2h-17.4zM447.4 542h5.0v2h-5.0zM454.8 542h9.9v2h-9.9zM469.7 542h5.0v2h-5.0zM479.6 542h2.5v2h-2.5zM487.1 542h9.9v2h-9.9zM33.1 544h2.5v2h-2.5zM40.5 544h2.5v2h-2.5zM330.8 544h2.5v2h-2.5zM348.1 544h2.5v2h-2.5zM395.3 544h2.5v2h-2.5zM435.0 544h2.5v2h-2.5zM439.9 544h2.5v2h-2.5zM444.9 544h5.0v2h-5.0zM462.3 544h9.9v2h-9.9zM479.6 544h17.4v2h-17.4zM372.9 546h2.5v2h-2.5zM410.2 546h2.5v2h-2.5zM432.5 546h12.4v2h-12.4zM454.8 546h17.4v2h-17.4zM479.6 546h2.5v2h-2.5zM484.6 546h2.5v2h-2.5zM38.0 548h2.5v2h-2.5zM189.4 548h2.5v2h-2.5zM325.8 548h2.5v2h-2.5zM333.3 548h2.5v2h-2.5zM350.6 548h2.5v2h-2.5zM368.0 548h2.5v2h-2.5zM410.2 548h5.0v2h-5.0zM425.1 548h24.8v2h-24.8zM457.3 548h17.4v2h-17.4zM479.6 548h5.0v2h-5.0zM97.6 550h2.5v2h-2.5zM281.2 550h2.5v2h-2.5zM286.1 550h2.5v2h-2.5zM333.3 550h5.0v2h-5.0zM353.1 550h5.0v2h-5.0zM368.0 550h7.4v2h-7.4zM377.9 550h2.5v2h-2.5zM405.2 550h2.5v2h-2.5zM437.5 550h2.5v2h-2.5zM442.4 550h12.4v2h-12.4zM459.8 550h34.7v2h-34.7zM167.0 552h2.5v2h-2.5zM283.6 552h5.0v2h-5.0zM303.5 552h5.0v2h-5.0zM330.8 552h5.0v2h-5.0zM370.5 552h2.5v2h-2.5zM377.9 552h2.5v2h-2.5zM407.7 552h5.0v2h-5.0zM415.1 552h2.5v2h-2.5zM420.1 552h2.5v2h-2.5zM427.5 552h9.9v2h-9.9zM439.9 552h9.9v2h-9.9zM452.3 552h9.9v2h-9.9zM464.7 552h7.4v2h-7.4zM479.6 552h5.0v2h-5.0zM494.5 552h2.5v2h-2.5zM0.8 554h2.5v2h-2.5zM43.0 554h2.5v2h-2.5zM129.8 554h5.0v2h-5.0zM137.3 554h5.0v2h-5.0zM152.1 554h5.0v2h-5.0zM167.0 554h2.5v2h-2.5zM194.3 554h5.0v2h-5.0zM271.2 554h2.5v2h-2.5zM318.4 554h2.5v2h-2.5zM325.8 554h5.0v2h-5.0zM407.7 554h2.5v2h-2.5zM427.5 554h14.9v2h-14.9zM444.9 554h2.5v2h-2.5zM454.8 554h2.5v2h-2.5zM464.7 554h24.8v2h-24.8zM492.0 554h5.0v2h-5.0zM0.8 556h19.8v2h-19.8zM43.0 556h2.5v2h-2.5zM142.2 556h5.0v2h-5.0zM149.7 556h2.5v2h-2.5zM154.6 556h2.5v2h-2.5zM159.6 556h2.5v2h-2.5zM179.4 556h2.5v2h-2.5zM191.8 556h2.5v2h-2.5zM400.2 556h2.5v2h-2.5zM427.5 556h2.5v2h-2.5zM435.0 556h2.5v2h-2.5zM449.9 556h2.5v2h-2.5zM479.6 556h2.5v2h-2.5zM494.5 556h2.5v2h-2.5zM5.8 558h2.5v2h-2.5zM139.7 558h5.0v2h-5.0zM172.0 558h2.5v2h-2.5zM177.0 558h2.5v2h-2.5zM335.7 558h2.5v2h-2.5zM405.2 558h2.5v2h-2.5zM410.2 558h2.5v2h-2.5zM420.1 558h2.5v2h-2.5zM427.5 558h12.4v2h-12.4zM449.9 558h5.0v2h-5.0zM459.8 558h2.5v2h-2.5zM477.2 558h5.0v2h-5.0zM75.2 560h5.0v2h-5.0zM82.7 560h2.5v2h-2.5zM154.6 560h5.0v2h-5.0zM179.4 560h2.5v2h-2.5zM382.9 560h5.0v2h-5.0zM427.5 560h5.0v2h-5.0zM437.5 560h2.5v2h-2.5zM442.4 560h2.5v2h-2.5zM452.3 560h2.5v2h-2.5zM33.1 562h2.5v2h-2.5zM38.0 562h2.5v2h-2.5zM85.2 562h2.5v2h-2.5zM186.9 562h2.5v2h-2.5zM214.2 562h5.0v2h-5.0zM452.3 562h5.0v2h-5.0zM482.1 562h2.5v2h-2.5zM494.5 562h2.5v2h-2.5zM35.5 564h5.0v2h-5.0zM70.3 564h7.4v2h-7.4zM110.0 564h2.5v2h-2.5zM154.6 564h5.0v2h-5.0zM181.9 564h5.0v2h-5.0zM392.8 564h7.4v2h-7.4zM407.7 564h5.0v2h-5.0zM417.6 564h2.5v2h-2.5zM427.5 564h2.5v2h-2.5zM435.0 564h2.5v2h-2.5zM442.4 564h7.4v2h-7.4zM457.3 564h2.5v2h-2.5zM469.7 564h2.5v2h-2.5zM477.2 564h2.5v2h-2.5zM484.6 564h2.5v2h-2.5zM3.3 566h2.5v2h-2.5zM13.2 566h2.5v2h-2.5zM38.0 566h2.5v2h-2.5zM50.4 566h2.5v2h-2.5zM112.4 566h5.0v2h-5.0zM149.7 566h2.5v2h-2.5zM179.4 566h9.9v2h-9.9zM214.2 566h5.0v2h-5.0zM402.7 566h5.0v2h-5.0zM410.2 566h2.5v2h-2.5zM432.5 566h5.0v2h-5.0zM452.3 566h2.5v2h-2.5zM479.6 566h7.4v2h-7.4zM492.0 566h5.0v2h-5.0zM368.0 568h5.0v2h-5.0zM375.4 568h2.5v2h-2.5zM417.6 568h2.5v2h-2.5zM430.0 568h9.9v2h-9.9zM444.9 568h2.5v2h-2.5zM477.2 568h2.5v2h-2.5zM484.6 568h2.5v2h-2.5zM365.5 570h2.5v2h-2.5zM427.5 570h2.5v2h-2.5zM432.5 570h5.0v2h-5.0zM454.8 570h7.4v2h-7.4zM472.2 570h5.0v2h-5.0zM147.2 572h5.0v2h-5.0zM328.3 572h2.5v2h-2.5zM365.5 572h5.0v2h-5.0zM432.5 572h2.5v2h-2.5zM437.5 572h2.5v2h-2.5zM492.0 572h5.0v2h-5.0zM20.6 574h2.5v2h-2.5zM95.1 574h7.4v2h-7.4zM119.9 574h9.9v2h-9.9zM149.7 574h5.0v2h-5.0zM239.0 574h2.5v2h-2.5zM258.8 574h2.5v2h-2.5zM266.3 574h5.0v2h-5.0zM288.6 574h2.5v2h-2.5zM338.2 574h2.5v2h-2.5zM360.5 574h2.5v2h-2.5zM427.5 574h14.9v2h-14.9zM459.8 574h2.5v2h-2.5zM489.6 574h2.5v2h-2.5zM100.0 576h2.5v2h-2.5zM114.9 576h2.5v2h-2.5zM137.3 576h2.5v2h-2.5zM147.2 576h2.5v2h-2.5zM159.6 576h2.5v2h-2.5zM184.4 576h5.0v2h-5.0zM318.4 576h2.5v2h-2.5zM333.3 576h2.5v2h-2.5zM350.6 576h2.5v2h-2.5zM358.1 576h5.0v2h-5.0zM430.0 576h2.5v2h-2.5zM437.5 576h2.5v2h-2.5zM469.7 576h2.5v2h-2.5zM474.7 576h5.0v2h-5.0zM484.6 576h9.9v2h-9.9zM25.6 578h2.5v2h-2.5zM80.2 578h2.5v2h-2.5zM90.1 578h5.0v2h-5.0zM105.0 578h5.0v2h-5.0zM114.9 578h5.0v2h-5.0zM122.4 578h5.0v2h-5.0zM147.2 578h7.4v2h-7.4zM239.0 578h2.5v2h-2.5zM288.6 578h2.5v2h-2.5zM335.7 578h5.0v2h-5.0zM382.9 578h2.5v2h-2.5zM430.0 578h5.0v2h-5.0zM437.5 578h2.5v2h-2.5zM444.9 578h2.5v2h-2.5zM462.3 578h2.5v2h-2.5zM467.2 578h2.5v2h-2.5zM487.1 578h9.9v2h-9.9zM23.1 580h5.0v2h-5.0zM38.0 580h2.5v2h-2.5zM90.1 580h2.5v2h-2.5zM112.4 580h9.9v2h-9.9zM124.8 580h2.5v2h-2.5zM154.6 580h5.0v2h-5.0zM239.0 580h2.5v2h-2.5zM276.2 580h2.5v2h-2.5zM310.9 580h2.5v2h-2.5zM400.2 580h2.5v2h-2.5zM427.5 580h7.4v2h-7.4zM492.0 580h2.5v2h-2.5zM174.5 582h2.5v2h-2.5zM333.3 582h2.5v2h-2.5zM415.1 582h2.5v2h-2.5zM427.5 582h12.4v2h-12.4zM97.6 584h2.5v2h-2.5zM110.0 584h2.5v2h-2.5zM114.9 584h2.5v2h-2.5zM124.8 584h19.8v2h-19.8zM149.7 584h2.5v2h-2.5zM169.5 584h9.9v2h-9.9zM313.4 584h9.9v2h-9.9zM338.2 584h2.5v2h-2.5zM380.4 584h2.5v2h-2.5zM385.4 584h2.5v2h-2.5zM430.0 584h5.0v2h-5.0zM437.5 584h2.5v2h-2.5zM100.0 586h5.0v2h-5.0zM137.3 586h7.4v2h-7.4zM154.6 586h2.5v2h-2.5zM263.8 586h5.0v2h-5.0zM281.2 586h2.5v2h-2.5zM303.5 586h2.5v2h-2.5zM308.4 586h2.5v2h-2.5zM335.7 586h5.0v2h-5.0zM360.5 586h2.5v2h-2.5zM377.9 586h2.5v2h-2.5zM407.7 586h2.5v2h-2.5zM427.5 586h12.4v2h-12.4zM0.8 588h2.5v2h-2.5zM72.7 588h2.5v2h-2.5zM100.0 588h5.0v2h-5.0zM127.3 588h2.5v2h-2.5zM134.8 588h2.5v2h-2.5zM147.2 588h2.5v2h-2.5zM323.3 588h7.4v2h-7.4zM395.3 588h7.4v2h-7.4zM427.5 588h7.4v2h-7.4zM437.5 588h2.5v2h-2.5zM479.6 588h2.5v2h-2.5zM23.1 590h2.5v2h-2.5zM33.1 590h2.5v2h-2.5zM55.4 590h7.4v2h-7.4zM72.7 590h2.5v2h-2.5zM77.7 590h2.5v2h-2.5zM87.6 590h2.5v2h-2.5zM102.5 590h2.5v2h-2.5zM129.8 590h2.5v2h-2.5zM134.8 590h5.0v2h-5.0zM243.9 590h5.0v2h-5.0zM286.1 590h2.5v2h-2.5zM318.4 590h2.5v2h-2.5zM392.8 590h2.5v2h-2.5zM432.5 590h7.4v2h-7.4zM3.3 592h2.5v2h-2.5zM8.2 592h2.5v2h-2.5zM50.4 592h2.5v2h-2.5zM67.8 592h5.0v2h-5.0zM75.2 592h5.0v2h-5.0zM92.6 592h12.4v2h-12.4zM107.5 592h19.8v2h-19.8zM134.8 592h12.4v2h-12.4zM283.6 592h2.5v2h-2.5zM310.9 592h2.5v2h-2.5zM430.0 592h9.9v2h-9.9zM494.5 592h2.5v2h-2.5zM3.3 594h9.9v2h-9.9zM25.6 594h2.5v2h-2.5zM55.4 594h7.4v2h-7.4zM72.7 594h9.9v2h-9.9zM90.1 594h2.5v2h-2.5zM107.5 594h7.4v2h-7.4zM142.2 594h2.5v2h-2.5zM206.7 594h2.5v2h-2.5zM266.3 594h2.5v2h-2.5zM313.4 594h2.5v2h-2.5zM338.2 594h2.5v2h-2.5zM363.0 594h2.5v2h-2.5zM395.3 594h2.5v2h-2.5zM427.5 594h12.4v2h-12.4zM487.1 594h9.9v2h-9.9zM80.2 596h2.5v2h-2.5zM124.8 596h2.5v2h-2.5zM286.1 596h2.5v2h-2.5zM363.0 596h7.4v2h-7.4zM372.9 596h2.5v2h-2.5zM385.4 596h2.5v2h-2.5zM427.5 596h12.4v2h-12.4zM482.1 596h2.5v2h-2.5zM40.5 598h2.5v2h-2.5zM80.2 598h2.5v2h-2.5zM87.6 598h9.9v2h-9.9zM117.4 598h2.5v2h-2.5zM159.6 598h5.0v2h-5.0zM283.6 598h7.4v2h-7.4zM301.0 598h2.5v2h-2.5zM310.9 598h2.5v2h-2.5zM328.3 598h7.4v2h-7.4zM427.5 598h12.4v2h-12.4zM454.8 598h2.5v2h-2.5zM487.1 598h2.5v2h-2.5zM70.3 600h2.5v2h-2.5zM80.2 600h2.5v2h-2.5zM97.6 600h9.9v2h-9.9zM167.0 600h2.5v2h-2.5zM271.2 600h5.0v2h-5.0zM288.6 600h2.5v2h-2.5zM293.6 600h2.5v2h-2.5zM325.8 600h2.5v2h-2.5zM400.2 600h2.5v2h-2.5zM410.2 600h2.5v2h-2.5zM427.5 600h2.5v2h-2.5zM435.0 600h2.5v2h-2.5zM449.9 600h5.0v2h-5.0zM457.3 600h5.0v2h-5.0zM60.3 602h2.5v2h-2.5zM70.3 602h2.5v2h-2.5zM100.0 602h2.5v2h-2.5zM119.9 602h2.5v2h-2.5zM169.5 602h5.0v2h-5.0zM355.6 602h2.5v2h-2.5zM365.5 602h2.5v2h-2.5zM392.8 602h2.5v2h-2.5zM427.5 602h2.5v2h-2.5zM432.5 602h7.4v2h-7.4zM484.6 602h2.5v2h-2.5zM62.8 604h5.0v2h-5.0zM70.3 604h9.9v2h-9.9zM102.5 604h2.5v2h-2.5zM107.5 604h2.5v2h-2.5zM117.4 604h2.5v2h-2.5zM122.4 604h2.5v2h-2.5zM127.3 604h2.5v2h-2.5zM169.5 604h2.5v2h-2.5zM177.0 604h2.5v2h-2.5zM206.7 604h2.5v2h-2.5zM236.5 604h12.4v2h-12.4zM291.1 604h5.0v2h-5.0zM303.5 604h2.5v2h-2.5zM340.7 604h5.0v2h-5.0zM358.1 604h2.5v2h-2.5zM365.5 604h5.0v2h-5.0zM422.6 604h17.4v2h-17.4zM65.3 606h2.5v2h-2.5zM85.2 606h2.5v2h-2.5zM119.9 606h2.5v2h-2.5zM127.3 606h2.5v2h-2.5zM226.6 606h2.5v2h-2.5zM239.0 606h2.5v2h-2.5zM246.4 606h2.5v2h-2.5zM368.0 606h2.5v2h-2.5zM392.8 606h7.4v2h-7.4zM437.5 606h2.5v2h-2.5zM82.7 608h2.5v2h-2.5zM110.0 608h5.0v2h-5.0zM241.5 608h2.5v2h-2.5zM350.6 608h2.5v2h-2.5zM363.0 608h5.0v2h-5.0zM387.8 608h5.0v2h-5.0zM427.5 608h7.4v2h-7.4zM23.1 610h2.5v2h-2.5zM70.3 610h2.5v2h-2.5zM75.2 610h2.5v2h-2.5zM127.3 610h2.5v2h-2.5zM380.4 610h5.0v2h-5.0zM430.0 610h7.4v2h-7.4zM33.1 612h2.5v2h-2.5zM40.5 612h5.0v2h-5.0zM50.4 612h5.0v2h-5.0zM75.2 612h2.5v2h-2.5zM82.7 612h2.5v2h-2.5zM105.0 612h2.5v2h-2.5zM117.4 612h2.5v2h-2.5zM410.2 612h2.5v2h-2.5zM430.0 612h5.0v2h-5.0zM437.5 612h2.5v2h-2.5zM13.2 614h2.5v2h-2.5zM47.9 614h5.0v2h-5.0zM67.8 614h2.5v2h-2.5zM80.2 614h5.0v2h-5.0zM87.6 614h14.9v2h-14.9zM112.4 614h2.5v2h-2.5zM149.7 614h2.5v2h-2.5zM390.3 614h5.0v2h-5.0zM417.6 614h2.5v2h-2.5zM427.5 614h7.4v2h-7.4zM20.6 616h7.4v2h-7.4zM117.4 616h5.0v2h-5.0zM139.7 616h2.5v2h-2.5zM432.5 616h7.4v2h-7.4zM62.8 618h2.5v2h-2.5zM80.2 618h12.4v2h-12.4zM129.8 618h2.5v2h-2.5zM157.1 618h7.4v2h-7.4zM432.5 618h2.5v2h-2.5zM437.5 618h2.5v2h-2.5zM10.7 620h5.0v2h-5.0zM20.6 620h7.4v2h-7.4zM40.5 620h2.5v2h-2.5zM206.7 620h2.5v2h-2.5zM231.5 620h2.5v2h-2.5zM427.5 620h7.4v2h-7.4zM437.5 620h2.5v2h-2.5zM30.6 622h2.5v2h-2.5zM35.5 622h2.5v2h-2.5zM55.4 622h2.5v2h-2.5zM82.7 622h7.4v2h-7.4zM112.4 622h5.0v2h-5.0zM124.8 622h2.5v2h-2.5zM139.7 622h5.0v2h-5.0zM206.7 622h2.5v2h-2.5zM283.6 622h5.0v2h-5.0zM380.4 622h2.5v2h-2.5zM427.5 622h5.0v2h-5.0zM437.5 622h2.5v2h-2.5zM0.8 624h2.5v2h-2.5zM18.2 624h5.0v2h-5.0zM30.6 624h2.5v2h-2.5zM40.5 624h2.5v2h-2.5zM50.4 624h5.0v2h-5.0zM80.2 624h2.5v2h-2.5zM95.1 624h5.0v2h-5.0zM105.0 624h2.5v2h-2.5zM114.9 624h2.5v2h-2.5zM157.1 624h2.5v2h-2.5zM199.3 624h2.5v2h-2.5zM415.1 624h5.0v2h-5.0zM432.5 624h5.0v2h-5.0zM3.3 626h5.0v2h-5.0zM38.0 626h2.5v2h-2.5zM107.5 626h2.5v2h-2.5zM149.7 626h2.5v2h-2.5zM435.0 626h2.5v2h-2.5zM10.7 628h14.9v2h-14.9zM33.1 628h5.0v2h-5.0zM52.9 628h2.5v2h-2.5zM77.7 628h7.4v2h-7.4zM117.4 628h5.0v2h-5.0zM129.8 628h2.5v2h-2.5zM139.7 628h2.5v2h-2.5zM154.6 628h2.5v2h-2.5zM189.4 628h2.5v2h-2.5zM330.8 628h2.5v2h-2.5zM375.4 628h5.0v2h-5.0zM427.5 628h2.5v2h-2.5zM432.5 628h5.0v2h-5.0zM0.8 630h5.0v2h-5.0zM18.2 630h2.5v2h-2.5zM23.1 630h2.5v2h-2.5zM50.4 630h2.5v2h-2.5zM102.5 630h2.5v2h-2.5zM119.9 630h2.5v2h-2.5zM427.5 630h2.5v2h-2.5zM432.5 630h2.5v2h-2.5zM5.8 632h5.0v2h-5.0zM28.1 632h2.5v2h-2.5zM82.7 632h2.5v2h-2.5zM164.5 632h2.5v2h-2.5zM201.8 632h2.5v2h-2.5zM377.9 632h2.5v2h-2.5zM427.5 632h12.4v2h-12.4zM5.8 634h5.0v2h-5.0zM23.1 634h2.5v2h-2.5zM52.9 634h5.0v2h-5.0zM97.6 634h2.5v2h-2.5zM102.5 634h2.5v2h-2.5zM164.5 634h2.5v2h-2.5zM211.7 634h2.5v2h-2.5zM427.5 634h12.4v2h-12.4zM55.4 636h5.0v2h-5.0zM112.4 636h2.5v2h-2.5zM427.5 636h2.5v2h-2.5zM432.5 636h7.4v2h-7.4zM23.1 638h5.0v2h-5.0zM95.1 638h2.5v2h-2.5zM112.4 638h7.4v2h-7.4zM162.1 638h7.4v2h-7.4zM239.0 638h2.5v2h-2.5zM358.1 638h2.5v2h-2.5zM370.5 638h2.5v2h-2.5zM377.9 638h2.5v2h-2.5zM427.5 638h7.4v2h-7.4zM437.5 638h2.5v2h-2.5zM55.4 640h5.0v2h-5.0zM77.7 640h2.5v2h-2.5zM127.3 640h5.0v2h-5.0zM134.8 640h5.0v2h-5.0zM199.3 640h5.0v2h-5.0zM206.7 640h2.5v2h-2.5zM358.1 640h2.5v2h-2.5zM427.5 640h2.5v2h-2.5zM432.5 640h7.4v2h-7.4zM442.4 640h5.0v2h-5.0zM8.2 642h2.5v2h-2.5zM25.6 642h5.0v2h-5.0zM100.0 642h5.0v2h-5.0zM129.8 642h2.5v2h-2.5zM157.1 642h2.5v2h-2.5zM206.7 642h2.5v2h-2.5zM224.1 642h5.0v2h-5.0zM301.0 642h2.5v2h-2.5zM387.8 642h2.5v2h-2.5zM405.2 642h7.4v2h-7.4zM435.0 642h2.5v2h-2.5zM45.5 644h2.5v2h-2.5zM214.2 644h7.4v2h-7.4zM301.0 644h5.0v2h-5.0zM320.8 644h2.5v2h-2.5zM358.1 644h2.5v2h-2.5zM395.3 644h2.5v2h-2.5zM410.2 644h2.5v2h-2.5zM427.5 644h12.4v2h-12.4zM80.2 646h2.5v2h-2.5zM214.2 646h2.5v2h-2.5zM306.0 646h2.5v2h-2.5zM370.5 646h2.5v2h-2.5zM77.7 648h2.5v2h-2.5zM191.8 648h2.5v2h-2.5zM209.2 648h2.5v2h-2.5zM216.6 648h2.5v2h-2.5zM221.6 648h5.0v2h-5.0zM301.0 648h7.4v2h-7.4zM360.5 648h2.5v2h-2.5zM380.4 648h9.9v2h-9.9zM427.5 648h5.0v2h-5.0zM435.0 648h5.0v2h-5.0zM28.1 650h2.5v2h-2.5zM70.3 650h2.5v2h-2.5zM102.5 650h2.5v2h-2.5zM283.6 650h5.0v2h-5.0zM293.6 650h2.5v2h-2.5zM306.0 650h2.5v2h-2.5zM380.4 650h2.5v2h-2.5zM427.5 650h12.4v2h-12.4zM452.3 650h2.5v2h-2.5zM77.7 652h2.5v2h-2.5zM82.7 652h2.5v2h-2.5zM224.1 652h5.0v2h-5.0zM291.1 652h9.9v2h-9.9zM358.1 652h2.5v2h-2.5zM380.4 652h5.0v2h-5.0zM395.3 652h5.0v2h-5.0zM435.0 652h2.5v2h-2.5z"/>
<path fill="#18c418" d="M23.1 380h5.0v2h-5.0zM107.5 380h5.0v2h-5.0zM149.7 380h2.5v2h-2.5zM248.9 380h2.5v2h-2.5zM363.0 380h2.5v2h-2.5zM20.6 382h2.5v2h-2.5zM97.6 382h2.5v2h-2.5zM226.6 382h7.4v2h-7.4zM281.2 382h2.5v2h-2.5zM8.2 384h2.5v2h-2.5zM147.2 386h2.5v2h-2.5zM283.6 388h2.5v2h-2.5zM226.6 390h2.5v2h-2.5zM62.8 406h2.5v2h-2.5zM372.9 406h5.0v2h-5.0zM65.3 408h2.5v2h-2.5zM8.2 410h2.5v2h-2.5zM23.1 410h2.5v2h-2.5zM40.5 410h9.9v2h-9.9zM60.3 410h7.4v2h-7.4zM77.7 410h2.5v2h-2.5zM85.2 410h2.5v2h-2.5zM105.0 410h2.5v2h-2.5zM114.9 410h7.4v2h-7.4zM154.6 410h2.5v2h-2.5zM159.6 410h5.0v2h-5.0zM174.5 410h2.5v2h-2.5zM184.4 410h2.5v2h-2.5zM204.2 410h2.5v2h-2.5zM224.1 410h2.5v2h-2.5zM239.0 410h5.0v2h-5.0zM246.4 410h9.9v2h-9.9zM266.3 410h5.0v2h-5.0zM281.2 410h2.5v2h-2.5zM313.4 410h5.0v2h-5.0zM328.3 410h9.9v2h-9.9zM340.7 410h2.5v2h-2.5zM345.7 410h9.9v2h-9.9zM392.8 410h2.5v2h-2.5zM400.2 410h5.0v2h-5.0zM427.5 410h2.5v2h-2.5zM432.5 410h5.0v2h-5.0zM449.9 410h7.4v2h-7.4zM464.7 410h2.5v2h-2.5zM229.1 412h7.4v2h-7.4zM375.4 412h2.5v2h-2.5zM395.3 412h7.4v2h-7.4zM43.0 414h5.0v2h-5.0zM67.8 414h5.0v2h-5.0zM107.5 414h5.0v2h-5.0zM117.4 414h5.0v2h-5.0zM410.2 414h9.9v2h-9.9zM422.6 414h2.5v2h-2.5zM439.9 414h5.0v2h-5.0zM454.8 414h7.4v2h-7.4zM477.2 414h14.9v2h-14.9zM35.5 416h2.5v2h-2.5zM65.3 416h5.0v2h-5.0zM75.2 416h2.5v2h-2.5zM87.6 416h2.5v2h-2.5zM95.1 416h2.5v2h-2.5zM102.5 416h5.0v2h-5.0zM114.9 416h2.5v2h-2.5zM206.7 416h2.5v2h-2.5zM395.3 416h2.5v2h-2.5zM407.7 416h2.5v2h-2.5zM430.0 416h2.5v2h-2.5zM467.2 416h5.0v2h-5.0zM477.2 416h2.5v2h-2.5zM487.1 416h2.5v2h-2.5zM70.3 418h2.5v2h-2.5zM119.9 418h2.5v2h-2.5zM256.3 418h2.5v2h-2.5zM467.2 418h17.4v2h-17.4zM494.5 418h2.5v2h-2.5zM10.7 420h2.5v2h-2.5zM80.2 420h2.5v2h-2.5zM169.5 420h2.5v2h-2.5zM186.9 420h2.5v2h-2.5zM221.6 420h5.0v2h-5.0zM167.0 422h2.5v2h-2.5zM179.4 422h5.0v2h-5.0zM196.8 422h5.0v2h-5.0zM239.0 422h2.5v2h-2.5zM243.9 422h5.0v2h-5.0zM263.8 422h7.4v2h-7.4zM273.7 422h2.5v2h-2.5zM385.4 422h5.0v2h-5.0zM412.6 422h2.5v2h-2.5zM449.9 422h2.5v2h-2.5zM181.9 424h2.5v2h-2.5zM18.2 426h2.5v2h-2.5zM75.2 426h2.5v2h-2.5zM85.2 426h2.5v2h-2.5zM127.3 426h2.5v2h-2.5zM449.9 436h2.5v2h-2.5zM50.4 440h2.5v2h-2.5zM65.3 442h2.5v2h-2.5zM152.1 442h2.5v2h-2.5zM333.3 442h2.5v2h-2.5zM457.3 442h7.4v2h-7.4zM487.1 442h9.9v2h-9.9zM169.5 444h7.4v2h-7.4zM214.2 444h2.5v2h-2.5zM231.5 444h5.0v2h-5.0zM239.0 444h2.5v2h-2.5zM278.7 444h2.5v2h-2.5zM390.3 444h2.5v2h-2.5zM459.8 444h2.5v2h-2.5zM464.7 444h5.0v2h-5.0zM474.7 444h7.4v2h-7.4zM484.6 444h2.5v2h-2.5zM492.0 444h5.0v2h-5.0zM256.3 446h2.5v2h-2.5zM452.3 446h9.9v2h-9.9zM469.7 446h2.5v2h-2.5zM474.7 446h2.5v2h-2.5zM487.1 446h2.5v2h-2.5zM62.8 448h2.5v2h-2.5zM243.9 448h2.5v2h-2.5zM248.9 448h2.5v2h-2.5zM395.3 448h2.5v2h-2.5zM462.3 448h2.5v2h-2.5zM395.3 450h2.5v2h-2.5zM439.9 450h2.5v2h-2.5zM454.8 450h2.5v2h-2.5zM464.7 450h5.0v2h-5.0zM474.7 450h2.5v2h-2.5zM489.6 450h2.5v2h-2.5zM494.5 450h2.5v2h-2.5zM395.3 452h2.5v2h-2.5zM410.2 452h5.0v2h-5.0zM214.2 454h2.5v2h-2.5zM226.6 454h2.5v2h-2.5zM266.3 454h2.5v2h-2.5zM439.9 454h2.5v2h-2.5zM444.9 454h7.4v2h-7.4zM457.3 454h2.5v2h-2.5zM464.7 454h7.4v2h-7.4zM219.1 456h2.5v2h-2.5zM323.3 456h7.4v2h-7.4zM442.4 456h2.5v2h-2.5zM477.2 456h2.5v2h-2.5zM442.4 458h7.4v2h-7.4zM90.1 460h2.5v2h-2.5zM186.9 460h2.5v2h-2.5zM301.0 460h2.5v2h-2.5zM350.6 460h2.5v2h-2.5zM370.5 460h5.0v2h-5.0zM449.9 460h7.4v2h-7.4zM459.8 460h5.0v2h-5.0zM335.7 464h2.5v2h-2.5zM462.3 466h5.0v2h-5.0zM236.5 468h2.5v2h-2.5zM286.1 468h2.5v2h-2.5zM179.4 470h2.5v2h-2.5zM442.4 470h2.5v2h-2.5zM477.2 470h2.5v2h-2.5zM276.2 472h5.0v2h-5.0zM457.3 472h2.5v2h-2.5zM62.8 474h5.0v2h-5.0zM397.8 474h2.5v2h-2.5zM95.1 476h2.5v2h-2.5zM105.0 476h5.0v2h-5.0zM119.9 476h5.0v2h-5.0zM127.3 476h2.5v2h-2.5zM157.1 476h2.5v2h-2.5zM296.0 476h2.5v2h-2.5zM385.4 476h5.0v2h-5.0zM112.4 478h2.5v2h-2.5zM358.1 478h2.5v2h-2.5zM363.0 480h5.0v2h-5.0zM372.9 480h2.5v2h-2.5zM462.3 480h2.5v2h-2.5zM489.6 480h2.5v2h-2.5zM219.1 482h7.4v2h-7.4zM65.3 484h2.5v2h-2.5zM127.3 486h2.5v2h-2.5zM189.4 486h5.0v2h-5.0zM95.1 488h2.5v2h-2.5zM328.3 488h2.5v2h-2.5zM348.1 494h2.5v2h-2.5zM62.8 498h2.5v2h-2.5zM447.4 504h2.5v2h-2.5zM256.3 508h2.5v2h-2.5zM452.3 508h2.5v2h-2.5zM248.9 510h5.0v2h-5.0zM325.8 510h5.0v2h-5.0zM87.6 512h5.0v2h-5.0zM430.0 512h2.5v2h-2.5zM13.2 514h2.5v2h-2.5zM482.1 518h2.5v2h-2.5zM28.1 520h2.5v2h-2.5zM105.0 520h2.5v2h-2.5zM172.0 520h2.5v2h-2.5zM194.3 520h2.5v2h-2.5zM201.8 520h9.9v2h-9.9zM246.4 520h5.0v2h-5.0zM256.3 520h5.0v2h-5.0zM283.6 520h5.0v2h-5.0zM291.1 520h2.5v2h-2.5zM298.5 520h2.5v2h-2.5zM306.0 520h2.5v2h-2.5zM315.9 520h5.0v2h-5.0zM325.8 520h2.5v2h-2.5zM333.3 520h5.0v2h-5.0zM343.2 520h2.5v2h-2.5zM358.1 520h2.5v2h-2.5zM363.0 520h5.0v2h-5.0zM372.9 520h2.5v2h-2.5zM380.4 520h2.5v2h-2.5zM392.8 520h9.9v2h-9.9zM412.6 520h2.5v2h-2.5zM417.6 520h5.0v2h-5.0zM425.1 520h2.5v2h-2.5zM454.8 520h2.5v2h-2.5zM462.3 520h2.5v2h-2.5zM474.7 520h2.5v2h-2.5zM484.6 520h5.0v2h-5.0zM28.1 522h2.5v2h-2.5zM179.4 522h2.5v2h-2.5zM186.9 522h2.5v2h-2.5zM219.1 522h2.5v2h-2.5zM293.6 522h2.5v2h-2.5zM301.0 522h7.4v2h-7.4zM353.1 522h2.5v2h-2.5zM432.5 522h5.0v2h-5.0zM72.7 524h7.4v2h-7.4zM157.1 524h9.9v2h-9.9zM258.8 524h2.5v2h-2.5zM298.5 524h2.5v2h-2.5zM459.8 524h2.5v2h-2.5zM489.6 524h2.5v2h-2.5zM15.7 526h2.5v2h-2.5zM23.1 526h2.5v2h-2.5zM28.1 526h2.5v2h-2.5zM50.4 526h2.5v2h-2.5zM72.7 526h2.5v2h-2.5zM110.0 526h5.0v2h-5.0zM119.9 526h12.4v2h-12.4zM134.8 526h2.5v2h-2.5zM144.7 526h2.5v2h-2.5zM164.5 526h5.0v2h-5.0zM201.8 526h2.5v2h-2.5zM206.7 526h2.5v2h-2.5zM239.0 526h2.5v2h-2.5zM301.0 526h7.4v2h-7.4zM313.4 526h2.5v2h-2.5zM345.7 526h5.0v2h-5.0zM390.3 526h2.5v2h-2.5zM400.2 526h5.0v2h-5.0zM439.9 526h2.5v2h-2.5zM447.4 526h2.5v2h-2.5zM452.3 526h2.5v2h-2.5zM469.7 526h2.5v2h-2.5zM477.2 526h2.5v2h-2.5zM3.3 528h5.0v2h-5.0zM33.1 528h2.5v2h-2.5zM38.0 528h2.5v2h-2.5zM45.5 528h2.5v2h-2.5zM75.2 528h2.5v2h-2.5zM114.9 528h2.5v2h-2.5zM149.7 528h5.0v2h-5.0zM239.0 528h5.0v2h-5.0zM308.4 528h2.5v2h-2.5zM435.0 528h5.0v2h-5.0zM442.4 528h2.5v2h-2.5zM447.4 528h2.5v2h-2.5zM489.6 528h2.5v2h-2.5zM10.7 530h5.0v2h-5.0zM18.2 530h9.9v2h-9.9zM35.5 530h9.9v2h-9.9zM47.9 530h2.5v2h-2.5zM85.2 530h2.5v2h-2.5zM149.7 530h2.5v2h-2.5zM154.6 530h2.5v2h-2.5zM189.4 530h2.5v2h-2.5zM241.5 530h2.5v2h-2.5zM248.9 530h2.5v2h-2.5zM286.1 530h2.5v2h-2.5zM340.7 530h2.5v2h-2.5zM427.5 530h2.5v2h-2.5zM439.9 530h2.5v2h-2.5zM447.4 530h2.5v2h-2.5zM469.7 530h2.5v2h-2.5zM474.7 530h5.0v2h-5.0zM8.2 532h5.0v2h-5.0zM70.3 532h2.5v2h-2.5zM92.6 532h5.0v2h-5.0zM100.0 532h2.5v2h-2.5zM152.1 532h2.5v2h-2.5zM348.1 532h2.5v2h-2.5zM360.5 532h2.5v2h-2.5zM479.6 532h2.5v2h-2.5zM492.0 532h2.5v2h-2.5zM8.2 534h12.4v2h-12.4zM55.4 534h2.5v2h-2.5zM107.5 534h2.5v2h-2.5zM127.3 534h5.0v2h-5.0zM137.3 534h2.5v2h-2.5zM149.7 534h5.0v2h-5.0zM201.8 534h7.4v2h-7.4zM251.4 534h5.0v2h-5.0zM368.0 534h2.5v2h-2.5zM392.8 534h2.5v2h-2.5zM430.0 534h2.5v2h-2.5zM435.0 534h2.5v2h-2.5zM442.4 534h7.4v2h-7.4zM462.3 534h2.5v2h-2.5zM477.2 534h7.4v2h-7.4zM489.6 534h2.5v2h-2.5zM13.2 536h2.5v2h-2.5zM18.2 536h2.5v2h-2.5zM95.1 536h2.5v2h-2.5zM134.8 536h2.5v2h-2.5zM209.2 536h2.5v2h-2.5zM353.1 536h2.5v2h-2.5zM368.0 536h2.5v2h-2.5zM405.2 536h5.0v2h-5.0zM435.0 536h5.0v2h-5.0zM467.2 536h2.5v2h-2.5zM0.8 538h2.5v2h-2.5zM5.8 538h2.5v2h-2.5zM28.1 538h2.5v2h-2.5zM50.4 538h2.5v2h-2.5zM72.7 538h5.0v2h-5.0zM80.2 538h14.9v2h-14.9zM107.5 538h2.5v2h-2.5zM149.7 538h2.5v2h-2.5zM157.1 538h2.5v2h-2.5zM162.1 538h2.5v2h-2.5zM214.2 538h2.5v2h-2.5zM318.4 538h2.5v2h-2.5zM402.7 538h5.0v2h-5.0zM454.8 538h7.4v2h-7.4zM469.7 538h2.5v2h-2.5zM489.6 538h5.0v2h-5.0zM45.5 540h5.0v2h-5.0zM80.2 540h2.5v2h-2.5zM85.2 540h2.5v2h-2.5zM137.3 540h7.4v2h-7.4zM159.6 540h2.5v2h-2.5zM268.7 540h2.5v2h-2.5zM288.6 540h2.5v2h-2.5zM315.9 540h2.5v2h-2.5zM355.6 540h2.5v2h-2.5zM360.5 540h5.0v2h-5.0zM390.3 540h7.4v2h-7.4zM444.9 540h2.5v2h-2.5zM449.9 540h2.5v2h-2.5zM454.8 540h2.5v2h-2.5zM462.3 540h2.5v2h-2.5zM467.2 540h2.5v2h-2.5zM472.2 540h7.4v2h-7.4zM30.6 542h5.0v2h-5.0zM191.8 542h2.5v2h-2.5zM306.0 542h2.5v2h-2.5zM313.4 542h7.4v2h-7.4zM350.6 542h2.5v2h-2.5zM372.9 542h2.5v2h-2.5zM395.3 542h2.5v2h-2.5zM444.9 542h2.5v2h-2.5zM452.3 542h2.5v2h-2.5zM474.7 542h5.0v2h-5.0zM482.1 542h5.0v2h-5.0zM149.7 544h2.5v2h-2.5zM179.4 544h2.5v2h-2.5zM310.9 544h2.5v2h-2.5zM397.8 544h2.5v2h-2.5zM427.5 544h2.5v2h-2.5zM437.5 544h2.5v2h-2.5zM442.4 544h2.5v2h-2.5zM452.3 544h9.9v2h-9.9zM477.2 544h2.5v2h-2.5zM353.1 546h2.5v2h-2.5zM375.4 546h5.0v2h-5.0zM407.7 546h2.5v2h-2.5zM420.1 546h2.5v2h-2.5zM427.5 546h2.5v2h-2.5zM444.9 546h9.9v2h-9.9zM472.2 546h5.0v2h-5.0zM487.1 546h7.4v2h-7.4zM47.9 548h5.0v2h-5.0zM281.2 548h2.5v2h-2.5zM288.6 548h2.5v2h-2.5zM303.5 548h2.5v2h-2.5zM328.3 548h2.5v2h-2.5zM377.9 548h2.5v2h-2.5zM449.9 548h7.4v2h-7.4zM484.6 548h7.4v2h-7.4zM494.5 548h2.5v2h-2.5zM40.5 550h2.5v2h-2.5zM105.0 550h7.4v2h-7.4zM263.8 550h2.5v2h-2.5zM283.6 550h2.5v2h-2.5zM325.8 550h2.5v2h-2.5zM338.2 550h2.5v2h-2.5zM350.6 550h2.5v2h-2.5zM360.5 550h5.0v2h-5.0zM400.2 550h2.5v2h-2.5zM422.6 550h2.5v2h-2.5zM427.5 550h9.9v2h-9.9zM439.9 550h2.5v2h-2.5zM454.8 550h5.0v2h-5.0zM494.5 550h2.5v2h-2.5zM8.2 552h2.5v2h-2.5zM144.7 552h2.5v2h-2.5zM258.8 552h5.0v2h-5.0zM323.3 552h7.4v2h-7.4zM350.6 552h5.0v2h-5.0zM372.9 552h2.5v2h-2.5zM387.8 552h2.5v2h-2.5zM392.8 552h2.5v2h-2.5zM400.2 552h2.5v2h-2.5zM437.5 552h2.5v2h-2.5zM449.9 552h2.5v2h-2.5zM462.3 552h2.5v2h-2.5zM472.2 552h7.4v2h-7.4zM484.6 552h9.9v2h-9.9zM25.6 554h2.5v2h-2.5zM45.5 554h2.5v2h-2.5zM147.2 554h2.5v2h-2.5zM177.0 554h2.5v2h-2.5zM310.9 554h5.0v2h-5.0zM387.8 554h5.0v2h-5.0zM410.2 554h2.5v2h-2.5zM420.1 554h2.5v2h-2.5zM442.4 554h2.5v2h-2.5zM447.4 554h7.4v2h-7.4zM457.3 554h7.4v2h-7.4zM489.6 554h2.5v2h-2.5zM110.0 556h2.5v2h-2.5zM132.3 556h2.5v2h-2.5zM164.5 556h2.5v2h-2.5zM184.4 556h7.4v2h-7.4zM194.3 556h2.5v2h-2.5zM199.3 556h2.5v2h-2.5zM306.0 556h2.5v2h-2.5zM325.8 556h2.5v2h-2.5zM333.3 556h2.5v2h-2.5zM377.9 556h2.5v2h-2.5zM397.8 556h2.5v2h-2.5zM402.7 556h7.4v2h-7.4zM430.0 556h5.0v2h-5.0zM437.5 556h2.5v2h-2.5zM452.3 556h2.5v2h-2.5zM459.8 556h2.5v2h-2.5zM467.2 556h2.5v2h-2.5zM0.8 558h2.5v2h-2.5zM43.0 558h2.5v2h-2.5zM47.9 558h2.5v2h-2.5zM134.8 558h5.0v2h-5.0zM152.1 558h2.5v2h-2.5zM256.3 558h2.5v2h-2.5zM303.5 558h7.4v2h-7.4zM320.8 558h5.0v2h-5.0zM328.3 558h2.5v2h-2.5zM333.3 558h2.5v2h-2.5zM385.4 558h12.4v2h-12.4zM402.7 558h2.5v2h-2.5zM415.1 558h5.0v2h-5.0zM422.6 558h2.5v2h-2.5zM439.9 558h2.5v2h-2.5zM469.7 558h7.4v2h-7.4zM482.1 558h2.5v2h-2.5zM186.9 560h2.5v2h-2.5zM400.2 560h2.5v2h-2.5zM415.1 560h2.5v2h-2.5zM432.5 560h5.0v2h-5.0zM474.7 560h2.5v2h-2.5zM492.0 560h2.5v2h-2.5zM23.1 562h7.4v2h-7.4zM35.5 562h2.5v2h-2.5zM50.4 562h2.5v2h-2.5zM60.3 562h2.5v2h-2.5zM70.3 562h7.4v2h-7.4zM80.2 562h2.5v2h-2.5zM87.6 562h2.5v2h-2.5zM117.4 562h2.5v2h-2.5zM152.1 562h2.5v2h-2.5zM392.8 562h2.5v2h-2.5zM400.2 562h5.0v2h-5.0zM407.7 562h7.4v2h-7.4zM422.6 562h2.5v2h-2.5zM427.5 562h7.4v2h-7.4zM437.5 562h2.5v2h-2.5zM457.3 562h2.5v2h-2.5zM474.7 562h2.5v2h-2.5zM487.1 562h5.0v2h-5.0zM10.7 564h9.9v2h-9.9zM50.4 564h2.5v2h-2.5zM57.9 564h2.5v2h-2.5zM117.4 564h2.5v2h-2.5zM147.2 564h2.5v2h-2.5zM177.0 564h5.0v2h-5.0zM186.9 564h2.5v2h-2.5zM211.7 564h7.4v2h-7.4zM437.5 564h5.0v2h-5.0zM479.6 564h5.0v2h-5.0zM10.7 566h2.5v2h-2.5zM15.7 566h2.5v2h-2.5zM65.3 566h2.5v2h-2.5zM70.3 566h12.4v2h-12.4zM117.4 566h2.5v2h-2.5zM400.2 566h2.5v2h-2.5zM407.7 566h2.5v2h-2.5zM412.6 566h5.0v2h-5.0zM427.5 566h5.0v2h-5.0zM437.5 566h5.0v2h-5.0zM444.9 566h5.0v2h-5.0zM454.8 566h2.5v2h-2.5zM477.2 566h2.5v2h-2.5zM330.8 568h2.5v2h-2.5zM372.9 568h2.5v2h-2.5zM427.5 568h2.5v2h-2.5zM479.6 568h2.5v2h-2.5zM60.3 570h2.5v2h-2.5zM132.3 570h2.5v2h-2.5zM174.5 570h5.0v2h-5.0zM363.0 570h2.5v2h-2.5zM377.9 570h2.5v2h-2.5zM430.0 570h2.5v2h-2.5zM437.5 570h2.5v2h-2.5zM449.9 570h5.0v2h-5.0zM482.1 570h5.0v2h-5.0zM489.6 570h5.0v2h-5.0zM92.6 572h5.0v2h-5.0zM382.9 572h2.5v2h-2.5zM387.8 572h2.5v2h-2.5zM410.2 572h2.5v2h-2.5zM415.1 572h5.0v2h-5.0zM427.5 572h5.0v2h-5.0zM435.0 572h2.5v2h-2.5zM457.3 572h2.5v2h-2.5zM464.7 572h5.0v2h-5.0zM482.1 572h7.4v2h-7.4zM25.6 574h5.0v2h-5.0zM65.3 574h5.0v2h-5.0zM102.5 574h12.4v2h-12.4zM137.3 574h2.5v2h-2.5zM142.2 574h2.5v2h-2.5zM147.2 574h2.5v2h-2.5zM154.6 574h9.9v2h-9.9zM184.4 574h2.5v2h-2.5zM241.5 574h2.5v2h-2.5zM271.2 574h2.5v2h-2.5zM278.7 574h5.0v2h-5.0zM315.9 574h2.5v2h-2.5zM330.8 574h2.5v2h-2.5zM442.4 574h2.5v2h-2.5zM482.1 574h2.5v2h-2.5zM487.1 574h2.5v2h-2.5zM494.5 574h2.5v2h-2.5zM95.1 576h5.0v2h-5.0zM110.0 576h2.5v2h-2.5zM122.4 576h7.4v2h-7.4zM134.8 576h2.5v2h-2.5zM139.7 576h2.5v2h-2.5zM149.7 576h5.0v2h-5.0zM201.8 576h5.0v2h-5.0zM239.0 576h7.4v2h-7.4zM268.7 576h5.0v2h-5.0zM278.7 576h2.5v2h-2.5zM385.4 576h5.0v2h-5.0zM405.2 576h2.5v2h-2.5zM427.5 576h2.5v2h-2.5zM432.5 576h5.0v2h-5.0zM442.4 576h2.5v2h-2.5zM462.3 576h5.0v2h-5.0zM20.6 578h5.0v2h-5.0zM85.2 578h2.5v2h-2.5zM95.1 578h7.4v2h-7.4zM110.0 578h2.5v2h-2.5zM129.8 578h2.5v2h-2.5zM134.8 578h12.4v2h-12.4zM241.5 578h5.0v2h-5.0zM266.3 578h7.4v2h-7.4zM276.2 578h5.0v2h-5.0zM301.0 578h2.5v2h-2.5zM333.3 578h2.5v2h-2.5zM350.6 578h2.5v2h-2.5zM365.5 578h2.5v2h-2.5zM395.3 578h9.9v2h-9.9zM420.1 578h2.5v2h-2.5zM439.9 578h5.0v2h-5.0zM447.4 578h2.5v2h-2.5zM459.8 578h2.5v2h-2.5zM472.2 578h5.0v2h-5.0zM85.2 580h2.5v2h-2.5zM95.1 580h9.9v2h-9.9zM107.5 580h5.0v2h-5.0zM127.3 580h7.4v2h-7.4zM162.1 580h5.0v2h-5.0zM211.7 580h2.5v2h-2.5zM268.7 580h2.5v2h-2.5zM273.7 580h2.5v2h-2.5zM397.8 580h2.5v2h-2.5zM402.7 580h2.5v2h-2.5zM107.5 582h7.4v2h-7.4zM119.9 582h2.5v2h-2.5zM127.3 582h2.5v2h-2.5zM139.7 582h2.5v2h-2.5zM147.2 582h2.5v2h-2.5zM152.1 582h2.5v2h-2.5zM164.5 582h2.5v2h-2.5zM169.5 582h5.0v2h-5.0zM184.4 582h2.5v2h-2.5zM273.7 582h2.5v2h-2.5zM301.0 582h2.5v2h-2.5zM306.0 582h2.5v2h-2.5zM340.7 582h5.0v2h-5.0zM350.6 582h5.0v2h-5.0zM395.3 582h5.0v2h-5.0zM95.1 584h2.5v2h-2.5zM105.0 584h5.0v2h-5.0zM117.4 584h2.5v2h-2.5zM152.1 584h7.4v2h-7.4zM167.0 584h2.5v2h-2.5zM266.3 584h2.5v2h-2.5zM291.1 584h2.5v2h-2.5zM301.0 584h7.4v2h-7.4zM335.7 584h2.5v2h-2.5zM370.5 584h5.0v2h-5.0zM377.9 584h2.5v2h-2.5zM387.8 584h2.5v2h-2.5zM415.1 584h5.0v2h-5.0zM427.5 584h2.5v2h-2.5zM435.0 584h2.5v2h-2.5zM45.5 586h5.0v2h-5.0zM62.8 586h2.5v2h-2.5zM105.0 586h2.5v2h-2.5zM117.4 586h2.5v2h-2.5zM147.2 586h7.4v2h-7.4zM157.1 586h5.0v2h-5.0zM164.5 586h9.9v2h-9.9zM271.2 586h2.5v2h-2.5zM288.6 586h2.5v2h-2.5zM306.0 586h2.5v2h-2.5zM323.3 586h2.5v2h-2.5zM333.3 586h2.5v2h-2.5zM340.7 586h9.9v2h-9.9zM368.0 586h2.5v2h-2.5zM372.9 586h2.5v2h-2.5zM452.3 586h2.5v2h-2.5zM20.6 588h9.9v2h-9.9zM33.1 588h12.4v2h-12.4zM50.4 588h5.0v2h-5.0zM70.3 588h2.5v2h-2.5zM90.1 588h2.5v2h-2.5zM112.4 588h2.5v2h-2.5zM119.9 588h7.4v2h-7.4zM181.9 588h7.4v2h-7.4zM199.3 588h2.5v2h-2.5zM246.4 588h2.5v2h-2.5zM278.7 588h2.5v2h-2.5zM410.2 588h5.0v2h-5.0zM435.0 588h2.5v2h-2.5zM15.7 590h7.4v2h-7.4zM35.5 590h5.0v2h-5.0zM50.4 590h2.5v2h-2.5zM62.8 590h9.9v2h-9.9zM75.2 590h2.5v2h-2.5zM90.1 590h5.0v2h-5.0zM114.9 590h5.0v2h-5.0zM124.8 590h2.5v2h-2.5zM144.7 590h2.5v2h-2.5zM149.7 590h2.5v2h-2.5zM194.3 590h2.5v2h-2.5zM288.6 590h2.5v2h-2.5zM310.9 590h2.5v2h-2.5zM328.3 590h2.5v2h-2.5zM360.5 590h5.0v2h-5.0zM390.3 590h2.5v2h-2.5zM395.3 590h2.5v2h-2.5zM417.6 590h2.5v2h-2.5zM427.5 590h5.0v2h-5.0zM479.6 590h5.0v2h-5.0zM487.1 590h7.4v2h-7.4zM25.6 592h5.0v2h-5.0zM35.5 592h5.0v2h-5.0zM52.9 592h5.0v2h-5.0zM87.6 592h2.5v2h-2.5zM219.1 592h2.5v2h-2.5zM239.0 592h2.5v2h-2.5zM286.1 592h2.5v2h-2.5zM315.9 592h2.5v2h-2.5zM323.3 592h2.5v2h-2.5zM360.5 592h2.5v2h-2.5zM365.5 592h2.5v2h-2.5zM410.2 592h2.5v2h-2.5zM427.5 592h2.5v2h-2.5zM454.8 592h2.5v2h-2.5zM20.6 594h2.5v2h-2.5zM28.1 594h2.5v2h-2.5zM33.1 594h5.0v2h-5.0zM62.8 594h7.4v2h-7.4zM87.6 594h2.5v2h-2.5zM97.6 594h9.9v2h-9.9zM114.9 594h12.4v2h-12.4zM134.8 594h2.5v2h-2.5zM139.7 594h2.5v2h-2.5zM147.2 594h2.5v2h-2.5zM241.5 594h5.0v2h-5.0zM283.6 594h2.5v2h-2.5zM328.3 594h7.4v2h-7.4zM397.8 594h2.5v2h-2.5zM402.7 594h5.0v2h-5.0zM415.1 594h2.5v2h-2.5zM449.9 594h9.9v2h-9.9zM482.1 594h5.0v2h-5.0zM318.4 596h2.5v2h-2.5zM457.3 596h2.5v2h-2.5zM494.5 596h2.5v2h-2.5zM72.7 598h2.5v2h-2.5zM77.7 598h2.5v2h-2.5zM82.7 598h2.5v2h-2.5zM112.4 598h5.0v2h-5.0zM147.2 598h2.5v2h-2.5zM164.5 598h2.5v2h-2.5zM219.1 598h7.4v2h-7.4zM276.2 598h5.0v2h-5.0zM313.4 598h2.5v2h-2.5zM320.8 598h7.4v2h-7.4zM335.7 598h2.5v2h-2.5zM355.6 598h9.9v2h-9.9zM387.8 598h2.5v2h-2.5zM400.2 598h2.5v2h-2.5zM464.7 598h5.0v2h-5.0zM484.6 598h2.5v2h-2.5zM489.6 598h2.5v2h-2.5zM3.3 600h2.5v2h-2.5zM82.7 600h7.4v2h-7.4zM95.1 600h2.5v2h-2.5zM162.1 600h2.5v2h-2.5zM209.2 600h2.5v2h-2.5zM219.1 600h5.0v2h-5.0zM296.0 600h2.5v2h-2.5zM308.4 600h5.0v2h-5.0zM430.0 600h5.0v2h-5.0zM437.5 600h2.5v2h-2.5zM479.6 600h2.5v2h-2.5zM484.6 600h5.0v2h-5.0zM492.0 600h2.5v2h-2.5zM67.8 602h2.5v2h-2.5zM77.7 602h14.9v2h-14.9zM110.0 602h2.5v2h-2.5zM124.8 602h5.0v2h-5.0zM184.4 602h2.5v2h-2.5zM199.3 602h5.0v2h-5.0zM239.0 602h7.4v2h-7.4zM348.1 602h2.5v2h-2.5zM400.2 602h7.4v2h-7.4zM430.0 602h2.5v2h-2.5zM479.6 602h2.5v2h-2.5zM60.3 604h2.5v2h-2.5zM80.2 604h2.5v2h-2.5zM90.1 604h5.0v2h-5.0zM105.0 604h2.5v2h-2.5zM119.9 604h2.5v2h-2.5zM124.8 604h2.5v2h-2.5zM199.3 604h5.0v2h-5.0zM360.5 604h2.5v2h-2.5zM380.4 604h2.5v2h-2.5zM67.8 606h2.5v2h-2.5zM117.4 606h2.5v2h-2.5zM241.5 606h2.5v2h-2.5zM298.5 606h2.5v2h-2.5zM435.0 606h2.5v2h-2.5zM60.3 608h7.4v2h-7.4zM243.9 608h5.0v2h-5.0zM340.7 608h2.5v2h-2.5zM368.0 608h2.5v2h-2.5zM3.3 610h2.5v2h-2.5zM62.8 610h5.0v2h-5.0zM157.1 610h2.5v2h-2.5zM281.2 610h2.5v2h-2.5zM417.6 610h2.5v2h-2.5zM427.5 610h2.5v2h-2.5zM437.5 610h2.5v2h-2.5zM10.7 612h2.5v2h-2.5zM23.1 612h5.0v2h-5.0zM30.6 612h2.5v2h-2.5zM72.7 612h2.5v2h-2.5zM77.7 612h5.0v2h-5.0zM85.2 612h2.5v2h-2.5zM95.1 612h7.4v2h-7.4zM114.9 612h2.5v2h-2.5zM119.9 612h9.9v2h-9.9zM281.2 612h2.5v2h-2.5zM370.5 612h5.0v2h-5.0zM435.0 612h2.5v2h-2.5zM15.7 614h5.0v2h-5.0zM43.0 614h2.5v2h-2.5zM72.7 614h5.0v2h-5.0zM85.2 614h2.5v2h-2.5zM105.0 614h7.4v2h-7.4zM114.9 614h5.0v2h-5.0zM154.6 614h5.0v2h-5.0zM288.6 614h2.5v2h-2.5zM412.6 614h2.5v2h-2.5zM435.0 614h5.0v2h-5.0zM57.9 616h2.5v2h-2.5zM75.2 616h7.4v2h-7.4zM149.7 616h2.5v2h-2.5zM206.7 616h2.5v2h-2.5zM427.5 616h5.0v2h-5.0zM0.8 618h5.0v2h-5.0zM77.7 618h2.5v2h-2.5zM92.6 618h2.5v2h-2.5zM97.6 618h2.5v2h-2.5zM107.5 618h2.5v2h-2.5zM177.0 618h2.5v2h-2.5zM286.1 618h2.5v2h-2.5zM427.5 618h5.0v2h-5.0zM28.1 620h2.5v2h-2.5zM35.5 620h2.5v2h-2.5zM60.3 620h9.9v2h-9.9zM87.6 620h2.5v2h-2.5zM127.3 620h2.5v2h-2.5zM355.6 620h2.5v2h-2.5zM435.0 620h2.5v2h-2.5zM5.8 622h12.4v2h-12.4zM23.1 622h7.4v2h-7.4zM40.5 622h2.5v2h-2.5zM57.9 622h2.5v2h-2.5zM90.1 622h2.5v2h-2.5zM95.1 622h2.5v2h-2.5zM100.0 622h2.5v2h-2.5zM105.0 622h7.4v2h-7.4zM119.9 622h5.0v2h-5.0zM129.8 622h2.5v2h-2.5zM169.5 622h2.5v2h-2.5zM194.3 622h12.4v2h-12.4zM236.5 622h2.5v2h-2.5zM410.2 622h2.5v2h-2.5zM432.5 622h5.0v2h-5.0zM3.3 624h2.5v2h-2.5zM10.7 624h2.5v2h-2.5zM15.7 624h2.5v2h-2.5zM23.1 624h5.0v2h-5.0zM33.1 624h2.5v2h-2.5zM47.9 624h2.5v2h-2.5zM72.7 624h5.0v2h-5.0zM87.6 624h2.5v2h-2.5zM107.5 624h5.0v2h-5.0zM117.4 624h2.5v2h-2.5zM127.3 624h7.4v2h-7.4zM137.3 624h2.5v2h-2.5zM142.2 624h5.0v2h-5.0zM196.8 624h2.5v2h-2.5zM328.3 624h2.5v2h-2.5zM360.5 624h2.5v2h-2.5zM387.8 624h2.5v2h-2.5zM397.8 624h2.5v2h-2.5zM410.2 624h5.0v2h-5.0zM427.5 624h5.0v2h-5.0zM437.5 624h2.5v2h-2.5zM50.4 626h2.5v2h-2.5zM65.3 626h2.5v2h-2.5zM142.2 626h2.5v2h-2.5zM154.6 626h2.5v2h-2.5zM310.9 626h2.5v2h-2.5zM377.9 626h2.5v2h-2.5zM382.9 626h2.5v2h-2.5zM437.5 626h2.5v2h-2.5zM0.8 628h5.0v2h-5.0zM8.2 628h2.5v2h-2.5zM30.6 628h2.5v2h-2.5zM40.5 628h7.4v2h-7.4zM55.4 628h5.0v2h-5.0zM97.6 628h12.4v2h-12.4zM134.8 628h5.0v2h-5.0zM142.2 628h9.9v2h-9.9zM157.1 628h2.5v2h-2.5zM199.3 628h2.5v2h-2.5zM251.4 628h2.5v2h-2.5zM283.6 628h2.5v2h-2.5zM288.6 628h2.5v2h-2.5zM402.7 628h2.5v2h-2.5zM410.2 628h5.0v2h-5.0zM430.0 628h2.5v2h-2.5zM437.5 628h2.5v2h-2.5zM70.3 630h5.0v2h-5.0zM122.4 630h2.5v2h-2.5zM199.3 630h2.5v2h-2.5zM430.0 630h2.5v2h-2.5zM435.0 630h5.0v2h-5.0zM15.7 632h2.5v2h-2.5zM30.6 632h2.5v2h-2.5zM75.2 632h2.5v2h-2.5zM80.2 632h2.5v2h-2.5zM85.2 632h2.5v2h-2.5zM112.4 632h9.9v2h-9.9zM162.1 632h2.5v2h-2.5zM422.6 632h5.0v2h-5.0zM10.7 634h2.5v2h-2.5zM15.7 634h2.5v2h-2.5zM28.1 634h2.5v2h-2.5zM70.3 634h5.0v2h-5.0zM77.7 634h9.9v2h-9.9zM107.5 634h2.5v2h-2.5zM119.9 634h2.5v2h-2.5zM129.8 634h7.4v2h-7.4zM139.7 634h2.5v2h-2.5zM147.2 634h2.5v2h-2.5zM330.8 634h5.0v2h-5.0zM0.8 636h2.5v2h-2.5zM28.1 636h2.5v2h-2.5zM70.3 636h7.4v2h-7.4zM87.6 636h5.0v2h-5.0zM281.2 636h2.5v2h-2.5zM430.0 636h2.5v2h-2.5zM0.8 638h9.9v2h-9.9zM15.7 638h7.4v2h-7.4zM50.4 638h2.5v2h-2.5zM70.3 638h2.5v2h-2.5zM82.7 638h5.0v2h-5.0zM107.5 638h5.0v2h-5.0zM132.3 638h2.5v2h-2.5zM199.3 638h5.0v2h-5.0zM283.6 638h2.5v2h-2.5zM306.0 638h2.5v2h-2.5zM380.4 638h5.0v2h-5.0zM10.7 640h2.5v2h-2.5zM70.3 640h2.5v2h-2.5zM112.4 640h2.5v2h-2.5zM370.5 640h2.5v2h-2.5zM3.3 642h2.5v2h-2.5zM33.1 642h2.5v2h-2.5zM50.4 642h2.5v2h-2.5zM70.3 642h2.5v2h-2.5zM82.7 642h2.5v2h-2.5zM105.0 642h2.5v2h-2.5zM162.1 642h2.5v2h-2.5zM174.5 642h5.0v2h-5.0zM204.2 642h2.5v2h-2.5zM216.6 642h7.4v2h-7.4zM276.2 642h2.5v2h-2.5zM283.6 642h5.0v2h-5.0zM427.5 642h7.4v2h-7.4zM437.5 642h5.0v2h-5.0zM70.3 644h2.5v2h-2.5zM77.7 644h5.0v2h-5.0zM179.4 644h5.0v2h-5.0zM201.8 644h2.5v2h-2.5zM333.3 644h2.5v2h-2.5zM363.0 644h2.5v2h-2.5zM368.0 644h5.0v2h-5.0zM375.4 644h2.5v2h-2.5zM387.8 644h2.5v2h-2.5zM397.8 644h2.5v2h-2.5zM415.1 644h5.0v2h-5.0zM452.3 644h2.5v2h-2.5zM273.7 646h2.5v2h-2.5zM308.4 646h2.5v2h-2.5zM363.0 646h5.0v2h-5.0zM427.5 646h12.4v2h-12.4zM70.3 648h2.5v2h-2.5zM273.7 648h2.5v2h-2.5zM291.1 648h5.0v2h-5.0zM308.4 648h2.5v2h-2.5zM315.9 648h2.5v2h-2.5zM328.3 648h2.5v2h-2.5zM345.7 648h2.5v2h-2.5zM355.6 648h5.0v2h-5.0zM372.9 648h2.5v2h-2.5zM390.3 648h2.5v2h-2.5zM410.2 648h2.5v2h-2.5zM417.6 648h2.5v2h-2.5zM432.5 648h2.5v2h-2.5zM67.8 650h2.5v2h-2.5zM174.5 650h2.5v2h-2.5zM221.6 650h2.5v2h-2.5zM296.0 650h2.5v2h-2.5zM310.9 650h2.5v2h-2.5zM372.9 650h2.5v2h-2.5zM70.3 652h7.4v2h-7.4zM80.2 652h2.5v2h-2.5zM85.2 652h5.0v2h-5.0zM100.0 652h2.5v2h-2.5zM199.3 652h2.5v2h-2.5zM211.7 652h2.5v2h-2.5zM219.1 652h5.0v2h-5.0zM306.0 652h5.0v2h-5.0zM325.8 652h2.5v2h-2.5zM365.5 652h2.5v2h-2.5zM387.8 652h2.5v2h-2.5zM412.6 652h7.4v2h-7.4zM432.5 652h2.5v2h-2.5z"/>
<path fill="#3c0303" d="M10.7 512h2.5v2h-2.5zM15.7 512h2.5v2h-2.5zM72.7 512h5.0v2h-5.0zM105.0 512h2.5v2h-2.5zM114.9 512h2.5v2h-2.5zM124.8 512h5.0v2h-5.0zM142.2 512h2.5v2h-2.5zM147.2 512h2.5v2h-2.5zM169.5 512h2.5v2h-2.5zM206.7 512h2.5v2h-2.5zM276.2 512h5.0v2h-5.0zM296.0 512h2.5v2h-2.5zM303.5 512h5.0v2h-5.0zM323.3 512h5.0v2h-5.0zM380.4 512h9.9v2h-9.9zM412.6 512h2.5v2h-2.5zM427.5 512h2.5v2h-2.5zM432.5 512h5.0v2h-5.0zM439.9 512h2.5v2h-2.5zM454.8 512h2.5v2h-2.5zM35.5 514h2.5v2h-2.5zM67.8 514h2.5v2h-2.5zM110.0 514h2.5v2h-2.5zM129.8 514h2.5v2h-2.5zM283.6 514h5.0v2h-5.0zM291.1 514h2.5v2h-2.5zM313.4 514h2.5v2h-2.5zM353.1 514h5.0v2h-5.0zM360.5 514h7.4v2h-7.4zM402.7 514h2.5v2h-2.5zM415.1 514h5.0v2h-5.0zM459.8 514h2.5v2h-2.5zM484.6 514h5.0v2h-5.0zM492.0 514h2.5v2h-2.5zM10.7 516h5.0v2h-5.0zM43.0 516h2.5v2h-2.5zM67.8 516h2.5v2h-2.5zM110.0 516h2.5v2h-2.5zM114.9 516h2.5v2h-2.5zM122.4 516h7.4v2h-7.4zM189.4 516h2.5v2h-2.5zM206.7 516h2.5v2h-2.5zM219.1 516h5.0v2h-5.0zM239.0 516h7.4v2h-7.4zM291.1 516h5.0v2h-5.0zM315.9 516h2.5v2h-2.5zM325.8 516h5.0v2h-5.0zM345.7 516h2.5v2h-2.5zM363.0 516h2.5v2h-2.5zM368.0 516h2.5v2h-2.5zM395.3 516h2.5v2h-2.5zM447.4 516h2.5v2h-2.5zM459.8 516h5.0v2h-5.0zM482.1 516h2.5v2h-2.5zM8.2 518h2.5v2h-2.5zM25.6 518h5.0v2h-5.0zM33.1 518h7.4v2h-7.4zM45.5 518h2.5v2h-2.5zM50.4 518h7.4v2h-7.4zM77.7 518h5.0v2h-5.0zM127.3 518h2.5v2h-2.5zM137.3 518h2.5v2h-2.5zM144.7 518h2.5v2h-2.5zM149.7 518h5.0v2h-5.0zM159.6 518h2.5v2h-2.5zM164.5 518h5.0v2h-5.0zM172.0 518h2.5v2h-2.5zM184.4 518h2.5v2h-2.5zM189.4 518h2.5v2h-2.5zM201.8 518h2.5v2h-2.5zM211.7 518h2.5v2h-2.5zM219.1 518h7.4v2h-7.4zM229.1 518h5.0v2h-5.0zM273.7 518h2.5v2h-2.5zM288.6 518h5.0v2h-5.0zM306.0 518h2.5v2h-2.5zM328.3 518h2.5v2h-2.5zM333.3 518h7.4v2h-7.4zM343.2 518h2.5v2h-2.5zM365.5 518h7.4v2h-7.4zM382.9 518h2.5v2h-2.5zM400.2 518h5.0v2h-5.0zM422.6 518h5.0v2h-5.0zM437.5 518h7.4v2h-7.4zM447.4 518h2.5v2h-2.5zM452.3 518h5.0v2h-5.0zM469.7 518h7.4v2h-7.4zM487.1 518h2.5v2h-2.5zM15.7 520h5.0v2h-5.0zM30.6 520h2.5v2h-2.5zM35.5 520h5.0v2h-5.0zM57.9 520h2.5v2h-2.5zM62.8 520h7.4v2h-7.4zM75.2 520h2.5v2h-2.5zM92.6 520h7.4v2h-7.4zM110.0 520h2.5v2h-2.5zM117.4 520h9.9v2h-9.9zM439.9 520h2.5v2h-2.5zM0.8 522h2.5v2h-2.5zM13.2 522h2.5v2h-2.5zM20.6 522h2.5v2h-2.5zM50.4 522h2.5v2h-2.5zM62.8 522h2.5v2h-2.5zM90.1 522h2.5v2h-2.5zM95.1 522h2.5v2h-2.5zM174.5 522h2.5v2h-2.5zM191.8 522h2.5v2h-2.5zM209.2 522h2.5v2h-2.5zM214.2 522h2.5v2h-2.5zM221.6 522h2.5v2h-2.5zM229.1 522h5.0v2h-5.0zM239.0 522h2.5v2h-2.5zM248.9 522h2.5v2h-2.5zM253.9 522h5.0v2h-5.0zM273.7 522h2.5v2h-2.5zM323.3 522h2.5v2h-2.5zM345.7 522h7.4v2h-7.4zM355.6 522h2.5v2h-2.5zM360.5 522h2.5v2h-2.5zM397.8 522h2.5v2h-2.5zM464.7 522h2.5v2h-2.5zM5.8 524h2.5v2h-2.5zM18.2 524h2.5v2h-2.5zM33.1 524h2.5v2h-2.5zM45.5 524h2.5v2h-2.5zM50.4 524h2.5v2h-2.5zM57.9 524h2.5v2h-2.5zM67.8 524h2.5v2h-2.5zM80.2 524h2.5v2h-2.5zM90.1 524h7.4v2h-7.4zM100.0 524h2.5v2h-2.5zM110.0 524h5.0v2h-5.0zM124.8 524h5.0v2h-5.0zM132.3 524h2.5v2h-2.5zM144.7 524h7.4v2h-7.4zM169.5 524h2.5v2h-2.5zM174.5 524h2.5v2h-2.5zM189.4 524h2.5v2h-2.5zM206.7 524h5.0v2h-5.0zM226.6 524h5.0v2h-5.0zM234.0 524h2.5v2h-2.5zM241.5 524h5.0v2h-5.0zM273.7 524h5.0v2h-5.0zM288.6 524h9.9v2h-9.9zM385.4 524h7.4v2h-7.4zM395.3 524h5.0v2h-5.0zM405.2 524h2.5v2h-2.5zM415.1 524h5.0v2h-5.0zM425.1 524h2.5v2h-2.5zM472.2 524h2.5v2h-2.5zM477.2 524h2.5v2h-2.5zM494.5 524h2.5v2h-2.5zM52.9 526h9.9v2h-9.9zM100.0 526h5.0v2h-5.0zM186.9 526h2.5v2h-2.5zM191.8 526h2.5v2h-2.5zM219.1 526h2.5v2h-2.5zM231.5 526h2.5v2h-2.5zM276.2 526h2.5v2h-2.5zM296.0 526h5.0v2h-5.0zM335.7 526h5.0v2h-5.0zM358.1 526h5.0v2h-5.0zM382.9 526h2.5v2h-2.5zM407.7 526h2.5v2h-2.5zM479.6 526h2.5v2h-2.5zM50.4 528h2.5v2h-2.5zM169.5 528h5.0v2h-5.0zM184.4 528h2.5v2h-2.5zM194.3 528h2.5v2h-2.5zM199.3 528h2.5v2h-2.5zM209.2 528h2.5v2h-2.5zM219.1 528h5.0v2h-5.0zM229.1 528h5.0v2h-5.0zM276.2 528h5.0v2h-5.0zM283.6 528h2.5v2h-2.5zM298.5 528h2.5v2h-2.5zM310.9 528h5.0v2h-5.0zM333.3 528h5.0v2h-5.0zM358.1 528h2.5v2h-2.5zM377.9 528h2.5v2h-2.5zM410.2 528h2.5v2h-2.5zM420.1 528h5.0v2h-5.0zM449.9 528h7.4v2h-7.4zM494.5 528h2.5v2h-2.5zM52.9 530h2.5v2h-2.5zM65.3 530h2.5v2h-2.5zM100.0 530h2.5v2h-2.5zM105.0 530h5.0v2h-5.0zM117.4 530h5.0v2h-5.0zM142.2 530h2.5v2h-2.5zM184.4 530h2.5v2h-2.5zM216.6 530h2.5v2h-2.5zM229.1 530h2.5v2h-2.5zM251.4 530h2.5v2h-2.5zM256.3 530h2.5v2h-2.5zM261.3 530h2.5v2h-2.5zM306.0 530h5.0v2h-5.0zM335.7 530h2.5v2h-2.5zM353.1 530h2.5v2h-2.5zM412.6 530h2.5v2h-2.5zM20.6 532h2.5v2h-2.5zM43.0 532h2.5v2h-2.5zM90.1 532h2.5v2h-2.5zM117.4 532h2.5v2h-2.5zM142.2 532h7.4v2h-7.4zM159.6 532h2.5v2h-2.5zM196.8 532h2.5v2h-2.5zM266.3 532h14.9v2h-14.9zM283.6 532h2.5v2h-2.5zM288.6 532h2.5v2h-2.5zM323.3 532h2.5v2h-2.5zM328.3 532h5.0v2h-5.0zM350.6 532h2.5v2h-2.5zM358.1 532h2.5v2h-2.5zM365.5 532h2.5v2h-2.5zM370.5 532h2.5v2h-2.5zM375.4 532h5.0v2h-5.0zM400.2 532h5.0v2h-5.0zM417.6 532h2.5v2h-2.5zM467.2 532h2.5v2h-2.5zM487.1 532h2.5v2h-2.5zM20.6 534h2.5v2h-2.5zM35.5 534h5.0v2h-5.0zM45.5 534h5.0v2h-5.0zM52.9 534h2.5v2h-2.5zM110.0 534h2.5v2h-2.5zM139.7 534h2.5v2h-2.5zM147.2 534h2.5v2h-2.5zM164.5 534h2.5v2h-2.5zM186.9 534h5.0v2h-5.0zM234.0 534h5.0v2h-5.0zM246.4 534h2.5v2h-2.5zM271.2 534h5.0v2h-5.0zM306.0 534h2.5v2h-2.5zM310.9 534h2.5v2h-2.5zM315.9 534h5.0v2h-5.0zM328.3 534h2.5v2h-2.5zM333.3 534h2.5v2h-2.5zM338.2 534h2.5v2h-2.5zM370.5 534h2.5v2h-2.5zM410.2 534h5.0v2h-5.0zM417.6 534h2.5v2h-2.5zM452.3 534h5.0v2h-5.0zM38.0 536h2.5v2h-2.5zM45.5 536h5.0v2h-5.0zM67.8 536h2.5v2h-2.5zM80.2 536h7.4v2h-7.4zM97.6 536h5.0v2h-5.0zM139.7 536h7.4v2h-7.4zM164.5 536h5.0v2h-5.0zM181.9 536h2.5v2h-2.5zM194.3 536h5.0v2h-5.0zM206.7 536h2.5v2h-2.5zM219.1 536h2.5v2h-2.5zM229.1 536h7.4v2h-7.4zM241.5 536h5.0v2h-5.0zM253.9 536h5.0v2h-5.0zM261.3 536h7.4v2h-7.4zM273.7 536h2.5v2h-2.5zM298.5 536h2.5v2h-2.5zM313.4 536h2.5v2h-2.5zM335.7 536h5.0v2h-5.0zM348.1 536h2.5v2h-2.5zM355.6 536h2.5v2h-2.5zM360.5 536h2.5v2h-2.5zM385.4 536h2.5v2h-2.5zM392.8 536h2.5v2h-2.5zM397.8 536h7.4v2h-7.4zM449.9 536h2.5v2h-2.5zM8.2 538h5.0v2h-5.0zM65.3 538h5.0v2h-5.0zM110.0 538h7.4v2h-7.4zM159.6 538h2.5v2h-2.5zM181.9 538h2.5v2h-2.5zM219.1 538h2.5v2h-2.5zM263.8 538h2.5v2h-2.5zM303.5 538h5.0v2h-5.0zM315.9 538h2.5v2h-2.5zM343.2 538h5.0v2h-5.0zM484.6 538h5.0v2h-5.0zM15.7 540h5.0v2h-5.0zM57.9 540h5.0v2h-5.0zM65.3 540h2.5v2h-2.5zM107.5 540h2.5v2h-2.5zM119.9 540h2.5v2h-2.5zM129.8 540h5.0v2h-5.0zM157.1 540h2.5v2h-2.5zM167.0 540h2.5v2h-2.5zM174.5 540h2.5v2h-2.5zM181.9 540h5.0v2h-5.0zM221.6 540h2.5v2h-2.5zM226.6 540h2.5v2h-2.5zM234.0 540h2.5v2h-2.5zM239.0 540h7.4v2h-7.4zM248.9 540h2.5v2h-2.5zM261.3 540h2.5v2h-2.5zM325.8 540h2.5v2h-2.5zM338.2 540h2.5v2h-2.5zM343.2 540h2.5v2h-2.5zM377.9 540h2.5v2h-2.5zM5.8 542h2.5v2h-2.5zM10.7 542h9.9v2h-9.9zM55.4 542h9.9v2h-9.9zM67.8 542h2.5v2h-2.5zM72.7 542h2.5v2h-2.5zM82.7 542h2.5v2h-2.5zM100.0 542h2.5v2h-2.5zM110.0 542h2.5v2h-2.5zM144.7 542h5.0v2h-5.0zM174.5 542h2.5v2h-2.5zM179.4 542h2.5v2h-2.5zM211.7 542h2.5v2h-2.5zM226.6 542h2.5v2h-2.5zM234.0 542h2.5v2h-2.5zM256.3 542h2.5v2h-2.5zM271.2 542h2.5v2h-2.5zM400.2 542h5.0v2h-5.0zM412.6 542h2.5v2h-2.5zM35.5 544h5.0v2h-5.0zM60.3 544h12.4v2h-12.4zM102.5 544h2.5v2h-2.5zM112.4 544h2.5v2h-2.5zM132.3 544h2.5v2h-2.5zM157.1 544h2.5v2h-2.5zM181.9 544h9.9v2h-9.9zM206.7 544h2.5v2h-2.5zM211.7 544h2.5v2h-2.5zM216.6 544h2.5v2h-2.5zM229.1 544h5.0v2h-5.0zM258.8 544h2.5v2h-2.5zM268.7 544h2.5v2h-2.5zM283.6 544h7.4v2h-7.4zM293.6 544h5.0v2h-5.0zM303.5 544h7.4v2h-7.4zM320.8 544h5.0v2h-5.0zM338.2 544h5.0v2h-5.0zM353.1 544h2.5v2h-2.5zM363.0 544h5.0v2h-5.0zM10.7 546h7.4v2h-7.4zM30.6 546h2.5v2h-2.5zM43.0 546h2.5v2h-2.5zM62.8 546h2.5v2h-2.5zM85.2 546h2.5v2h-2.5zM97.6 546h2.5v2h-2.5zM114.9 546h2.5v2h-2.5zM119.9 546h2.5v2h-2.5zM132.3 546h7.4v2h-7.4zM142.2 546h2.5v2h-2.5zM157.1 546h17.4v2h-17.4zM181.9 546h5.0v2h-5.0zM191.8 546h2.5v2h-2.5zM204.2 546h12.4v2h-12.4zM226.6 546h2.5v2h-2.5zM248.9 546h2.5v2h-2.5zM258.8 546h5.0v2h-5.0zM301.0 546h2.5v2h-2.5zM313.4 546h2.5v2h-2.5zM320.8 546h2.5v2h-2.5zM328.3 546h2.5v2h-2.5zM340.7 546h5.0v2h-5.0zM350.6 546h2.5v2h-2.5zM365.5 546h5.0v2h-5.0zM400.2 546h5.0v2h-5.0zM415.1 546h2.5v2h-2.5zM8.2 548h2.5v2h-2.5zM28.1 548h2.5v2h-2.5zM35.5 548h2.5v2h-2.5zM52.9 548h5.0v2h-5.0zM60.3 548h5.0v2h-5.0zM90.1 548h2.5v2h-2.5zM95.1 548h2.5v2h-2.5zM105.0 548h5.0v2h-5.0zM117.4 548h2.5v2h-2.5zM122.4 548h9.9v2h-9.9zM134.8 548h9.9v2h-9.9zM169.5 548h2.5v2h-2.5zM199.3 548h7.4v2h-7.4zM211.7 548h9.9v2h-9.9zM226.6 548h5.0v2h-5.0zM241.5 548h7.4v2h-7.4zM258.8 548h7.4v2h-7.4zM273.7 548h5.0v2h-5.0zM283.6 548h5.0v2h-5.0zM291.1 548h9.9v2h-9.9zM310.9 548h7.4v2h-7.4zM335.7 548h5.0v2h-5.0zM353.1 548h5.0v2h-5.0zM382.9 548h5.0v2h-5.0zM392.8 548h17.4v2h-17.4zM8.2 550h2.5v2h-2.5zM13.2 550h5.0v2h-5.0zM47.9 550h9.9v2h-9.9zM77.7 550h2.5v2h-2.5zM82.7 550h5.0v2h-5.0zM137.3 550h2.5v2h-2.5zM144.7 550h2.5v2h-2.5zM149.7 550h2.5v2h-2.5zM172.0 550h2.5v2h-2.5zM181.9 550h2.5v2h-2.5zM224.1 550h2.5v2h-2.5zM248.9 550h14.9v2h-14.9zM266.3 550h9.9v2h-9.9zM303.5 550h2.5v2h-2.5zM320.8 550h5.0v2h-5.0zM340.7 550h5.0v2h-5.0zM380.4 550h5.0v2h-5.0zM397.8 550h2.5v2h-2.5zM3.3 552h2.5v2h-2.5zM60.3 552h5.0v2h-5.0zM77.7 552h2.5v2h-2.5zM82.7 552h7.4v2h-7.4zM119.9 552h2.5v2h-2.5zM127.3 552h2.5v2h-2.5zM142.2 552h2.5v2h-2.5zM191.8 552h2.5v2h-2.5zM201.8 552h2.5v2h-2.5zM206.7 552h2.5v2h-2.5zM211.7 552h2.5v2h-2.5zM229.1 552h7.4v2h-7.4zM246.4 552h2.5v2h-2.5zM268.7 552h2.5v2h-2.5zM273.7 552h2.5v2h-2.5zM293.6 552h2.5v2h-2.5zM315.9 552h2.5v2h-2.5zM335.7 552h2.5v2h-2.5zM340.7 552h2.5v2h-2.5zM358.1 552h2.5v2h-2.5zM380.4 552h5.0v2h-5.0zM402.7 552h2.5v2h-2.5zM417.6 552h2.5v2h-2.5zM20.6 554h5.0v2h-5.0zM40.5 554h2.5v2h-2.5zM67.8 554h2.5v2h-2.5zM75.2 554h9.9v2h-9.9zM110.0 554h2.5v2h-2.5zM159.6 554h2.5v2h-2.5zM179.4 554h2.5v2h-2.5zM199.3 554h2.5v2h-2.5zM204.2 554h2.5v2h-2.5zM211.7 554h2.5v2h-2.5zM226.6 554h5.0v2h-5.0zM251.4 554h5.0v2h-5.0zM263.8 554h2.5v2h-2.5zM283.6 554h2.5v2h-2.5zM293.6 554h2.5v2h-2.5zM301.0 554h5.0v2h-5.0zM345.7 554h5.0v2h-5.0zM360.5 554h2.5v2h-2.5zM375.4 554h2.5v2h-2.5zM415.1 554h5.0v2h-5.0zM20.6 556h2.5v2h-2.5zM60.3 556h2.5v2h-2.5zM72.7 556h2.5v2h-2.5zM117.4 556h2.5v2h-2.5zM122.4 556h7.4v2h-7.4zM177.0 556h2.5v2h-2.5zM229.1 556h2.5v2h-2.5zM236.5 556h2.5v2h-2.5zM253.9 556h2.5v2h-2.5zM276.2 556h2.5v2h-2.5zM286.1 556h2.5v2h-2.5zM303.5 556h2.5v2h-2.5zM338.2 556h7.4v2h-7.4zM353.1 556h5.0v2h-5.0zM8.2 558h2.5v2h-2.5zM35.5 558h7.4v2h-7.4zM110.0 558h5.0v2h-5.0zM147.2 558h2.5v2h-2.5zM164.5 558h2.5v2h-2.5zM174.5 558h2.5v2h-2.5zM214.2 558h5.0v2h-5.0zM224.1 558h2.5v2h-2.5zM236.5 558h5.0v2h-5.0zM248.9 558h5.0v2h-5.0zM258.8 558h2.5v2h-2.5zM276.2 558h2.5v2h-2.5zM291.1 558h5.0v2h-5.0zM313.4 558h7.4v2h-7.4zM325.8 558h2.5v2h-2.5zM330.8 558h2.5v2h-2.5zM375.4 558h2.5v2h-2.5zM397.8 558h5.0v2h-5.0zM464.7 558h5.0v2h-5.0zM487.1 558h2.5v2h-2.5zM0.8 560h2.5v2h-2.5zM43.0 560h5.0v2h-5.0zM57.9 560h2.5v2h-2.5zM72.7 560h2.5v2h-2.5zM92.6 560h5.0v2h-5.0zM105.0 560h5.0v2h-5.0zM129.8 560h2.5v2h-2.5zM139.7 560h5.0v2h-5.0zM189.4 560h12.4v2h-12.4zM206.7 560h2.5v2h-2.5zM219.1 560h2.5v2h-2.5zM229.1 560h2.5v2h-2.5zM243.9 560h5.0v2h-5.0zM268.7 560h2.5v2h-2.5zM288.6 560h9.9v2h-9.9zM301.0 560h5.0v2h-5.0zM318.4 560h2.5v2h-2.5zM333.3 560h2.5v2h-2.5zM340.7 560h2.5v2h-2.5zM365.5 560h2.5v2h-2.5zM372.9 560h2.5v2h-2.5zM387.8 560h7.4v2h-7.4zM420.1 560h5.0v2h-5.0zM449.9 560h2.5v2h-2.5zM487.1 560h2.5v2h-2.5zM3.3 562h2.5v2h-2.5zM90.1 562h2.5v2h-2.5zM119.9 562h2.5v2h-2.5zM127.3 562h2.5v2h-2.5zM147.2 562h2.5v2h-2.5zM174.5 562h2.5v2h-2.5zM189.4 562h5.0v2h-5.0zM219.1 562h2.5v2h-2.5zM234.0 562h7.4v2h-7.4zM256.3 562h2.5v2h-2.5zM271.2 562h5.0v2h-5.0zM283.6 562h7.4v2h-7.4zM320.8 562h5.0v2h-5.0zM353.1 562h5.0v2h-5.0zM363.0 562h2.5v2h-2.5zM370.5 562h2.5v2h-2.5zM415.1 562h2.5v2h-2.5zM425.1 562h2.5v2h-2.5zM459.8 562h5.0v2h-5.0zM47.9 564h2.5v2h-2.5zM67.8 564h2.5v2h-2.5zM97.6 564h12.4v2h-12.4zM139.7 564h2.5v2h-2.5zM159.6 564h5.0v2h-5.0zM167.0 564h2.5v2h-2.5zM201.8 564h2.5v2h-2.5zM206.7 564h2.5v2h-2.5zM236.5 564h5.0v2h-5.0zM253.9 564h2.5v2h-2.5zM268.7 564h2.5v2h-2.5zM283.6 564h2.5v2h-2.5zM291.1 564h2.5v2h-2.5zM318.4 564h9.9v2h-9.9zM330.8 564h7.4v2h-7.4zM343.2 564h2.5v2h-2.5zM387.8 564h5.0v2h-5.0zM420.1 564h2.5v2h-2.5zM464.7 564h2.5v2h-2.5zM0.8 566h2.5v2h-2.5zM8.2 566h2.5v2h-2.5zM23.1 566h7.4v2h-7.4zM95.1 566h2.5v2h-2.5zM122.4 566h2.5v2h-2.5zM132.3 566h5.0v2h-5.0zM142.2 566h2.5v2h-2.5zM164.5 566h5.0v2h-5.0zM189.4 566h2.5v2h-2.5zM194.3 566h2.5v2h-2.5zM199.3 566h2.5v2h-2.5zM226.6 566h2.5v2h-2.5zM234.0 566h2.5v2h-2.5zM239.0 566h5.0v2h-5.0zM248.9 566h9.9v2h-9.9zM296.0 566h7.4v2h-7.4zM306.0 566h2.5v2h-2.5zM335.7 566h5.0v2h-5.0zM348.1 566h2.5v2h-2.5zM358.1 566h5.0v2h-5.0zM464.7 566h2.5v2h-2.5zM3.3 568h2.5v2h-2.5zM25.6 568h2.5v2h-2.5zM50.4 568h2.5v2h-2.5zM62.8 568h5.0v2h-5.0zM90.1 568h2.5v2h-2.5zM110.0 568h5.0v2h-5.0zM127.3 568h5.0v2h-5.0zM134.8 568h2.5v2h-2.5zM154.6 568h2.5v2h-2.5zM162.1 568h5.0v2h-5.0zM169.5 568h7.4v2h-7.4zM196.8 568h2.5v2h-2.5zM204.2 568h2.5v2h-2.5zM229.1 568h2.5v2h-2.5zM243.9 568h5.0v2h-5.0zM251.4 568h5.0v2h-5.0zM258.8 568h5.0v2h-5.0zM266.3 568h5.0v2h-5.0zM278.7 568h5.0v2h-5.0zM306.0 568h19.8v2h-19.8zM328.3 568h2.5v2h-2.5zM333.3 568h2.5v2h-2.5zM338.2 568h2.5v2h-2.5zM380.4 568h5.0v2h-5.0zM395.3 568h2.5v2h-2.5zM400.2 568h5.0v2h-5.0zM415.1 568h2.5v2h-2.5zM5.8 570h7.4v2h-7.4zM15.7 570h2.5v2h-2.5zM25.6 570h5.0v2h-5.0zM47.9 570h9.9v2h-9.9zM62.8 570h2.5v2h-2.5zM77.7 570h2.5v2h-2.5zM90.1 570h5.0v2h-5.0zM100.0 570h2.5v2h-2.5zM122.4 570h2.5v2h-2.5zM142.2 570h2.5v2h-2.5zM147.2 570h2.5v2h-2.5zM169.5 570h5.0v2h-5.0zM184.4 570h2.5v2h-2.5zM231.5 570h2.5v2h-2.5zM246.4 570h5.0v2h-5.0zM268.7 570h5.0v2h-5.0zM303.5 570h7.4v2h-7.4zM385.4 570h14.9v2h-14.9zM5.8 572h5.0v2h-5.0zM13.2 572h2.5v2h-2.5zM20.6 572h2.5v2h-2.5zM47.9 572h5.0v2h-5.0zM67.8 572h2.5v2h-2.5zM75.2 572h2.5v2h-2.5zM107.5 572h2.5v2h-2.5zM157.1 572h7.4v2h-7.4zM174.5 572h2.5v2h-2.5zM258.8 572h7.4v2h-7.4zM335.7 572h5.0v2h-5.0zM355.6 572h5.0v2h-5.0zM370.5 572h2.5v2h-2.5zM375.4 572h2.5v2h-2.5zM385.4 572h2.5v2h-2.5zM0.8 574h2.5v2h-2.5zM8.2 574h2.5v2h-2.5zM45.5 574h2.5v2h-2.5zM50.4 574h2.5v2h-2.5zM139.7 574h2.5v2h-2.5zM169.5 574h2.5v2h-2.5zM177.0 574h2.5v2h-2.5zM181.9 574h2.5v2h-2.5zM186.9 574h9.9v2h-9.9zM206.7 574h2.5v2h-2.5zM219.1 574h2.5v2h-2.5zM231.5 574h2.5v2h-2.5zM251.4 574h2.5v2h-2.5zM320.8 574h2.5v2h-2.5zM328.3 574h2.5v2h-2.5zM348.1 574h2.5v2h-2.5zM385.4 574h2.5v2h-2.5zM412.6 574h2.5v2h-2.5zM425.1 574h2.5v2h-2.5zM449.9 574h2.5v2h-2.5zM454.8 574h2.5v2h-2.5zM8.2 576h7.4v2h-7.4zM33.1 576h2.5v2h-2.5zM43.0 576h17.4v2h-17.4zM65.3 576h2.5v2h-2.5zM169.5 576h2.5v2h-2.5zM177.0 576h2.5v2h-2.5zM181.9 576h2.5v2h-2.5zM189.4 576h2.5v2h-2.5zM194.3 576h2.5v2h-2.5zM199.3 576h2.5v2h-2.5zM209.2 576h2.5v2h-2.5zM266.3 576h2.5v2h-2.5zM283.6 576h2.5v2h-2.5zM291.1 576h5.0v2h-5.0zM313.4 576h5.0v2h-5.0zM335.7 576h2.5v2h-2.5zM340.7 576h5.0v2h-5.0zM353.1 576h5.0v2h-5.0zM368.0 576h2.5v2h-2.5zM380.4 576h2.5v2h-2.5zM412.6 576h5.0v2h-5.0zM449.9 576h5.0v2h-5.0zM8.2 578h2.5v2h-2.5zM30.6 578h2.5v2h-2.5zM35.5 578h2.5v2h-2.5zM45.5 578h2.5v2h-2.5zM55.4 578h2.5v2h-2.5zM65.3 578h5.0v2h-5.0zM174.5 578h5.0v2h-5.0zM189.4 578h5.0v2h-5.0zM201.8 578h2.5v2h-2.5zM251.4 578h2.5v2h-2.5zM281.2 578h5.0v2h-5.0zM298.5 578h2.5v2h-2.5zM315.9 578h5.0v2h-5.0zM330.8 578h2.5v2h-2.5zM340.7 578h5.0v2h-5.0zM353.1 578h2.5v2h-2.5zM370.5 578h2.5v2h-2.5zM377.9 578h2.5v2h-2.5zM390.3 578h2.5v2h-2.5zM405.2 578h2.5v2h-2.5zM422.6 578h2.5v2h-2.5zM30.6 580h5.0v2h-5.0zM70.3 580h2.5v2h-2.5zM87.6 580h2.5v2h-2.5zM172.0 580h2.5v2h-2.5zM179.4 580h2.5v2h-2.5zM186.9 580h2.5v2h-2.5zM196.8 580h2.5v2h-2.5zM204.2 580h2.5v2h-2.5zM216.6 580h2.5v2h-2.5zM231.5 580h7.4v2h-7.4zM243.9 580h2.5v2h-2.5zM251.4 580h2.5v2h-2.5zM281.2 580h2.5v2h-2.5zM333.3 580h2.5v2h-2.5zM343.2 580h2.5v2h-2.5zM363.0 580h5.0v2h-5.0zM377.9 580h2.5v2h-2.5zM415.1 580h2.5v2h-2.5zM422.6 580h2.5v2h-2.5zM30.6 582h2.5v2h-2.5zM40.5 582h9.9v2h-9.9zM52.9 582h7.4v2h-7.4zM70.3 582h2.5v2h-2.5zM75.2 582h5.0v2h-5.0zM154.6 582h2.5v2h-2.5zM179.4 582h2.5v2h-2.5zM234.0 582h2.5v2h-2.5zM258.8 582h2.5v2h-2.5zM263.8 582h2.5v2h-2.5zM276.2 582h2.5v2h-2.5zM296.0 582h2.5v2h-2.5zM308.4 582h2.5v2h-2.5zM315.9 582h2.5v2h-2.5zM330.8 582h2.5v2h-2.5zM355.6 582h2.5v2h-2.5zM412.6 582h2.5v2h-2.5zM422.6 582h5.0v2h-5.0zM449.9 582h2.5v2h-2.5zM477.2 582h2.5v2h-2.5zM3.3 584h9.9v2h-9.9zM18.2 584h2.5v2h-2.5zM47.9 584h2.5v2h-2.5zM52.9 584h2.5v2h-2.5zM57.9 584h2.5v2h-2.5zM65.3 584h7.4v2h-7.4zM80.2 584h2.5v2h-2.5zM162.1 584h5.0v2h-5.0zM181.9 584h5.0v2h-5.0zM191.8 584h5.0v2h-5.0zM216.6 584h2.5v2h-2.5zM231.5 584h2.5v2h-2.5zM239.0 584h2.5v2h-2.5zM243.9 584h5.0v2h-5.0zM251.4 584h7.4v2h-7.4zM263.8 584h2.5v2h-2.5zM281.2 584h5.0v2h-5.0zM293.6 584h2.5v2h-2.5zM355.6 584h2.5v2h-2.5zM390.3 584h2.5v2h-2.5zM400.2 584h7.4v2h-7.4zM439.9 584h7.4v2h-7.4zM454.8 584h7.4v2h-7.4zM467.2 584h2.5v2h-2.5zM484.6 584h2.5v2h-2.5zM13.2 586h2.5v2h-2.5zM30.6 586h5.0v2h-5.0zM43.0 586h2.5v2h-2.5zM80.2 586h5.0v2h-5.0zM87.6 586h2.5v2h-2.5zM211.7 586h2.5v2h-2.5zM219.1 586h2.5v2h-2.5zM241.5 586h5.0v2h-5.0zM261.3 586h2.5v2h-2.5zM353.1 586h2.5v2h-2.5zM358.1 586h2.5v2h-2.5zM410.2 586h5.0v2h-5.0zM467.2 586h2.5v2h-2.5zM487.1 586h2.5v2h-2.5zM10.7 588h2.5v2h-2.5zM45.5 588h2.5v2h-2.5zM55.4 588h2.5v2h-2.5zM60.3 588h2.5v2h-2.5zM67.8 588h2.5v2h-2.5zM152.1 588h2.5v2h-2.5zM157.1 588h2.5v2h-2.5zM164.5 588h2.5v2h-2.5zM191.8 588h2.5v2h-2.5zM211.7 588h2.5v2h-2.5zM221.6 588h5.0v2h-5.0zM234.0 588h7.4v2h-7.4zM258.8 588h2.5v2h-2.5zM266.3 588h5.0v2h-5.0zM291.1 588h2.5v2h-2.5zM298.5 588h2.5v2h-2.5zM303.5 588h2.5v2h-2.5zM318.4 588h2.5v2h-2.5zM330.8 588h7.4v2h-7.4zM348.1 588h12.4v2h-12.4zM372.9 588h5.0v2h-5.0zM415.1 588h2.5v2h-2.5zM469.7 588h2.5v2h-2.5zM122.4 590h2.5v2h-2.5zM154.6 590h2.5v2h-2.5zM169.5 590h2.5v2h-2.5zM199.3 590h2.5v2h-2.5zM211.7 590h2.5v2h-2.5zM221.6 590h5.0v2h-5.0zM236.5 590h2.5v2h-2.5zM253.9 590h2.5v2h-2.5zM258.8 590h5.0v2h-5.0zM340.7 590h2.5v2h-2.5zM345.7 590h2.5v2h-2.5zM365.5 590h2.5v2h-2.5zM385.4 590h2.5v2h-2.5zM415.1 590h2.5v2h-2.5zM425.1 590h2.5v2h-2.5zM439.9 590h2.5v2h-2.5zM447.4 590h2.5v2h-2.5zM452.3 590h2.5v2h-2.5zM459.8 590h2.5v2h-2.5zM467.2 590h2.5v2h-2.5zM30.6 592h2.5v2h-2.5zM40.5 592h9.9v2h-9.9zM196.8 592h12.4v2h-12.4zM226.6 592h2.5v2h-2.5zM258.8 592h2.5v2h-2.5zM271.2 592h9.9v2h-9.9zM293.6 592h14.9v2h-14.9zM313.4 592h2.5v2h-2.5zM328.3 592h2.5v2h-2.5zM375.4 592h2.5v2h-2.5zM390.3 592h2.5v2h-2.5zM400.2 592h5.0v2h-5.0zM412.6 592h2.5v2h-2.5zM467.2 592h5.0v2h-5.0zM30.6 594h2.5v2h-2.5zM52.9 594h2.5v2h-2.5zM177.0 594h2.5v2h-2.5zM214.2 594h2.5v2h-2.5zM219.1 594h2.5v2h-2.5zM226.6 594h5.0v2h-5.0zM234.0 594h2.5v2h-2.5zM253.9 594h7.4v2h-7.4zM271.2 594h9.9v2h-9.9zM288.6 594h7.4v2h-7.4zM301.0 594h2.5v2h-2.5zM308.4 594h2.5v2h-2.5zM318.4 594h2.5v2h-2.5zM325.8 594h2.5v2h-2.5zM345.7 594h5.0v2h-5.0zM353.1 594h5.0v2h-5.0zM360.5 594h2.5v2h-2.5zM392.8 594h2.5v2h-2.5zM420.1 594h2.5v2h-2.5zM444.9 594h2.5v2h-2.5zM459.8 594h5.0v2h-5.0zM10.7 596h2.5v2h-2.5zM33.1 596h2.5v2h-2.5zM52.9 596h2.5v2h-2.5zM97.6 596h2.5v2h-2.5zM102.5 596h2.5v2h-2.5zM157.1 596h2.5v2h-2.5zM172.0 596h17.4v2h-17.4zM191.8 596h2.5v2h-2.5zM196.8 596h2.5v2h-2.5zM204.2 596h5.0v2h-5.0zM214.2 596h2.5v2h-2.5zM219.1 596h2.5v2h-2.5zM226.6 596h7.4v2h-7.4zM236.5 596h2.5v2h-2.5zM246.4 596h2.5v2h-2.5zM251.4 596h2.5v2h-2.5zM258.8 596h12.4v2h-12.4zM273.7 596h7.4v2h-7.4zM301.0 596h2.5v2h-2.5zM355.6 596h2.5v2h-2.5zM360.5 596h2.5v2h-2.5zM387.8 596h2.5v2h-2.5zM395.3 596h5.0v2h-5.0zM405.2 596h2.5v2h-2.5zM412.6 596h2.5v2h-2.5zM459.8 596h2.5v2h-2.5zM469.7 596h5.0v2h-5.0zM479.6 596h2.5v2h-2.5zM487.1 596h2.5v2h-2.5zM33.1 598h2.5v2h-2.5zM119.9 598h12.4v2h-12.4zM149.7 598h2.5v2h-2.5zM181.9 598h2.5v2h-2.5zM191.8 598h5.0v2h-5.0zM214.2 598h2.5v2h-2.5zM236.5 598h2.5v2h-2.5zM241.5 598h2.5v2h-2.5zM256.3 598h7.4v2h-7.4zM368.0 598h2.5v2h-2.5zM390.3 598h2.5v2h-2.5zM420.1 598h2.5v2h-2.5zM469.7 598h2.5v2h-2.5zM10.7 600h2.5v2h-2.5zM47.9 600h2.5v2h-2.5zM124.8 600h2.5v2h-2.5zM179.4 600h2.5v2h-2.5zM204.2 600h2.5v2h-2.5zM216.6 600h2.5v2h-2.5zM236.5 600h2.5v2h-2.5zM243.9 600h9.9v2h-9.9zM306.0 600h2.5v2h-2.5zM318.4 600h2.5v2h-2.5zM340.7 600h2.5v2h-2.5zM372.9 600h2.5v2h-2.5zM382.9 600h2.5v2h-2.5zM392.8 600h5.0v2h-5.0zM402.7 600h2.5v2h-2.5zM417.6 600h2.5v2h-2.5zM422.6 600h2.5v2h-2.5zM444.9 600h2.5v2h-2.5zM472.2 600h5.0v2h-5.0zM23.1 602h5.0v2h-5.0zM40.5 602h2.5v2h-2.5zM50.4 602h2.5v2h-2.5zM132.3 602h9.9v2h-9.9zM179.4 602h2.5v2h-2.5zM216.6 602h2.5v2h-2.5zM229.1 602h2.5v2h-2.5zM236.5 602h2.5v2h-2.5zM251.4 602h9.9v2h-9.9zM268.7 602h2.5v2h-2.5zM281.2 602h2.5v2h-2.5zM301.0 602h2.5v2h-2.5zM308.4 602h14.9v2h-14.9zM358.1 602h2.5v2h-2.5zM375.4 602h2.5v2h-2.5zM385.4 602h2.5v2h-2.5zM412.6 602h12.4v2h-12.4zM449.9 602h5.0v2h-5.0zM459.8 602h9.9v2h-9.9zM472.2 602h2.5v2h-2.5zM5.8 604h2.5v2h-2.5zM38.0 604h2.5v2h-2.5zM57.9 604h2.5v2h-2.5zM144.7 604h2.5v2h-2.5zM164.5 604h2.5v2h-2.5zM181.9 604h2.5v2h-2.5zM186.9 604h2.5v2h-2.5zM194.3 604h5.0v2h-5.0zM209.2 604h7.4v2h-7.4zM234.0 604h2.5v2h-2.5zM251.4 604h5.0v2h-5.0zM258.8 604h2.5v2h-2.5zM263.8 604h2.5v2h-2.5zM301.0 604h2.5v2h-2.5zM306.0 604h7.4v2h-7.4zM320.8 604h5.0v2h-5.0zM353.1 604h2.5v2h-2.5zM375.4 604h2.5v2h-2.5zM402.7 604h2.5v2h-2.5zM444.9 604h5.0v2h-5.0zM457.3 604h2.5v2h-2.5zM484.6 604h2.5v2h-2.5zM489.6 604h2.5v2h-2.5zM18.2 606h5.0v2h-5.0zM38.0 606h2.5v2h-2.5zM87.6 606h2.5v2h-2.5zM95.1 606h2.5v2h-2.5zM102.5 606h2.5v2h-2.5zM132.3 606h2.5v2h-2.5zM181.9 606h5.0v2h-5.0zM211.7 606h2.5v2h-2.5zM219.1 606h2.5v2h-2.5zM229.1 606h7.4v2h-7.4zM243.9 606h2.5v2h-2.5zM266.3 606h5.0v2h-5.0zM313.4 606h2.5v2h-2.5zM318.4 606h7.4v2h-7.4zM338.2 606h2.5v2h-2.5zM350.6 606h2.5v2h-2.5zM385.4 606h5.0v2h-5.0zM402.7 606h2.5v2h-2.5zM410.2 606h5.0v2h-5.0zM420.1 606h2.5v2h-2.5zM464.7 606h2.5v2h-2.5zM477.2 606h2.5v2h-2.5zM494.5 606h2.5v2h-2.5zM23.1 608h2.5v2h-2.5zM70.3 608h2.5v2h-2.5zM107.5 608h2.5v2h-2.5zM114.9 608h2.5v2h-2.5zM119.9 608h2.5v2h-2.5zM157.1 608h2.5v2h-2.5zM189.4 608h2.5v2h-2.5zM209.2 608h2.5v2h-2.5zM226.6 608h7.4v2h-7.4zM256.3 608h2.5v2h-2.5zM263.8 608h2.5v2h-2.5zM281.2 608h2.5v2h-2.5zM291.1 608h2.5v2h-2.5zM296.0 608h2.5v2h-2.5zM330.8 608h2.5v2h-2.5zM335.7 608h5.0v2h-5.0zM400.2 608h5.0v2h-5.0zM420.1 608h2.5v2h-2.5zM449.9 608h9.9v2h-9.9zM464.7 608h2.5v2h-2.5zM487.1 608h2.5v2h-2.5zM15.7 610h5.0v2h-5.0zM144.7 610h2.5v2h-2.5zM169.5 610h5.0v2h-5.0zM184.4 610h2.5v2h-2.5zM191.8 610h5.0v2h-5.0zM256.3 610h2.5v2h-2.5zM323.3 610h2.5v2h-2.5zM335.7 610h7.4v2h-7.4zM350.6 610h2.5v2h-2.5zM439.9 610h2.5v2h-2.5zM444.9 610h5.0v2h-5.0zM459.8 610h5.0v2h-5.0zM469.7 610h2.5v2h-2.5zM479.6 610h2.5v2h-2.5zM492.0 610h2.5v2h-2.5zM67.8 612h2.5v2h-2.5zM107.5 612h2.5v2h-2.5zM129.8 612h7.4v2h-7.4zM142.2 612h2.5v2h-2.5zM174.5 612h5.0v2h-5.0zM184.4 612h2.5v2h-2.5zM189.4 612h2.5v2h-2.5zM226.6 612h2.5v2h-2.5zM231.5 612h9.9v2h-9.9zM243.9 612h5.0v2h-5.0zM266.3 612h5.0v2h-5.0zM301.0 612h2.5v2h-2.5zM318.4 612h2.5v2h-2.5zM340.7 612h2.5v2h-2.5zM390.3 612h5.0v2h-5.0zM407.7 612h2.5v2h-2.5zM439.9 612h5.0v2h-5.0zM459.8 612h2.5v2h-2.5zM467.2 612h5.0v2h-5.0zM487.1 612h2.5v2h-2.5zM0.8 614h7.4v2h-7.4zM28.1 614h2.5v2h-2.5zM159.6 614h2.5v2h-2.5zM172.0 614h5.0v2h-5.0zM211.7 614h2.5v2h-2.5zM241.5 614h7.4v2h-7.4zM261.3 614h5.0v2h-5.0zM278.7 614h2.5v2h-2.5zM306.0 614h2.5v2h-2.5zM333.3 614h2.5v2h-2.5zM372.9 614h2.5v2h-2.5zM395.3 614h2.5v2h-2.5zM420.1 614h7.4v2h-7.4zM439.9 614h5.0v2h-5.0zM459.8 614h7.4v2h-7.4zM67.8 616h5.0v2h-5.0zM82.7 616h2.5v2h-2.5zM137.3 616h2.5v2h-2.5zM147.2 616h2.5v2h-2.5zM179.4 616h5.0v2h-5.0zM214.2 616h5.0v2h-5.0zM221.6 616h5.0v2h-5.0zM236.5 616h5.0v2h-5.0zM248.9 616h2.5v2h-2.5zM256.3 616h2.5v2h-2.5zM263.8 616h2.5v2h-2.5zM271.2 616h2.5v2h-2.5zM276.2 616h5.0v2h-5.0zM291.1 616h7.4v2h-7.4zM301.0 616h2.5v2h-2.5zM306.0 616h5.0v2h-5.0zM318.4 616h5.0v2h-5.0zM338.2 616h2.5v2h-2.5zM358.1 616h5.0v2h-5.0zM415.1 616h5.0v2h-5.0zM459.8 616h2.5v2h-2.5zM467.2 616h2.5v2h-2.5zM472.2 616h7.4v2h-7.4zM492.0 616h2.5v2h-2.5zM40.5 618h2.5v2h-2.5zM45.5 618h12.4v2h-12.4zM100.0 618h7.4v2h-7.4zM124.8 618h2.5v2h-2.5zM134.8 618h2.5v2h-2.5zM142.2 618h2.5v2h-2.5zM154.6 618h2.5v2h-2.5zM169.5 618h5.0v2h-5.0zM181.9 618h5.0v2h-5.0zM224.1 618h9.9v2h-9.9zM236.5 618h5.0v2h-5.0zM276.2 618h5.0v2h-5.0zM296.0 618h5.0v2h-5.0zM315.9 618h2.5v2h-2.5zM323.3 618h2.5v2h-2.5zM330.8 618h2.5v2h-2.5zM380.4 618h5.0v2h-5.0zM392.8 618h2.5v2h-2.5zM402.7 618h2.5v2h-2.5zM425.1 618h2.5v2h-2.5zM454.8 618h2.5v2h-2.5zM464.7 618h2.5v2h-2.5zM474.7 618h9.9v2h-9.9zM487.1 618h2.5v2h-2.5zM57.9 620h2.5v2h-2.5zM80.2 620h5.0v2h-5.0zM132.3 620h9.9v2h-9.9zM174.5 620h2.5v2h-2.5zM184.4 620h2.5v2h-2.5zM214.2 620h7.4v2h-7.4zM226.6 620h2.5v2h-2.5zM246.4 620h2.5v2h-2.5zM256.3 620h2.5v2h-2.5zM268.7 620h2.5v2h-2.5zM288.6 620h2.5v2h-2.5zM310.9 620h2.5v2h-2.5zM315.9 620h5.0v2h-5.0zM338.2 620h9.9v2h-9.9zM350.6 620h2.5v2h-2.5zM358.1 620h7.4v2h-7.4zM377.9 620h2.5v2h-2.5zM397.8 620h2.5v2h-2.5zM417.6 620h2.5v2h-2.5zM454.8 620h2.5v2h-2.5zM472.2 620h2.5v2h-2.5zM494.5 620h2.5v2h-2.5zM45.5 622h2.5v2h-2.5zM174.5 622h2.5v2h-2.5zM181.9 622h2.5v2h-2.5zM186.9 622h2.5v2h-2.5zM216.6 622h2.5v2h-2.5zM221.6 622h2.5v2h-2.5zM226.6 622h9.9v2h-9.9zM241.5 622h5.0v2h-5.0zM253.9 622h2.5v2h-2.5zM263.8 622h7.4v2h-7.4zM276.2 622h5.0v2h-5.0zM288.6 622h2.5v2h-2.5zM301.0 622h2.5v2h-2.5zM313.4 622h2.5v2h-2.5zM318.4 622h2.5v2h-2.5zM328.3 622h2.5v2h-2.5zM350.6 622h2.5v2h-2.5zM372.9 622h7.4v2h-7.4zM390.3 622h2.5v2h-2.5zM415.1 622h2.5v2h-2.5zM469.7 622h5.0v2h-5.0zM492.0 622h5.0v2h-5.0zM162.1 624h2.5v2h-2.5zM209.2 624h5.0v2h-5.0zM219.1 624h5.0v2h-5.0zM226.6 624h5.0v2h-5.0zM258.8 624h2.5v2h-2.5zM263.8 624h2.5v2h-2.5zM281.2 624h2.5v2h-2.5zM340.7 624h2.5v2h-2.5zM348.1 624h5.0v2h-5.0zM363.0 624h2.5v2h-2.5zM422.6 624h2.5v2h-2.5zM8.2 626h2.5v2h-2.5zM57.9 626h2.5v2h-2.5zM62.8 626h2.5v2h-2.5zM134.8 626h7.4v2h-7.4zM162.1 626h2.5v2h-2.5zM167.0 626h5.0v2h-5.0zM174.5 626h2.5v2h-2.5zM186.9 626h2.5v2h-2.5zM214.2 626h2.5v2h-2.5zM246.4 626h7.4v2h-7.4zM261.3 626h2.5v2h-2.5zM266.3 626h5.0v2h-5.0zM283.6 626h2.5v2h-2.5zM301.0 626h7.4v2h-7.4zM345.7 626h5.0v2h-5.0zM358.1 626h2.5v2h-2.5zM385.4 626h2.5v2h-2.5zM390.3 626h7.4v2h-7.4zM407.7 626h2.5v2h-2.5zM412.6 626h9.9v2h-9.9zM444.9 626h2.5v2h-2.5zM449.9 626h5.0v2h-5.0zM67.8 628h2.5v2h-2.5zM162.1 628h5.0v2h-5.0zM169.5 628h2.5v2h-2.5zM221.6 628h2.5v2h-2.5zM229.1 628h2.5v2h-2.5zM268.7 628h5.0v2h-5.0zM286.1 628h2.5v2h-2.5zM301.0 628h2.5v2h-2.5zM306.0 628h2.5v2h-2.5zM310.9 628h2.5v2h-2.5zM343.2 628h2.5v2h-2.5zM348.1 628h5.0v2h-5.0zM405.2 628h2.5v2h-2.5zM425.1 628h2.5v2h-2.5zM442.4 628h2.5v2h-2.5zM13.2 630h2.5v2h-2.5zM25.6 630h5.0v2h-5.0zM45.5 630h2.5v2h-2.5zM75.2 630h2.5v2h-2.5zM127.3 630h2.5v2h-2.5zM134.8 630h5.0v2h-5.0zM157.1 630h2.5v2h-2.5zM172.0 630h7.4v2h-7.4zM186.9 630h2.5v2h-2.5zM191.8 630h5.0v2h-5.0zM206.7 630h2.5v2h-2.5zM211.7 630h2.5v2h-2.5zM216.6 630h2.5v2h-2.5zM221.6 630h5.0v2h-5.0zM239.0 630h5.0v2h-5.0zM251.4 630h2.5v2h-2.5zM271.2 630h12.4v2h-12.4zM293.6 630h7.4v2h-7.4zM308.4 630h2.5v2h-2.5zM313.4 630h2.5v2h-2.5zM325.8 630h2.5v2h-2.5zM338.2 630h2.5v2h-2.5zM348.1 630h2.5v2h-2.5zM370.5 630h5.0v2h-5.0zM387.8 630h5.0v2h-5.0zM402.7 630h2.5v2h-2.5zM422.6 630h5.0v2h-5.0zM447.4 630h5.0v2h-5.0zM462.3 630h2.5v2h-2.5zM469.7 630h2.5v2h-2.5zM477.2 630h2.5v2h-2.5zM492.0 630h5.0v2h-5.0zM13.2 632h2.5v2h-2.5zM33.1 632h17.4v2h-17.4zM52.9 632h2.5v2h-2.5zM60.3 632h2.5v2h-2.5zM137.3 632h2.5v2h-2.5zM186.9 632h5.0v2h-5.0zM194.3 632h2.5v2h-2.5zM199.3 632h2.5v2h-2.5zM241.5 632h17.4v2h-17.4zM283.6 632h5.0v2h-5.0zM291.1 632h5.0v2h-5.0zM298.5 632h2.5v2h-2.5zM310.9 632h2.5v2h-2.5zM343.2 632h7.4v2h-7.4zM355.6 632h2.5v2h-2.5zM360.5 632h2.5v2h-2.5zM375.4 632h2.5v2h-2.5zM387.8 632h7.4v2h-7.4zM407.7 632h5.0v2h-5.0zM417.6 632h5.0v2h-5.0zM444.9 632h2.5v2h-2.5zM457.3 632h2.5v2h-2.5zM474.7 632h5.0v2h-5.0zM484.6 632h5.0v2h-5.0zM0.8 634h2.5v2h-2.5zM62.8 634h2.5v2h-2.5zM144.7 634h2.5v2h-2.5zM169.5 634h2.5v2h-2.5zM177.0 634h7.4v2h-7.4zM189.4 634h2.5v2h-2.5zM239.0 634h5.0v2h-5.0zM266.3 634h2.5v2h-2.5zM303.5 634h2.5v2h-2.5zM308.4 634h2.5v2h-2.5zM348.1 634h2.5v2h-2.5zM380.4 634h9.9v2h-9.9zM420.1 634h2.5v2h-2.5zM477.2 634h5.0v2h-5.0zM10.7 636h5.0v2h-5.0zM45.5 636h2.5v2h-2.5zM137.3 636h2.5v2h-2.5zM147.2 636h2.5v2h-2.5zM172.0 636h2.5v2h-2.5zM181.9 636h7.4v2h-7.4zM196.8 636h2.5v2h-2.5zM224.1 636h5.0v2h-5.0zM231.5 636h5.0v2h-5.0zM263.8 636h2.5v2h-2.5zM268.7 636h2.5v2h-2.5zM288.6 636h2.5v2h-2.5zM345.7 636h5.0v2h-5.0zM363.0 636h9.9v2h-9.9zM392.8 636h2.5v2h-2.5zM400.2 636h5.0v2h-5.0zM467.2 636h5.0v2h-5.0zM474.7 636h2.5v2h-2.5zM479.6 636h2.5v2h-2.5zM492.0 636h5.0v2h-5.0zM30.6 638h2.5v2h-2.5zM43.0 638h7.4v2h-7.4zM92.6 638h2.5v2h-2.5zM139.7 638h2.5v2h-2.5zM157.1 638h2.5v2h-2.5zM174.5 638h2.5v2h-2.5zM209.2 638h5.0v2h-5.0zM253.9 638h7.4v2h-7.4zM263.8 638h5.0v2h-5.0zM273.7 638h2.5v2h-2.5zM288.6 638h2.5v2h-2.5zM301.0 638h5.0v2h-5.0zM330.8 638h2.5v2h-2.5zM340.7 638h5.0v2h-5.0zM348.1 638h2.5v2h-2.5zM360.5 638h2.5v2h-2.5zM368.0 638h2.5v2h-2.5zM390.3 638h2.5v2h-2.5zM395.3 638h5.0v2h-5.0zM422.6 638h2.5v2h-2.5zM489.6 638h2.5v2h-2.5zM15.7 640h2.5v2h-2.5zM33.1 640h2.5v2h-2.5zM43.0 640h2.5v2h-2.5zM60.3 640h5.0v2h-5.0zM124.8 640h2.5v2h-2.5zM147.2 640h7.4v2h-7.4zM169.5 640h5.0v2h-5.0zM214.2 640h2.5v2h-2.5zM221.6 640h2.5v2h-2.5zM226.6 640h2.5v2h-2.5zM236.5 640h2.5v2h-2.5zM241.5 640h2.5v2h-2.5zM278.7 640h2.5v2h-2.5zM308.4 640h2.5v2h-2.5zM343.2 640h5.0v2h-5.0zM350.6 640h5.0v2h-5.0zM395.3 640h5.0v2h-5.0zM420.1 640h2.5v2h-2.5zM447.4 640h7.4v2h-7.4zM467.2 640h2.5v2h-2.5zM474.7 640h2.5v2h-2.5zM479.6 640h5.0v2h-5.0zM40.5 642h2.5v2h-2.5zM47.9 642h2.5v2h-2.5zM77.7 642h5.0v2h-5.0zM85.2 642h9.9v2h-9.9zM122.4 642h2.5v2h-2.5zM149.7 642h2.5v2h-2.5zM172.0 642h2.5v2h-2.5zM181.9 642h7.4v2h-7.4zM196.8 642h2.5v2h-2.5zM201.8 642h2.5v2h-2.5zM209.2 642h2.5v2h-2.5zM236.5 642h2.5v2h-2.5zM246.4 642h2.5v2h-2.5zM253.9 642h5.0v2h-5.0zM268.7 642h7.4v2h-7.4zM278.7 642h5.0v2h-5.0zM296.0 642h5.0v2h-5.0zM303.5 642h2.5v2h-2.5zM310.9 642h5.0v2h-5.0zM318.4 642h2.5v2h-2.5zM323.3 642h2.5v2h-2.5zM340.7 642h5.0v2h-5.0zM365.5 642h2.5v2h-2.5zM382.9 642h2.5v2h-2.5zM390.3 642h14.9v2h-14.9zM425.1 642h2.5v2h-2.5zM442.4 642h2.5v2h-2.5zM447.4 642h9.9v2h-9.9zM467.2 642h2.5v2h-2.5zM472.2 642h2.5v2h-2.5zM479.6 642h2.5v2h-2.5zM3.3 644h5.0v2h-5.0zM10.7 644h2.5v2h-2.5zM20.6 644h5.0v2h-5.0zM57.9 644h2.5v2h-2.5zM82.7 644h2.5v2h-2.5zM97.6 644h2.5v2h-2.5zM112.4 644h5.0v2h-5.0zM124.8 644h2.5v2h-2.5zM137.3 644h12.4v2h-12.4zM159.6 644h2.5v2h-2.5zM172.0 644h2.5v2h-2.5zM184.4 644h5.0v2h-5.0zM241.5 644h2.5v2h-2.5zM246.4 644h5.0v2h-5.0zM266.3 644h2.5v2h-2.5zM330.8 644h2.5v2h-2.5zM335.7 644h2.5v2h-2.5zM360.5 644h2.5v2h-2.5zM365.5 644h2.5v2h-2.5zM382.9 644h2.5v2h-2.5zM422.6 644h5.0v2h-5.0zM439.9 644h5.0v2h-5.0zM454.8 644h2.5v2h-2.5zM459.8 644h2.5v2h-2.5zM464.7 644h7.4v2h-7.4zM492.0 644h2.5v2h-2.5zM0.8 646h7.4v2h-7.4zM20.6 646h5.0v2h-5.0zM35.5 646h2.5v2h-2.5zM65.3 646h2.5v2h-2.5zM70.3 646h2.5v2h-2.5zM110.0 646h2.5v2h-2.5zM124.8 646h5.0v2h-5.0zM132.3 646h2.5v2h-2.5zM139.7 646h2.5v2h-2.5zM152.1 646h2.5v2h-2.5zM162.1 646h7.4v2h-7.4zM179.4 646h2.5v2h-2.5zM226.6 646h2.5v2h-2.5zM246.4 646h2.5v2h-2.5zM253.9 646h2.5v2h-2.5zM271.2 646h2.5v2h-2.5zM276.2 646h2.5v2h-2.5zM291.1 646h5.0v2h-5.0zM313.4 646h2.5v2h-2.5zM318.4 646h5.0v2h-5.0zM325.8 646h2.5v2h-2.5zM330.8 646h5.0v2h-5.0zM350.6 646h5.0v2h-5.0zM382.9 646h2.5v2h-2.5zM387.8 646h5.0v2h-5.0zM402.7 646h5.0v2h-5.0zM439.9 646h2.5v2h-2.5zM454.8 646h2.5v2h-2.5zM459.8 646h2.5v2h-2.5zM479.6 646h2.5v2h-2.5zM0.8 648h2.5v2h-2.5zM10.7 648h2.5v2h-2.5zM28.1 648h2.5v2h-2.5zM92.6 648h2.5v2h-2.5zM105.0 648h2.5v2h-2.5zM117.4 648h7.4v2h-7.4zM159.6 648h5.0v2h-5.0zM169.5 648h2.5v2h-2.5zM181.9 648h5.0v2h-5.0zM194.3 648h2.5v2h-2.5zM231.5 648h2.5v2h-2.5zM266.3 648h2.5v2h-2.5zM276.2 648h5.0v2h-5.0zM320.8 648h2.5v2h-2.5zM325.8 648h2.5v2h-2.5zM338.2 648h5.0v2h-5.0zM368.0 648h5.0v2h-5.0zM392.8 648h2.5v2h-2.5zM400.2 648h2.5v2h-2.5zM425.1 648h2.5v2h-2.5zM457.3 648h2.5v2h-2.5zM467.2 648h2.5v2h-2.5zM474.7 648h5.0v2h-5.0zM0.8 650h2.5v2h-2.5zM15.7 650h2.5v2h-2.5zM20.6 650h7.4v2h-7.4zM30.6 650h2.5v2h-2.5zM50.4 650h7.4v2h-7.4zM92.6 650h5.0v2h-5.0zM100.0 650h2.5v2h-2.5zM105.0 650h9.9v2h-9.9zM119.9 650h2.5v2h-2.5zM124.8 650h2.5v2h-2.5zM139.7 650h2.5v2h-2.5zM152.1 650h2.5v2h-2.5zM162.1 650h7.4v2h-7.4zM177.0 650h2.5v2h-2.5zM186.9 650h2.5v2h-2.5zM196.8 650h2.5v2h-2.5zM204.2 650h2.5v2h-2.5zM219.1 650h2.5v2h-2.5zM224.1 650h7.4v2h-7.4zM234.0 650h9.9v2h-9.9zM258.8 650h7.4v2h-7.4zM271.2 650h2.5v2h-2.5zM288.6 650h5.0v2h-5.0zM301.0 650h2.5v2h-2.5zM318.4 650h2.5v2h-2.5zM325.8 650h2.5v2h-2.5zM343.2 650h9.9v2h-9.9zM407.7 650h2.5v2h-2.5zM439.9 650h5.0v2h-5.0zM449.9 650h2.5v2h-2.5zM457.3 650h2.5v2h-2.5zM464.7 650h2.5v2h-2.5zM477.2 650h2.5v2h-2.5zM0.8 652h7.4v2h-7.4zM13.2 652h14.9v2h-14.9zM33.1 652h2.5v2h-2.5zM60.3 652h5.0v2h-5.0zM105.0 652h7.4v2h-7.4zM124.8 652h2.5v2h-2.5zM132.3 652h5.0v2h-5.0zM149.7 652h5.0v2h-5.0zM159.6 652h5.0v2h-5.0zM172.0 652h2.5v2h-2.5zM186.9 652h2.5v2h-2.5zM191.8 652h2.5v2h-2.5zM196.8 652h2.5v2h-2.5zM239.0 652h5.0v2h-5.0zM263.8 652h5.0v2h-5.0zM271.2 652h9.9v2h-9.9zM283.6 652h2.5v2h-2.5zM288.6 652h2.5v2h-2.5zM313.4 652h2.5v2h-2.5zM318.4 652h2.5v2h-2.5zM323.3 652h2.5v2h-2.5zM340.7 652h5.0v2h-5.0zM350.6 652h7.4v2h-7.4zM400.2 652h2.5v2h-2.5zM407.7 652h2.5v2h-2.5zM420.1 652h2.5v2h-2.5zM439.9 652h7.4v2h-7.4zM472.2 652h2.5v2h-2.5zM477.2 652h2.5v2h-2.5zM482.1 652h5.0v2h-5.0zM489.6 652h2.5v2h-2.5z"/>
<path fill="#033a03" d="M444.9 518h2.5v2h-2.5zM457.3 518h2.5v2h-2.5zM3.3 520h2.5v2h-2.5zM85.2 520h2.5v2h-2.5zM100.0 520h5.0v2h-5.0zM464.7 520h2.5v2h-2.5zM100.0 522h2.5v2h-2.5zM147.2 522h2.5v2h-2.5zM152.1 522h9.9v2h-9.9zM189.4 522h2.5v2h-2.5zM226.6 522h2.5v2h-2.5zM261.3 522h7.4v2h-7.4zM363.0 522h2.5v2h-2.5zM377.9 522h2.5v2h-2.5zM479.6 522h2.5v2h-2.5zM0.8 524h2.5v2h-2.5zM23.1 524h2.5v2h-2.5zM28.1 524h2.5v2h-2.5zM102.5 524h5.0v2h-5.0zM152.1 524h5.0v2h-5.0zM177.0 524h2.5v2h-2.5zM315.9 524h2.5v2h-2.5zM330.8 524h5.0v2h-5.0zM338.2 524h2.5v2h-2.5zM350.6 524h5.0v2h-5.0zM372.9 524h5.0v2h-5.0zM412.6 524h2.5v2h-2.5zM449.9 524h2.5v2h-2.5zM467.2 524h5.0v2h-5.0zM479.6 524h7.4v2h-7.4zM38.0 526h2.5v2h-2.5zM92.6 526h2.5v2h-2.5zM132.3 526h2.5v2h-2.5zM137.3 526h2.5v2h-2.5zM241.5 526h2.5v2h-2.5zM256.3 526h2.5v2h-2.5zM368.0 526h2.5v2h-2.5zM0.8 528h2.5v2h-2.5zM77.7 528h5.0v2h-5.0zM90.1 528h2.5v2h-2.5zM100.0 528h2.5v2h-2.5zM117.4 528h2.5v2h-2.5zM122.4 528h2.5v2h-2.5zM157.1 528h5.0v2h-5.0zM196.8 528h2.5v2h-2.5zM206.7 528h2.5v2h-2.5zM256.3 528h2.5v2h-2.5zM303.5 528h2.5v2h-2.5zM363.0 528h2.5v2h-2.5zM368.0 528h5.0v2h-5.0zM397.8 528h2.5v2h-2.5zM472.2 528h2.5v2h-2.5zM477.2 528h2.5v2h-2.5zM172.0 530h2.5v2h-2.5zM206.7 530h2.5v2h-2.5zM224.1 530h5.0v2h-5.0zM253.9 530h2.5v2h-2.5zM23.1 532h2.5v2h-2.5zM30.6 532h2.5v2h-2.5zM57.9 532h2.5v2h-2.5zM102.5 532h5.0v2h-5.0zM139.7 532h2.5v2h-2.5zM191.8 532h2.5v2h-2.5zM253.9 532h2.5v2h-2.5zM363.0 532h2.5v2h-2.5zM372.9 532h2.5v2h-2.5zM420.1 532h2.5v2h-2.5zM65.3 534h5.0v2h-5.0zM80.2 534h7.4v2h-7.4zM100.0 534h2.5v2h-2.5zM114.9 534h5.0v2h-5.0zM199.3 534h2.5v2h-2.5zM241.5 534h5.0v2h-5.0zM256.3 534h2.5v2h-2.5zM420.1 534h2.5v2h-2.5zM3.3 536h5.0v2h-5.0zM23.1 536h2.5v2h-2.5zM77.7 536h2.5v2h-2.5zM149.7 536h2.5v2h-2.5zM157.1 536h2.5v2h-2.5zM211.7 536h5.0v2h-5.0zM363.0 536h5.0v2h-5.0zM479.6 536h5.0v2h-5.0zM489.6 536h2.5v2h-2.5zM18.2 538h2.5v2h-2.5zM209.2 538h2.5v2h-2.5zM276.2 538h2.5v2h-2.5zM365.5 538h2.5v2h-2.5zM439.9 538h7.4v2h-7.4zM472.2 538h5.0v2h-5.0zM97.6 540h2.5v2h-2.5zM110.0 540h2.5v2h-2.5zM236.5 540h2.5v2h-2.5zM246.4 540h2.5v2h-2.5zM365.5 540h2.5v2h-2.5zM3.3 542h2.5v2h-2.5zM43.0 542h2.5v2h-2.5zM75.2 542h2.5v2h-2.5zM95.1 542h5.0v2h-5.0zM105.0 542h2.5v2h-2.5zM181.9 542h2.5v2h-2.5zM239.0 542h2.5v2h-2.5zM310.9 542h2.5v2h-2.5zM43.0 544h2.5v2h-2.5zM72.7 544h2.5v2h-2.5zM85.2 544h5.0v2h-5.0zM281.2 544h2.5v2h-2.5zM355.6 544h5.0v2h-5.0zM390.3 544h5.0v2h-5.0zM360.5 546h2.5v2h-2.5zM358.1 548h5.0v2h-5.0zM372.9 548h2.5v2h-2.5zM380.4 548h2.5v2h-2.5zM159.6 550h5.0v2h-5.0zM226.6 552h2.5v2h-2.5zM10.7 554h2.5v2h-2.5zM87.6 554h2.5v2h-2.5zM164.5 554h2.5v2h-2.5zM256.3 554h2.5v2h-2.5zM296.0 554h2.5v2h-2.5zM306.0 554h2.5v2h-2.5zM30.6 556h2.5v2h-2.5zM119.9 556h2.5v2h-2.5zM129.8 556h2.5v2h-2.5zM169.5 556h7.4v2h-7.4zM204.2 556h5.0v2h-5.0zM256.3 556h2.5v2h-2.5zM390.3 556h5.0v2h-5.0zM422.6 556h5.0v2h-5.0zM442.4 556h2.5v2h-2.5zM474.7 556h2.5v2h-2.5zM482.1 556h2.5v2h-2.5zM487.1 556h5.0v2h-5.0zM25.6 558h2.5v2h-2.5zM30.6 558h5.0v2h-5.0zM45.5 558h2.5v2h-2.5zM129.8 558h2.5v2h-2.5zM144.7 558h2.5v2h-2.5zM157.1 558h2.5v2h-2.5zM167.0 558h2.5v2h-2.5zM179.4 558h2.5v2h-2.5zM345.7 558h2.5v2h-2.5zM358.1 558h2.5v2h-2.5zM372.9 558h2.5v2h-2.5zM442.4 558h7.4v2h-7.4zM454.8 558h5.0v2h-5.0zM3.3 560h2.5v2h-2.5zM15.7 560h2.5v2h-2.5zM35.5 560h5.0v2h-5.0zM50.4 560h2.5v2h-2.5zM60.3 560h5.0v2h-5.0zM87.6 560h2.5v2h-2.5zM159.6 560h2.5v2h-2.5zM174.5 560h2.5v2h-2.5zM181.9 560h5.0v2h-5.0zM417.6 560h2.5v2h-2.5zM454.8 560h2.5v2h-2.5zM494.5 560h2.5v2h-2.5zM65.3 562h2.5v2h-2.5zM100.0 562h5.0v2h-5.0zM405.2 562h2.5v2h-2.5zM417.6 562h5.0v2h-5.0zM477.2 562h5.0v2h-5.0zM92.6 564h5.0v2h-5.0zM412.6 564h2.5v2h-2.5zM459.8 564h5.0v2h-5.0zM18.2 566h2.5v2h-2.5zM30.6 566h5.0v2h-5.0zM43.0 566h2.5v2h-2.5zM62.8 566h2.5v2h-2.5zM137.3 566h5.0v2h-5.0zM162.1 566h2.5v2h-2.5zM221.6 566h2.5v2h-2.5zM231.5 566h2.5v2h-2.5zM462.3 566h2.5v2h-2.5zM105.0 568h5.0v2h-5.0zM137.3 568h5.0v2h-5.0zM335.7 568h2.5v2h-2.5zM447.4 568h2.5v2h-2.5zM462.3 568h2.5v2h-2.5zM97.6 570h2.5v2h-2.5zM462.3 570h2.5v2h-2.5zM494.5 570h2.5v2h-2.5zM144.7 572h2.5v2h-2.5zM179.4 572h5.0v2h-5.0zM10.7 574h5.0v2h-5.0zM211.7 574h2.5v2h-2.5zM256.3 574h2.5v2h-2.5zM405.2 574h2.5v2h-2.5zM467.2 574h2.5v2h-2.5zM25.6 576h2.5v2h-2.5zM75.2 576h2.5v2h-2.5zM85.2 576h7.4v2h-7.4zM102.5 576h5.0v2h-5.0zM234.0 576h5.0v2h-5.0zM301.0 576h2.5v2h-2.5zM306.0 576h7.4v2h-7.4zM365.5 576h2.5v2h-2.5zM444.9 576h5.0v2h-5.0zM459.8 576h2.5v2h-2.5zM479.6 576h5.0v2h-5.0zM15.7 578h2.5v2h-2.5zM70.3 578h2.5v2h-2.5zM196.8 578h5.0v2h-5.0zM28.1 580h2.5v2h-2.5zM92.6 580h2.5v2h-2.5zM139.7 580h2.5v2h-2.5zM144.7 580h5.0v2h-5.0zM194.3 580h2.5v2h-2.5zM199.3 580h5.0v2h-5.0zM253.9 580h2.5v2h-2.5zM271.2 580h2.5v2h-2.5zM338.2 580h2.5v2h-2.5zM368.0 580h2.5v2h-2.5zM407.7 580h2.5v2h-2.5zM425.1 580h2.5v2h-2.5zM23.1 582h5.0v2h-5.0zM90.1 582h2.5v2h-2.5zM142.2 582h2.5v2h-2.5zM177.0 582h2.5v2h-2.5zM266.3 582h2.5v2h-2.5zM363.0 582h2.5v2h-2.5zM385.4 582h5.0v2h-5.0zM417.6 582h2.5v2h-2.5zM333.3 584h2.5v2h-2.5zM90.1 586h2.5v2h-2.5zM325.8 586h5.0v2h-5.0zM57.9 588h2.5v2h-2.5zM97.6 588h2.5v2h-2.5zM132.3 588h2.5v2h-2.5zM159.6 588h5.0v2h-5.0zM174.5 588h2.5v2h-2.5zM201.8 588h2.5v2h-2.5zM219.1 588h2.5v2h-2.5zM226.6 588h5.0v2h-5.0zM288.6 588h2.5v2h-2.5zM442.4 588h2.5v2h-2.5zM256.3 590h2.5v2h-2.5zM323.3 590h2.5v2h-2.5zM330.8 590h2.5v2h-2.5zM127.3 592h2.5v2h-2.5zM325.8 592h2.5v2h-2.5zM363.0 592h2.5v2h-2.5zM368.0 592h2.5v2h-2.5zM479.6 592h2.5v2h-2.5zM169.5 594h2.5v2h-2.5zM201.8 594h2.5v2h-2.5zM251.4 594h2.5v2h-2.5zM13.2 596h2.5v2h-2.5zM30.6 596h2.5v2h-2.5zM92.6 596h2.5v2h-2.5zM127.3 596h5.0v2h-5.0zM159.6 596h2.5v2h-2.5zM167.0 596h2.5v2h-2.5zM211.7 596h2.5v2h-2.5zM234.0 596h2.5v2h-2.5zM241.5 596h5.0v2h-5.0zM281.2 596h5.0v2h-5.0zM288.6 596h2.5v2h-2.5zM308.4 596h2.5v2h-2.5zM323.3 596h5.0v2h-5.0zM333.3 596h5.0v2h-5.0zM407.7 596h2.5v2h-2.5zM449.9 596h5.0v2h-5.0zM28.1 598h2.5v2h-2.5zM57.9 598h2.5v2h-2.5zM100.0 598h2.5v2h-2.5zM152.1 598h2.5v2h-2.5zM169.5 598h2.5v2h-2.5zM211.7 598h2.5v2h-2.5zM345.7 598h2.5v2h-2.5zM365.5 598h2.5v2h-2.5zM405.2 598h2.5v2h-2.5zM439.9 598h2.5v2h-2.5zM477.2 598h2.5v2h-2.5zM211.7 600h2.5v2h-2.5zM276.2 600h2.5v2h-2.5zM350.6 600h5.0v2h-5.0zM387.8 600h2.5v2h-2.5zM462.3 600h2.5v2h-2.5zM20.6 604h2.5v2h-2.5zM152.1 604h2.5v2h-2.5zM23.1 606h2.5v2h-2.5zM28.1 606h2.5v2h-2.5zM70.3 606h2.5v2h-2.5zM122.4 606h2.5v2h-2.5zM177.0 606h2.5v2h-2.5zM201.8 606h7.4v2h-7.4zM251.4 606h5.0v2h-5.0zM467.2 606h2.5v2h-2.5zM20.6 608h2.5v2h-2.5zM127.3 608h2.5v2h-2.5zM169.5 608h2.5v2h-2.5zM343.2 608h2.5v2h-2.5zM360.5 608h2.5v2h-2.5zM380.4 608h2.5v2h-2.5zM5.8 610h7.4v2h-7.4zM33.1 610h2.5v2h-2.5zM72.7 610h2.5v2h-2.5zM80.2 610h2.5v2h-2.5zM100.0 610h2.5v2h-2.5zM110.0 610h2.5v2h-2.5zM122.4 610h5.0v2h-5.0zM177.0 610h2.5v2h-2.5zM422.6 610h2.5v2h-2.5zM65.3 612h2.5v2h-2.5zM87.6 612h2.5v2h-2.5zM147.2 612h2.5v2h-2.5zM204.2 612h2.5v2h-2.5zM380.4 612h5.0v2h-5.0zM412.6 612h7.4v2h-7.4zM8.2 614h2.5v2h-2.5zM23.1 614h5.0v2h-5.0zM35.5 614h7.4v2h-7.4zM57.9 614h2.5v2h-2.5zM164.5 614h2.5v2h-2.5zM196.8 614h5.0v2h-5.0zM239.0 614h2.5v2h-2.5zM370.5 614h2.5v2h-2.5zM385.4 614h5.0v2h-5.0zM47.9 616h7.4v2h-7.4zM122.4 616h2.5v2h-2.5zM132.3 616h2.5v2h-2.5zM191.8 616h5.0v2h-5.0zM241.5 616h2.5v2h-2.5zM20.6 618h2.5v2h-2.5zM57.9 618h5.0v2h-5.0zM95.1 618h2.5v2h-2.5zM112.4 618h2.5v2h-2.5zM122.4 618h2.5v2h-2.5zM139.7 618h2.5v2h-2.5zM387.8 618h2.5v2h-2.5zM3.3 620h5.0v2h-5.0zM45.5 620h2.5v2h-2.5zM72.7 620h2.5v2h-2.5zM92.6 620h5.0v2h-5.0zM114.9 620h9.9v2h-9.9zM191.8 620h9.9v2h-9.9zM224.1 620h2.5v2h-2.5zM20.6 622h2.5v2h-2.5zM47.9 622h2.5v2h-2.5zM65.3 622h2.5v2h-2.5zM102.5 622h2.5v2h-2.5zM117.4 622h2.5v2h-2.5zM154.6 622h7.4v2h-7.4zM206.7 624h2.5v2h-2.5zM231.5 624h2.5v2h-2.5zM246.4 624h2.5v2h-2.5zM0.8 626h2.5v2h-2.5zM30.6 626h7.4v2h-7.4zM43.0 626h5.0v2h-5.0zM52.9 626h2.5v2h-2.5zM95.1 626h9.9v2h-9.9zM110.0 626h2.5v2h-2.5zM122.4 626h2.5v2h-2.5zM129.8 626h5.0v2h-5.0zM286.1 626h2.5v2h-2.5zM372.9 626h2.5v2h-2.5zM110.0 628h2.5v2h-2.5zM214.2 628h2.5v2h-2.5zM231.5 628h2.5v2h-2.5zM246.4 628h2.5v2h-2.5zM318.4 628h2.5v2h-2.5zM338.2 628h2.5v2h-2.5zM385.4 628h2.5v2h-2.5zM5.8 630h2.5v2h-2.5zM52.9 630h2.5v2h-2.5zM77.7 630h2.5v2h-2.5zM201.8 630h2.5v2h-2.5zM10.7 632h2.5v2h-2.5zM55.4 632h2.5v2h-2.5zM77.7 632h2.5v2h-2.5zM38.0 634h2.5v2h-2.5zM154.6 634h5.0v2h-5.0zM243.9 634h5.0v2h-5.0zM368.0 634h2.5v2h-2.5zM15.7 636h5.0v2h-5.0zM80.2 636h2.5v2h-2.5zM117.4 636h2.5v2h-2.5zM162.1 636h2.5v2h-2.5zM179.4 636h2.5v2h-2.5zM214.2 636h2.5v2h-2.5zM239.0 636h2.5v2h-2.5zM122.4 638h5.0v2h-5.0zM320.8 638h2.5v2h-2.5zM28.1 640h2.5v2h-2.5zM52.9 640h2.5v2h-2.5zM87.6 640h12.4v2h-12.4zM139.7 640h5.0v2h-5.0zM209.2 640h5.0v2h-5.0zM301.0 640h7.4v2h-7.4zM328.3 640h2.5v2h-2.5zM23.1 642h2.5v2h-2.5zM72.7 642h5.0v2h-5.0zM114.9 642h2.5v2h-2.5zM144.7 642h2.5v2h-2.5zM308.4 642h2.5v2h-2.5zM350.6 642h2.5v2h-2.5zM355.6 642h5.0v2h-5.0zM90.1 644h2.5v2h-2.5zM102.5 644h5.0v2h-5.0zM167.0 644h2.5v2h-2.5zM385.4 644h2.5v2h-2.5zM449.9 644h2.5v2h-2.5zM487.1 644h2.5v2h-2.5zM298.5 646h2.5v2h-2.5zM345.7 646h2.5v2h-2.5zM368.0 646h2.5v2h-2.5zM395.3 646h2.5v2h-2.5zM72.7 648h2.5v2h-2.5zM90.1 648h2.5v2h-2.5zM97.6 648h2.5v2h-2.5zM196.8 648h2.5v2h-2.5zM318.4 648h2.5v2h-2.5zM62.8 650h2.5v2h-2.5zM209.2 650h7.4v2h-7.4zM303.5 650h2.5v2h-2.5zM375.4 650h2.5v2h-2.5zM397.8 650h2.5v2h-2.5zM425.1 650h2.5v2h-2.5zM484.6 650h2.5v2h-2.5zM139.7 652h2.5v2h-2.5zM368.0 652h2.5v2h-2.5zM392.8 652h2.5v2h-2.5z"/>
</g>
<path d="M2.4 364.5L4.9 364.5M2.4 364.5L2.4 371.5M4.9 364.5L4.9 371.5M9.9 367.0L12.4 367.0M9.9 367.0L9.9 371.5M12.4 367.0L12.4 371.5M7.4 363.4L11.1 363.4M7.4 363.4L7.4 371.5M11.1 363.4L11.1 367.0M3.7 361.8L9.3 361.8M3.7 361.8L3.7 364.5M9.3 361.8L9.3 363.4M6.5 360.8L14.8 360.8M6.5 360.8L6.5 361.8M14.8 360.8L14.8 371.5M10.7 360.0L17.3 360.0M10.7 360.0L10.7 360.8M17.3 360.0L17.3 371.5M19.8 364.5L22.3 364.5M19.8 364.5L19.8 371.5M22.3 364.5L22.3 371.5M27.2 369.5L29.7 369.5M27.2 369.5L27.2 371.5M29.7 369.5L29.7 371.5M24.8 369.5L28.5 369.5M24.8 369.5L24.8 371.5M28.5 369.5L28.5 369.5M32.2 369.5L34.7 369.5M32.2 369.5L32.2 371.5M34.7 369.5L34.7 371.5M26.6 369.3L33.4 369.3M26.6 369.3L26.6 369.5M33.4 369.3L33.4 369.5M42.1 369.5L44.6 369.5M42.1 369.5L42.1 371.5M44.6 369.5L44.6 371.5M39.6 369.5L43.3 369.5M39.6 369.5L39.6 371.5M43.3 369.5L43.3 369.5M37.1 369.1L41.5 369.1M37.1 369.1L37.1 371.5M41.5 369.1L41.5 369.5M47.1 369.5L49.5 369.5M47.1 369.5L47.1 371.5M49.5 369.5L49.5 371.5M54.5 369.5L57.0 369.5M54.5 369.5L54.5 371.5M57.0 369.5L57.0 371.5M55.7 369.5L59.5 369.5M55.7 369.5L55.7 369.5M59.5 369.5L59.5 371.5M52.0 369.5L57.6 369.5M52.0 369.5L52.0 371.5M57.6 369.5L57.6 369.5M48.3 369.5L54.8 369.5M48.3 369.5L48.3 369.5M54.8 369.5L54.8 369.5M39.3 368.4L51.6 368.4M39.3 368.4L39.3 369.1M51.6 368.4L51.6 369.5M30.0 367.5L45.4 367.5M30.0 367.5L30.0 369.3M45.4 367.5L45.4 368.4M61.9 368.5L64.4 368.5M61.9 368.5L61.9 371.5M64.4 368.5L64.4 371.5M37.7 365.1L63.2 365.1M37.7 365.1L37.7 367.5M63.2 365.1L63.2 368.5M21.0 363.0L50.5 363.0M21.0 363.0L21.0 364.5M50.5 363.0L50.5 365.1M74.3 369.5L76.8 369.5M74.3 369.5L74.3 371.5M76.8 369.5L76.8 371.5M71.9 368.8L75.6 368.8M71.9 368.8L71.9 371.5M75.6 368.8L75.6 369.5M69.4 365.1L73.7 365.1M69.4 365.1L69.4 371.5M73.7 365.1L73.7 368.8M79.3 369.5L81.8 369.5M79.3 369.5L79.3 371.5M81.8 369.5L81.8 371.5M86.7 369.5L89.2 369.5M86.7 369.5L86.7 371.5M89.2 369.5L89.2 371.5M88.0 369.5L91.7 369.5M88.0 369.5L88.0 369.5M91.7 369.5L91.7 371.5M84.2 369.5L89.8 369.5M84.2 369.5L84.2 371.5M89.8 369.5L89.8 369.5M80.5 368.0L87.0 368.0M80.5 368.0L80.5 369.5M87.0 368.0L87.0 369.5M83.8 366.8L94.2 366.8M83.8 366.8L83.8 368.0M94.2 366.8L94.2 371.5M71.5 364.5L89.0 364.5M71.5 364.5L71.5 365.1M89.0 364.5L89.0 366.8M66.9 362.8L80.3 362.8M66.9 362.8L66.9 371.5M80.3 362.8L80.3 364.5M35.7 360.8L73.6 360.8M35.7 360.8L35.7 363.0M73.6 360.8L73.6 362.8M96.6 364.8L99.1 364.8M96.6 364.8L96.6 371.5M99.1 364.8L99.1 371.5M101.6 366.8L104.1 366.8M101.6 366.8L101.6 371.5M104.1 366.8L104.1 371.5M102.8 365.3L106.6 365.3M102.8 365.3L102.8 366.8M106.6 365.3L106.6 371.5M114.0 369.5L116.5 369.5M114.0 369.5L114.0 371.5M116.5 369.5L116.5 371.5M111.5 367.8L115.2 367.8M111.5 367.8L111.5 371.5M115.2 367.8L115.2 369.5M113.4 366.7L119.0 366.7M113.4 366.7L113.4 367.8M119.0 366.7L119.0 371.5M109.0 364.3L116.2 364.3M109.0 364.3L109.0 371.5M116.2 364.3L116.2 366.7M104.7 363.4L112.6 363.4M104.7 363.4L104.7 365.3M112.6 363.4L112.6 364.3M97.9 361.2L108.6 361.2M97.9 361.2L97.9 364.8M108.6 361.2L108.6 363.4M54.7 360.0L103.3 360.0M54.7 360.0L54.7 360.8M103.3 360.0L103.3 361.2M121.4 367.2L123.9 367.2M121.4 367.2L121.4 371.5M123.9 367.2L123.9 371.5M126.4 366.0L128.9 366.0M126.4 366.0L126.4 371.5M128.9 366.0L128.9 371.5M122.7 363.6L127.6 363.6M122.7 363.6L122.7 367.2M127.6 363.6L127.6 366.0M131.3 367.3L133.8 367.3M131.3 367.3L131.3 371.5M133.8 367.3L133.8 371.5M132.6 363.6L136.3 363.6M132.6 363.6L132.6 367.3M136.3 363.6L136.3 371.5M125.2 362.2L134.4 362.2M125.2 362.2L125.2 363.6M134.4 362.2L134.4 363.6M146.2 369.5L148.7 369.5M146.2 369.5L146.2 371.5M148.7 369.5L148.7 371.5M143.7 367.9L147.5 367.9M143.7 367.9L143.7 371.5M147.5 367.9L147.5 369.5M141.3 365.7L145.6 365.7M141.3 365.7L141.3 371.5M145.6 365.7L145.6 367.9M138.8 363.5L143.4 363.5M138.8 363.5L138.8 371.5M143.4 363.5L143.4 365.7M153.7 368.4L156.1 368.4M153.7 368.4L153.7 371.5M156.1 368.4L156.1 371.5M151.2 366.6L154.9 366.6M151.2 366.6L151.2 371.5M154.9 366.6L154.9 368.4M153.0 363.6L158.6 363.6M153.0 363.6L153.0 366.6M158.6 363.6L158.6 371.5M141.1 362.2L155.8 362.2M141.1 362.2L141.1 363.5M155.8 362.2L155.8 363.6M129.8 360.1L148.5 360.1M129.8 360.1L129.8 362.2M148.5 360.1L148.5 362.2M79.0 359.1L139.1 359.1M79.0 359.1L79.0 360.0M139.1 359.1L139.1 360.1M14.0 358.2L109.0 358.2M14.0 358.2L14.0 360.0M109.0 358.2L109.0 359.1M163.6 365.4L166.1 365.4M163.6 365.4L163.6 371.5M166.1 365.4L166.1 371.5M161.1 363.7L164.8 363.7M161.1 363.7L161.1 371.5M164.8 363.7L164.8 365.4M163.0 361.8L168.5 361.8M163.0 361.8L163.0 363.7M168.5 361.8L168.5 371.5M171.0 367.2L173.5 367.2M171.0 367.2L171.0 371.5M173.5 367.2L173.5 371.5M176.0 369.5L178.4 369.5M176.0 369.5L176.0 371.5M178.4 369.5L178.4 371.5M177.2 367.4L180.9 367.4M177.2 367.4L177.2 369.5M180.9 367.4L180.9 371.5M172.3 364.2L179.1 364.2M172.3 364.2L172.3 367.2M179.1 364.2L179.1 367.4M183.4 364.6L185.9 364.6M183.4 364.6L183.4 371.5M185.9 364.6L185.9 371.5M175.7 362.2L184.6 362.2M175.7 362.2L175.7 364.2M184.6 362.2L184.6 364.6M165.7 360.0L180.2 360.0M165.7 360.0L165.7 361.8M180.2 360.0L180.2 362.2M190.8 368.9L193.3 368.9M190.8 368.9L190.8 371.5M193.3 368.9L193.3 371.5M188.4 366.0L192.1 366.0M188.4 366.0L188.4 371.5M192.1 366.0L192.1 368.9M190.2 363.4L195.8 363.4M190.2 363.4L190.2 366.0M195.8 363.4L195.8 371.5M198.3 368.7L200.8 368.7M198.3 368.7L198.3 371.5M200.8 368.7L200.8 371.5M203.2 369.3L205.7 369.3M203.2 369.3L203.2 371.5M205.7 369.3L205.7 371.5M199.5 365.9L204.5 365.9M199.5 365.9L199.5 368.7M204.5 365.9L204.5 369.3M210.7 369.5L213.2 369.5M210.7 369.5L210.7 371.5M213.2 369.5L213.2 371.5M211.9 368.9L215.6 368.9M211.9 368.9L211.9 369.5M215.6 368.9L215.6 371.5M208.2 366.0L213.8 366.0M208.2 366.0L208.2 371.5M213.8 366.0L213.8 368.9M202.0 363.9L211.0 363.9M202.0 363.9L202.0 365.9M211.0 363.9L211.0 366.0M193.0 361.8L206.5 361.8M193.0 361.8L193.0 363.4M206.5 361.8L206.5 363.9M218.1 364.4L220.6 364.4M218.1 364.4L218.1 371.5M220.6 364.4L220.6 371.5M223.1 363.4L225.5 363.4M223.1 363.4L223.1 371.5M225.5 363.4L225.5 371.5M219.4 361.1L224.3 361.1M219.4 361.1L219.4 364.4M224.3 361.1L224.3 363.4M199.8 359.5L221.8 359.5M199.8 359.5L199.8 361.8M221.8 359.5L221.8 361.1M172.9 357.7L210.8 357.7M172.9 357.7L172.9 360.0M210.8 357.7L210.8 359.5M61.5 356.8L191.9 356.8M61.5 356.8L61.5 358.2M191.9 356.8L191.9 357.7M228.0 365.7L230.5 365.7M228.0 365.7L228.0 371.5M230.5 365.7L230.5 371.5M233.0 367.1L235.5 367.1M233.0 367.1L233.0 371.5M235.5 367.1L235.5 371.5M229.3 364.2L234.2 364.2M229.3 364.2L229.3 365.7M234.2 364.2L234.2 367.1M237.9 365.3L240.4 365.3M237.9 365.3L237.9 371.5M240.4 365.3L240.4 371.5M231.7 362.3L239.2 362.3M231.7 362.3L231.7 364.2M239.2 362.3L239.2 365.3M242.9 362.6L245.4 362.6M242.9 362.6L242.9 371.5M245.4 362.6L245.4 371.5M247.9 362.4L250.3 362.4M247.9 362.4L247.9 371.5M250.3 362.4L250.3 371.5M244.1 361.0L249.1 361.0M244.1 361.0L244.1 362.6M249.1 361.0L249.1 362.4M235.5 360.3L246.6 360.3M235.5 360.3L235.5 362.3M246.6 360.3L246.6 361.0M257.8 363.0L260.3 363.0M257.8 363.0L257.8 371.5M260.3 363.0L260.3 371.5M255.3 361.0L259.0 361.0M255.3 361.0L255.3 371.5M259.0 361.0L259.0 363.0M252.8 359.9L257.2 359.9M252.8 359.9L252.8 371.5M257.2 359.9L257.2 361.0M241.0 359.0L255.0 359.0M241.0 359.0L241.0 360.3M255.0 359.0L255.0 359.9M267.7 365.5L270.2 365.5M267.7 365.5L267.7 371.5M270.2 365.5L270.2 371.5M265.2 363.4L268.9 363.4M265.2 363.4L265.2 371.5M268.9 363.4L268.9 365.5M262.7 361.2L267.1 361.2M262.7 361.2L262.7 371.5M267.1 361.2L267.1 363.4M272.7 362.4L275.1 362.4M272.7 362.4L272.7 371.5M275.1 362.4L275.1 371.5M264.9 359.0L273.9 359.0M264.9 359.0L264.9 361.2M273.9 359.0L273.9 362.4M248.0 357.3L269.4 357.3M248.0 357.3L248.0 359.0M269.4 357.3L269.4 359.0M277.6 359.8L280.1 359.8M277.6 359.8L277.6 371.5M280.1 359.8L280.1 371.5M282.6 361.6L285.0 361.6M282.6 361.6L282.6 371.5M285.0 361.6L285.0 371.5M278.8 357.9L283.8 357.9M278.8 357.9L278.8 359.8M283.8 357.9L283.8 361.6M287.5 363.6L290.0 363.6M287.5 363.6L287.5 371.5M290.0 363.6L290.0 371.5M292.5 364.8L295.0 364.8M292.5 364.8L292.5 371.5M295.0 364.8L295.0 371.5M288.8 361.1L293.7 361.1M288.8 361.1L288.8 363.6M293.7 361.1L293.7 364.8M291.2 360.2L297.4 360.2M291.2 360.2L291.2 361.1M297.4 360.2L297.4 371.5M294.3 358.4L299.9 358.4M294.3 358.4L294.3 360.2M299.9 358.4L299.9 371.5M281.3 357.1L297.1 357.1M281.3 357.1L281.3 357.9M297.1 357.1L297.1 358.4M258.7 356.4L289.2 356.4M258.7 356.4L258.7 357.3M289.2 356.4L289.2 357.1M126.7 354.5L274.0 354.5M126.7 354.5L126.7 356.8M274.0 354.5L274.0 356.4M302.4 360.9L304.9 360.9M302.4 360.9L302.4 371.5M304.9 360.9L304.9 371.5M307.4 360.5L309.8 360.5M307.4 360.5L307.4 371.5M309.8 360.5L309.8 371.5M303.6 358.7L308.6 358.7M303.6 358.7L303.6 360.9M308.6 358.7L308.6 360.5M312.3 362.2L314.8 362.2M312.3 362.2L312.3 371.5M314.8 362.2L314.8 371.5M313.6 358.6L317.3 358.6M313.6 358.6L313.6 362.2M317.3 358.6L317.3 371.5M306.1 356.5L315.4 356.5M306.1 356.5L306.1 358.7M315.4 356.5L315.4 358.6M319.8 365.1L322.2 365.1M319.8 365.1L319.8 371.5M322.2 365.1L322.2 371.5M324.7 366.8L327.2 366.8M324.7 366.8L324.7 371.5M327.2 366.8L327.2 371.5M329.7 366.0L332.1 366.0M329.7 366.0L329.7 371.5M332.1 366.0L332.1 371.5M325.9 363.5L330.9 363.5M325.9 363.5L325.9 366.8M330.9 363.5L330.9 366.0M321.0 362.4L328.4 362.4M321.0 362.4L321.0 365.1M328.4 362.4L328.4 363.5M324.7 360.9L334.6 360.9M324.7 360.9L324.7 362.4M334.6 360.9L334.6 371.5M337.1 364.8L339.6 364.8M337.1 364.8L337.1 371.5M339.6 364.8L339.6 371.5M338.3 363.4L342.1 363.4M338.3 363.4L338.3 364.8M342.1 363.4L342.1 371.5M344.5 367.3L347.0 367.3M344.5 367.3L344.5 371.5M347.0 367.3L347.0 371.5M349.5 367.8L352.0 367.8M349.5 367.8L349.5 371.5M352.0 367.8L352.0 371.5M345.8 366.0L350.7 366.0M345.8 366.0L345.8 367.3M350.7 366.0L350.7 367.8M354.5 366.2L356.9 366.2M354.5 366.2L354.5 371.5M356.9 366.2L356.9 371.5M348.3 364.3L355.7 364.3M348.3 364.3L348.3 366.0M355.7 364.3L355.7 366.2M352.0 362.8L359.4 362.8M352.0 362.8L352.0 364.3M359.4 362.8L359.4 371.5M340.2 361.7L355.7 361.7M340.2 361.7L340.2 363.4M355.7 361.7L355.7 362.8M329.7 359.4L348.0 359.4M329.7 359.4L329.7 360.9M348.0 359.4L348.0 361.7M361.9 360.7L364.4 360.7M361.9 360.7L361.9 371.5M364.4 360.7L364.4 371.5M338.8 358.2L363.1 358.2M338.8 358.2L338.8 359.4M363.1 358.2L363.1 360.7M371.8 366.9L374.3 366.9M371.8 366.9L371.8 371.5M374.3 366.9L374.3 371.5M369.3 364.3L373.0 364.3M369.3 364.3L369.3 371.5M373.0 364.3L373.0 366.9M366.9 360.7L371.2 360.7M366.9 360.7L366.9 371.5M371.2 360.7L371.2 364.3M376.8 362.9L379.2 362.9M376.8 362.9L376.8 371.5M379.2 362.9L379.2 371.5M369.0 359.7L378.0 359.7M369.0 359.7L369.0 360.7M378.0 359.7L378.0 362.9M381.7 366.0L384.2 366.0M381.7 366.0L381.7 371.5M384.2 366.0L384.2 371.5M383.0 362.4L386.7 362.4M383.0 362.4L383.0 366.0M386.7 362.4L386.7 371.5M389.2 362.5L391.6 362.5M389.2 362.5L389.2 371.5M391.6 362.5L391.6 371.5M394.1 364.3L396.6 364.3M394.1 364.3L394.1 371.5M396.6 364.3L396.6 371.5M390.4 360.9L395.4 360.9M390.4 360.9L390.4 362.5M395.4 360.9L395.4 364.3M384.8 359.6L392.9 359.6M384.8 359.6L384.8 362.4M392.9 359.6L392.9 360.9M373.5 358.0L388.9 358.0M373.5 358.0L373.5 359.7M388.9 358.0L388.9 359.6M351.0 356.8L381.2 356.8M351.0 356.8L351.0 358.2M381.2 356.8L381.2 358.0M310.8 355.7L366.1 355.7M310.8 355.7L310.8 356.5M366.1 355.7L366.1 356.8M401.6 360.9L404.0 360.9M401.6 360.9L401.6 371.5M404.0 360.9L404.0 371.5M409.0 364.0L411.5 364.0M409.0 364.0L409.0 371.5M411.5 364.0L411.5 371.5M406.5 362.1L410.2 362.1M406.5 362.1L406.5 371.5M410.2 362.1L410.2 364.0M402.8 359.6L408.4 359.6M402.8 359.6L402.8 360.9M408.4 359.6L408.4 362.1M414.0 360.2L416.4 360.2M414.0 360.2L414.0 371.5M416.4 360.2L416.4 371.5M405.6 357.6L415.2 357.6M405.6 357.6L405.6 359.6M415.2 357.6L415.2 360.2M399.1 356.2L410.4 356.2M399.1 356.2L399.1 371.5M410.4 356.2L410.4 357.6M338.4 354.1L404.7 354.1M338.4 354.1L338.4 355.7M404.7 354.1L404.7 356.2M421.4 365.1L423.9 365.1M421.4 365.1L421.4 371.5M423.9 365.1L423.9 371.5M422.6 363.5L426.3 363.5M422.6 363.5L422.6 365.1M426.3 363.5L426.3 371.5M424.5 362.4L428.8 362.4M424.5 362.4L424.5 363.5M428.8 362.4L428.8 371.5M418.9 360.0L426.7 360.0M418.9 360.0L418.9 371.5M426.7 360.0L426.7 362.4M431.3 361.8L433.8 361.8M431.3 361.8L431.3 371.5M433.8 361.8L433.8 371.5M422.8 358.1L432.5 358.1M422.8 358.1L422.8 360.0M432.5 358.1L432.5 361.8M441.2 363.6L443.7 363.6M441.2 363.6L441.2 371.5M443.7 363.6L443.7 371.5M438.7 362.5L442.5 362.5M438.7 362.5L438.7 371.5M442.5 362.5L442.5 363.6M436.3 361.1L440.6 361.1M436.3 361.1L436.3 371.5M440.6 361.1L440.6 362.5M451.1 366.5L453.6 366.5M451.1 366.5L451.1 371.5M453.6 366.5L453.6 371.5M452.4 364.6L456.1 364.6M452.4 364.6L452.4 366.5M456.1 364.6L456.1 371.5M458.6 367.7L461.1 367.7M458.6 367.7L458.6 371.5M461.1 367.7L461.1 371.5M459.8 365.7L463.5 365.7M459.8 365.7L459.8 367.7M463.5 365.7L463.5 371.5M454.2 363.3L461.7 363.3M454.2 363.3L454.2 364.6M461.7 363.3L461.7 365.7M448.7 361.3L458.0 361.3M448.7 361.3L448.7 371.5M458.0 361.3L458.0 363.3M446.2 360.6L453.3 360.6M446.2 360.6L446.2 371.5M453.3 360.6L453.3 361.3M438.4 359.4L449.7 359.4M438.4 359.4L438.4 361.1M449.7 359.4L449.7 360.6M471.0 367.0L473.4 367.0M471.0 367.0L471.0 371.5M473.4 367.0L473.4 371.5M472.2 364.3L475.9 364.3M472.2 364.3L472.2 367.0M475.9 364.3L475.9 371.5M468.5 360.7L474.1 360.7M468.5 360.7L468.5 371.5M474.1 360.7L474.1 364.3M466.0 359.0L471.3 359.0M466.0 359.0L466.0 371.5M471.3 359.0L471.3 360.7M444.1 357.1L468.6 357.1M444.1 357.1L444.1 359.4M468.6 357.1L468.6 359.0M427.7 356.3L456.4 356.3M427.7 356.3L427.7 358.1M456.4 356.3L456.4 357.1M478.4 358.9L480.9 358.9M478.4 358.9L478.4 371.5M480.9 358.9L480.9 371.5M485.8 360.1L488.3 360.1M485.8 360.1L485.8 371.5M488.3 360.1L488.3 371.5M483.4 358.7L487.1 358.7M483.4 358.7L483.4 371.5M487.1 358.7L487.1 360.1M490.8 362.4L493.3 362.4M490.8 362.4L490.8 371.5M493.3 362.4L493.3 371.5M492.0 359.5L495.8 359.5M492.0 359.5L492.0 362.4M495.8 359.5L495.8 371.5M485.2 356.6L493.9 356.6M485.2 356.6L485.2 358.7M493.9 356.6L493.9 359.5M479.6 355.8L489.6 355.8M479.6 355.8L479.6 358.9M489.6 355.8L489.6 356.6M442.0 354.2L484.6 354.2M442.0 354.2L442.0 356.3M484.6 354.2L484.6 355.8M371.6 353.5L463.3 353.5M371.6 353.5L371.6 354.1M463.3 353.5L463.3 354.2M200.3 352.2L417.4 352.2M200.3 352.2L200.3 354.5M417.4 352.2L417.4 353.5" stroke="#6e6e6e" stroke-width="0.4" fill="none"/>
<line x1="1" y1="351.3" x2="497" y2="351.3" stroke="#9a9a9a" stroke-width="0.5"/>
<rect x="15.5" y="347.3" width="414" height="2.5" fill="#a4a4a4"/>
<path d="M15.5 347.3v2.5M18.0 347.3v2.5M20.5 347.3v2.5M22.9 347.3v2.5M25.4 347.3v2.5M27.9 347.3v2.5M30.4 347.3v2.5M32.9 347.3v2.5M35.3 347.3v2.5M37.8 347.3v2.5M40.3 347.3v2.5M42.8 347.3v2.5M45.3 347.3v2.5M47.7 347.3v2.5M50.2 347.3v2.5M52.7 347.3v2.5M55.2 347.3v2.5M57.7 347.3v2.5M60.1 347.3v2.5M62.6 347.3v2.5M65.1 347.3v2.5M67.6 347.3v2.5M70.1 347.3v2.5M72.5 347.3v2.5M75.0 347.3v2.5M77.5 347.3v2.5M80.0 347.3v2.5M82.5 347.3v2.5M84.9 347.3v2.5M87.4 347.3v2.5M89.9 347.3v2.5M92.4 347.3v2.5M94.9 347.3v2.5M97.3 347.3v2.5M99.8 347.3v2.5M102.3 347.3v2.5M104.8 347.3v2.5M107.3 347.3v2.5M109.7 347.3v2.5M112.2 347.3v2.5M114.7 347.3v2.5M117.2 347.3v2.5M119.7 347.3v2.5M122.1 347.3v2.5M124.6 347.3v2.5M127.1 347.3v2.5M129.6 347.3v2.5M132.1 347.3v2.5M134.5 347.3v2.5M137.0 347.3v2.5M139.5 347.3v2.5M142.0 347.3v2.5M144.5 347.3v2.5M146.9 347.3v2.5M149.4 347.3v2.5M151.9 347.3v2.5M154.4 347.3v2.5M156.9 347.3v2.5M159.3 347.3v2.5M161.8 347.3v2.5M164.3 347.3v2.5M166.8 347.3v2.5M169.3 347.3v2.5M171.7 347.3v2.5M174.2 347.3v2.5M176.7 347.3v2.5M179.2 347.3v2.5M181.7 347.3v2.5M184.1 347.3v2.5M186.6 347.3v2.5M189.1 347.3v2.5M191.6 347.3v2.5M194.1 347.3v2.5M196.5 347.3v2.5M199.0 347.3v2.5M201.5 347.3v2.5M204.0 347.3v2.5M206.5 347.3v2.5M208.9 347.3v2.5M211.4 347.3v2.5M213.9 347.3v2.5M216.4 347.3v2.5M218.9 347.3v2.5M221.3 347.3v2.5M223.8 347.3v2.5M226.3 347.3v2.5M228.8 347.3v2.5M231.3 347.3v2.5M233.7 347.3v2.5M236.2 347.3v2.5M238.7 347.3v2.5M241.2 347.3v2.5M243.7 347.3v2.5M246.1 347.3v2.5M248.6 347.3v2.5M251.1 347.3v2.5M253.6 347.3v2.5M256.1 347.3v2.5M258.5 347.3v2.5M261.0 347.3v2.5M263.5 347.3v2.5M266.0 347.3v2.5M268.5 347.3v2.5M270.9 347.3v2.5M273.4 347.3v2.5M275.9 347.3v2.5M278.4 347.3v2.5M280.9 347.3v2.5M283.3 347.3v2.5M285.8 347.3v2.5M288.3 347.3v2.5M290.8 347.3v2.5M293.3 347.3v2.5M295.7 347.3v2.5M298.2 347.3v2.5M300.7 347.3v2.5M303.2 347.3v2.5M305.7 347.3v2.5M308.1 347.3v2.5M310.6 347.3v2.5M313.1 347.3v2.5M315.6 347.3v2.5M318.1 347.3v2.5M320.5 347.3v2.5M323.0 347.3v2.5M325.5 347.3v2.5M328.0 347.3v2.5M330.5 347.3v2.5M332.9 347.3v2.5M335.4 347.3v2.5M337.9 347.3v2.5M340.4 347.3v2.5M342.9 347.3v2.5M345.3 347.3v2.5M347.8 347.3v2.5M350.3 347.3v2.5M352.8 347.3v2.5M355.3 347.3v2.5M357.7 347.3v2.5M360.2 347.3v2.5M362.7 347.3v2.5M365.2 347.3v2.5M367.7 347.3v2.5M370.1 347.3v2.5M372.6 347.3v2.5M375.1 347.3v2.5M377.6 347.3v2.5M380.1 347.3v2.5M382.5 347.3v2.5M385.0 347.3v2.5M387.5 347.3v2.5M390.0 347.3v2.5M392.5 347.3v2.5M394.9 347.3v2.5M397.4 347.3v2.5M399.9 347.3v2.5M402.4 347.3v2.5M404.9 347.3v2.5M407.3 347.3v2.5M409.8 347.3v2.5M412.3 347.3v2.5M414.8 347.3v2.5M417.3 347.3v2.5M419.7 347.3v2.5M422.2 347.3v2.5M424.7 347.3v2.5M427.2 347.3v2.5" stroke="#e6e6e6" stroke-width="0.5"/>
<rect x="2.5" y="345" width="13" height="5" fill="#8cc6ee"/>
<rect x="429.5" y="345" width="10.5" height="5" fill="#8cc6ee"/>
<rect x="440" y="345" width="57" height="5" fill="#ee9a58"/>
<path d="M498 373.0h4.5M498 376.1h5.0M498 379.3h6.0M498 382.0h3.6M498 385.5h4.5M498 388.3h7.5M498 391.4h6.8M498 394.4h6.1M498 397.2h6.0M498 400.7h5.6M498 404.0h6.2M498 406.7h6.5M498 409.8h4.7M498 412.5h7.0M498 415.6h6.4M498 419.0h6.4M498 422.6h5.1M498 426.0h5.3M498 429.5h7.0M498 432.2h4.0M498 435.0h7.4M498 438.0h6.0M498 440.9h5.5M498 443.9h4.9M498 447.1h5.8M498 450.6h6.2M498 454.1h6.9M498 457.7h6.2M498 460.5h6.9M498 464.1h7.1M498 467.2h6.4M498 470.0h6.8M498 473.2h4.6M498 475.9h6.9M498 479.5h3.9M498 482.9h5.1M498 485.6h4.7M498 489.0h7.0M498 491.6h6.0M498 494.3h6.4M498 497.2h7.0M498 500.8h5.5M498 504.4h4.7M498 507.1h5.9M498 509.7h4.3M498 512.7h5.9M498 515.5h3.7M498 518.9h4.8M498 522.5h7.1M498 525.5h5.3M498 528.6h6.1M498 531.8h5.7M498 535.0h7.3M498 538.1h5.2M498 541.4h4.5M498 544.3h7.4M498 547.5h5.7M498 550.1h5.2M498 553.2h3.6M498 556.5h6.0M498 559.1h6.0M498 562.2h6.2M498 565.1h6.3M498 568.5h3.6M498 571.1h6.2M498 574.7h4.5M498 577.8h5.9M498 580.7h5.0M498 583.6h5.0M498 586.8h4.7M498 589.8h6.6M498 592.4h5.8M498 595.7h4.7M498 598.5h6.7M498 601.4h4.2M498 604.4h6.3M498 607.1h4.8M498 610.1h6.8M498 613.1h6.9M498 615.9h4.8M498 619.1h7.0M498 622.2h4.4M498 624.9h5.6M498 627.7h6.7M498 631.1h4.2M498 634.0h6.7M498 637.2h6.7M498 640.2h4.0M498 643.1h6.7M498 645.9h4.9M498 649.0h5.2M498 652.0h7.2" stroke="#dccfd3" stroke-width="1" fill="none"/>
<text x="1.0" y="8.8" font-size="12" font-weight="bold" fill="#000" stroke="#000" stroke-width="0.5" textLength="7.9" lengthAdjust="spacingAndGlyphs">C</text>
<text x="-0.1" y="343.0" font-size="11" font-weight="bold" fill="#000" stroke="#000" stroke-width="0.5">D</text>
</svg>

</body></html>
